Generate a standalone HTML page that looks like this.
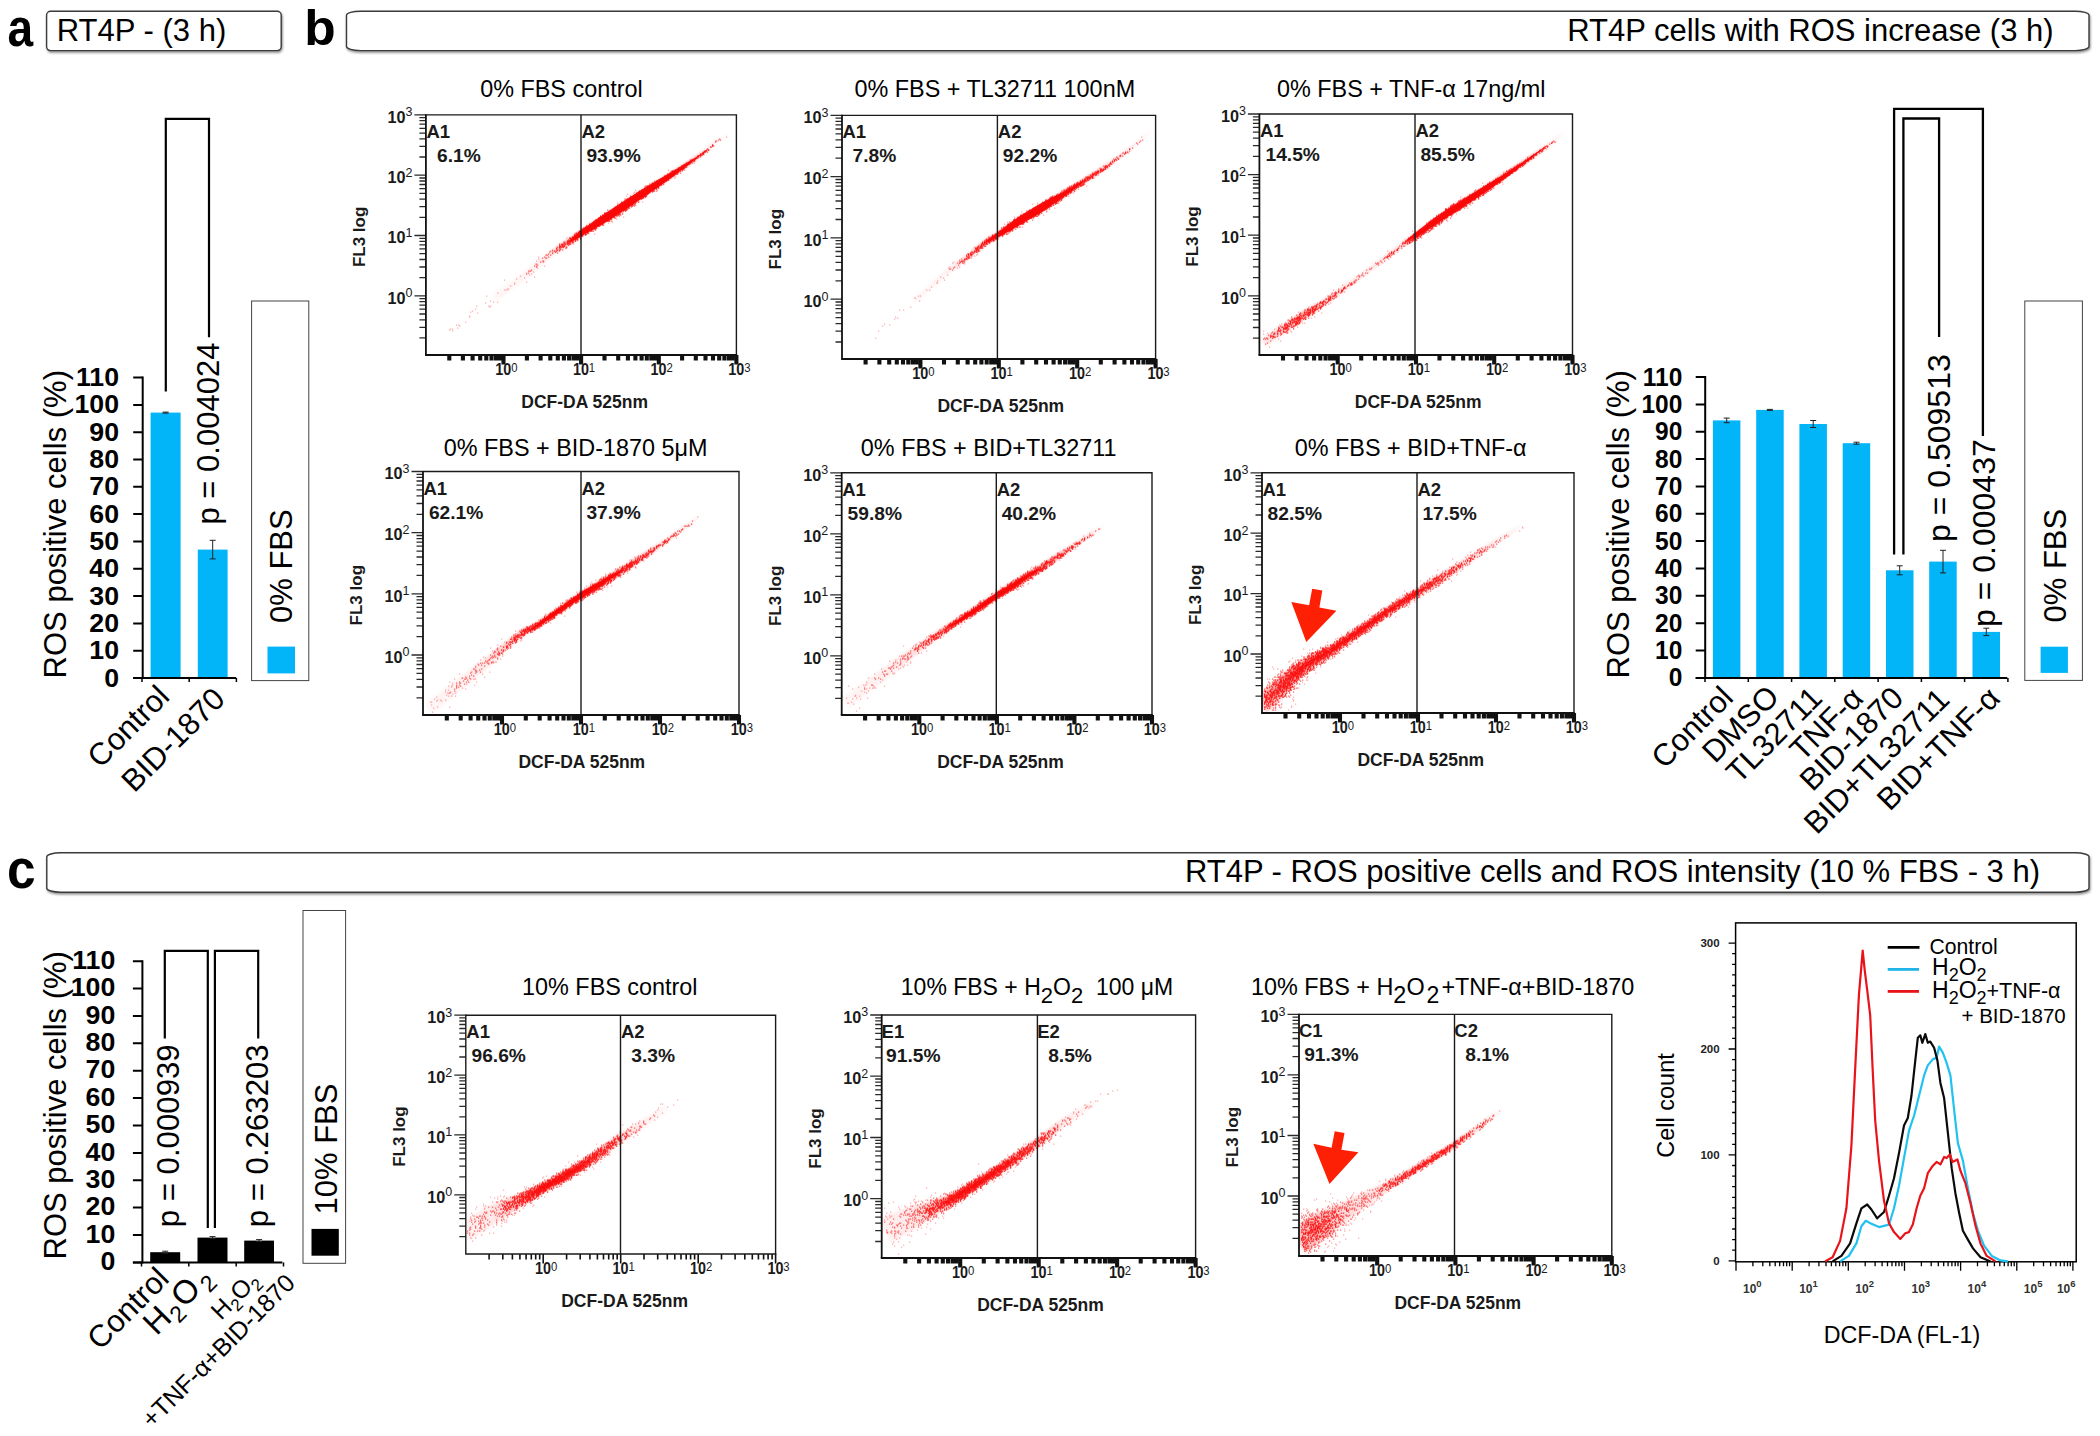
<!DOCTYPE html>
<html lang="en"><head><meta charset="utf-8"><title>RT4P ROS figure</title>
<style>html,body{margin:0;padding:0;background:#fff;overflow:hidden}svg{display:block}text{font-family:"Liberation Sans",sans-serif}</style>
</head><body>
<svg width="2100" height="1436" viewBox="0 0 2100 1436">
<defs><filter id="sh" x="-2%" y="-20%" width="104%" height="150%"><feDropShadow dx="0.8" dy="1.6" stdDeviation="0.9" flood-color="#000" flood-opacity=".45"/></filter><filter id="bl" x="-10%" y="-10%" width="120%" height="120%"><feGaussianBlur stdDeviation="1.5"/></filter></defs>
<rect width="2100" height="1436" fill="#fff"/>
<text transform="translate(7.6 45.7) scale(.94 1.11)" font-size="49" font-weight="bold">a</text>
<text transform="translate(304.3 45) scale(1.05 1.03)" font-size="49" font-weight="bold">b</text>
<text transform="translate(7 887.6) scale(1.05 1.115)" font-size="49" font-weight="bold">c</text>
<rect x="46.6" y="11.2" width="234.6" height="39.400000000000006" rx="4" ry="4" fill="#fff" stroke="#3a3a3a" stroke-width="1.4" filter="url(#sh)"/>
<text x="56.8" y="40.8" font-size="31">RT4P - (3 h)</text>
<rect x="346.5" y="11.2" width="1742.5" height="39.400000000000006" rx="14" ry="4" fill="#fff" stroke="#3a3a3a" stroke-width="1.4" filter="url(#sh)"/>
<text x="2053.6" y="40.6" font-size="31" text-anchor="end">RT4P cells with ROS increase (3 h)</text>
<rect x="46.8" y="852.8" width="2042.2" height="39.40000000000009" rx="14" ry="4" fill="#fff" stroke="#3a3a3a" stroke-width="1.4" filter="url(#sh)"/>
<text x="2040.0" y="882.3" font-size="31" text-anchor="end">RT4P - ROS positive cells and ROS intensity (10 % FBS - 3 h)</text>
<g id="panel-a">
<path d="M142.7 376.6V679.0" stroke="#000" stroke-width="2" fill="none"/>
<path d="M133.2 678.0H142.7M133.2 650.7H142.7M133.2 623.4H142.7M133.2 596.1H142.7M133.2 568.8H142.7M133.2 541.5H142.7M133.2 514.1H142.7M133.2 486.8H142.7M133.2 459.5H142.7M133.2 432.2H142.7M133.2 404.9H142.7M133.2 377.6H142.7" stroke="#000" stroke-width="2" fill="none"/>
<text transform="translate(119.0 686.5) scale(1.09 1.03)" font-size="24.5" font-weight="bold" text-anchor="end">0</text>
<text transform="translate(119.0 659.2) scale(1.09 1.03)" font-size="24.5" font-weight="bold" text-anchor="end">10</text>
<text transform="translate(119.0 631.9) scale(1.09 1.03)" font-size="24.5" font-weight="bold" text-anchor="end">20</text>
<text transform="translate(119.0 604.6) scale(1.09 1.03)" font-size="24.5" font-weight="bold" text-anchor="end">30</text>
<text transform="translate(119.0 577.3) scale(1.09 1.03)" font-size="24.5" font-weight="bold" text-anchor="end">40</text>
<text transform="translate(119.0 550.0) scale(1.09 1.03)" font-size="24.5" font-weight="bold" text-anchor="end">50</text>
<text transform="translate(119.0 522.6) scale(1.09 1.03)" font-size="24.5" font-weight="bold" text-anchor="end">60</text>
<text transform="translate(119.0 495.3) scale(1.09 1.03)" font-size="24.5" font-weight="bold" text-anchor="end">70</text>
<text transform="translate(119.0 468.0) scale(1.09 1.03)" font-size="24.5" font-weight="bold" text-anchor="end">80</text>
<text transform="translate(119.0 440.7) scale(1.09 1.03)" font-size="24.5" font-weight="bold" text-anchor="end">90</text>
<text transform="translate(119.0 413.4) scale(1.09 1.03)" font-size="24.5" font-weight="bold" text-anchor="end">100</text>
<text transform="translate(119.0 386.1) scale(1.09 1.03)" font-size="24.5" font-weight="bold" text-anchor="end">110</text>
<rect x="150.6" y="412.6" width="30.0" height="265.4" fill="#02b4f8"/>
<rect x="197.8" y="549.6" width="29.8" height="128.4" fill="#02b4f8"/>
<path d="M133.2 678.0H236.2" stroke="#000" stroke-width="2" fill="none"/>
<path d="M142.0 678.0v4M189.2 678.0v4M236.4 678.0v4" stroke="#000" stroke-width="1.5" fill="none"/>
<path d="M165.6 412.1V413.1M162.6 412.1h6M162.6 413.1h6M212.7 540.3V558.9M209.7 540.3h6M209.7 558.9h6" stroke="#222" stroke-width="1" fill="none"/>
<text transform="translate(66.0 678.4) rotate(-90)" font-size="31">ROS positive cells (%)</text>
<path d="M165.8 391.5V118.8H209V337.2" stroke="#000" stroke-width="2.2" fill="none"/>
<text transform="translate(219.0 524.5) rotate(-90)" font-size="31">p = 0.004024</text>
<rect x="251.6" y="301" width="57.2" height="379.6" fill="#fff" stroke="#444" stroke-width="1"/>
<rect x="267.5" y="646.6" width="27.5" height="26.8" fill="#02b4f8"/>
<text transform="translate(292.0 623.0) rotate(-90)" font-size="31">0% FBS</text>
<text transform="translate(171.0 698.5) rotate(-45)" font-size="31" text-anchor="end">Control</text>
<text transform="translate(226.8 700.8) rotate(-45)" font-size="31" text-anchor="end">BID-1870</text>
</g>
<g id="panel-b-bars">
<path d="M1705.2 376.0V678.9" stroke="#000" stroke-width="2" fill="none"/>
<path d="M1695.7 677.9H1705.2M1695.7 650.5H1705.2M1695.7 623.2H1705.2M1695.7 595.8H1705.2M1695.7 568.5H1705.2M1695.7 541.1H1705.2M1695.7 513.8H1705.2M1695.7 486.4H1705.2M1695.7 459.1H1705.2M1695.7 431.7H1705.2M1695.7 404.4H1705.2M1695.7 377.0H1705.2" stroke="#000" stroke-width="2" fill="none"/>
<text transform="translate(1682.3 686.4) scale(1.0 1.03)" font-size="24.5" font-weight="bold" text-anchor="end">0</text>
<text transform="translate(1682.3 659.0) scale(1.0 1.03)" font-size="24.5" font-weight="bold" text-anchor="end">10</text>
<text transform="translate(1682.3 631.7) scale(1.0 1.03)" font-size="24.5" font-weight="bold" text-anchor="end">20</text>
<text transform="translate(1682.3 604.3) scale(1.0 1.03)" font-size="24.5" font-weight="bold" text-anchor="end">30</text>
<text transform="translate(1682.3 577.0) scale(1.0 1.03)" font-size="24.5" font-weight="bold" text-anchor="end">40</text>
<text transform="translate(1682.3 549.6) scale(1.0 1.03)" font-size="24.5" font-weight="bold" text-anchor="end">50</text>
<text transform="translate(1682.3 522.3) scale(1.0 1.03)" font-size="24.5" font-weight="bold" text-anchor="end">60</text>
<text transform="translate(1682.3 494.9) scale(1.0 1.03)" font-size="24.5" font-weight="bold" text-anchor="end">70</text>
<text transform="translate(1682.3 467.6) scale(1.0 1.03)" font-size="24.5" font-weight="bold" text-anchor="end">80</text>
<text transform="translate(1682.3 440.2) scale(1.0 1.03)" font-size="24.5" font-weight="bold" text-anchor="end">90</text>
<text transform="translate(1682.3 412.9) scale(1.0 1.03)" font-size="24.5" font-weight="bold" text-anchor="end">100</text>
<text transform="translate(1682.3 385.5) scale(1.0 1.03)" font-size="24.5" font-weight="bold" text-anchor="end">110</text>
<rect x="1712.9" y="420.4" width="27.5" height="257.5" fill="#02b4f8"/>
<rect x="1756.2" y="409.9" width="27.5" height="268.0" fill="#02b4f8"/>
<rect x="1799.4" y="424.0" width="27.5" height="253.9" fill="#02b4f8"/>
<rect x="1842.7" y="443.2" width="27.5" height="234.7" fill="#02b4f8"/>
<rect x="1886.0" y="570.3" width="27.5" height="107.6" fill="#02b4f8"/>
<rect x="1929.2" y="561.6" width="27.5" height="116.3" fill="#02b4f8"/>
<rect x="1972.5" y="631.9" width="27.5" height="46.0" fill="#02b4f8"/>
<path d="M1695.7 677.9H2007.3" stroke="#000" stroke-width="2" fill="none"/>
<path d="M1705.0 677.9v4M1748.3 677.9v4M1791.6 677.9v4M1834.8 677.9v4M1878.1 677.9v4M1921.4 677.9v4M1964.6 677.9v4M2007.9 677.9v4" stroke="#000" stroke-width="1.5" fill="none"/>
<path d="M1726.7 418.1V422.7M1723.7 418.1h6M1723.7 422.7h6M1769.9 409.4V410.4M1766.9 409.4h6M1766.9 410.4h6M1813.2 420.5V427.5M1810.2 420.5h6M1810.2 427.5h6M1856.5 442.2V444.2M1853.5 442.2h6M1853.5 444.2h6M1899.7 565.8V574.8M1896.7 565.8h6M1896.7 574.8h6M1943.0 550.3V572.9M1940.0 550.3h6M1940.0 572.9h6M1986.3 628.2V635.6M1983.3 628.2h6M1983.3 635.6h6" stroke="#222" stroke-width="1" fill="none"/>
<text transform="translate(1629.3 678.5) rotate(-90)" font-size="31">ROS positive cells (%)</text>
<path d="M1894.1 554.5V108.9H1982.9V436" stroke="#000" stroke-width="2.3" fill="none"/>
<path d="M1903.4 554.5V118.5H1939.1V337" stroke="#000" stroke-width="2.3" fill="none"/>
<text transform="translate(1949.5 542.0) rotate(-90)" font-size="32">p = 0.509513</text>
<text transform="translate(1994.6 627.0) rotate(-90)" font-size="32">p = 0.000437</text>
<rect x="2024.8" y="301" width="57.6" height="379.4" fill="#fff" stroke="#444" stroke-width="1"/>
<rect x="2040.6" y="646.7" width="27.3" height="26.2" fill="#02b4f8"/>
<text transform="translate(2066.0 622.5) rotate(-90)" font-size="31">0% FBS</text>
<text transform="translate(1734.8 699.3) rotate(-45)" font-size="31" text-anchor="end">Control</text>
<text transform="translate(1780.7 698.5) rotate(-45)" font-size="31" text-anchor="end">DMSO</text>
<text transform="translate(1824.0 699.9) rotate(-45)" font-size="31" text-anchor="end">TL32711</text>
<text transform="translate(1865.0 700.0) rotate(-45)" font-size="31" text-anchor="end">TNF-α</text>
<text transform="translate(1905.2 699.9) rotate(-45)" font-size="31" text-anchor="end">BID-1870</text>
<text transform="translate(1951.1 701.2) rotate(-45)" font-size="31" text-anchor="end">BID+TL32711</text>
<text transform="translate(2001.8 700.0) rotate(-45)" font-size="31" text-anchor="end">BID+TNF-α</text>
</g>
<g id="panel-c-bars">
<path d="M142.4 960.2V1263.4" stroke="#000" stroke-width="2" fill="none"/>
<path d="M132.9 1262.4H142.4M132.9 1235.0H142.4M132.9 1207.6H142.4M132.9 1180.3H142.4M132.9 1152.9H142.4M132.9 1125.5H142.4M132.9 1098.1H142.4M132.9 1070.7H142.4M132.9 1043.3H142.4M132.9 1016.0H142.4M132.9 988.6H142.4M132.9 961.2H142.4" stroke="#000" stroke-width="2" fill="none"/>
<text transform="translate(115.3 1270.0) scale(1.09 1.03)" font-size="24.5" font-weight="bold" text-anchor="end">0</text>
<text transform="translate(115.3 1242.6) scale(1.09 1.03)" font-size="24.5" font-weight="bold" text-anchor="end">10</text>
<text transform="translate(115.3 1215.2) scale(1.09 1.03)" font-size="24.5" font-weight="bold" text-anchor="end">20</text>
<text transform="translate(115.3 1187.9) scale(1.09 1.03)" font-size="24.5" font-weight="bold" text-anchor="end">30</text>
<text transform="translate(115.3 1160.5) scale(1.09 1.03)" font-size="24.5" font-weight="bold" text-anchor="end">40</text>
<text transform="translate(115.3 1133.1) scale(1.09 1.03)" font-size="24.5" font-weight="bold" text-anchor="end">50</text>
<text transform="translate(115.3 1105.7) scale(1.09 1.03)" font-size="24.5" font-weight="bold" text-anchor="end">60</text>
<text transform="translate(115.3 1078.3) scale(1.09 1.03)" font-size="24.5" font-weight="bold" text-anchor="end">70</text>
<text transform="translate(115.3 1050.9) scale(1.09 1.03)" font-size="24.5" font-weight="bold" text-anchor="end">80</text>
<text transform="translate(115.3 1023.6) scale(1.09 1.03)" font-size="24.5" font-weight="bold" text-anchor="end">90</text>
<text transform="translate(115.3 996.2) scale(1.09 1.03)" font-size="24.5" font-weight="bold" text-anchor="end">100</text>
<text transform="translate(115.3 968.8) scale(1.09 1.03)" font-size="24.5" font-weight="bold" text-anchor="end">110</text>
<rect x="150.2" y="1252.2" width="30.0" height="10.2" fill="#000"/>
<rect x="197.5" y="1237.6" width="30.0" height="24.8" fill="#000"/>
<rect x="244.2" y="1240.6" width="29.8" height="21.8" fill="#000"/>
<path d="M132.9 1262.4H282.4" stroke="#000" stroke-width="2" fill="none"/>
<path d="M141.5 1262.4v4M188.8 1262.4v4M236.2 1262.4v4M283.5 1262.4v4" stroke="#000" stroke-width="1.5" fill="none"/>
<path d="M165.2 1251.2V1253.2M162.2 1251.2h6M162.2 1253.2h6M212.5 1236.6V1238.6M209.5 1236.6h6M209.5 1238.6h6M259.1 1239.6V1241.6M256.1 1239.6h6M256.1 1241.6h6" stroke="#222" stroke-width="1" fill="none"/>
<text transform="translate(66.0 1259.5) rotate(-90)" font-size="31">ROS positive cells (%)</text>
<path d="M164.8 1038.5V950.9H207.8V1228" stroke="#000" stroke-width="2.2" fill="none"/>
<path d="M214.9 1228V950.9H258.2V1038.5" stroke="#000" stroke-width="2.2" fill="none"/>
<text transform="translate(178.6 1227.3) rotate(-90)" font-size="31.2">p = 0.000939</text>
<text transform="translate(268.4 1227.3) rotate(-90)" font-size="31.2">p = 0.263203</text>
<rect x="303" y="910.5" width="42.6" height="352.8" fill="#fff" stroke="#444" stroke-width="1"/>
<rect x="311.5" y="1228.9" width="27.3" height="26.8" fill="#000"/>
<text transform="translate(337.2 1214.5) rotate(-90)" font-size="31">10% FBS</text>
<text transform="translate(170.7 1280.5) rotate(-45)" font-size="31" text-anchor="end">Control</text>
<text transform="translate(213.5 1279.5) rotate(-45)" font-size="33" text-anchor="end">H<tspan font-size="23" dy="7" dx="1">2</tspan><tspan dy="-7" dx="1.5">O</tspan><tspan font-size="23" dy="7" dx="3">2</tspan></text>
<text transform="translate(260.5 1281.6) rotate(-45)" font-size="24.5" text-anchor="end">H<tspan font-size="17" dy="5.5">2</tspan><tspan dy="-5.5">O</tspan><tspan font-size="17" dy="5.5">2</tspan></text>
<text transform="translate(296.6 1284.5) rotate(-45)" font-size="24.8" text-anchor="end">+TNF-α+BID-1870</text>
</g>
<g id="scatter">
<g id="plot1">
<g filter="url(#bl)" clip-path="url(#cp100)">
<clipPath id="cp100"><rect x="426.9" y="115.9" width="308.5" height="238.1"/></clipPath>
<polygon points="497.0,301.2 503.7,296.2 499.0,289.8 492.2,294.7" fill="#fa0808" opacity="0.03"/>
<polygon points="502.1,297.4 508.8,292.4 504.2,286.1 497.4,291.0" fill="#fa0808" opacity="0.03"/>
<polygon points="507.2,293.5 513.9,288.6 509.4,282.4 502.6,287.2" fill="#fa0808" opacity="0.03"/>
<polygon points="512.4,289.7 519.0,284.8 514.5,278.6 507.8,283.5" fill="#fa0808" opacity="0.03"/>
<polygon points="517.5,285.9 524.1,280.9 519.7,274.9 513.0,279.8" fill="#fa0808" opacity="0.03"/>
<polygon points="522.8,281.9 528.2,277.1 523.7,271.7 518.0,276.2" fill="#fa0808" opacity="0.04"/>
<polygon points="527.6,277.6 533.1,272.7 528.9,267.7 523.1,272.2" fill="#fa0808" opacity="0.05"/>
<polygon points="532.5,273.3 537.9,268.4 534.0,263.7 528.2,268.2" fill="#fa0808" opacity="0.06"/>
<polygon points="537.3,268.9 542.7,264.1 539.1,259.7 533.4,264.2" fill="#fa0808" opacity="0.07"/>
<polygon points="542.2,264.6 547.6,259.7 544.2,255.7 538.5,260.2" fill="#fa0808" opacity="0.08"/>
<polygon points="547.0,260.2 552.4,255.4 549.4,251.7 543.6,256.2" fill="#fa0808" opacity="0.10"/>
<polygon points="551.6,256.1 557.1,252.3 554.6,248.5 549.0,252.0" fill="#fa0808" opacity="0.15"/>
<polygon points="556.8,252.6 562.3,248.8 559.9,245.1 554.3,248.7" fill="#fa0808" opacity="0.25"/>
<polygon points="562.0,249.0 567.5,245.3 565.1,241.7 559.5,245.3" fill="#fa0808" opacity="0.36"/>
<polygon points="567.2,245.5 574.9,240.3 572.4,236.7 564.8,242.0" fill="#fa0808" opacity="0.61"/>
<polygon points="574.6,240.5 582.2,235.3 579.8,231.7 572.1,236.9" fill="#fa0808" opacity="0.75"/>
<polygon points="581.8,235.5 587.8,231.9 585.4,228.0 579.5,231.9" fill="#fa0808" opacity="0.75"/>
<polygon points="587.4,232.1 593.4,228.5 590.8,224.4 585.0,228.3" fill="#fa0808" opacity="0.75"/>
<polygon points="592.9,228.8 598.9,225.1 596.2,220.8 590.4,224.7" fill="#fa0808" opacity="0.75"/>
<polygon points="598.5,225.4 604.5,221.8 601.6,217.2 595.8,221.1" fill="#fa0808" opacity="0.75"/>
<polygon points="604.1,222.0 609.7,218.4 606.7,213.8 601.1,217.5" fill="#fa0808" opacity="0.75"/>
<polygon points="609.3,218.7 615.0,215.0 611.9,210.3 606.3,214.1" fill="#fa0808" opacity="0.75"/>
<polygon points="614.6,215.3 620.3,211.7 617.1,206.8 611.5,210.6" fill="#fa0808" opacity="0.75"/>
<polygon points="619.8,211.9 625.5,208.3 622.3,203.4 616.7,207.1" fill="#fa0808" opacity="0.75"/>
<polygon points="625.1,208.6 630.7,204.8 627.5,200.0 621.9,203.7" fill="#fa0808" opacity="0.75"/>
<polygon points="630.3,205.1 635.9,201.4 632.8,196.7 627.1,200.3" fill="#fa0808" opacity="0.75"/>
<polygon points="635.5,201.6 641.1,197.9 638.0,193.3 632.4,196.9" fill="#fa0808" opacity="0.75"/>
<polygon points="640.6,198.2 646.2,194.4 643.3,189.9 637.6,193.6" fill="#fa0808" opacity="0.75"/>
<polygon points="645.8,194.7 651.4,190.9 648.6,186.7 642.9,190.2" fill="#fa0808" opacity="0.75"/>
<polygon points="650.9,191.1 656.5,187.3 653.9,183.4 648.2,186.9" fill="#fa0808" opacity="0.75"/>
<polygon points="656.1,187.6 661.6,183.8 659.2,180.1 653.5,183.7" fill="#fa0808" opacity="0.75"/>
<polygon points="661.2,184.0 666.7,180.2 664.5,176.9 658.8,180.4" fill="#fa0808" opacity="0.75"/>
<polygon points="666.3,180.5 671.9,176.5 669.9,173.6 664.1,177.1" fill="#fa0808" opacity="0.75"/>
<polygon points="671.4,176.8 677.0,172.9 675.2,170.2 669.4,173.8" fill="#fa0808" opacity="0.75"/>
<polygon points="676.6,173.2 682.1,169.2 680.5,166.9 674.8,170.5" fill="#fa0808" opacity="0.75"/>
<polygon points="681.7,169.5 687.2,165.6 685.9,163.6 680.1,167.2" fill="#fa0808" opacity="0.75"/>
<polygon points="686.8,165.9 692.2,161.9 691.0,160.1 685.4,163.9" fill="#fa0808" opacity="0.75"/>
<polygon points="692.0,162.0 697.4,158.0 696.3,156.5 690.8,160.3" fill="#fa0808" opacity="0.66"/>
<polygon points="697.2,158.2 702.7,154.1 701.6,152.6 696.1,156.7" fill="#fa0808" opacity="0.48"/>
<polygon points="702.5,154.3 708.0,150.3 706.9,148.8 701.4,152.8" fill="#fa0808" opacity="0.31"/>
<polygon points="707.9,150.4 713.2,145.4 712.0,144.0 706.6,149.0" fill="#fa0808" opacity="0.19"/>
<polygon points="713.0,145.6 718.4,140.6 717.1,139.3 711.7,144.2" fill="#fa0808" opacity="0.13"/>
<polygon points="718.0,141.0 728.4,135.6 727.7,134.2 717.1,139.3" fill="#fa0808" opacity="0.06"/>
</g>
<path d="M489 307h1.25M634 192h1.25M700 157h1.25M458 325h1.25M726 137h1.25M612 222h1.25M642 202h1.25M674 178h1.25M594 234h1.25M469 316h1.25M668 170h1.25M450 329h1.25M514 283h1.25M526 282h1.25M472 311h1.25M544 266h1.25M608 223h1.25M538 259h1.25M524 278h1.25M545 255h1.25M580 239h1.25M534 277h1.25M657 190h1.25M504 290h1.25M675 177h1.25M459 326h1.25M526 273h1.25M626 196h1.25M490 306h1.25M488 306h1.25M497 293h1.25M486 296h1.25M490 301h1.25M504 280h1.25M559 244h1.25M538 257h1.25M452 331h1.25M485 303h1.25M508 289h1.25M536 261h1.25M633 193h1.25M684 170h1.25M616 219h1.25M529 275h1.25M457 328h1.25M475 309h1.25M520 276h1.25M514 284h1.25M456 325h1.25M531 274h1.25M623 217h1.25M635 190h1.25M452 329h1.25M682 171h1.25M627 194h1.25M465 322h1.25M694 163h1.25M510 286h1.25M506 290h1.25M617 203h1.25M476 306h1.25M493 302h1.25M535 264h1.25M533 272h1.25M516 279h1.25M470 312h1.25M624 199h1.25M469 317h1.25M477 313h1.25M497 293h1.25M573 244h1.25M449 330h1.25M612 222h1.25M507 289h1.25M497 302h1.25M537 268h1.25M566 238h1.25M586 225h1.25M675 177h1.25M575 233h1.25" stroke="#fa0808" stroke-width="1.25" fill="none" opacity="0.33"/>
<path d="M703 154h1.25M542 258h1.25M552 250h1.25M649 184h1.25M711 147h1.25M549 252h1.25M540 262h1.25M644 187h1.25M654 181h1.25M708 150h1.25M702 155h1.25M595 230h1.25M632 206h1.25M707 152h1.25M528 273h1.25M546 255h1.25M615 218h1.25M607 210h1.25M536 266h1.25M592 231h1.25M559 244h1.25M581 229h1.25M715 141h1.25M559 245h1.25M547 255h1.25M545 258h1.25M543 262h1.25M559 251h1.25M620 214h1.25M625 199h1.25M548 257h1.25M652 192h1.25M529 271h1.25M552 251h1.25M614 218h1.25M670 172h1.25M530 271h1.25M566 248h1.25M548 254h1.25M557 253h1.25M543 261h1.25M629 208h1.25M644 187h1.25M574 234h1.25M603 225h1.25M611 221h1.25M671 171h1.25M572 243h1.25M617 216h1.25M550 251h1.25M528 271h1.25M622 214h1.25M626 199h1.25M575 234h1.25M712 145h1.25M550 255h1.25M667 174h1.25M654 191h1.25M536 264h1.25M656 191h1.25M614 218h1.25M546 258h1.25M562 250h1.25M593 231h1.25M620 215h1.25M544 257h1.25M645 186h1.25M680 173h1.25M631 207h1.25M537 265h1.25M646 186h1.25M619 216h1.25M715 142h1.25M564 242h1.25M619 216h1.25M635 205h1.25M718 140h1.25M563 242h1.25M690 160h1.25M622 213h1.25M621 202h1.25M546 255h1.25M548 257h1.25M616 216h1.25M716 141h1.25M634 206h1.25M677 174h1.25M557 247h1.25M565 248h1.25M720 140h1.25M561 244h1.25M534 266h1.25M526 274h1.25M667 174h1.25M713 146h1.25M630 196h1.25M719 139h1.25M692 163h1.25M536 267h1.25M531 270h1.25M580 239h1.25M542 261h1.25" stroke="#fa0808" stroke-width="1.25" fill="none" opacity="0.58"/>
<path d="M590 227h1.25M654 183h1.25M565 244h1.25M585 232h1.25M645 195h1.25M647 190h1.25M614 208h1.25M643 192h1.25M592 223h1.25M652 188h1.25M627 199h1.25M659 180h1.25M642 194h1.25M625 203h1.25M637 197h1.25M603 220h1.25M591 230h1.25M633 199h1.25M666 177h1.25M569 244h1.25M609 214h1.25M629 203h1.25M645 194h1.25M631 201h1.25M578 235h1.25M601 218h1.25M619 209h1.25M634 199h1.25M608 218h1.25M635 196h1.25M627 206h1.25M611 212h1.25M567 244h1.25M575 238h1.25M647 191h1.25M663 179h1.25M653 190h1.25M575 238h1.25M609 220h1.25M624 207h1.25M600 221h1.25M583 233h1.25M645 189h1.25M595 224h1.25M597 223h1.25M643 191h1.25M585 231h1.25M600 221h1.25M648 190h1.25M605 215h1.25M604 222h1.25M621 204h1.25M638 202h1.25M609 215h1.25M628 201h1.25M581 231h1.25M600 218h1.25M635 202h1.25M659 181h1.25M605 221h1.25M625 204h1.25M691 161h1.25M636 196h1.25M612 217h1.25M641 195h1.25M685 164h1.25M649 186h1.25M675 173h1.25M604 221h1.25M665 181h1.25M650 190h1.25M612 216h1.25M573 242h1.25M628 205h1.25M594 228h1.25M653 189h1.25M632 201h1.25M641 195h1.25M657 186h1.25M671 175h1.25M613 213h1.25M589 230h1.25M629 202h1.25M632 204h1.25M632 197h1.25M615 213h1.25M582 233h1.25M615 210h1.25M615 213h1.25M646 191h1.25M662 181h1.25M582 233h1.25M635 199h1.25M704 151h1.25M585 229h1.25M590 229h1.25M600 221h1.25M564 246h1.25M641 199h1.25M632 204h1.25M658 180h1.25M656 185h1.25M638 196h1.25M661 181h1.25M644 190h1.25M620 206h1.25M618 210h1.25M580 234h1.25M611 213h1.25M626 207h1.25M608 219h1.25M670 174h1.25M574 237h1.25M598 220h1.25M660 184h1.25M681 166h1.25M578 234h1.25M581 232h1.25M592 225h1.25M700 156h1.25M617 212h1.25M582 233h1.25M680 169h1.25M628 204h1.25M589 230h1.25M672 174h1.25M612 216h1.25M648 193h1.25M617 209h1.25M620 211h1.25M615 208h1.25M642 194h1.25M636 200h1.25M624 201h1.25M599 223h1.25M678 168h1.25M594 227h1.25M628 207h1.25M647 187h1.25M597 222h1.25M589 226h1.25M682 166h1.25M695 159h1.25M629 205h1.25M679 169h1.25M586 226h1.25M603 223h1.25M685 167h1.25M595 224h1.25M615 209h1.25M583 231h1.25M586 228h1.25M602 219h1.25M589 229h1.25M575 239h1.25M618 209h1.25M593 222h1.25M586 229h1.25M697 158h1.25M600 222h1.25M626 208h1.25M597 223h1.25M655 186h1.25M660 181h1.25M672 176h1.25M664 180h1.25M679 169h1.25M610 215h1.25M660 184h1.25M650 190h1.25M623 209h1.25M560 247h1.25M682 168h1.25M609 215h1.25M682 168h1.25M562 245h1.25M615 215h1.25M627 204h1.25M642 194h1.25M608 220h1.25M606 218h1.25M562 244h1.25M647 194h1.25M661 183h1.25M571 241h1.25M592 225h1.25M636 200h1.25M648 188h1.25M643 191h1.25M607 220h1.25M653 186h1.25M613 209h1.25M588 231h1.25M698 156h1.25M638 194h1.25M624 201h1.25M624 210h1.25M574 235h1.25M577 239h1.25M657 186h1.25M682 169h1.25M589 229h1.25M615 213h1.25M618 209h1.25M585 231h1.25M573 237h1.25M605 218h1.25M639 196h1.25M609 214h1.25M658 182h1.25M603 219h1.25M622 208h1.25M656 188h1.25M700 155h1.25M618 207h1.25M675 174h1.25M607 218h1.25M632 201h1.25M590 228h1.25M652 187h1.25M606 220h1.25M591 229h1.25M581 234h1.25M671 174h1.25M706 151h1.25M621 207h1.25M656 187h1.25M608 219h1.25M619 210h1.25M650 187h1.25M579 236h1.25M621 209h1.25M646 193h1.25M615 213h1.25M556 251h1.25M635 198h1.25M685 167h1.25M638 197h1.25M624 205h1.25M642 191h1.25M668 179h1.25M596 226h1.25M649 190h1.25M615 213h1.25M671 175h1.25M642 190h1.25M674 174h1.25M650 188h1.25M620 206h1.25M632 198h1.25M635 198h1.25M591 231h1.25M636 193h1.25M639 192h1.25M576 238h1.25M602 218h1.25M655 187h1.25M631 201h1.25M606 216h1.25M641 196h1.25M641 197h1.25M615 209h1.25M710 147h1.25M670 176h1.25M673 174h1.25M605 214h1.25M661 180h1.25M576 237h1.25M626 209h1.25M688 163h1.25M659 183h1.25M625 205h1.25M677 171h1.25M620 206h1.25M567 241h1.25M662 181h1.25M655 187h1.25M636 196h1.25M621 210h1.25M601 220h1.25M635 198h1.25M641 195h1.25M623 205h1.25M636 201h1.25M638 195h1.25M656 185h1.25M586 232h1.25M658 186h1.25M611 213h1.25M658 185h1.25M679 170h1.25M580 234h1.25M673 175h1.25M629 203h1.25M615 212h1.25M669 176h1.25M555 252h1.25M625 204h1.25M559 246h1.25M685 167h1.25M643 193h1.25M634 202h1.25M610 219h1.25M598 219h1.25M583 233h1.25M595 226h1.25M598 218h1.25M583 230h1.25M642 193h1.25M670 175h1.25M653 191h1.25M626 201h1.25M661 185h1.25M584 229h1.25M643 193h1.25M623 210h1.25M664 182h1.25M630 203h1.25M584 233h1.25M629 200h1.25M712 146h1.25M604 219h1.25M635 201h1.25M639 198h1.25M664 179h1.25M632 203h1.25M642 194h1.25M653 186h1.25M630 199h1.25M608 216h1.25M632 205h1.25M605 219h1.25M604 214h1.25M638 194h1.25M638 198h1.25M671 175h1.25M665 181h1.25M629 205h1.25M598 221h1.25M620 207h1.25M592 229h1.25M631 201h1.25M644 190h1.25M595 226h1.25M672 173h1.25M624 210h1.25M638 192h1.25M682 168h1.25M680 169h1.25M657 185h1.25M683 165h1.25M624 203h1.25M617 212h1.25M605 217h1.25M629 200h1.25M681 168h1.25M588 228h1.25M625 207h1.25M583 232h1.25M591 227h1.25M668 177h1.25M622 209h1.25M582 232h1.25M641 193h1.25M611 215h1.25M645 196h1.25M693 161h1.25M637 197h1.25M631 200h1.25M625 203h1.25M585 234h1.25M584 230h1.25M605 221h1.25M603 221h1.25M629 202h1.25M618 211h1.25M590 225h1.25M581 232h1.25M639 197h1.25M618 211h1.25M606 213h1.25M685 166h1.25M599 220h1.25M603 219h1.25M697 156h1.25M578 237h1.25M620 208h1.25M600 216h1.25M671 174h1.25M614 215h1.25M637 200h1.25M680 169h1.25M598 224h1.25M605 217h1.25M645 193h1.25M652 190h1.25M638 197h1.25M593 226h1.25M597 220h1.25M590 228h1.25M655 188h1.25M585 232h1.25M619 212h1.25M644 194h1.25M630 203h1.25M653 186h1.25M564 243h1.25M671 177h1.25M657 185h1.25M608 215h1.25M604 220h1.25M632 201h1.25M587 230h1.25M632 202h1.25M671 175h1.25M620 212h1.25M634 199h1.25M658 187h1.25M651 190h1.25M658 186h1.25M636 197h1.25M633 201h1.25M621 211h1.25M634 201h1.25M638 195h1.25M615 213h1.25M646 191h1.25M604 220h1.25M612 215h1.25M586 229h1.25M635 199h1.25M642 192h1.25M579 234h1.25M685 166h1.25M650 188h1.25M641 193h1.25M600 222h1.25M561 247h1.25M601 219h1.25M649 190h1.25M637 197h1.25M703 153h1.25M595 227h1.25M644 192h1.25M650 190h1.25M604 216h1.25M658 184h1.25M595 224h1.25M624 204h1.25M688 164h1.25M673 176h1.25M661 184h1.25M656 182h1.25M664 178h1.25M599 223h1.25M630 197h1.25M644 193h1.25M672 175h1.25M582 230h1.25M622 208h1.25M582 231h1.25M644 190h1.25M634 204h1.25M642 194h1.25M641 196h1.25M573 237h1.25M587 227h1.25M576 233h1.25M588 231h1.25M645 192h1.25M674 175h1.25M651 190h1.25M639 195h1.25M602 215h1.25M662 179h1.25M638 198h1.25M689 164h1.25M639 194h1.25M689 163h1.25M648 190h1.25M614 216h1.25M611 216h1.25M600 217h1.25M627 209h1.25M601 222h1.25M617 212h1.25M586 232h1.25M636 195h1.25M579 235h1.25M601 219h1.25M577 234h1.25M629 203h1.25M688 163h1.25M614 212h1.25M666 177h1.25M583 233h1.25M642 194h1.25M630 200h1.25M616 211h1.25M614 216h1.25M612 212h1.25M623 208h1.25M572 241h1.25M594 221h1.25M601 223h1.25M593 224h1.25M571 241h1.25M621 207h1.25M634 200h1.25M600 222h1.25M674 174h1.25M618 215h1.25M604 213h1.25M625 211h1.25M599 222h1.25M646 189h1.25M643 191h1.25M649 189h1.25M577 235h1.25M620 207h1.25M570 241h1.25M575 240h1.25M634 200h1.25M672 172h1.25M641 191h1.25M622 206h1.25M584 230h1.25M620 207h1.25M621 208h1.25M669 175h1.25M665 180h1.25M627 203h1.25M582 231h1.25M610 218h1.25M608 216h1.25M626 201h1.25M608 212h1.25M629 203h1.25M610 212h1.25M607 218h1.25M643 193h1.25M560 249h1.25M604 217h1.25M653 184h1.25M623 205h1.25M623 207h1.25M611 218h1.25M621 203h1.25M588 228h1.25M630 203h1.25M679 168h1.25M618 211h1.25M615 213h1.25M701 155h1.25M669 176h1.25M604 217h1.25M657 183h1.25M560 246h1.25M621 204h1.25M606 218h1.25M641 197h1.25M620 204h1.25M594 229h1.25M667 177h1.25M673 175h1.25M646 193h1.25M607 217h1.25M672 171h1.25M601 219h1.25M574 238h1.25M660 183h1.25M657 187h1.25M585 230h1.25M653 188h1.25M645 194h1.25M650 189h1.25M603 216h1.25M598 221h1.25M609 217h1.25M643 192h1.25M656 189h1.25M576 236h1.25M601 223h1.25M621 210h1.25M646 189h1.25M568 240h1.25M618 210h1.25M573 238h1.25M606 214h1.25M640 196h1.25M655 184h1.25M583 232h1.25M636 198h1.25M637 197h1.25M635 198h1.25M683 168h1.25M626 208h1.25M646 196h1.25M667 177h1.25M607 219h1.25M570 239h1.25M674 173h1.25M613 209h1.25M614 216h1.25M656 185h1.25M631 204h1.25M625 203h1.25M584 232h1.25M575 236h1.25M563 244h1.25M573 240h1.25M619 206h1.25M592 225h1.25M587 232h1.25M639 191h1.25M669 174h1.25M628 199h1.25M675 173h1.25M579 237h1.25M629 202h1.25M603 222h1.25M582 235h1.25M600 221h1.25M619 208h1.25M628 208h1.25M574 239h1.25M592 225h1.25M573 239h1.25M649 188h1.25M582 235h1.25M683 166h1.25M615 209h1.25M603 219h1.25M611 217h1.25M619 209h1.25M582 233h1.25M683 165h1.25M600 222h1.25M654 188h1.25M656 188h1.25M581 231h1.25M643 198h1.25M616 212h1.25M607 213h1.25M673 171h1.25M599 226h1.25M603 222h1.25M580 235h1.25M583 232h1.25M606 218h1.25M582 234h1.25M655 183h1.25M626 207h1.25M637 194h1.25M645 192h1.25M627 199h1.25M592 224h1.25M674 173h1.25M585 228h1.25M656 186h1.25M621 211h1.25M593 227h1.25M592 229h1.25M627 203h1.25M610 217h1.25M612 213h1.25M602 215h1.25M579 232h1.25M665 176h1.25M668 175h1.25M645 194h1.25M625 209h1.25M570 238h1.25M606 218h1.25M678 170h1.25M670 175h1.25M631 203h1.25M590 231h1.25M600 223h1.25M655 186h1.25M616 210h1.25M660 180h1.25M643 194h1.25M609 217h1.25M594 225h1.25M661 181h1.25M682 168h1.25M634 200h1.25M661 182h1.25M655 184h1.25M656 185h1.25M617 213h1.25M634 196h1.25M660 180h1.25M683 168h1.25M621 207h1.25M640 193h1.25M630 197h1.25M625 209h1.25M570 240h1.25M583 231h1.25M649 187h1.25M581 233h1.25M618 211h1.25M581 231h1.25M597 222h1.25M652 187h1.25M581 231h1.25M671 174h1.25M645 194h1.25M667 175h1.25M653 186h1.25M590 225h1.25M619 205h1.25M602 219h1.25M631 199h1.25M646 194h1.25M626 206h1.25M600 223h1.25M603 223h1.25M647 189h1.25M666 180h1.25M615 214h1.25M677 173h1.25M601 223h1.25M644 194h1.25M585 231h1.25M606 217h1.25M629 203h1.25M610 216h1.25M639 193h1.25M628 202h1.25M613 212h1.25M691 160h1.25M627 201h1.25M582 231h1.25M633 196h1.25M639 195h1.25M670 176h1.25M705 152h1.25M637 196h1.25M643 193h1.25M608 217h1.25M600 217h1.25M635 200h1.25M624 205h1.25M571 239h1.25M604 219h1.25M596 220h1.25M631 204h1.25M654 189h1.25M644 195h1.25M606 215h1.25M617 209h1.25M616 209h1.25M652 183h1.25M621 207h1.25M648 189h1.25M617 207h1.25M577 237h1.25M617 213h1.25M619 213h1.25M645 192h1.25M598 223h1.25M617 211h1.25M636 200h1.25M678 172h1.25M648 186h1.25M556 248h1.25M576 237h1.25M619 207h1.25M594 226h1.25M654 185h1.25M632 200h1.25M651 187h1.25M649 187h1.25M587 228h1.25M633 201h1.25M625 205h1.25M666 177h1.25M617 212h1.25M648 189h1.25M622 206h1.25M621 209h1.25M638 199h1.25M659 185h1.25M580 234h1.25M648 188h1.25M661 180h1.25M572 238h1.25M641 192h1.25M651 184h1.25M650 189h1.25M611 212h1.25M607 217h1.25M676 174h1.25M633 198h1.25M629 203h1.25M654 184h1.25M572 238h1.25M665 179h1.25M618 211h1.25M605 219h1.25M594 225h1.25M630 200h1.25M580 233h1.25M627 206h1.25M625 206h1.25M587 230h1.25M573 238h1.25M593 222h1.25M621 208h1.25M576 237h1.25M604 221h1.25M706 150h1.25M649 189h1.25M575 238h1.25M620 209h1.25M654 186h1.25M677 170h1.25M611 219h1.25M559 248h1.25M627 206h1.25M609 215h1.25M564 245h1.25M633 199h1.25M694 161h1.25M581 232h1.25M679 170h1.25M672 174h1.25M602 222h1.25M635 198h1.25M648 190h1.25M689 162h1.25M686 163h1.25M568 240h1.25M664 180h1.25M588 230h1.25M660 179h1.25M637 199h1.25M662 181h1.25M635 202h1.25M677 172h1.25M651 188h1.25M636 195h1.25M629 198h1.25M602 219h1.25M662 182h1.25M663 181h1.25M580 236h1.25M615 210h1.25M575 239h1.25M612 215h1.25M584 230h1.25M625 203h1.25M627 203h1.25M641 190h1.25M667 175h1.25M569 243h1.25M627 204h1.25M629 206h1.25M648 188h1.25M644 193h1.25M586 229h1.25M593 225h1.25M641 191h1.25M582 229h1.25M628 202h1.25M661 179h1.25M614 210h1.25M583 232h1.25M635 201h1.25M645 194h1.25M567 242h1.25M598 224h1.25M625 208h1.25M658 184h1.25M673 171h1.25M577 237h1.25M582 233h1.25M580 233h1.25M599 222h1.25M618 207h1.25M617 215h1.25M689 162h1.25M608 218h1.25M598 220h1.25M606 215h1.25M679 168h1.25M681 169h1.25M594 228h1.25M632 200h1.25M594 228h1.25M584 231h1.25M640 198h1.25M610 213h1.25M626 206h1.25M663 178h1.25M668 177h1.25M625 204h1.25M652 185h1.25M650 189h1.25M660 185h1.25M633 200h1.25M601 223h1.25M666 178h1.25M618 214h1.25M607 218h1.25M576 239h1.25M617 207h1.25M639 194h1.25M602 225h1.25M650 186h1.25M616 211h1.25M702 153h1.25M645 191h1.25M654 186h1.25M700 155h1.25M614 216h1.25M592 224h1.25M582 236h1.25M580 236h1.25M613 217h1.25M591 227h1.25M658 184h1.25M672 174h1.25M604 220h1.25M581 233h1.25M595 223h1.25M619 213h1.25M663 179h1.25M596 228h1.25M627 207h1.25M668 177h1.25M643 193h1.25M589 229h1.25M593 224h1.25M580 238h1.25M570 241h1.25M603 217h1.25M634 195h1.25M583 234h1.25M592 229h1.25M597 221h1.25M652 189h1.25M577 238h1.25M600 220h1.25M626 202h1.25M641 196h1.25M637 198h1.25M645 190h1.25M592 224h1.25M621 204h1.25M673 172h1.25M586 229h1.25M652 187h1.25M573 237h1.25M627 203h1.25M675 174h1.25M651 185h1.25M626 202h1.25M582 233h1.25M566 247h1.25M634 199h1.25M614 213h1.25M615 210h1.25M603 218h1.25M657 184h1.25M681 169h1.25M601 219h1.25M593 227h1.25M647 190h1.25M648 193h1.25M622 207h1.25M625 210h1.25M610 213h1.25M641 194h1.25M642 195h1.25M649 191h1.25M658 186h1.25M605 221h1.25M562 246h1.25M632 201h1.25M673 176h1.25M674 172h1.25M587 228h1.25M655 184h1.25M638 193h1.25M592 229h1.25M686 167h1.25M669 176h1.25M559 247h1.25M595 224h1.25M608 216h1.25M595 226h1.25M583 233h1.25M622 207h1.25M691 162h1.25M676 172h1.25M588 230h1.25M627 207h1.25M601 218h1.25M624 205h1.25M646 190h1.25M692 160h1.25M559 248h1.25M573 237h1.25M634 201h1.25M575 237h1.25M607 218h1.25M589 229h1.25M556 249h1.25M643 198h1.25M679 170h1.25M684 165h1.25M652 187h1.25M634 202h1.25M624 204h1.25M601 222h1.25M635 200h1.25M636 197h1.25M633 200h1.25M673 173h1.25M612 214h1.25M634 199h1.25M662 182h1.25M630 203h1.25M627 206h1.25M642 191h1.25M618 208h1.25M582 236h1.25M593 224h1.25M606 216h1.25M703 154h1.25M580 236h1.25M661 182h1.25M667 180h1.25M628 200h1.25M647 191h1.25M601 218h1.25M621 206h1.25M612 215h1.25M673 173h1.25M580 231h1.25M661 183h1.25M597 220h1.25M621 209h1.25M624 202h1.25M643 194h1.25M609 215h1.25M633 196h1.25M629 199h1.25M662 178h1.25M608 218h1.25M604 219h1.25M589 228h1.25M619 207h1.25M619 206h1.25M693 161h1.25M585 230h1.25M575 240h1.25M623 211h1.25M587 233h1.25M581 235h1.25M586 232h1.25M576 236h1.25M683 166h1.25M698 157h1.25M651 188h1.25M686 163h1.25M666 177h1.25M576 233h1.25M653 187h1.25M601 220h1.25M609 221h1.25M667 179h1.25M568 243h1.25M641 196h1.25M601 219h1.25M669 174h1.25M570 242h1.25M627 202h1.25M627 207h1.25M640 192h1.25M577 236h1.25M603 218h1.25M584 232h1.25M619 212h1.25M610 217h1.25M598 225h1.25M591 225h1.25M655 187h1.25M613 209h1.25M590 229h1.25M606 221h1.25M604 222h1.25M615 211h1.25M670 176h1.25M636 196h1.25M615 210h1.25M611 216h1.25M597 226h1.25M632 205h1.25M685 165h1.25M626 206h1.25M689 162h1.25M648 189h1.25M599 221h1.25M683 169h1.25M650 188h1.25M639 196h1.25M625 205h1.25M643 194h1.25M672 172h1.25M613 210h1.25M629 203h1.25M626 203h1.25M677 172h1.25M647 192h1.25M643 194h1.25M657 184h1.25M696 158h1.25M632 199h1.25M684 165h1.25M668 180h1.25M672 175h1.25M625 203h1.25M626 202h1.25M604 220h1.25M629 204h1.25M579 237h1.25M587 233h1.25M577 240h1.25M624 203h1.25M653 187h1.25M594 226h1.25M650 191h1.25M609 216h1.25M588 230h1.25M614 215h1.25M655 187h1.25M668 175h1.25M660 180h1.25M586 230h1.25M643 197h1.25M577 237h1.25M552 253h1.25M590 227h1.25M598 224h1.25M644 190h1.25M595 223h1.25M638 197h1.25M635 195h1.25M588 230h1.25M605 221h1.25M634 199h1.25M687 165h1.25M664 180h1.25M581 236h1.25M677 170h1.25M647 188h1.25M619 210h1.25M641 196h1.25M593 222h1.25M596 221h1.25M625 204h1.25M606 216h1.25M674 173h1.25M583 233h1.25M577 236h1.25M587 227h1.25M630 197h1.25M630 204h1.25M594 227h1.25M644 193h1.25M670 175h1.25M623 205h1.25M653 189h1.25M587 232h1.25M611 216h1.25M639 194h1.25M604 217h1.25M646 193h1.25M643 195h1.25M607 218h1.25M570 242h1.25M666 177h1.25M667 177h1.25M622 208h1.25M627 206h1.25M597 225h1.25M668 180h1.25M568 245h1.25M582 236h1.25M624 204h1.25M698 156h1.25M638 195h1.25M672 174h1.25M648 193h1.25M676 171h1.25M666 181h1.25M665 180h1.25M669 178h1.25M582 234h1.25M659 184h1.25M605 220h1.25M622 207h1.25M572 237h1.25M576 238h1.25M636 196h1.25M599 225h1.25M657 181h1.25M631 202h1.25M591 225h1.25M631 206h1.25M603 223h1.25M657 187h1.25M624 210h1.25M613 214h1.25M667 180h1.25M642 195h1.25M630 202h1.25M634 195h1.25M630 205h1.25M638 199h1.25M583 232h1.25M631 202h1.25M562 245h1.25M604 216h1.25M627 207h1.25M647 190h1.25M688 164h1.25M654 186h1.25M583 230h1.25M572 237h1.25M600 225h1.25M612 215h1.25M628 202h1.25M609 211h1.25M618 211h1.25M612 216h1.25M651 188h1.25M573 237h1.25M620 209h1.25M603 223h1.25M616 213h1.25M629 198h1.25M640 193h1.25M615 211h1.25M626 205h1.25M619 206h1.25M600 221h1.25M641 192h1.25M661 179h1.25M572 239h1.25M570 240h1.25M702 154h1.25M643 193h1.25M628 203h1.25M573 242h1.25M703 152h1.25M685 165h1.25M683 165h1.25M680 170h1.25M616 208h1.25M624 203h1.25M617 212h1.25M650 190h1.25M616 211h1.25M628 201h1.25M668 175h1.25M595 223h1.25M655 188h1.25M582 233h1.25M590 228h1.25M683 168h1.25M577 237h1.25M625 208h1.25M633 200h1.25M645 190h1.25M642 196h1.25M645 189h1.25M632 201h1.25M605 217h1.25M642 195h1.25M570 244h1.25M623 209h1.25M562 247h1.25M601 219h1.25M635 202h1.25M620 207h1.25M588 233h1.25M627 206h1.25M584 231h1.25M572 242h1.25M592 226h1.25M694 160h1.25M671 175h1.25M573 238h1.25M595 224h1.25M603 221h1.25M630 202h1.25M613 215h1.25M617 209h1.25M574 236h1.25M574 236h1.25M616 212h1.25M617 210h1.25M613 214h1.25M581 232h1.25M701 155h1.25M653 190h1.25M659 183h1.25M596 224h1.25M686 167h1.25M643 191h1.25M600 220h1.25M563 246h1.25M605 216h1.25M624 206h1.25M602 221h1.25M578 232h1.25M659 184h1.25M627 206h1.25M633 205h1.25M607 216h1.25M670 178h1.25M633 201h1.25M629 203h1.25M652 191h1.25M626 210h1.25M606 218h1.25M639 195h1.25M577 236h1.25M560 247h1.25M669 177h1.25M623 206h1.25M660 182h1.25M614 212h1.25M656 182h1.25M648 190h1.25M576 238h1.25M628 201h1.25M650 190h1.25M635 198h1.25M608 214h1.25M638 197h1.25M657 183h1.25M627 206h1.25M647 188h1.25M675 173h1.25M685 166h1.25M686 165h1.25M665 180h1.25M665 180h1.25M662 178h1.25M578 232h1.25M634 201h1.25M655 186h1.25M672 175h1.25M663 179h1.25M627 204h1.25M620 208h1.25M608 215h1.25M642 192h1.25M636 200h1.25M645 193h1.25M575 239h1.25M595 224h1.25M572 240h1.25M665 178h1.25M593 225h1.25M569 238h1.25M669 178h1.25M660 182h1.25M614 214h1.25M690 163h1.25M677 172h1.25M612 215h1.25M676 174h1.25M593 225h1.25M644 196h1.25M579 236h1.25M661 181h1.25M606 219h1.25M591 227h1.25M599 218h1.25M672 176h1.25M596 223h1.25M677 170h1.25M606 220h1.25M627 204h1.25M655 185h1.25M635 198h1.25M617 208h1.25M588 229h1.25M693 161h1.25M646 189h1.25M662 183h1.25M702 154h1.25M610 217h1.25M712 145h1.25M589 225h1.25M629 201h1.25M678 170h1.25M646 187h1.25M618 208h1.25M671 175h1.25M656 184h1.25M621 206h1.25M656 187h1.25M628 203h1.25M615 212h1.25M622 203h1.25M683 167h1.25M706 151h1.25M585 227h1.25M594 228h1.25M607 214h1.25M643 190h1.25M601 218h1.25M656 188h1.25M610 214h1.25M631 199h1.25M638 196h1.25M559 250h1.25M635 202h1.25M618 207h1.25M614 210h1.25M702 153h1.25M665 178h1.25M657 185h1.25M607 221h1.25M625 204h1.25M676 174h1.25M577 238h1.25M667 178h1.25M639 192h1.25M652 189h1.25M621 206h1.25M653 187h1.25M665 179h1.25M656 188h1.25M614 211h1.25M624 202h1.25M607 215h1.25M612 216h1.25M601 220h1.25M646 189h1.25M589 224h1.25M692 160h1.25M575 238h1.25M637 195h1.25M669 175h1.25M570 242h1.25M638 197h1.25M629 202h1.25M611 211h1.25M678 171h1.25M626 202h1.25M608 221h1.25M664 179h1.25M630 202h1.25M587 230h1.25M625 207h1.25M570 242h1.25M604 217h1.25M672 174h1.25M652 189h1.25M586 231h1.25M656 182h1.25M577 234h1.25M646 193h1.25M648 188h1.25M671 174h1.25M618 209h1.25M645 195h1.25M587 229h1.25M625 203h1.25M635 199h1.25M642 191h1.25M614 214h1.25M604 218h1.25M618 210h1.25M626 206h1.25M622 204h1.25M634 200h1.25M665 177h1.25M625 205h1.25M643 193h1.25M599 222h1.25M644 195h1.25M600 217h1.25M648 191h1.25M610 215h1.25M627 203h1.25M639 197h1.25M634 198h1.25M623 208h1.25M647 186h1.25M632 201h1.25M649 190h1.25M680 169h1.25M624 208h1.25M594 223h1.25M698 157h1.25M661 180h1.25M606 217h1.25M644 192h1.25M579 236h1.25M663 184h1.25M682 168h1.25M656 186h1.25M654 187h1.25M690 161h1.25M606 221h1.25M584 231h1.25M640 194h1.25M668 178h1.25M625 203h1.25M600 219h1.25M635 200h1.25M617 210h1.25M672 174h1.25M563 247h1.25M598 219h1.25M612 210h1.25M660 183h1.25M661 182h1.25M600 220h1.25M645 191h1.25M595 228h1.25M579 237h1.25M662 181h1.25M556 251h1.25M676 171h1.25M608 215h1.25M640 194h1.25M627 199h1.25M672 173h1.25M620 204h1.25M641 193h1.25M639 195h1.25M632 205h1.25M670 177h1.25M608 215h1.25M575 241h1.25M704 152h1.25M587 233h1.25M629 204h1.25M590 226h1.25M623 208h1.25M626 207h1.25M595 226h1.25M595 222h1.25M680 170h1.25M584 231h1.25M595 227h1.25M674 174h1.25M635 195h1.25M597 225h1.25M656 181h1.25M628 200h1.25M673 176h1.25M682 168h1.25M617 210h1.25M610 219h1.25M580 236h1.25M592 229h1.25M581 235h1.25M554 251h1.25M670 175h1.25M594 227h1.25M614 210h1.25M639 194h1.25M637 200h1.25M648 192h1.25M626 205h1.25M637 199h1.25M666 181h1.25M632 199h1.25M595 225h1.25M591 224h1.25M637 194h1.25M665 180h1.25M576 235h1.25M670 177h1.25M605 217h1.25M629 206h1.25M600 220h1.25M606 218h1.25M680 171h1.25M581 231h1.25M603 217h1.25M638 199h1.25M705 151h1.25M645 194h1.25M638 195h1.25M624 204h1.25M576 239h1.25M588 231h1.25M675 170h1.25M606 215h1.25M593 229h1.25M652 188h1.25M584 233h1.25M623 208h1.25M685 165h1.25M667 179h1.25M650 191h1.25M600 225h1.25M606 219h1.25M600 224h1.25M595 223h1.25M643 192h1.25M576 238h1.25M660 182h1.25M624 207h1.25M695 159h1.25M628 201h1.25M638 198h1.25M643 195h1.25M612 213h1.25M626 208h1.25M678 171h1.25M621 207h1.25M635 203h1.25M666 180h1.25M621 209h1.25M663 182h1.25M601 218h1.25M624 202h1.25M625 207h1.25M589 226h1.25M641 194h1.25M595 220h1.25M586 229h1.25M645 196h1.25M656 186h1.25M673 175h1.25M616 210h1.25M624 207h1.25M585 234h1.25M622 205h1.25M596 223h1.25M678 170h1.25M619 208h1.25M643 196h1.25M627 200h1.25M606 220h1.25M609 217h1.25M633 196h1.25M606 220h1.25M602 222h1.25M665 181h1.25M589 226h1.25M581 235h1.25M682 168h1.25M576 235h1.25M629 198h1.25M606 216h1.25M584 231h1.25M664 179h1.25M610 215h1.25M607 215h1.25M673 175h1.25M575 236h1.25M671 173h1.25M617 211h1.25M619 211h1.25M635 199h1.25M664 182h1.25M563 246h1.25M652 185h1.25M588 227h1.25M642 198h1.25M602 219h1.25M595 226h1.25M575 239h1.25M707 149h1.25M618 210h1.25M591 228h1.25M663 180h1.25M633 199h1.25M670 176h1.25M587 230h1.25M664 180h1.25M612 210h1.25M607 217h1.25M666 179h1.25M708 150h1.25M661 181h1.25M656 181h1.25M682 170h1.25M581 232h1.25M568 240h1.25M606 218h1.25M626 200h1.25M646 191h1.25M645 193h1.25M619 211h1.25M599 220h1.25M674 174h1.25M582 231h1.25M663 181h1.25M584 233h1.25M620 204h1.25M567 243h1.25M596 224h1.25M642 196h1.25M593 223h1.25M681 169h1.25M635 201h1.25M629 201h1.25M606 219h1.25M601 224h1.25M617 205h1.25M603 221h1.25M667 178h1.25M611 215h1.25M619 211h1.25M560 249h1.25M634 198h1.25M578 236h1.25M697 156h1.25M589 228h1.25M590 225h1.25M653 188h1.25M561 245h1.25M642 190h1.25M591 226h1.25M625 206h1.25M679 169h1.25M573 238h1.25M624 206h1.25M617 210h1.25M618 208h1.25M579 235h1.25M583 228h1.25M583 232h1.25M693 161h1.25M607 216h1.25M599 218h1.25M620 208h1.25M682 168h1.25M579 234h1.25M631 198h1.25M651 186h1.25M658 188h1.25M621 208h1.25M663 182h1.25M601 219h1.25M614 217h1.25M602 224h1.25M586 231h1.25M613 217h1.25M691 161h1.25M677 172h1.25M640 196h1.25M635 198h1.25M651 188h1.25M590 229h1.25M577 237h1.25M575 241h1.25M640 193h1.25M655 188h1.25M653 188h1.25M586 234h1.25M596 220h1.25M578 232h1.25M598 226h1.25M579 231h1.25M635 197h1.25M664 176h1.25M585 234h1.25M608 217h1.25M557 250h1.25M602 220h1.25M664 180h1.25M619 214h1.25M650 190h1.25M590 229h1.25M616 210h1.25M637 200h1.25M605 216h1.25M641 195h1.25M573 237h1.25M599 225h1.25M613 213h1.25M583 232h1.25M607 217h1.25M671 176h1.25M639 198h1.25M650 186h1.25M595 229h1.25M616 215h1.25M664 179h1.25M666 178h1.25M594 225h1.25M604 214h1.25M644 192h1.25M633 202h1.25M613 216h1.25M614 214h1.25M598 220h1.25M572 238h1.25M583 233h1.25M655 185h1.25M645 197h1.25M673 173h1.25M597 226h1.25M602 221h1.25M595 223h1.25M629 206h1.25M574 237h1.25M618 207h1.25M595 224h1.25M662 181h1.25M632 200h1.25M593 224h1.25M630 202h1.25M581 232h1.25M612 212h1.25M669 177h1.25M644 194h1.25M611 211h1.25M628 201h1.25M646 191h1.25M616 214h1.25M571 240h1.25M607 218h1.25M684 168h1.25M700 154h1.25M630 202h1.25M605 220h1.25M617 207h1.25M597 226h1.25M609 217h1.25M564 245h1.25M670 176h1.25M625 203h1.25M608 216h1.25M615 207h1.25M575 238h1.25M678 170h1.25M644 189h1.25M605 213h1.25M598 224h1.25M644 189h1.25M624 205h1.25M609 218h1.25M612 215h1.25M598 225h1.25M667 177h1.25M571 241h1.25M613 213h1.25M585 235h1.25M671 175h1.25M578 235h1.25M610 214h1.25M627 201h1.25M614 210h1.25M593 223h1.25M595 225h1.25M567 242h1.25M670 178h1.25M669 178h1.25M668 179h1.25M591 231h1.25M640 197h1.25M650 187h1.25M670 175h1.25M661 183h1.25M592 224h1.25M689 162h1.25M610 215h1.25M614 212h1.25M635 203h1.25M661 180h1.25M618 213h1.25M616 210h1.25M629 200h1.25M657 183h1.25M584 228h1.25M624 209h1.25M601 218h1.25" stroke="#fa0808" stroke-width="1.25" fill="none" opacity="0.85"/>
<polygon points="568.3,242.8 582.1,235.8 604.6,222.9 625.7,209.6 646.4,195.6 666.7,181.1 686.9,166.1 697.0,157.9 706.1,150.9 705.8,150.5 696.3,156.9 685.3,163.7 663.7,176.5 642.3,189.3 621.2,202.7 600.6,216.6 579.3,231.5 567.8,242.1" fill="#fa0808" opacity="0.93"/>
<path d="M414.4 114.9H425.9M419.4 157.0H425.9M419.4 146.4H425.9M419.4 138.9H425.9M419.4 133.1H425.9M419.4 128.3H425.9M419.4 124.2H425.9M419.4 120.7H425.9M419.4 117.7H425.9M414.4 175.2H425.9M419.4 217.3H425.9M419.4 206.7H425.9M419.4 199.2H425.9M419.4 193.4H425.9M419.4 188.6H425.9M419.4 184.5H425.9M419.4 181.0H425.9M419.4 178.0H425.9M414.4 235.5H425.9M419.4 277.6H425.9M419.4 267.0H425.9M419.4 259.5H425.9M419.4 253.7H425.9M419.4 248.9H425.9M419.4 244.8H425.9M419.4 241.3H425.9M419.4 238.3H425.9M414.4 295.8H425.9M419.4 337.9H425.9M419.4 327.3H425.9M419.4 319.8H425.9M419.4 314.0H425.9M419.4 309.2H425.9M419.4 305.1H425.9M419.4 301.6H425.9M419.4 298.6H425.9" stroke="#2a2a2a" stroke-width="1.3" fill="none"/>
<path d="M449.3 355.0v5.5M462.9 355.0v5.5M472.6 355.0v5.5M480.2 355.0v5.5M486.3 355.0v5.5M491.5 355.0v5.5M496.0 355.0v5.5M500.0 355.0v5.5M526.9 355.0v5.5M540.6 355.0v5.5M550.3 355.0v5.5M557.8 355.0v5.5M563.9 355.0v5.5M569.1 355.0v5.5M573.6 355.0v5.5M577.6 355.0v5.5M604.5 355.0v5.5M618.2 355.0v5.5M627.9 355.0v5.5M635.4 355.0v5.5M641.6 355.0v5.5M646.8 355.0v5.5M651.3 355.0v5.5M655.2 355.0v5.5M682.1 355.0v5.5M695.8 355.0v5.5M705.5 355.0v5.5M713.0 355.0v5.5M719.2 355.0v5.5M724.4 355.0v5.5M728.9 355.0v5.5M732.8 355.0v5.5" stroke="#111" stroke-width="4.1" fill="none"/>
<path d="M503.5 355.0v9.5M581.1 355.0v9.5M658.8 355.0v9.5M736.4 355.0v9.5" stroke="#111" stroke-width="4.1" fill="none"/>
<path d="M425.9 114.9H736.4V355.0M581.0 114.9V355.0" stroke="#1a1a1a" stroke-width="1.4" fill="none"/>
<path d="M425.9 114.3V355.0" stroke="#111" stroke-width="1.8" fill="none"/>
<path d="M425.0 355.0H737.1" stroke="#111" stroke-width="2" fill="none"/>
<text x="412.4" y="303.5" font-size="16.2" font-weight="bold" text-anchor="end" fill="#1a1a1a">10<tspan font-size="12.5" font-weight="normal" dy="-6.3">0</tspan></text>
<text transform="translate(495.3 375.2) scale(.87 1)" font-size="16.5" font-weight="bold" fill="#1a1a1a">10<tspan font-size="13" font-weight="normal" dy="-3.6">0</tspan></text>
<text x="412.4" y="243.2" font-size="16.2" font-weight="bold" text-anchor="end" fill="#1a1a1a">10<tspan font-size="12.5" font-weight="normal" dy="-6.3">1</tspan></text>
<text transform="translate(572.9 375.2) scale(.87 1)" font-size="16.5" font-weight="bold" fill="#1a1a1a">10<tspan font-size="13" font-weight="normal" dy="-3.6">1</tspan></text>
<text x="412.4" y="182.9" font-size="16.2" font-weight="bold" text-anchor="end" fill="#1a1a1a">10<tspan font-size="12.5" font-weight="normal" dy="-6.3">2</tspan></text>
<text transform="translate(650.6 375.2) scale(.87 1)" font-size="16.5" font-weight="bold" fill="#1a1a1a">10<tspan font-size="13" font-weight="normal" dy="-3.6">2</tspan></text>
<text x="412.4" y="122.6" font-size="16.2" font-weight="bold" text-anchor="end" fill="#1a1a1a">10<tspan font-size="12.5" font-weight="normal" dy="-6.3">3</tspan></text>
<text transform="translate(728.2 375.2) scale(.87 1)" font-size="16.5" font-weight="bold" fill="#1a1a1a">10<tspan font-size="13" font-weight="normal" dy="-3.6">3</tspan></text>
<text x="584.7" y="408.0" font-size="17.5" font-weight="bold" text-anchor="middle" fill="#1a1a1a">DCF-DA 525nm</text>
<text transform="translate(364.9 236.9) rotate(-90)" font-size="17" font-weight="bold" text-anchor="middle" fill="#1a1a1a">FL3 log</text>
<text x="426.4" y="137.9" font-size="18.5" font-weight="bold" fill="#1a1a1a">A1</text>
<text x="437.1" y="161.9" font-size="19.2" font-weight="bold" fill="#1a1a1a" xml:space="preserve">6.1%</text>
<text x="581.4" y="137.9" font-size="18.5" font-weight="bold" fill="#1a1a1a">A2</text>
<text x="586.4" y="161.9" font-size="19.2" font-weight="bold" fill="#1a1a1a" xml:space="preserve">93.9%</text>
<text x="561.4" y="96.8" font-size="23.4" text-anchor="middle" xml:space="preserve">0% FBS control</text>
</g>
<g id="plot2">
<g filter="url(#bl)" clip-path="url(#cp101)">
<clipPath id="cp101"><rect x="843.0" y="116.4" width="311.6" height="241.6"/></clipPath>
<polygon points="915.8,303.7 921.7,298.3 918.1,294.3 912.1,299.6" fill="#fa0808" opacity="0.03"/>
<polygon points="920.3,299.6 926.2,294.2 922.7,290.2 916.7,295.6" fill="#fa0808" opacity="0.03"/>
<polygon points="924.8,295.5 930.7,290.0 927.2,286.2 921.2,291.5" fill="#fa0808" opacity="0.03"/>
<polygon points="929.3,291.4 935.2,285.9 931.8,282.2 925.8,287.5" fill="#fa0808" opacity="0.03"/>
<polygon points="933.7,287.2 939.6,281.8 936.3,278.1 930.3,283.4" fill="#fa0808" opacity="0.04"/>
<polygon points="938.2,283.1 944.1,277.7 940.8,274.1 934.8,279.4" fill="#fa0808" opacity="0.04"/>
<polygon points="942.7,279.0 948.6,273.6 945.4,270.0 939.4,275.4" fill="#fa0808" opacity="0.04"/>
<polygon points="947.0,275.1 953.2,270.3 950.4,266.6 944.1,271.2" fill="#fa0808" opacity="0.06"/>
<polygon points="952.7,270.7 959.0,266.0 956.3,262.3 949.9,266.9" fill="#fa0808" opacity="0.10"/>
<polygon points="958.5,266.3 964.7,261.6 962.1,258.1 955.8,262.7" fill="#fa0808" opacity="0.14"/>
<polygon points="964.3,261.9 970.5,257.2 967.9,253.8 961.6,258.4" fill="#fa0808" opacity="0.18"/>
<polygon points="970.1,257.5 976.1,252.5 973.6,249.3 967.4,254.2" fill="#fa0808" opacity="0.26"/>
<polygon points="975.8,252.8 981.8,247.8 979.4,244.8 973.2,249.6" fill="#fa0808" opacity="0.38"/>
<polygon points="981.5,248.1 987.5,243.1 985.2,240.2 979.0,245.0" fill="#fa0808" opacity="0.51"/>
<polygon points="987.0,243.6 992.9,240.1 990.9,236.8 985.1,240.3" fill="#fa0808" opacity="0.75"/>
<polygon points="992.6,240.2 998.5,236.7 996.6,233.5 990.7,237.0" fill="#fa0808" opacity="0.75"/>
<polygon points="998.4,236.8 1004.7,233.0 1002.4,229.5 996.3,233.7" fill="#fa0808" opacity="0.75"/>
<polygon points="1004.2,233.2 1010.5,229.4 1008.0,225.5 1001.9,229.8" fill="#fa0808" opacity="0.75"/>
<polygon points="1010.1,229.7 1016.4,225.8 1013.6,221.6 1007.6,225.9" fill="#fa0808" opacity="0.75"/>
<polygon points="1015.9,226.1 1022.2,222.3 1019.3,217.7 1013.2,222.0" fill="#fa0808" opacity="0.75"/>
<polygon points="1021.7,222.6 1027.9,218.9 1025.1,214.2 1018.9,218.0" fill="#fa0808" opacity="0.75"/>
<polygon points="1027.5,219.1 1033.8,215.4 1030.9,210.7 1024.7,214.5" fill="#fa0808" opacity="0.75"/>
<polygon points="1033.3,215.7 1039.6,212.0 1036.7,207.2 1030.5,211.0" fill="#fa0808" opacity="0.75"/>
<polygon points="1039.1,212.2 1045.4,208.5 1042.5,203.7 1036.2,207.5" fill="#fa0808" opacity="0.75"/>
<polygon points="1044.9,208.8 1050.8,204.9 1048.1,200.5 1042.0,204.0" fill="#fa0808" opacity="0.75"/>
<polygon points="1050.5,205.2 1056.4,201.3 1053.9,197.3 1047.8,200.7" fill="#fa0808" opacity="0.75"/>
<polygon points="1056.0,201.5 1061.9,197.7 1059.7,194.0 1053.6,197.5" fill="#fa0808" opacity="0.75"/>
<polygon points="1061.6,197.9 1067.8,193.7 1065.7,190.4 1059.3,194.3" fill="#fa0808" opacity="0.75"/>
<polygon points="1067.3,194.0 1073.5,189.7 1071.6,186.8 1065.2,190.7" fill="#fa0808" opacity="0.75"/>
<polygon points="1073.0,190.1 1079.2,185.8 1077.5,183.3 1071.1,187.1" fill="#fa0808" opacity="0.75"/>
<polygon points="1078.7,186.2 1084.9,181.9 1083.4,179.7 1077.0,183.6" fill="#fa0808" opacity="0.75"/>
<polygon points="1084.4,182.2 1090.6,178.1 1089.2,176.0 1082.9,180.0" fill="#fa0808" opacity="0.75"/>
<polygon points="1090.1,178.5 1096.3,174.4 1094.9,172.3 1088.7,176.3" fill="#fa0808" opacity="0.75"/>
<polygon points="1095.8,174.7 1102.0,170.6 1100.7,168.7 1094.5,172.6" fill="#fa0808" opacity="0.62"/>
<polygon points="1101.5,170.9 1107.7,166.8 1106.5,165.0 1100.3,169.0" fill="#fa0808" opacity="0.47"/>
<polygon points="1107.3,167.0 1113.4,162.4 1112.2,160.7 1106.0,165.3" fill="#fa0808" opacity="0.36"/>
<polygon points="1113.0,162.8 1119.2,158.2 1117.9,156.5 1111.7,161.1" fill="#fa0808" opacity="0.30"/>
<polygon points="1118.7,158.5 1124.9,153.9 1123.6,152.2 1117.4,156.8" fill="#fa0808" opacity="0.23"/>
<polygon points="1124.5,154.3 1130.6,149.7 1129.4,148.0 1123.2,152.6" fill="#fa0808" opacity="0.16"/>
<polygon points="1130.2,150.0 1135.3,145.7 1133.9,144.0 1128.9,148.4" fill="#fa0808" opacity="0.12"/>
<polygon points="1134.8,146.1 1139.9,141.8 1138.5,140.1 1133.4,144.4" fill="#fa0808" opacity="0.10"/>
<polygon points="1139.4,142.1 1144.5,137.8 1143.1,136.2 1138.0,140.5" fill="#fa0808" opacity="0.07"/>
<polygon points="1144.0,138.2 1149.1,133.9 1147.7,132.3 1142.6,136.6" fill="#fa0808" opacity="0.05"/>
<polygon points="1148.6,134.3 1153.6,130.0 1152.2,128.4 1147.2,132.7" fill="#fa0808" opacity="0.03"/>
</g>
<path d="M878 331h1.25M971 258h1.25M1037 203h1.25M897 318h1.25M1107 168h1.25M1043 215h1.25M895 317h1.25M1032 204h1.25M944 280h1.25M977 254h1.25M940 277h1.25M936 283h1.25M1068 196h1.25M920 296h1.25M1020 227h1.25M910 307h1.25M894 319h1.25M1098 175h1.25M1077 182h1.25M915 298h1.25M1128 153h1.25M964 264h1.25M974 256h1.25M1141 137h1.25M1004 224h1.25M1001 228h1.25M953 262h1.25M1078 189h1.25M937 283h1.25M957 268h1.25M937 281h1.25M1020 227h1.25M959 267h1.25M1046 212h1.25M974 247h1.25M919 301h1.25M943 278h1.25M882 326h1.25M1093 178h1.25M899 310h1.25M1099 168h1.25M1007 222h1.25M947 275h1.25M889 325h1.25M1086 186h1.25M903 310h1.25M1017 228h1.25M1113 163h1.25M929 290h1.25M931 287h1.25M918 296h1.25M1099 168h1.25M875 338h1.25M949 267h1.25M976 255h1.25M952 263h1.25M1014 217h1.25M959 260h1.25M1054 208h1.25M948 268h1.25M884 324h1.25M926 290h1.25M1069 186h1.25M1073 193h1.25M1126 153h1.25M1021 212h1.25M1022 227h1.25M914 298h1.25" stroke="#fa0808" stroke-width="1.25" fill="none" opacity="0.33"/>
<path d="M1139 142h1.25M958 265h1.25M1021 215h1.25M1086 177h1.25M1129 149h1.25M954 267h1.25M979 251h1.25M1050 197h1.25M1096 175h1.25M1045 200h1.25M1009 222h1.25M1057 194h1.25M1007 234h1.25M1083 185h1.25M1058 203h1.25M949 269h1.25M958 265h1.25M1103 166h1.25M962 262h1.25M1132 148h1.25M1092 178h1.25M1033 218h1.25M971 256h1.25M1001 228h1.25M1056 203h1.25M1026 222h1.25M988 237h1.25M1009 232h1.25M1060 201h1.25M961 259h1.25M977 252h1.25M1057 194h1.25M952 270h1.25M1037 205h1.25M1019 227h1.25M1122 153h1.25M963 263h1.25M1129 151h1.25M957 263h1.25M986 239h1.25M1057 203h1.25M1012 231h1.25M1119 156h1.25M1142 140h1.25M1062 191h1.25M1123 153h1.25M964 262h1.25M1015 229h1.25M1084 184h1.25M967 259h1.25M1092 173h1.25M953 268h1.25M1063 190h1.25M1081 186h1.25M1105 166h1.25M1076 183h1.25M967 254h1.25M1066 189h1.25M1026 211h1.25M1042 202h1.25M1123 153h1.25M1085 177h1.25M968 254h1.25M1007 224h1.25M1136 143h1.25M962 263h1.25M1110 162h1.25M1116 157h1.25M1122 156h1.25M1140 141h1.25M1057 194h1.25M985 240h1.25M1032 220h1.25M968 258h1.25M1049 209h1.25M1137 144h1.25M966 255h1.25M1026 211h1.25M1020 215h1.25M1103 170h1.25M1054 196h1.25M969 258h1.25M1113 159h1.25M1023 224h1.25M950 269h1.25M1027 222h1.25M1017 217h1.25M977 252h1.25M1052 196h1.25M1049 198h1.25M1061 191h1.25M1120 155h1.25M1046 211h1.25M1008 233h1.25M1007 234h1.25M1122 153h1.25M959 261h1.25" stroke="#fa0808" stroke-width="1.25" fill="none" opacity="0.58"/>
<path d="M1026 219h1.25M1002 231h1.25M1020 221h1.25M1032 214h1.25M1025 217h1.25M1051 203h1.25M1034 209h1.25M962 261h1.25M999 235h1.25M1050 203h1.25M1042 210h1.25M1087 180h1.25M995 234h1.25M1037 212h1.25M997 236h1.25M997 235h1.25M1061 196h1.25M1034 212h1.25M1034 214h1.25M1013 225h1.25M971 254h1.25M1030 213h1.25M1051 199h1.25M1013 225h1.25M999 236h1.25M1051 202h1.25M1061 199h1.25M1028 218h1.25M982 248h1.25M1050 205h1.25M1004 233h1.25M989 241h1.25M1060 199h1.25M1010 229h1.25M1041 206h1.25M1074 188h1.25M1037 211h1.25M1114 161h1.25M1035 215h1.25M1090 175h1.25M1072 189h1.25M1101 170h1.25M1010 228h1.25M1054 199h1.25M1063 197h1.25M1062 196h1.25M1013 225h1.25M1019 220h1.25M1052 200h1.25M1048 203h1.25M997 236h1.25M995 238h1.25M1081 185h1.25M1078 186h1.25M1044 206h1.25M1052 201h1.25M1039 205h1.25M987 240h1.25M999 231h1.25M1063 196h1.25M1061 200h1.25M1014 222h1.25M1012 229h1.25M995 235h1.25M1088 177h1.25M1061 197h1.25M1029 213h1.25M1017 220h1.25M1064 192h1.25M1073 190h1.25M1008 227h1.25M1006 228h1.25M980 247h1.25M1085 179h1.25M1004 232h1.25M1026 215h1.25M1064 195h1.25M1004 231h1.25M1033 215h1.25M1021 223h1.25M990 240h1.25M1006 228h1.25M1038 210h1.25M992 239h1.25M1016 226h1.25M1083 181h1.25M1054 199h1.25M1022 224h1.25M966 258h1.25M1030 216h1.25M1072 187h1.25M1076 186h1.25M985 244h1.25M1035 211h1.25M996 238h1.25M1016 220h1.25M1081 185h1.25M1055 201h1.25M999 234h1.25M1015 223h1.25M1003 227h1.25M1010 224h1.25M1053 202h1.25M1035 216h1.25M1026 215h1.25M1047 205h1.25M1066 193h1.25M1093 175h1.25M1000 233h1.25M997 234h1.25M1059 195h1.25M1019 221h1.25M1033 211h1.25M1019 220h1.25M1125 152h1.25M1045 209h1.25M1063 194h1.25M1080 183h1.25M1060 196h1.25M975 251h1.25M1060 197h1.25M1043 205h1.25M1034 213h1.25M1030 216h1.25M1052 197h1.25M1062 196h1.25M1061 195h1.25M1040 210h1.25M1074 186h1.25M1024 221h1.25M1079 184h1.25M972 252h1.25M1040 207h1.25M1059 197h1.25M1044 209h1.25M981 248h1.25M1060 196h1.25M1029 217h1.25M975 251h1.25M1066 193h1.25M1006 230h1.25M1029 211h1.25M1046 206h1.25M1049 202h1.25M1063 194h1.25M1108 165h1.25M1037 209h1.25M1056 199h1.25M1023 223h1.25M1060 197h1.25M1053 198h1.25M996 239h1.25M1035 209h1.25M1041 205h1.25M1036 208h1.25M1044 203h1.25M1004 230h1.25M1038 208h1.25M1027 214h1.25M1012 223h1.25M1100 170h1.25M1000 234h1.25M1076 185h1.25M1090 178h1.25M1012 222h1.25M1044 205h1.25M1023 218h1.25M1036 208h1.25M1074 187h1.25M1080 182h1.25M996 235h1.25M1057 199h1.25M1063 196h1.25M1054 201h1.25M977 247h1.25M1038 215h1.25M1066 195h1.25M1011 227h1.25M1127 152h1.25M1008 229h1.25M1006 228h1.25M1039 209h1.25M1010 230h1.25M1085 180h1.25M1064 194h1.25M984 241h1.25M1025 219h1.25M1069 190h1.25M1055 203h1.25M1026 215h1.25M1014 226h1.25M1044 206h1.25M1092 176h1.25M1070 191h1.25M1019 220h1.25M1082 182h1.25M1041 210h1.25M1080 181h1.25M1003 231h1.25M995 237h1.25M1000 231h1.25M1015 222h1.25M1006 230h1.25M1042 211h1.25M1089 178h1.25M1052 201h1.25M1014 226h1.25M1069 187h1.25M1031 212h1.25M1007 231h1.25M1012 226h1.25M1021 222h1.25M1048 205h1.25M1030 213h1.25M1074 187h1.25M1101 169h1.25M999 234h1.25M1048 202h1.25M1043 206h1.25M1029 214h1.25M1041 206h1.25M1012 226h1.25M1116 160h1.25M1047 202h1.25M968 258h1.25M1020 222h1.25M1025 216h1.25M1087 179h1.25M983 245h1.25M964 260h1.25M1028 214h1.25M1055 197h1.25M972 254h1.25M1052 203h1.25M1058 197h1.25M1013 226h1.25M1040 212h1.25M1055 200h1.25M1001 235h1.25M1042 206h1.25M1077 185h1.25M1071 189h1.25M1080 183h1.25M1014 221h1.25M1053 203h1.25M1032 213h1.25M1002 233h1.25M1040 209h1.25M1050 202h1.25M1070 193h1.25M993 239h1.25M994 238h1.25M1002 234h1.25M1031 214h1.25M1038 213h1.25M1006 232h1.25M1045 203h1.25M1016 221h1.25M1016 226h1.25M1060 194h1.25M1042 209h1.25M1012 226h1.25M996 238h1.25M1083 184h1.25M1022 223h1.25M1042 211h1.25M1039 210h1.25M1091 177h1.25M1016 224h1.25M1112 162h1.25M1041 207h1.25M1006 232h1.25M985 244h1.25M1039 206h1.25M1023 221h1.25M1051 201h1.25M973 253h1.25M1056 196h1.25M1005 230h1.25M1041 207h1.25M1043 209h1.25M1000 235h1.25M1117 158h1.25M1025 219h1.25M1050 202h1.25M974 252h1.25M1033 217h1.25M1049 199h1.25M1065 195h1.25M1017 223h1.25M1064 195h1.25M1085 180h1.25M1070 189h1.25M1021 217h1.25M1076 186h1.25M1090 177h1.25M992 237h1.25M1051 203h1.25M1047 207h1.25M999 234h1.25M1079 183h1.25M1019 223h1.25M1033 208h1.25M998 236h1.25M1034 214h1.25M1074 188h1.25M1003 232h1.25M1065 192h1.25M1007 231h1.25M981 246h1.25M1037 206h1.25M1058 196h1.25M1045 201h1.25M1114 160h1.25M1023 223h1.25M1048 207h1.25M1021 224h1.25M1008 225h1.25M1003 232h1.25M990 238h1.25M1021 221h1.25M1060 193h1.25M1066 192h1.25M1025 218h1.25M1020 219h1.25M1000 231h1.25M1085 180h1.25M1005 228h1.25M1084 182h1.25M1024 217h1.25M1063 193h1.25M1044 205h1.25M1062 196h1.25M1025 214h1.25M1048 201h1.25M1049 207h1.25M1050 203h1.25M1013 222h1.25M1026 220h1.25M999 233h1.25M977 247h1.25M1029 213h1.25M1041 208h1.25M1086 181h1.25M1002 232h1.25M1007 228h1.25M1026 220h1.25M989 238h1.25M1055 200h1.25M997 234h1.25M1089 177h1.25M1042 207h1.25M1035 211h1.25M1029 210h1.25M1101 171h1.25M1045 204h1.25M1041 207h1.25M1071 191h1.25M1020 220h1.25M1046 200h1.25M984 242h1.25M1002 233h1.25M1014 226h1.25M1087 180h1.25M1050 204h1.25M1025 216h1.25M1001 233h1.25M1004 229h1.25M1003 230h1.25M990 238h1.25M1115 159h1.25M1005 228h1.25M1062 194h1.25M1053 202h1.25M1003 229h1.25M977 249h1.25M1037 206h1.25M1041 211h1.25M1004 229h1.25M1042 208h1.25M1028 213h1.25M1035 209h1.25M1014 225h1.25M1005 229h1.25M995 238h1.25M986 241h1.25M1109 166h1.25M1024 217h1.25M1013 224h1.25M1008 230h1.25M1019 221h1.25M995 237h1.25M1022 220h1.25M1046 205h1.25M1011 224h1.25M1055 199h1.25M1071 186h1.25M993 240h1.25M1020 216h1.25M1017 222h1.25M1038 210h1.25M1039 211h1.25M991 239h1.25M989 239h1.25M1021 220h1.25M1037 209h1.25M1072 187h1.25M1034 211h1.25M994 237h1.25M1058 197h1.25M1090 178h1.25M1043 206h1.25M1080 183h1.25M1034 216h1.25M986 242h1.25M1065 193h1.25M1020 219h1.25M1082 184h1.25M1059 198h1.25M1050 206h1.25M966 259h1.25M1031 217h1.25M1063 197h1.25M1048 200h1.25M1013 225h1.25M1037 212h1.25M1028 217h1.25M1043 206h1.25M1000 235h1.25M1039 210h1.25M1042 203h1.25M1069 189h1.25M1030 213h1.25M1001 235h1.25M1077 187h1.25M1102 170h1.25M1014 220h1.25M1082 181h1.25M1062 197h1.25M1028 216h1.25M1009 230h1.25M1057 196h1.25M1068 191h1.25M1015 225h1.25M1056 200h1.25M1060 195h1.25M1027 217h1.25M1027 219h1.25M1039 210h1.25M994 235h1.25M1009 231h1.25M1001 234h1.25M1074 191h1.25M1014 224h1.25M1014 222h1.25M1030 218h1.25M1059 196h1.25M1105 167h1.25M1046 204h1.25M1002 236h1.25M1025 218h1.25M1040 210h1.25M1009 227h1.25M1013 226h1.25M1018 222h1.25M1082 180h1.25M1075 185h1.25M1009 225h1.25M1051 201h1.25M1013 224h1.25M1050 204h1.25M1045 204h1.25M1030 218h1.25M1001 232h1.25M1033 214h1.25M1049 206h1.25M1041 204h1.25M1076 187h1.25M1014 226h1.25M1009 228h1.25M1031 214h1.25M1017 220h1.25M1038 212h1.25M1020 216h1.25M994 240h1.25M1028 216h1.25M1045 207h1.25M1035 213h1.25M1008 228h1.25M1107 166h1.25M1022 219h1.25M974 251h1.25M1036 210h1.25M1083 184h1.25M1035 211h1.25M974 252h1.25M1066 193h1.25M1010 231h1.25M1052 199h1.25M1016 223h1.25M1006 229h1.25M998 232h1.25M1021 216h1.25M1003 233h1.25M1017 226h1.25M1100 172h1.25M1059 200h1.25M1033 209h1.25M1013 226h1.25M1043 207h1.25M1010 227h1.25M1041 210h1.25M1010 226h1.25M1058 198h1.25M982 244h1.25M1097 171h1.25M1054 201h1.25M1072 189h1.25M1014 223h1.25M1026 217h1.25M1023 222h1.25M997 234h1.25M1012 226h1.25M1021 223h1.25M1077 184h1.25M1052 201h1.25M1012 225h1.25M1035 207h1.25M1039 209h1.25M1017 222h1.25M1023 219h1.25M1055 199h1.25M964 259h1.25M995 237h1.25M1048 203h1.25M1053 201h1.25M1074 184h1.25M1069 191h1.25M1038 211h1.25M1048 202h1.25M1032 213h1.25M999 235h1.25M1011 229h1.25M1020 224h1.25M1022 219h1.25M1063 197h1.25M1064 195h1.25M1050 201h1.25M991 239h1.25M1010 225h1.25M1039 209h1.25M1080 183h1.25M1038 207h1.25M1016 225h1.25M1029 217h1.25M1050 203h1.25M1046 206h1.25M1037 209h1.25M1033 215h1.25M1010 228h1.25M1084 180h1.25M1037 210h1.25M1069 189h1.25M993 238h1.25M1011 225h1.25M1001 235h1.25M1043 208h1.25M1041 213h1.25M1005 231h1.25M1022 219h1.25M1007 230h1.25M1109 164h1.25M1064 192h1.25M988 241h1.25M1055 197h1.25M1060 193h1.25M1064 195h1.25M1062 197h1.25M1038 209h1.25M1003 231h1.25M1077 185h1.25M1014 227h1.25M1040 210h1.25M1007 228h1.25M999 235h1.25M1057 199h1.25M997 235h1.25M1036 208h1.25M1045 207h1.25M1075 187h1.25M1071 190h1.25M1078 186h1.25M1025 216h1.25M1001 233h1.25M1039 212h1.25M1014 225h1.25M1005 230h1.25M1062 195h1.25M1024 214h1.25M1062 195h1.25M1025 218h1.25M1027 219h1.25M1012 226h1.25M1092 177h1.25M1040 210h1.25M1044 205h1.25M1014 220h1.25M1012 224h1.25M1068 189h1.25M1076 184h1.25M1031 214h1.25M1059 196h1.25M1044 204h1.25M998 232h1.25M1084 179h1.25M963 261h1.25M1070 190h1.25M1047 204h1.25M1050 204h1.25M1056 201h1.25M1026 213h1.25M1041 204h1.25M1034 210h1.25M1054 198h1.25M984 242h1.25M1051 201h1.25M1068 189h1.25M1049 203h1.25M976 249h1.25M1075 189h1.25M1075 186h1.25M1073 188h1.25M1037 207h1.25M1049 206h1.25M1002 234h1.25M1024 220h1.25M1061 196h1.25M1037 214h1.25M1020 220h1.25M976 252h1.25M1036 208h1.25M1036 209h1.25M995 235h1.25M1057 199h1.25M1066 193h1.25M1066 191h1.25M1000 234h1.25M1072 190h1.25M1005 231h1.25M1011 228h1.25M1025 215h1.25M1019 222h1.25M989 241h1.25M1027 218h1.25M1058 198h1.25M1016 223h1.25M1048 205h1.25M1013 220h1.25M1026 219h1.25M1046 204h1.25M1013 221h1.25M1041 211h1.25M1105 166h1.25M1029 214h1.25M1006 230h1.25M1077 183h1.25M992 237h1.25M993 241h1.25M1066 192h1.25M1060 195h1.25M1002 233h1.25M1055 197h1.25M992 235h1.25M978 246h1.25M1060 194h1.25M993 238h1.25M1025 217h1.25M977 248h1.25M1023 218h1.25M1043 206h1.25M1031 214h1.25M1074 189h1.25M1036 210h1.25M995 239h1.25M1085 179h1.25M1048 203h1.25M1078 186h1.25M1028 216h1.25M1044 208h1.25M1005 230h1.25M1015 222h1.25M1068 188h1.25M978 247h1.25M1017 222h1.25M1056 196h1.25M1065 196h1.25M1023 218h1.25M1003 229h1.25M1042 206h1.25M984 243h1.25M1018 218h1.25M1026 221h1.25M1002 235h1.25M1050 204h1.25M1102 171h1.25M1046 203h1.25M1032 216h1.25M995 236h1.25M1033 212h1.25M992 235h1.25M1077 185h1.25M998 234h1.25M1070 191h1.25M1063 195h1.25M994 237h1.25M1021 219h1.25M1049 201h1.25M992 239h1.25M971 255h1.25M1058 196h1.25M1033 209h1.25M1061 193h1.25M1024 220h1.25M1016 223h1.25M1037 213h1.25M994 236h1.25M995 234h1.25M1003 230h1.25M1058 195h1.25M1013 226h1.25M1017 219h1.25M1029 216h1.25M1065 195h1.25M1032 215h1.25M1027 217h1.25M1021 217h1.25M1003 232h1.25M1033 212h1.25M1064 192h1.25M1058 195h1.25M1003 232h1.25M982 243h1.25M965 259h1.25M1084 181h1.25M975 251h1.25M1010 227h1.25M1041 211h1.25M1021 221h1.25M1059 197h1.25M1057 198h1.25M1010 229h1.25M1088 180h1.25M1022 222h1.25M982 248h1.25M1120 156h1.25M992 239h1.25M1011 230h1.25M1070 192h1.25M1006 232h1.25M1076 187h1.25M1051 198h1.25M1020 221h1.25M1028 214h1.25M981 245h1.25M1041 204h1.25M1027 217h1.25M1097 173h1.25M1049 203h1.25M1040 207h1.25M1037 216h1.25M1017 222h1.25M1026 216h1.25M1015 222h1.25M1019 218h1.25M983 244h1.25M1015 225h1.25M1024 221h1.25M1078 187h1.25M1025 218h1.25M992 239h1.25M1055 202h1.25M1035 216h1.25M1049 199h1.25M1058 196h1.25M1003 231h1.25M1098 172h1.25M1027 219h1.25M1014 225h1.25M1095 175h1.25M1003 233h1.25M1063 197h1.25M1042 211h1.25M992 236h1.25M1010 228h1.25M1045 205h1.25M1038 214h1.25M1050 198h1.25M1087 179h1.25M1032 209h1.25M1019 220h1.25M1003 229h1.25M1025 215h1.25M1076 184h1.25M959 263h1.25M1084 180h1.25M995 235h1.25M1034 213h1.25M1049 204h1.25M1085 179h1.25M1033 212h1.25M1057 199h1.25M991 237h1.25M1006 232h1.25M1051 204h1.25M1047 203h1.25M995 236h1.25M997 238h1.25M1073 186h1.25M1039 212h1.25M1082 185h1.25M1068 191h1.25M1017 223h1.25M1028 214h1.25M1089 177h1.25M1059 197h1.25M1040 209h1.25M1052 203h1.25M1062 196h1.25M1085 181h1.25M1012 224h1.25M1004 232h1.25M1044 205h1.25M1033 212h1.25M1067 191h1.25M1050 202h1.25M1010 231h1.25M1073 185h1.25M1016 225h1.25M1017 223h1.25M1021 224h1.25M1044 208h1.25M990 239h1.25M981 247h1.25M998 235h1.25M1018 225h1.25M1006 230h1.25M1029 215h1.25M1060 197h1.25M980 246h1.25M1068 194h1.25M1040 209h1.25M1004 233h1.25M1023 218h1.25M1003 233h1.25M1013 225h1.25M1020 221h1.25M1046 206h1.25M1022 219h1.25M1069 192h1.25M1036 214h1.25M1043 210h1.25M1069 190h1.25M1066 191h1.25M1096 173h1.25M1089 179h1.25M1106 166h1.25M1033 215h1.25M1048 204h1.25M982 242h1.25M1013 224h1.25M1095 174h1.25M1040 207h1.25M1067 191h1.25M1103 170h1.25M1016 223h1.25M1017 221h1.25M1063 195h1.25M1048 205h1.25M1035 214h1.25M1032 212h1.25M1074 188h1.25M1035 210h1.25M1024 215h1.25M1019 221h1.25M1027 214h1.25M1076 188h1.25M1067 194h1.25M1003 232h1.25M1012 223h1.25M1058 197h1.25M1059 196h1.25M1003 232h1.25M1086 178h1.25M1039 209h1.25M1021 221h1.25M1096 172h1.25M1087 177h1.25M994 237h1.25M1056 200h1.25M1051 204h1.25M1065 193h1.25M1087 178h1.25M1090 178h1.25M1056 203h1.25M998 235h1.25M1046 206h1.25M1052 199h1.25M1029 212h1.25M1026 221h1.25M988 241h1.25M1055 199h1.25M1080 181h1.25M988 239h1.25M1082 181h1.25M1054 200h1.25M1092 178h1.25M1054 199h1.25M1008 230h1.25M1034 212h1.25M1015 226h1.25M1000 235h1.25M995 237h1.25M1055 204h1.25M1024 218h1.25M1053 200h1.25M1032 213h1.25M1022 219h1.25M1070 187h1.25M1003 233h1.25M984 244h1.25M1031 213h1.25M1092 175h1.25M1078 183h1.25M995 236h1.25M1095 172h1.25M1028 213h1.25M1078 186h1.25M989 242h1.25M1067 188h1.25M1059 196h1.25M1000 233h1.25M981 248h1.25M1040 205h1.25M1010 226h1.25M1012 228h1.25M1043 208h1.25M1056 200h1.25M1048 204h1.25M1002 233h1.25M1100 171h1.25M1019 219h1.25M1033 213h1.25M1017 221h1.25M995 237h1.25M1042 207h1.25M1104 169h1.25M1037 209h1.25M1068 192h1.25M1007 231h1.25M1067 190h1.25M1043 208h1.25M1066 193h1.25M1023 222h1.25M1044 210h1.25M1020 221h1.25M1038 213h1.25M1028 211h1.25M1023 214h1.25M996 238h1.25M1053 202h1.25M1014 226h1.25M1031 211h1.25M1058 201h1.25M1035 209h1.25M1058 199h1.25M1000 235h1.25M1018 223h1.25M1045 205h1.25M1012 226h1.25M1025 216h1.25M1049 199h1.25M1040 209h1.25M999 231h1.25M1016 223h1.25M1039 210h1.25M980 247h1.25M1007 231h1.25M1034 212h1.25M1016 223h1.25M1057 197h1.25M968 256h1.25M1022 219h1.25M1035 211h1.25M975 248h1.25M1059 198h1.25M1067 190h1.25M1027 218h1.25M975 251h1.25M1050 200h1.25M1004 231h1.25M1071 190h1.25M1017 220h1.25M998 236h1.25M1052 200h1.25M1008 231h1.25M1041 210h1.25M1036 212h1.25M1056 196h1.25M1014 225h1.25M1091 176h1.25M1053 202h1.25M1036 211h1.25M993 236h1.25M1000 235h1.25M1021 221h1.25M1069 191h1.25M1014 224h1.25M1011 226h1.25M1012 224h1.25M1015 224h1.25M1071 188h1.25M1092 174h1.25M1068 193h1.25M1039 210h1.25M1043 207h1.25M1002 234h1.25M1066 195h1.25M1006 229h1.25M1026 217h1.25M1006 232h1.25M1050 203h1.25M1001 232h1.25M1040 208h1.25M990 241h1.25M1057 199h1.25M1013 224h1.25M1041 208h1.25M1020 224h1.25M1036 210h1.25M1040 209h1.25M1047 202h1.25M1017 221h1.25M1070 192h1.25M1110 164h1.25M1111 164h1.25M1004 231h1.25M1068 189h1.25M1061 199h1.25M1015 225h1.25M1063 196h1.25M1085 179h1.25M1034 208h1.25M1041 205h1.25M1073 190h1.25M1012 230h1.25M1011 227h1.25M1037 209h1.25M1016 224h1.25M1045 206h1.25M1040 206h1.25M1097 172h1.25M1066 193h1.25M1029 217h1.25M1045 205h1.25M1011 227h1.25M1034 213h1.25M1088 178h1.25M1039 209h1.25M1031 218h1.25M1080 186h1.25M1072 189h1.25M1063 192h1.25M992 236h1.25M975 249h1.25M1036 208h1.25M996 236h1.25M1061 196h1.25M1035 213h1.25M1015 223h1.25M1082 184h1.25M1016 227h1.25M986 243h1.25M1033 210h1.25M1043 208h1.25M1067 190h1.25M1004 234h1.25M1041 208h1.25M1063 194h1.25M1044 210h1.25M1033 214h1.25M1039 208h1.25M1046 209h1.25M1013 228h1.25M977 250h1.25M1040 205h1.25M1056 197h1.25M1030 217h1.25M1012 224h1.25M1031 216h1.25M1033 215h1.25M1018 223h1.25M1005 231h1.25M1039 214h1.25M1094 173h1.25M1019 219h1.25M1056 201h1.25M1093 174h1.25M1000 235h1.25M1009 228h1.25M1065 194h1.25M1041 211h1.25M1010 228h1.25M976 250h1.25M1034 214h1.25M1016 226h1.25M1012 225h1.25M1014 226h1.25M1036 209h1.25M1073 186h1.25M1098 172h1.25M1031 212h1.25M990 238h1.25M1101 170h1.25M1045 203h1.25M1090 177h1.25M1037 207h1.25M1015 225h1.25M1047 207h1.25M970 253h1.25M1101 169h1.25M1067 191h1.25M969 257h1.25M1082 182h1.25M1058 200h1.25M984 246h1.25M1016 224h1.25M1053 198h1.25M1000 232h1.25M989 243h1.25M1100 169h1.25M1045 208h1.25M1082 184h1.25M1000 233h1.25M1066 193h1.25M980 248h1.25M1056 198h1.25M1039 206h1.25M1062 195h1.25M1037 207h1.25M1075 186h1.25M1074 188h1.25M1066 196h1.25M1042 208h1.25M1037 212h1.25M1025 218h1.25M1071 192h1.25M1039 210h1.25M1030 214h1.25M992 239h1.25M977 249h1.25M991 239h1.25M1050 200h1.25M1024 215h1.25M1064 190h1.25M1016 225h1.25M1078 186h1.25M1052 201h1.25M1057 200h1.25M991 241h1.25M1014 225h1.25M1010 227h1.25M982 246h1.25M1039 208h1.25M1020 221h1.25M1022 217h1.25M1036 209h1.25M1118 159h1.25M1038 207h1.25M1011 225h1.25M981 244h1.25M1015 222h1.25M1025 216h1.25M985 244h1.25M1018 225h1.25M1070 189h1.25M1025 218h1.25M1074 185h1.25M1082 181h1.25M1051 204h1.25M1039 210h1.25M1044 210h1.25M1010 228h1.25M1035 212h1.25M967 257h1.25M1070 192h1.25M1048 207h1.25M1077 185h1.25M1067 192h1.25M1032 216h1.25M1071 192h1.25M1017 227h1.25M1044 202h1.25M1049 201h1.25M1090 175h1.25M1070 192h1.25M1070 191h1.25M997 235h1.25M1029 215h1.25M1107 167h1.25M1008 228h1.25M1082 182h1.25M981 244h1.25M970 255h1.25M1054 197h1.25M993 236h1.25M1110 164h1.25M1006 229h1.25M1047 205h1.25M1034 210h1.25M1068 192h1.25M1003 232h1.25M1008 224h1.25M1106 167h1.25M1027 216h1.25M1079 183h1.25M1035 216h1.25M1032 214h1.25M1031 215h1.25M1018 222h1.25M1075 187h1.25M968 254h1.25M1038 210h1.25M1010 225h1.25M1038 212h1.25M1077 187h1.25M1011 226h1.25M1026 215h1.25M1081 182h1.25M1051 202h1.25M1097 173h1.25M1049 204h1.25M986 240h1.25M986 241h1.25M1047 205h1.25M1063 194h1.25M1040 209h1.25M1011 229h1.25M1082 184h1.25M1028 214h1.25M992 240h1.25M1046 204h1.25M1032 213h1.25M1067 191h1.25M1029 216h1.25M1079 184h1.25M1010 227h1.25M1042 208h1.25M1015 224h1.25M1028 216h1.25M1038 211h1.25M1092 178h1.25M1009 228h1.25M1021 220h1.25M1031 211h1.25M975 249h1.25M976 251h1.25M1023 221h1.25M1063 196h1.25M1082 182h1.25M1075 187h1.25M1065 191h1.25M1063 193h1.25M1064 192h1.25M986 240h1.25M1047 205h1.25M1010 228h1.25M965 259h1.25M999 231h1.25M1028 216h1.25M1092 177h1.25M1043 206h1.25M1008 229h1.25M1058 198h1.25M1012 227h1.25M993 236h1.25M1103 169h1.25M1035 212h1.25M1021 221h1.25M1060 194h1.25M1003 229h1.25M1030 214h1.25M1034 211h1.25M1094 174h1.25M1016 223h1.25M1051 200h1.25M1022 219h1.25M1064 194h1.25M1010 225h1.25M988 241h1.25M1035 210h1.25M1023 219h1.25M1014 226h1.25M964 259h1.25M1062 195h1.25M981 247h1.25M1059 195h1.25M1079 185h1.25M1080 186h1.25M1025 216h1.25M1079 184h1.25M1034 215h1.25M1013 227h1.25M1002 233h1.25M1056 200h1.25M1010 226h1.25M1037 212h1.25M1097 171h1.25M1013 226h1.25M1008 229h1.25M1044 204h1.25M1046 206h1.25M1035 211h1.25M1033 213h1.25M1056 202h1.25M992 240h1.25M1025 218h1.25M1020 219h1.25M1011 227h1.25M1062 198h1.25M1040 210h1.25M1010 223h1.25M1057 198h1.25M1032 211h1.25M1026 218h1.25M1003 234h1.25M1084 181h1.25M994 236h1.25M1011 228h1.25M1051 206h1.25M1060 197h1.25M1047 207h1.25M1068 192h1.25M1055 198h1.25M1054 199h1.25M1057 201h1.25M1081 183h1.25M978 250h1.25M1056 197h1.25M1044 208h1.25M984 244h1.25M1084 180h1.25M1006 229h1.25M1084 182h1.25M1100 171h1.25M1043 203h1.25M1009 227h1.25M1081 183h1.25M1029 215h1.25M1016 223h1.25M984 241h1.25M1005 230h1.25M1023 217h1.25M1016 222h1.25M1037 209h1.25M1064 195h1.25M1053 205h1.25M1038 212h1.25M993 238h1.25M1032 213h1.25M989 239h1.25M1033 213h1.25M1027 217h1.25M1058 199h1.25M997 234h1.25M1011 226h1.25M1044 202h1.25M1047 204h1.25M1058 200h1.25M1027 212h1.25M1070 191h1.25M1080 184h1.25M1041 209h1.25M971 252h1.25M1019 221h1.25M1052 198h1.25M1050 206h1.25M1098 173h1.25M1007 230h1.25M1094 173h1.25M1039 207h1.25M1105 169h1.25M1124 154h1.25M988 242h1.25M1108 165h1.25M1053 201h1.25M1053 205h1.25M1058 198h1.25M1028 219h1.25M1034 208h1.25M1025 220h1.25M1026 216h1.25M1009 227h1.25M1082 182h1.25M1026 216h1.25M1023 221h1.25M1071 189h1.25M1042 209h1.25M978 251h1.25M1066 190h1.25M988 240h1.25M1031 216h1.25M1076 187h1.25M1097 171h1.25M1034 213h1.25M1068 190h1.25M1067 191h1.25M991 241h1.25M1069 192h1.25M1049 202h1.25M1076 185h1.25M998 233h1.25M1036 210h1.25M1046 203h1.25M1014 219h1.25M1053 202h1.25M1024 218h1.25M1075 186h1.25M998 234h1.25M1052 200h1.25M1033 217h1.25M1101 171h1.25M1040 210h1.25M1069 188h1.25M1020 217h1.25M1058 197h1.25M1011 230h1.25M1063 195h1.25M1048 201h1.25M1034 210h1.25M1030 214h1.25M1061 193h1.25M1007 226h1.25M1032 215h1.25M1065 192h1.25M1060 195h1.25M1050 202h1.25M1021 218h1.25M1026 217h1.25M1023 219h1.25M984 241h1.25M970 254h1.25M997 236h1.25M1019 223h1.25M1077 184h1.25M1065 196h1.25M1035 216h1.25M989 241h1.25M992 239h1.25M974 252h1.25M1041 206h1.25M1001 231h1.25M1040 209h1.25M1025 220h1.25M990 240h1.25M1085 181h1.25M1016 222h1.25M1085 181h1.25M976 248h1.25M1056 199h1.25M1025 218h1.25M1018 220h1.25M1034 211h1.25M1050 199h1.25M1067 190h1.25M1034 214h1.25M996 237h1.25M1066 195h1.25M1035 211h1.25M1070 191h1.25M966 256h1.25M995 236h1.25M1019 222h1.25M1112 161h1.25M1047 208h1.25M1055 199h1.25M1004 232h1.25M1056 195h1.25M1018 223h1.25M1008 227h1.25M1100 170h1.25M1036 216h1.25M1038 208h1.25M1045 203h1.25M985 246h1.25M1024 215h1.25M1070 189h1.25M1091 176h1.25M1091 177h1.25M1013 227h1.25M1020 220h1.25M1039 213h1.25M1044 209h1.25M1026 214h1.25M1074 188h1.25M1031 215h1.25M1081 183h1.25M1034 210h1.25M1048 203h1.25M1071 188h1.25M1063 195h1.25M995 237h1.25M1129 149h1.25M989 239h1.25M1040 207h1.25M1017 224h1.25M1098 171h1.25M1059 195h1.25M1048 203h1.25M1105 167h1.25M1061 194h1.25M1045 206h1.25M1007 225h1.25M1009 227h1.25M1013 226h1.25M995 237h1.25M968 255h1.25M1029 215h1.25M1031 211h1.25M1055 198h1.25M1082 181h1.25M1003 233h1.25M1041 206h1.25M990 239h1.25M1004 230h1.25M1012 227h1.25M1074 186h1.25M1076 184h1.25M1017 221h1.25M1066 193h1.25M1017 227h1.25M1021 221h1.25M1057 201h1.25M961 261h1.25M1023 219h1.25M1096 174h1.25M979 248h1.25M1045 204h1.25M1056 198h1.25M1049 204h1.25M1054 200h1.25M1081 183h1.25M1074 188h1.25M1064 195h1.25M960 262h1.25M1037 211h1.25M1027 216h1.25M1072 189h1.25M995 236h1.25M1006 232h1.25M980 246h1.25M1029 217h1.25M1020 222h1.25M1091 176h1.25M1047 205h1.25M976 249h1.25M1060 198h1.25M1063 197h1.25M1019 218h1.25M1125 153h1.25M1074 188h1.25M1037 207h1.25M1064 194h1.25M1048 207h1.25M1027 216h1.25M1062 194h1.25M1008 228h1.25M997 234h1.25M1041 207h1.25M1028 217h1.25M997 237h1.25M1008 229h1.25M1025 219h1.25M996 236h1.25M1003 232h1.25M1010 227h1.25M1066 191h1.25M1067 192h1.25M978 249h1.25M1052 202h1.25M995 237h1.25M1062 198h1.25M1030 213h1.25M1026 220h1.25M1021 219h1.25M997 237h1.25M1032 210h1.25M1011 225h1.25M1075 186h1.25M995 238h1.25M1105 168h1.25M996 236h1.25M1048 202h1.25M1101 170h1.25M1104 167h1.25M1046 201h1.25M986 244h1.25M998 236h1.25M993 236h1.25M986 242h1.25M1110 163h1.25M1083 183h1.25M1103 169h1.25M1024 215h1.25M997 239h1.25M1023 215h1.25M1006 234h1.25M1009 229h1.25M1021 223h1.25M995 237h1.25M1020 220h1.25M1107 167h1.25M1048 206h1.25M1046 209h1.25M1024 222h1.25M1080 185h1.25M1046 205h1.25M1050 200h1.25M1030 215h1.25M1007 229h1.25M1082 184h1.25M987 244h1.25M1064 195h1.25M1051 197h1.25M1004 230h1.25M1011 227h1.25M1012 229h1.25M1024 218h1.25M1061 199h1.25M1029 211h1.25" stroke="#fa0808" stroke-width="1.25" fill="none" opacity="0.85"/>
<polygon points="984.4,243.5 998.4,237.0 1010.4,230.4 1022.3,223.6 1033.9,216.8 1045.5,209.7 1061.8,198.3 1072.6,190.0 1084.0,181.6 1083.4,180.7 1071.1,187.7 1059.1,193.9 1041.5,203.1 1029.8,209.9 1018.2,217.0 1007.0,225.2 996.2,233.5 984.0,243.0" fill="#fa0808" opacity="0.93"/>
<path d="M830.5 115.4H842.0M835.5 158.2H842.0M835.5 147.4H842.0M835.5 139.8H842.0M835.5 133.8H842.0M835.5 129.0H842.0M835.5 124.9H842.0M835.5 121.3H842.0M835.5 118.2H842.0M830.5 176.7H842.0M835.5 219.5H842.0M835.5 208.7H842.0M835.5 201.0H842.0M835.5 195.1H842.0M835.5 190.3H842.0M835.5 186.2H842.0M835.5 182.6H842.0M835.5 179.5H842.0M830.5 237.9H842.0M835.5 280.8H842.0M835.5 270.0H842.0M835.5 262.3H842.0M835.5 256.4H842.0M835.5 251.5H842.0M835.5 247.4H842.0M835.5 243.9H842.0M835.5 240.7H842.0M830.5 299.2H842.0M835.5 342.0H842.0M835.5 331.2H842.0M835.5 323.6H842.0M835.5 317.6H842.0M835.5 312.8H842.0M835.5 308.7H842.0M835.5 305.1H842.0M835.5 302.0H842.0" stroke="#2a2a2a" stroke-width="1.3" fill="none"/>
<path d="M865.6 359.0v5.5M879.4 359.0v5.5M889.2 359.0v5.5M896.8 359.0v5.5M903.0 359.0v5.5M908.3 359.0v5.5M912.8 359.0v5.5M916.8 359.0v5.5M944.0 359.0v5.5M957.8 359.0v5.5M967.6 359.0v5.5M975.2 359.0v5.5M981.4 359.0v5.5M986.7 359.0v5.5M991.2 359.0v5.5M995.2 359.0v5.5M1022.4 359.0v5.5M1036.2 359.0v5.5M1046.0 359.0v5.5M1053.6 359.0v5.5M1059.8 359.0v5.5M1065.1 359.0v5.5M1069.6 359.0v5.5M1073.6 359.0v5.5M1100.8 359.0v5.5M1114.6 359.0v5.5M1124.4 359.0v5.5M1132.0 359.0v5.5M1138.2 359.0v5.5M1143.5 359.0v5.5M1148.0 359.0v5.5M1152.0 359.0v5.5" stroke="#111" stroke-width="4.1" fill="none"/>
<path d="M920.4 359.0v9.5M998.8 359.0v9.5M1077.2 359.0v9.5M1155.6 359.0v9.5" stroke="#111" stroke-width="4.1" fill="none"/>
<path d="M842.0 115.4H1155.6V359.0M997.4 115.4V359.0" stroke="#1a1a1a" stroke-width="1.4" fill="none"/>
<path d="M842.0 114.8V359.0" stroke="#111" stroke-width="1.8" fill="none"/>
<path d="M841.1 359.0H1156.3" stroke="#111" stroke-width="2" fill="none"/>
<text x="828.5" y="306.9" font-size="16.2" font-weight="bold" text-anchor="end" fill="#1a1a1a">10<tspan font-size="12.5" font-weight="normal" dy="-6.3">0</tspan></text>
<text transform="translate(912.2 379.2) scale(.87 1)" font-size="16.5" font-weight="bold" fill="#1a1a1a">10<tspan font-size="13" font-weight="normal" dy="-3.6">0</tspan></text>
<text x="828.5" y="245.6" font-size="16.2" font-weight="bold" text-anchor="end" fill="#1a1a1a">10<tspan font-size="12.5" font-weight="normal" dy="-6.3">1</tspan></text>
<text transform="translate(990.6 379.2) scale(.87 1)" font-size="16.5" font-weight="bold" fill="#1a1a1a">10<tspan font-size="13" font-weight="normal" dy="-3.6">1</tspan></text>
<text x="828.5" y="184.4" font-size="16.2" font-weight="bold" text-anchor="end" fill="#1a1a1a">10<tspan font-size="12.5" font-weight="normal" dy="-6.3">2</tspan></text>
<text transform="translate(1069.0 379.2) scale(.87 1)" font-size="16.5" font-weight="bold" fill="#1a1a1a">10<tspan font-size="13" font-weight="normal" dy="-3.6">2</tspan></text>
<text x="828.5" y="123.1" font-size="16.2" font-weight="bold" text-anchor="end" fill="#1a1a1a">10<tspan font-size="12.5" font-weight="normal" dy="-6.3">3</tspan></text>
<text transform="translate(1147.4 379.2) scale(.87 1)" font-size="16.5" font-weight="bold" fill="#1a1a1a">10<tspan font-size="13" font-weight="normal" dy="-3.6">3</tspan></text>
<text x="1000.8" y="412.0" font-size="17.5" font-weight="bold" text-anchor="middle" fill="#1a1a1a">DCF-DA 525nm</text>
<text transform="translate(781.0 239.2) rotate(-90)" font-size="17" font-weight="bold" text-anchor="middle" fill="#1a1a1a">FL3 log</text>
<text x="842.5" y="138.4" font-size="18.5" font-weight="bold" fill="#1a1a1a">A1</text>
<text x="852.5" y="162.4" font-size="19.2" font-weight="bold" fill="#1a1a1a" xml:space="preserve">7.8%</text>
<text x="997.8" y="138.4" font-size="18.5" font-weight="bold" fill="#1a1a1a">A2</text>
<text x="1002.8" y="162.4" font-size="19.2" font-weight="bold" fill="#1a1a1a" xml:space="preserve">92.2%</text>
<text x="994.8" y="96.8" font-size="23.4" text-anchor="middle" xml:space="preserve">0% FBS + TL32711 100nM</text>
</g>
<g id="plot3">
<g filter="url(#bl)" clip-path="url(#cp102)">
<clipPath id="cp102"><rect x="1260.4" y="115.0" width="311.1" height="239.0"/></clipPath>
<polygon points="1265.8,345.3 1272.6,340.7 1268.6,334.6 1261.7,339.1" fill="#fa0808" opacity="0.12"/>
<polygon points="1272.2,340.9 1279.0,336.3 1275.0,330.4 1268.2,334.8" fill="#fa0808" opacity="0.18"/>
<polygon points="1278.6,336.6 1285.4,331.9 1281.5,326.1 1274.7,330.6" fill="#fa0808" opacity="0.24"/>
<polygon points="1285.1,332.2 1290.6,328.3 1286.7,322.7 1281.1,326.4" fill="#fa0808" opacity="0.29"/>
<polygon points="1290.2,328.6 1295.7,324.7 1291.9,319.2 1286.3,322.9" fill="#fa0808" opacity="0.33"/>
<polygon points="1295.3,325.0 1300.8,321.1 1297.1,315.7 1291.5,319.5" fill="#fa0808" opacity="0.38"/>
<polygon points="1300.4,321.4 1305.9,317.5 1302.3,312.2 1296.7,316.0" fill="#fa0808" opacity="0.42"/>
<polygon points="1305.4,317.9 1310.9,314.2 1307.7,309.1 1302.0,312.4" fill="#fa0808" opacity="0.42"/>
<polygon points="1310.5,314.5 1315.9,310.8 1312.9,306.1 1307.3,309.4" fill="#fa0808" opacity="0.38"/>
<polygon points="1315.5,311.1 1320.9,307.4 1318.2,303.0 1312.5,306.3" fill="#fa0808" opacity="0.33"/>
<polygon points="1320.5,307.7 1326.0,304.0 1323.5,300.0 1317.8,303.2" fill="#fa0808" opacity="0.27"/>
<polygon points="1325.7,304.2 1331.5,299.9 1328.8,296.2 1322.9,300.3" fill="#fa0808" opacity="0.23"/>
<polygon points="1330.8,300.5 1336.7,296.2 1334.0,292.5 1328.1,296.7" fill="#fa0808" opacity="0.21"/>
<polygon points="1335.9,296.7 1341.8,292.5 1339.2,288.9 1333.3,293.0" fill="#fa0808" opacity="0.19"/>
<polygon points="1341.0,293.0 1346.9,288.7 1344.4,285.3 1338.5,289.4" fill="#fa0808" opacity="0.17"/>
<polygon points="1346.2,289.2 1352.0,285.0 1349.6,281.7 1343.7,285.8" fill="#fa0808" opacity="0.15"/>
<polygon points="1351.3,285.5 1357.1,281.2 1354.8,278.1 1348.9,282.2" fill="#fa0808" opacity="0.13"/>
<polygon points="1356.4,281.7 1362.2,277.5 1360.0,274.4 1354.1,278.6" fill="#fa0808" opacity="0.11"/>
<polygon points="1361.5,278.0 1367.2,273.6 1365.0,270.7 1359.3,275.0" fill="#fa0808" opacity="0.10"/>
<polygon points="1366.4,274.3 1372.1,269.9 1369.9,267.0 1364.2,271.3" fill="#fa0808" opacity="0.11"/>
<polygon points="1371.2,270.6 1376.9,266.2 1374.8,263.4 1369.0,267.7" fill="#fa0808" opacity="0.12"/>
<polygon points="1376.1,266.9 1381.8,262.6 1379.7,259.8 1373.9,264.0" fill="#fa0808" opacity="0.13"/>
<polygon points="1380.9,263.2 1386.6,258.9 1384.6,256.1 1378.8,260.4" fill="#fa0808" opacity="0.13"/>
<polygon points="1385.8,259.5 1391.5,255.2 1389.5,252.5 1383.7,256.8" fill="#fa0808" opacity="0.14"/>
<polygon points="1390.6,255.8 1396.3,251.5 1394.3,248.8 1388.6,253.1" fill="#fa0808" opacity="0.15"/>
<polygon points="1395.5,252.1 1401.2,247.8 1399.2,245.2 1393.5,249.5" fill="#fa0808" opacity="0.16"/>
<polygon points="1400.3,248.5 1406.0,244.1 1404.1,241.5 1398.4,245.8" fill="#fa0808" opacity="0.17"/>
<polygon points="1405.1,244.8 1414.4,239.3 1412.4,236.1 1403.3,242.1" fill="#fa0808" opacity="0.60"/>
<polygon points="1414.3,239.3 1420.5,235.0 1418.1,231.8 1412.1,236.3" fill="#fa0808" opacity="0.75"/>
<polygon points="1419.7,235.6 1425.9,231.3 1423.4,227.8 1417.4,232.3" fill="#fa0808" opacity="0.75"/>
<polygon points="1425.1,231.8 1431.3,227.5 1428.7,223.9 1422.7,228.4" fill="#fa0808" opacity="0.75"/>
<polygon points="1430.5,228.0 1436.7,223.7 1433.9,219.9 1427.9,224.4" fill="#fa0808" opacity="0.75"/>
<polygon points="1435.9,224.2 1442.1,219.9 1439.2,215.9 1433.2,220.5" fill="#fa0808" opacity="0.75"/>
<polygon points="1441.4,220.5 1447.5,216.2 1444.5,212.0 1438.5,216.5" fill="#fa0808" opacity="0.75"/>
<polygon points="1446.8,216.7 1452.9,212.4 1449.8,208.0 1443.7,212.5" fill="#fa0808" opacity="0.75"/>
<polygon points="1452.0,213.0 1458.3,209.0 1455.5,204.6 1449.2,208.5" fill="#fa0808" opacity="0.75"/>
<polygon points="1457.5,209.5 1463.8,205.4 1461.1,201.1 1454.7,205.1" fill="#fa0808" opacity="0.75"/>
<polygon points="1463.0,205.9 1469.2,201.8 1466.6,197.7 1460.3,201.6" fill="#fa0808" opacity="0.75"/>
<polygon points="1468.5,202.3 1474.7,198.3 1472.2,194.3 1465.8,198.2" fill="#fa0808" opacity="0.75"/>
<polygon points="1473.9,198.8 1480.2,194.7 1477.8,190.8 1471.4,194.8" fill="#fa0808" opacity="0.75"/>
<polygon points="1479.4,195.2 1485.7,191.2 1483.3,187.4 1477.0,191.3" fill="#fa0808" opacity="0.75"/>
<polygon points="1484.9,191.6 1491.2,187.6 1488.9,184.0 1482.5,187.9" fill="#fa0808" opacity="0.75"/>
<polygon points="1490.5,188.0 1495.8,184.1 1493.5,180.8 1488.0,184.5" fill="#fa0808" opacity="0.75"/>
<polygon points="1495.4,184.3 1500.7,180.4 1498.7,177.4 1493.1,181.1" fill="#fa0808" opacity="0.75"/>
<polygon points="1500.3,180.7 1505.7,176.7 1503.8,174.0 1498.3,177.7" fill="#fa0808" opacity="0.75"/>
<polygon points="1505.3,177.0 1510.6,173.0 1508.9,170.6 1503.4,174.3" fill="#fa0808" opacity="0.75"/>
<polygon points="1510.2,173.3 1516.2,169.1 1514.7,166.9 1508.5,170.9" fill="#fa0808" opacity="0.75"/>
<polygon points="1515.9,169.3 1521.9,165.1 1520.5,163.1 1514.4,167.1" fill="#fa0808" opacity="0.75"/>
<polygon points="1521.5,165.4 1527.6,161.2 1526.4,159.4 1520.2,163.4" fill="#fa0808" opacity="0.75"/>
<polygon points="1527.2,161.4 1533.1,157.2 1531.9,155.5 1526.0,159.6" fill="#fa0808" opacity="0.74"/>
<polygon points="1532.9,157.3 1538.7,153.1 1537.6,151.6 1531.7,155.7" fill="#fa0808" opacity="0.56"/>
<polygon points="1538.5,153.3 1544.5,149.1 1543.5,147.6 1537.4,151.7" fill="#fa0808" opacity="0.38"/>
<polygon points="1544.3,149.3 1550.3,145.1 1549.2,143.6 1543.2,147.7" fill="#fa0808" opacity="0.23"/>
<polygon points="1550.2,145.2 1555.4,140.7 1554.3,139.4 1548.9,143.8" fill="#fa0808" opacity="0.13"/>
<polygon points="1555.1,141.0 1560.4,136.5 1559.3,135.2 1554.0,139.6" fill="#fa0808" opacity="0.09"/>
<polygon points="1560.1,136.8 1565.3,132.3 1564.3,131.0 1559.0,135.5" fill="#fa0808" opacity="0.05"/>
</g>
<path d="M1382 263h1.25M1356 277h1.25M1327 296h1.25M1342 285h1.25M1527 157h1.25M1456 214h1.25M1302 323h1.25M1344 292h1.25M1308 307h1.25M1281 324h1.25M1333 290h1.25M1433 229h1.25M1394 254h1.25M1311 318h1.25M1291 332h1.25M1502 184h1.25M1278 339h1.25M1290 331h1.25M1358 275h1.25M1460 197h1.25M1274 329h1.25M1412 231h1.25M1269 347h1.25M1387 251h1.25M1304 323h1.25M1421 238h1.25M1298 312h1.25M1388 259h1.25M1467 208h1.25M1397 252h1.25M1263 334h1.25M1287 320h1.25M1502 182h1.25M1280 341h1.25M1279 325h1.25M1546 149h1.25M1297 327h1.25M1263 331h1.25M1503 172h1.25M1438 214h1.25M1544 146h1.25M1314 317h1.25M1555 142h1.25M1357 276h1.25M1432 229h1.25M1447 221h1.25M1470 205h1.25M1330 303h1.25M1328 304h1.25M1402 242h1.25M1321 313h1.25M1482 183h1.25M1267 333h1.25" stroke="#fa0808" stroke-width="1.25" fill="none" opacity="0.33"/>
<path d="M1387 258h1.25M1397 250h1.25M1390 257h1.25M1286 333h1.25M1275 337h1.25M1366 270h1.25M1549 144h1.25M1428 222h1.25M1338 289h1.25M1553 141h1.25M1325 305h1.25M1385 257h1.25M1280 335h1.25M1470 203h1.25M1464 208h1.25M1325 304h1.25M1369 269h1.25M1392 254h1.25M1336 296h1.25M1450 218h1.25M1446 220h1.25M1428 232h1.25M1267 343h1.25M1401 248h1.25M1280 326h1.25M1270 341h1.25M1407 244h1.25M1453 204h1.25M1469 195h1.25M1462 199h1.25M1439 225h1.25M1370 269h1.25M1415 232h1.25M1268 335h1.25M1325 299h1.25M1551 143h1.25M1436 216h1.25M1272 332h1.25M1410 242h1.25M1318 311h1.25M1376 264h1.25M1332 293h1.25M1271 333h1.25M1411 242h1.25M1527 158h1.25M1308 318h1.25M1440 214h1.25M1291 317h1.25M1426 223h1.25M1330 296h1.25M1263 339h1.25M1333 299h1.25M1403 246h1.25M1391 253h1.25M1469 204h1.25M1298 324h1.25M1390 254h1.25M1399 246h1.25M1267 339h1.25M1371 268h1.25M1281 327h1.25M1296 325h1.25M1378 263h1.25M1354 283h1.25M1312 315h1.25M1365 273h1.25M1321 307h1.25M1299 323h1.25M1351 285h1.25M1441 223h1.25M1554 142h1.25M1340 293h1.25M1359 277h1.25M1474 191h1.25M1293 328h1.25M1265 339h1.25M1384 261h1.25M1533 154h1.25M1391 252h1.25M1430 220h1.25M1361 275h1.25M1478 199h1.25M1541 152h1.25M1334 298h1.25M1287 332h1.25M1409 243h1.25M1418 238h1.25M1334 293h1.25M1362 275h1.25M1388 254h1.25M1380 261h1.25M1510 169h1.25M1335 292h1.25M1391 255h1.25M1445 209h1.25M1404 246h1.25M1377 264h1.25M1264 338h1.25M1328 296h1.25M1293 329h1.25M1375 263h1.25M1320 309h1.25M1291 319h1.25M1296 315h1.25M1362 273h1.25M1475 190h1.25M1355 280h1.25M1356 280h1.25M1355 282h1.25M1389 253h1.25M1331 294h1.25M1267 338h1.25M1459 210h1.25M1299 323h1.25M1367 273h1.25M1353 282h1.25M1320 302h1.25M1383 259h1.25M1335 297h1.25M1298 323h1.25M1325 305h1.25M1402 243h1.25M1349 283h1.25M1288 320h1.25M1377 263h1.25M1285 324h1.25M1314 313h1.25M1350 285h1.25M1305 319h1.25M1436 226h1.25M1278 328h1.25M1336 297h1.25M1358 279h1.25M1304 310h1.25M1335 297h1.25M1354 282h1.25M1393 254h1.25M1285 323h1.25M1539 150h1.25M1270 335h1.25M1266 338h1.25M1439 224h1.25M1381 262h1.25M1378 265h1.25M1489 182h1.25M1325 305h1.25M1304 310h1.25M1352 284h1.25M1278 327h1.25M1296 325h1.25M1407 244h1.25M1354 281h1.25M1451 205h1.25M1284 324h1.25M1370 269h1.25M1358 276h1.25M1287 333h1.25M1433 218h1.25M1451 216h1.25M1285 323h1.25M1305 310h1.25M1493 188h1.25M1359 276h1.25M1265 344h1.25M1320 308h1.25M1472 203h1.25M1377 263h1.25M1363 276h1.25M1375 263h1.25M1365 273h1.25M1334 298h1.25" stroke="#fa0808" stroke-width="1.25" fill="none" opacity="0.58"/>
<path d="M1316 307h1.25M1471 195h1.25M1471 198h1.25M1315 306h1.25M1408 239h1.25M1416 234h1.25M1478 190h1.25M1469 202h1.25M1447 210h1.25M1503 177h1.25M1470 196h1.25M1513 171h1.25M1420 230h1.25M1407 240h1.25M1419 234h1.25M1429 227h1.25M1460 207h1.25M1500 181h1.25M1468 198h1.25M1453 210h1.25M1469 199h1.25M1430 226h1.25M1414 237h1.25M1470 202h1.25M1518 165h1.25M1309 314h1.25M1412 239h1.25M1422 231h1.25M1432 225h1.25M1488 187h1.25M1496 180h1.25M1529 159h1.25M1484 193h1.25M1444 213h1.25M1487 189h1.25M1488 187h1.25M1461 206h1.25M1295 324h1.25M1300 319h1.25M1445 215h1.25M1499 178h1.25M1452 210h1.25M1503 175h1.25M1421 230h1.25M1427 227h1.25M1412 237h1.25M1322 306h1.25M1484 191h1.25M1482 193h1.25M1458 209h1.25M1420 237h1.25M1464 198h1.25M1457 205h1.25M1439 222h1.25M1496 179h1.25M1476 192h1.25M1322 302h1.25M1493 186h1.25M1531 158h1.25M1419 236h1.25M1292 322h1.25M1460 200h1.25M1501 179h1.25M1453 208h1.25M1277 331h1.25M1470 199h1.25M1280 330h1.25M1475 194h1.25M1476 195h1.25M1438 219h1.25M1449 214h1.25M1465 202h1.25M1467 203h1.25M1469 195h1.25M1412 241h1.25M1459 206h1.25M1471 198h1.25M1542 151h1.25M1530 158h1.25M1489 186h1.25M1466 198h1.25M1329 299h1.25M1470 199h1.25M1434 221h1.25M1516 170h1.25M1493 183h1.25M1445 209h1.25M1483 193h1.25M1476 196h1.25M1412 236h1.25M1273 337h1.25M1309 312h1.25M1437 221h1.25M1308 312h1.25M1445 215h1.25M1514 168h1.25M1475 194h1.25M1308 309h1.25M1445 213h1.25M1470 201h1.25M1283 328h1.25M1477 192h1.25M1484 191h1.25M1456 206h1.25M1504 176h1.25M1474 194h1.25M1528 160h1.25M1328 300h1.25M1414 237h1.25M1448 212h1.25M1453 206h1.25M1449 213h1.25M1484 192h1.25M1297 319h1.25M1497 183h1.25M1410 240h1.25M1298 320h1.25M1515 167h1.25M1511 170h1.25M1463 200h1.25M1479 191h1.25M1427 230h1.25M1291 327h1.25M1278 329h1.25M1512 173h1.25M1445 213h1.25M1397 249h1.25M1459 210h1.25M1465 200h1.25M1472 194h1.25M1413 234h1.25M1499 179h1.25M1447 210h1.25M1411 237h1.25M1453 204h1.25M1310 311h1.25M1463 204h1.25M1483 194h1.25M1415 240h1.25M1306 314h1.25M1384 258h1.25M1536 155h1.25M1497 181h1.25M1432 224h1.25M1467 200h1.25M1496 181h1.25M1307 310h1.25M1270 336h1.25M1539 151h1.25M1503 178h1.25M1326 303h1.25M1323 302h1.25M1308 314h1.25M1469 196h1.25M1460 203h1.25M1283 331h1.25M1410 239h1.25M1424 231h1.25M1469 201h1.25M1469 198h1.25M1438 215h1.25M1451 214h1.25M1483 191h1.25M1497 179h1.25M1444 219h1.25M1512 170h1.25M1470 198h1.25M1500 177h1.25M1330 300h1.25M1454 209h1.25M1316 306h1.25M1456 206h1.25M1448 212h1.25M1452 210h1.25M1480 189h1.25M1508 172h1.25M1459 204h1.25M1309 310h1.25M1511 170h1.25M1470 202h1.25M1427 230h1.25M1496 181h1.25M1454 208h1.25M1495 180h1.25M1343 289h1.25M1441 215h1.25M1312 309h1.25M1501 178h1.25M1509 175h1.25M1467 198h1.25M1531 158h1.25M1509 173h1.25M1295 319h1.25M1502 177h1.25M1479 193h1.25M1551 143h1.25M1475 195h1.25M1454 210h1.25M1403 243h1.25M1476 194h1.25M1435 221h1.25M1445 215h1.25M1418 233h1.25M1483 189h1.25M1438 221h1.25M1426 228h1.25M1474 196h1.25M1441 215h1.25M1514 169h1.25M1508 172h1.25M1292 327h1.25M1515 167h1.25M1412 237h1.25M1512 171h1.25M1461 204h1.25M1460 205h1.25M1472 196h1.25M1495 181h1.25M1489 187h1.25M1496 184h1.25M1471 196h1.25M1323 305h1.25M1436 220h1.25M1451 215h1.25M1453 213h1.25M1503 176h1.25M1277 334h1.25M1393 252h1.25M1533 158h1.25M1500 179h1.25M1507 173h1.25M1462 205h1.25M1478 198h1.25M1471 195h1.25M1507 174h1.25M1419 234h1.25M1458 209h1.25M1477 191h1.25M1436 224h1.25M1446 217h1.25M1435 224h1.25M1490 188h1.25M1480 193h1.25M1308 312h1.25M1433 221h1.25M1485 191h1.25M1341 291h1.25M1446 214h1.25M1491 185h1.25M1419 233h1.25M1463 199h1.25M1468 200h1.25M1473 196h1.25M1498 178h1.25M1436 222h1.25M1291 325h1.25M1520 164h1.25M1515 168h1.25M1485 186h1.25M1465 205h1.25M1423 232h1.25M1417 237h1.25M1497 178h1.25M1435 221h1.25M1471 198h1.25M1419 236h1.25M1470 197h1.25M1448 211h1.25M1451 212h1.25M1472 199h1.25M1440 220h1.25M1439 221h1.25M1435 226h1.25M1431 225h1.25M1325 302h1.25M1470 200h1.25M1445 218h1.25M1341 292h1.25M1393 253h1.25M1412 241h1.25M1287 326h1.25M1489 186h1.25M1448 215h1.25M1477 194h1.25M1411 240h1.25M1472 198h1.25M1290 321h1.25M1440 218h1.25M1421 231h1.25M1420 234h1.25M1429 222h1.25M1452 211h1.25M1450 213h1.25M1512 171h1.25M1505 174h1.25M1473 196h1.25M1451 208h1.25M1480 194h1.25M1440 219h1.25M1495 181h1.25M1312 312h1.25M1296 321h1.25M1495 179h1.25M1406 241h1.25M1452 211h1.25M1458 207h1.25M1442 214h1.25M1278 331h1.25M1480 193h1.25M1541 151h1.25M1443 214h1.25M1474 195h1.25M1415 239h1.25M1446 215h1.25M1466 202h1.25M1413 237h1.25M1308 315h1.25M1463 204h1.25M1441 221h1.25M1500 180h1.25M1463 203h1.25M1534 155h1.25M1436 216h1.25M1449 212h1.25M1506 176h1.25M1423 230h1.25M1479 193h1.25M1412 240h1.25M1484 191h1.25M1506 174h1.25M1473 199h1.25M1533 157h1.25M1457 211h1.25M1525 160h1.25M1516 167h1.25M1433 221h1.25M1494 183h1.25M1495 183h1.25M1512 169h1.25M1416 236h1.25M1434 222h1.25M1484 191h1.25M1475 194h1.25M1536 153h1.25M1446 215h1.25M1508 175h1.25M1453 207h1.25M1535 155h1.25M1473 196h1.25M1489 184h1.25M1428 226h1.25M1450 208h1.25M1491 186h1.25M1458 205h1.25M1485 187h1.25M1415 236h1.25M1299 318h1.25M1351 283h1.25M1477 193h1.25M1463 206h1.25M1415 236h1.25M1464 202h1.25M1309 312h1.25M1441 220h1.25M1422 233h1.25M1474 195h1.25M1505 177h1.25M1469 201h1.25M1458 204h1.25M1466 205h1.25M1515 168h1.25M1432 225h1.25M1407 243h1.25M1440 218h1.25M1533 156h1.25M1421 234h1.25M1476 195h1.25M1516 166h1.25M1446 215h1.25M1451 213h1.25M1431 226h1.25M1436 223h1.25M1473 197h1.25M1514 169h1.25M1463 204h1.25M1514 167h1.25M1494 182h1.25M1524 164h1.25M1493 183h1.25M1525 163h1.25M1387 257h1.25M1459 201h1.25M1440 218h1.25M1278 330h1.25M1457 208h1.25M1464 201h1.25M1451 209h1.25M1308 312h1.25M1491 187h1.25M1437 223h1.25M1332 296h1.25M1469 197h1.25M1310 312h1.25M1427 225h1.25M1497 181h1.25M1457 209h1.25M1296 324h1.25M1468 198h1.25M1294 319h1.25M1523 165h1.25M1500 177h1.25M1498 178h1.25M1440 217h1.25M1470 201h1.25M1535 154h1.25M1525 161h1.25M1419 234h1.25M1483 195h1.25M1486 190h1.25M1436 222h1.25M1443 218h1.25M1499 181h1.25M1503 176h1.25M1429 228h1.25M1296 323h1.25M1297 317h1.25M1304 312h1.25M1492 187h1.25M1489 185h1.25M1338 292h1.25M1430 226h1.25M1518 167h1.25M1480 191h1.25M1425 232h1.25M1467 199h1.25M1535 154h1.25M1492 184h1.25M1474 197h1.25M1294 322h1.25M1468 198h1.25M1453 210h1.25M1469 198h1.25M1488 187h1.25M1516 167h1.25M1464 204h1.25M1450 215h1.25M1502 176h1.25M1417 236h1.25M1488 185h1.25M1471 201h1.25M1472 198h1.25M1432 227h1.25M1414 238h1.25M1477 194h1.25M1444 216h1.25M1475 199h1.25M1451 206h1.25M1425 228h1.25M1417 236h1.25M1502 180h1.25M1426 225h1.25M1452 210h1.25M1488 188h1.25M1271 336h1.25M1424 228h1.25M1475 196h1.25M1312 308h1.25M1438 219h1.25M1500 182h1.25M1508 175h1.25M1440 218h1.25M1299 320h1.25M1464 202h1.25M1478 193h1.25M1439 219h1.25M1407 241h1.25M1482 188h1.25M1454 205h1.25M1456 211h1.25M1420 232h1.25M1435 223h1.25M1419 231h1.25M1304 315h1.25M1458 206h1.25M1444 212h1.25M1474 200h1.25M1284 328h1.25M1509 173h1.25M1426 230h1.25M1456 208h1.25M1458 206h1.25M1509 170h1.25M1492 184h1.25M1461 207h1.25M1469 199h1.25M1501 178h1.25M1491 186h1.25M1292 323h1.25M1478 190h1.25M1321 303h1.25M1491 186h1.25M1463 200h1.25M1310 313h1.25M1463 205h1.25M1445 213h1.25M1456 207h1.25M1451 209h1.25M1502 177h1.25M1430 227h1.25M1447 216h1.25M1473 199h1.25M1310 310h1.25M1293 320h1.25M1487 187h1.25M1428 227h1.25M1432 224h1.25M1459 209h1.25M1476 197h1.25M1342 291h1.25M1425 231h1.25M1489 184h1.25M1446 212h1.25M1466 205h1.25M1482 188h1.25M1440 217h1.25M1448 211h1.25M1302 318h1.25M1289 326h1.25M1453 211h1.25M1461 208h1.25M1450 211h1.25M1419 232h1.25M1480 193h1.25M1462 205h1.25M1466 200h1.25M1437 221h1.25M1461 206h1.25M1441 214h1.25M1407 243h1.25M1450 211h1.25M1456 209h1.25M1424 229h1.25M1485 190h1.25M1458 206h1.25M1427 229h1.25M1425 229h1.25M1492 183h1.25M1487 185h1.25M1279 331h1.25M1476 193h1.25M1442 220h1.25M1497 181h1.25M1425 231h1.25M1457 211h1.25M1494 184h1.25M1526 161h1.25M1413 239h1.25M1498 182h1.25M1418 234h1.25M1521 163h1.25M1445 210h1.25M1445 210h1.25M1300 319h1.25M1427 226h1.25M1293 320h1.25M1391 253h1.25M1511 172h1.25M1308 312h1.25M1509 173h1.25M1444 214h1.25M1324 301h1.25M1511 173h1.25M1308 316h1.25M1420 233h1.25M1470 198h1.25M1481 191h1.25M1515 169h1.25M1284 325h1.25M1418 235h1.25M1299 317h1.25M1308 310h1.25M1409 243h1.25M1495 183h1.25M1467 202h1.25M1467 199h1.25M1454 211h1.25M1460 206h1.25M1480 194h1.25M1285 327h1.25M1473 195h1.25M1471 198h1.25M1431 225h1.25M1477 194h1.25M1547 147h1.25M1415 235h1.25M1444 217h1.25M1450 206h1.25M1415 236h1.25M1528 161h1.25M1471 198h1.25M1479 193h1.25M1450 211h1.25M1502 176h1.25M1312 307h1.25M1416 233h1.25M1299 318h1.25M1473 198h1.25M1457 205h1.25M1415 239h1.25M1464 202h1.25M1462 201h1.25M1431 228h1.25M1427 226h1.25M1308 314h1.25M1305 319h1.25M1279 328h1.25M1442 221h1.25M1484 189h1.25M1299 322h1.25M1309 313h1.25M1522 165h1.25M1441 219h1.25M1425 230h1.25M1414 236h1.25M1476 193h1.25M1414 236h1.25M1299 314h1.25M1461 208h1.25M1307 315h1.25M1298 317h1.25M1329 300h1.25M1290 321h1.25M1461 205h1.25M1465 203h1.25M1499 179h1.25M1505 173h1.25M1288 323h1.25M1475 196h1.25M1465 200h1.25M1521 164h1.25M1416 237h1.25M1475 193h1.25M1453 208h1.25M1463 203h1.25M1300 321h1.25M1461 202h1.25M1467 200h1.25M1316 307h1.25M1299 319h1.25M1438 221h1.25M1492 184h1.25M1457 204h1.25M1415 236h1.25M1473 195h1.25M1292 322h1.25M1299 323h1.25M1521 165h1.25M1532 157h1.25M1517 167h1.25M1476 193h1.25M1277 333h1.25M1547 146h1.25M1422 231h1.25M1479 194h1.25M1295 319h1.25M1479 193h1.25M1448 208h1.25M1452 210h1.25M1462 205h1.25M1488 188h1.25M1478 191h1.25M1530 159h1.25M1509 173h1.25M1274 333h1.25M1442 219h1.25M1444 219h1.25M1508 172h1.25M1287 330h1.25M1492 185h1.25M1287 327h1.25M1442 216h1.25M1492 182h1.25M1435 225h1.25M1512 171h1.25M1297 319h1.25M1434 220h1.25M1277 333h1.25M1451 208h1.25M1496 180h1.25M1440 220h1.25M1478 195h1.25M1470 200h1.25M1526 160h1.25M1485 188h1.25M1462 206h1.25M1425 228h1.25M1488 189h1.25M1449 212h1.25M1459 205h1.25M1413 235h1.25M1463 204h1.25M1396 250h1.25M1482 188h1.25M1427 229h1.25M1464 203h1.25M1490 186h1.25M1480 196h1.25M1427 225h1.25M1498 180h1.25M1449 212h1.25M1460 204h1.25M1522 163h1.25M1504 175h1.25M1429 226h1.25M1517 169h1.25M1428 228h1.25M1468 203h1.25M1415 234h1.25M1487 188h1.25M1466 202h1.25M1462 203h1.25M1483 191h1.25M1458 204h1.25M1485 190h1.25M1433 226h1.25M1284 326h1.25M1281 334h1.25M1484 192h1.25M1494 185h1.25M1486 189h1.25M1453 207h1.25M1435 224h1.25M1493 184h1.25M1314 309h1.25M1525 161h1.25M1457 210h1.25M1472 198h1.25M1474 196h1.25M1536 154h1.25M1323 304h1.25M1470 199h1.25M1432 225h1.25M1472 197h1.25M1446 213h1.25M1453 208h1.25M1458 205h1.25M1417 234h1.25M1465 202h1.25M1478 191h1.25M1490 187h1.25M1496 181h1.25M1459 203h1.25M1413 238h1.25M1501 176h1.25M1425 228h1.25M1485 187h1.25M1312 314h1.25M1421 232h1.25M1286 328h1.25M1272 336h1.25M1460 204h1.25M1449 211h1.25M1286 325h1.25M1441 215h1.25M1451 211h1.25M1434 220h1.25M1484 189h1.25M1463 199h1.25M1492 184h1.25M1484 190h1.25M1527 160h1.25M1513 171h1.25M1423 233h1.25M1464 204h1.25M1412 237h1.25M1405 242h1.25M1422 232h1.25M1467 203h1.25M1425 228h1.25M1414 238h1.25M1442 216h1.25M1485 187h1.25M1508 173h1.25M1351 283h1.25M1409 241h1.25M1319 307h1.25M1312 310h1.25M1489 188h1.25M1453 208h1.25M1450 211h1.25M1278 329h1.25M1409 242h1.25M1485 193h1.25M1414 234h1.25M1466 200h1.25M1483 191h1.25M1415 236h1.25M1439 220h1.25M1435 224h1.25M1419 231h1.25M1526 161h1.25M1330 300h1.25M1494 181h1.25M1510 171h1.25M1308 314h1.25M1308 312h1.25M1424 230h1.25M1411 240h1.25M1388 256h1.25M1485 190h1.25M1295 323h1.25M1464 202h1.25M1317 304h1.25M1305 317h1.25M1456 208h1.25M1287 326h1.25M1514 168h1.25M1445 213h1.25M1451 212h1.25M1514 168h1.25M1297 320h1.25M1434 221h1.25M1461 203h1.25M1458 209h1.25M1506 174h1.25M1451 209h1.25M1473 196h1.25M1455 210h1.25M1472 197h1.25M1416 235h1.25M1419 232h1.25M1436 221h1.25M1471 197h1.25M1343 289h1.25M1426 229h1.25M1425 229h1.25M1416 235h1.25M1311 307h1.25M1456 207h1.25M1452 212h1.25M1494 185h1.25M1447 212h1.25M1430 224h1.25M1439 218h1.25M1509 171h1.25M1427 226h1.25M1508 174h1.25M1517 168h1.25M1438 220h1.25M1470 201h1.25M1329 297h1.25M1471 198h1.25M1515 168h1.25M1518 165h1.25M1405 241h1.25M1296 318h1.25M1487 191h1.25M1509 173h1.25M1424 232h1.25M1450 211h1.25M1280 331h1.25M1527 161h1.25M1494 185h1.25M1429 224h1.25M1441 217h1.25M1323 304h1.25M1469 201h1.25M1546 146h1.25M1475 197h1.25M1464 204h1.25M1272 338h1.25M1470 197h1.25M1504 174h1.25M1304 315h1.25M1463 201h1.25M1289 321h1.25M1432 226h1.25M1446 216h1.25M1530 158h1.25M1313 307h1.25M1466 201h1.25M1431 226h1.25M1288 323h1.25M1467 197h1.25M1330 297h1.25M1499 179h1.25M1469 200h1.25M1462 201h1.25M1501 179h1.25M1433 222h1.25M1437 222h1.25M1500 179h1.25M1430 228h1.25M1525 161h1.25M1516 168h1.25M1413 235h1.25M1504 176h1.25M1430 226h1.25M1477 193h1.25M1449 215h1.25M1465 203h1.25M1307 309h1.25M1426 226h1.25M1442 217h1.25M1438 223h1.25M1319 303h1.25M1410 238h1.25M1389 255h1.25M1499 178h1.25M1443 214h1.25M1446 212h1.25M1419 234h1.25M1462 206h1.25M1430 222h1.25M1309 314h1.25M1513 171h1.25M1315 308h1.25M1424 229h1.25M1459 204h1.25M1418 235h1.25M1471 197h1.25M1408 240h1.25M1442 218h1.25M1463 207h1.25M1464 201h1.25M1432 223h1.25M1443 212h1.25M1461 205h1.25M1447 210h1.25M1515 171h1.25M1438 224h1.25M1523 162h1.25M1278 329h1.25M1521 165h1.25M1461 203h1.25M1508 173h1.25M1344 287h1.25M1446 209h1.25M1434 223h1.25M1424 233h1.25M1272 336h1.25M1405 241h1.25M1441 222h1.25M1436 219h1.25M1286 328h1.25M1473 199h1.25M1497 182h1.25M1526 160h1.25M1436 219h1.25M1478 194h1.25M1467 201h1.25M1496 183h1.25M1308 316h1.25M1450 209h1.25M1469 199h1.25M1424 230h1.25M1493 185h1.25M1460 209h1.25M1277 331h1.25M1301 316h1.25M1351 283h1.25M1391 252h1.25M1347 286h1.25M1286 329h1.25M1430 227h1.25M1450 208h1.25M1510 173h1.25M1350 284h1.25M1483 189h1.25M1426 227h1.25M1414 239h1.25M1447 211h1.25M1461 202h1.25M1467 202h1.25M1305 314h1.25M1499 182h1.25M1484 191h1.25M1544 148h1.25M1469 198h1.25M1457 206h1.25M1450 211h1.25M1418 235h1.25M1519 164h1.25M1433 221h1.25M1533 157h1.25M1284 332h1.25M1496 182h1.25M1312 311h1.25M1491 185h1.25M1435 221h1.25M1500 181h1.25M1295 325h1.25M1452 214h1.25M1422 234h1.25M1313 309h1.25M1493 186h1.25M1507 175h1.25M1456 207h1.25M1440 218h1.25M1418 232h1.25M1460 205h1.25M1453 208h1.25M1413 236h1.25M1426 228h1.25M1419 234h1.25M1487 190h1.25M1508 171h1.25M1285 325h1.25M1334 295h1.25M1470 198h1.25M1444 215h1.25M1421 234h1.25M1290 324h1.25M1446 210h1.25M1471 197h1.25M1472 195h1.25M1505 176h1.25M1288 329h1.25M1498 179h1.25M1417 233h1.25M1489 186h1.25M1307 314h1.25M1436 222h1.25M1497 180h1.25M1472 196h1.25M1470 201h1.25M1418 234h1.25M1429 226h1.25M1514 170h1.25M1414 239h1.25M1456 208h1.25M1431 223h1.25M1314 309h1.25M1287 328h1.25M1435 223h1.25M1482 188h1.25M1468 203h1.25M1460 206h1.25M1526 160h1.25M1295 325h1.25M1498 181h1.25M1401 246h1.25M1532 156h1.25M1492 184h1.25M1453 210h1.25M1501 177h1.25M1472 197h1.25M1446 213h1.25M1517 165h1.25M1448 212h1.25M1418 236h1.25M1336 293h1.25M1531 159h1.25M1503 179h1.25M1443 215h1.25M1451 213h1.25M1428 227h1.25M1490 184h1.25M1476 194h1.25M1417 237h1.25M1458 204h1.25M1450 209h1.25M1425 226h1.25M1497 179h1.25M1468 200h1.25M1439 220h1.25M1441 218h1.25M1516 168h1.25M1489 186h1.25M1499 178h1.25M1477 196h1.25M1297 319h1.25M1483 189h1.25M1309 315h1.25M1423 230h1.25M1420 233h1.25M1320 302h1.25M1470 200h1.25M1453 207h1.25M1465 202h1.25M1329 299h1.25M1489 187h1.25M1439 220h1.25M1298 318h1.25M1532 157h1.25M1469 199h1.25M1505 176h1.25M1458 205h1.25M1494 183h1.25M1342 290h1.25M1436 219h1.25M1415 236h1.25M1490 186h1.25M1406 241h1.25M1474 198h1.25M1419 233h1.25M1446 216h1.25M1499 178h1.25M1454 212h1.25M1507 174h1.25M1409 243h1.25M1290 321h1.25M1469 198h1.25M1304 318h1.25M1297 320h1.25M1502 178h1.25M1489 189h1.25M1501 178h1.25M1445 213h1.25M1447 217h1.25M1468 202h1.25M1536 154h1.25M1469 199h1.25M1489 188h1.25M1481 190h1.25M1453 210h1.25M1291 320h1.25M1481 190h1.25M1478 197h1.25M1504 176h1.25M1314 311h1.25M1504 177h1.25M1449 211h1.25M1480 190h1.25M1421 232h1.25M1439 222h1.25M1315 310h1.25M1499 178h1.25M1442 215h1.25M1318 308h1.25M1484 189h1.25M1333 296h1.25M1446 213h1.25M1490 184h1.25M1456 206h1.25M1473 196h1.25M1306 312h1.25M1453 209h1.25M1460 206h1.25M1408 238h1.25M1489 187h1.25M1530 159h1.25M1526 160h1.25M1435 224h1.25M1431 229h1.25M1453 208h1.25M1451 214h1.25M1497 182h1.25M1476 193h1.25M1438 220h1.25M1463 203h1.25M1471 197h1.25M1463 203h1.25M1516 169h1.25M1490 190h1.25M1438 223h1.25M1270 337h1.25M1431 222h1.25M1520 167h1.25M1444 216h1.25M1441 217h1.25M1471 197h1.25M1461 205h1.25M1439 218h1.25M1296 324h1.25M1413 235h1.25M1478 192h1.25M1429 226h1.25M1496 182h1.25M1498 178h1.25M1458 206h1.25M1455 208h1.25M1470 200h1.25M1293 320h1.25M1436 224h1.25M1497 184h1.25M1298 321h1.25M1529 159h1.25M1446 216h1.25M1422 231h1.25M1474 197h1.25M1477 194h1.25M1510 171h1.25M1440 219h1.25M1274 334h1.25M1473 200h1.25M1313 313h1.25M1430 230h1.25M1434 225h1.25M1442 218h1.25M1292 320h1.25M1498 179h1.25M1438 222h1.25M1502 179h1.25M1407 240h1.25M1297 323h1.25M1478 196h1.25M1504 174h1.25M1388 256h1.25M1428 225h1.25M1398 248h1.25M1465 206h1.25M1432 221h1.25M1463 205h1.25M1480 191h1.25M1445 217h1.25M1480 192h1.25M1295 321h1.25M1424 231h1.25M1297 324h1.25M1496 183h1.25M1514 171h1.25M1486 192h1.25M1500 182h1.25M1287 325h1.25M1293 322h1.25M1462 204h1.25M1460 203h1.25M1320 308h1.25M1509 172h1.25M1499 181h1.25M1504 176h1.25M1493 181h1.25M1273 334h1.25M1294 318h1.25M1540 151h1.25M1285 329h1.25M1460 205h1.25M1431 226h1.25M1290 322h1.25M1483 193h1.25M1440 215h1.25M1474 196h1.25M1300 318h1.25M1480 190h1.25M1422 229h1.25M1304 318h1.25M1531 157h1.25M1446 215h1.25M1488 191h1.25M1429 224h1.25M1451 214h1.25M1429 223h1.25M1515 168h1.25M1423 228h1.25M1471 198h1.25M1521 163h1.25M1460 208h1.25M1521 165h1.25M1434 224h1.25M1405 243h1.25M1511 170h1.25M1408 241h1.25M1466 206h1.25M1433 221h1.25M1436 224h1.25M1508 174h1.25M1519 166h1.25M1457 204h1.25M1322 304h1.25M1522 165h1.25M1412 236h1.25M1312 309h1.25M1448 210h1.25M1441 219h1.25M1446 211h1.25M1437 221h1.25M1485 186h1.25M1517 166h1.25M1334 296h1.25M1481 192h1.25M1447 212h1.25M1459 204h1.25M1531 158h1.25M1299 320h1.25M1445 213h1.25M1492 187h1.25M1277 336h1.25M1431 222h1.25M1309 313h1.25M1476 197h1.25M1491 183h1.25M1452 212h1.25M1499 178h1.25M1478 192h1.25M1456 211h1.25M1413 237h1.25M1420 233h1.25M1286 331h1.25M1450 214h1.25M1335 294h1.25M1478 194h1.25M1415 237h1.25M1299 320h1.25M1521 164h1.25M1468 202h1.25M1484 188h1.25M1486 190h1.25M1304 315h1.25M1328 298h1.25M1307 310h1.25M1447 210h1.25M1428 230h1.25M1323 301h1.25M1348 285h1.25M1330 299h1.25M1432 228h1.25M1439 219h1.25M1415 235h1.25M1445 211h1.25M1478 190h1.25M1479 191h1.25M1444 219h1.25M1475 198h1.25M1473 200h1.25M1477 194h1.25M1427 229h1.25M1438 220h1.25M1514 170h1.25M1446 214h1.25M1310 309h1.25M1469 200h1.25M1444 216h1.25M1503 175h1.25M1486 189h1.25M1458 207h1.25M1435 220h1.25M1405 242h1.25M1413 240h1.25M1283 329h1.25M1487 187h1.25M1517 167h1.25M1453 208h1.25M1499 179h1.25M1479 190h1.25M1457 209h1.25M1407 241h1.25M1432 226h1.25M1428 227h1.25M1510 173h1.25M1409 239h1.25M1414 236h1.25M1316 305h1.25M1473 197h1.25M1481 193h1.25M1288 326h1.25M1478 198h1.25M1435 222h1.25M1471 200h1.25M1505 175h1.25M1460 207h1.25M1426 229h1.25M1419 234h1.25M1307 314h1.25M1315 309h1.25M1444 214h1.25M1462 207h1.25M1456 206h1.25M1419 230h1.25M1437 220h1.25M1449 213h1.25M1433 222h1.25M1516 167h1.25M1493 183h1.25M1317 304h1.25M1457 209h1.25M1486 187h1.25M1524 163h1.25M1487 190h1.25M1429 231h1.25M1484 190h1.25M1506 171h1.25M1454 211h1.25M1466 198h1.25M1286 327h1.25M1314 310h1.25M1448 211h1.25M1296 322h1.25M1304 313h1.25M1443 217h1.25M1436 219h1.25M1486 192h1.25M1489 183h1.25M1464 206h1.25M1448 211h1.25M1543 148h1.25M1488 187h1.25M1386 257h1.25M1479 192h1.25M1497 180h1.25M1455 208h1.25M1435 225h1.25M1540 150h1.25M1477 194h1.25M1402 244h1.25M1416 236h1.25M1418 235h1.25M1330 298h1.25M1444 218h1.25M1475 193h1.25M1414 238h1.25M1517 167h1.25M1472 198h1.25M1431 224h1.25M1449 211h1.25M1293 326h1.25M1439 221h1.25M1327 302h1.25M1335 295h1.25M1474 193h1.25M1543 149h1.25M1295 319h1.25M1462 205h1.25M1469 200h1.25M1462 204h1.25M1341 290h1.25M1459 203h1.25M1434 223h1.25M1429 227h1.25M1438 217h1.25M1321 306h1.25M1415 235h1.25M1438 222h1.25M1308 309h1.25M1431 224h1.25M1301 316h1.25M1424 229h1.25M1447 215h1.25M1427 229h1.25M1446 214h1.25M1445 215h1.25M1463 199h1.25M1475 194h1.25M1495 182h1.25M1417 238h1.25M1461 204h1.25M1448 211h1.25M1493 182h1.25M1470 197h1.25M1411 240h1.25M1424 231h1.25M1338 291h1.25M1397 249h1.25M1518 166h1.25M1488 187h1.25M1474 196h1.25M1510 172h1.25M1533 155h1.25M1474 199h1.25M1445 217h1.25M1410 240h1.25M1518 166h1.25M1497 180h1.25M1427 229h1.25M1297 322h1.25M1506 175h1.25M1273 336h1.25M1280 333h1.25M1481 193h1.25M1307 312h1.25M1274 337h1.25M1294 321h1.25M1451 209h1.25M1488 187h1.25M1457 205h1.25M1482 190h1.25M1503 179h1.25M1513 171h1.25M1492 187h1.25M1502 177h1.25M1513 169h1.25M1475 198h1.25M1464 204h1.25M1313 312h1.25M1476 193h1.25M1296 319h1.25M1471 196h1.25M1511 169h1.25M1420 234h1.25M1466 199h1.25M1282 327h1.25M1468 201h1.25M1300 315h1.25M1460 203h1.25M1473 195h1.25M1474 198h1.25M1475 197h1.25M1397 250h1.25M1510 173h1.25M1421 235h1.25M1495 183h1.25M1484 192h1.25M1428 224h1.25M1420 231h1.25M1422 233h1.25M1416 236h1.25M1479 196h1.25M1463 204h1.25M1328 301h1.25M1474 196h1.25M1483 189h1.25M1489 186h1.25M1470 201h1.25M1486 188h1.25M1453 206h1.25M1439 220h1.25M1417 236h1.25M1490 187h1.25M1531 156h1.25M1283 332h1.25M1427 227h1.25M1484 189h1.25M1439 221h1.25M1474 200h1.25M1459 205h1.25M1507 175h1.25M1458 204h1.25M1477 197h1.25M1469 200h1.25M1308 314h1.25M1409 243h1.25M1473 196h1.25M1473 196h1.25M1492 185h1.25M1523 163h1.25M1334 296h1.25M1299 319h1.25M1501 179h1.25M1490 186h1.25M1300 321h1.25M1443 212h1.25M1428 226h1.25M1469 199h1.25M1493 184h1.25M1470 196h1.25M1322 304h1.25M1467 201h1.25M1479 193h1.25M1458 201h1.25M1345 288h1.25M1412 239h1.25M1458 210h1.25M1447 213h1.25M1441 216h1.25M1426 227h1.25M1420 234h1.25M1434 223h1.25M1443 213h1.25M1427 226h1.25M1426 228h1.25M1469 200h1.25M1419 231h1.25M1430 225h1.25M1482 193h1.25M1438 218h1.25M1412 236h1.25M1437 220h1.25M1455 206h1.25M1344 288h1.25M1420 233h1.25M1511 171h1.25M1446 215h1.25M1478 193h1.25M1491 185h1.25M1465 201h1.25M1482 189h1.25M1514 168h1.25M1501 176h1.25M1296 322h1.25M1459 205h1.25M1432 228h1.25M1324 301h1.25M1464 200h1.25M1420 230h1.25M1484 191h1.25M1475 197h1.25M1486 192h1.25M1453 212h1.25M1458 207h1.25M1328 301h1.25M1486 186h1.25M1455 212h1.25M1489 189h1.25M1529 159h1.25M1401 246h1.25M1450 215h1.25M1471 195h1.25M1464 203h1.25M1487 186h1.25M1457 203h1.25M1460 202h1.25M1423 229h1.25M1477 197h1.25M1430 224h1.25M1449 215h1.25M1458 205h1.25M1453 209h1.25M1522 165h1.25M1285 332h1.25M1454 207h1.25M1320 307h1.25M1459 207h1.25M1295 324h1.25M1424 230h1.25M1420 230h1.25M1491 189h1.25M1500 178h1.25M1430 223h1.25M1308 313h1.25M1507 172h1.25M1510 171h1.25M1475 193h1.25M1470 199h1.25M1467 200h1.25M1447 214h1.25M1511 169h1.25M1447 214h1.25M1444 216h1.25M1410 240h1.25M1482 192h1.25M1328 300h1.25M1317 309h1.25M1442 218h1.25M1499 178h1.25M1297 318h1.25M1457 207h1.25M1315 309h1.25M1515 170h1.25M1475 193h1.25M1492 183h1.25M1509 174h1.25M1404 243h1.25M1495 182h1.25M1473 200h1.25M1488 185h1.25M1503 175h1.25M1442 220h1.25M1452 205h1.25M1507 175h1.25M1323 305h1.25M1479 192h1.25M1484 189h1.25M1475 195h1.25M1415 238h1.25M1313 311h1.25M1301 318h1.25M1455 208h1.25M1491 185h1.25M1450 208h1.25M1499 181h1.25M1458 204h1.25M1527 159h1.25M1480 191h1.25M1539 153h1.25M1495 182h1.25M1534 155h1.25M1520 164h1.25M1289 324h1.25M1316 309h1.25M1528 159h1.25M1456 208h1.25M1485 186h1.25M1433 224h1.25M1545 148h1.25M1461 203h1.25M1475 194h1.25M1451 210h1.25M1322 303h1.25M1428 230h1.25M1516 168h1.25M1469 201h1.25M1491 184h1.25M1439 217h1.25M1477 193h1.25M1476 194h1.25M1453 212h1.25M1410 239h1.25M1429 228h1.25M1452 206h1.25M1451 211h1.25M1468 199h1.25M1496 179h1.25M1508 171h1.25M1482 191h1.25M1519 165h1.25M1326 299h1.25M1435 223h1.25M1516 168h1.25M1482 191h1.25M1420 236h1.25M1484 188h1.25M1470 197h1.25M1486 187h1.25M1433 225h1.25M1490 188h1.25M1538 152h1.25M1454 208h1.25M1428 226h1.25M1412 239h1.25M1427 228h1.25M1482 190h1.25M1389 256h1.25M1290 323h1.25M1432 225h1.25M1394 251h1.25M1483 188h1.25M1335 293h1.25M1446 217h1.25M1292 319h1.25M1466 199h1.25M1303 316h1.25M1291 327h1.25M1300 313h1.25M1429 226h1.25M1497 179h1.25M1483 191h1.25M1461 202h1.25M1277 334h1.25M1489 184h1.25M1484 187h1.25M1487 184h1.25M1511 173h1.25M1458 205h1.25M1297 318h1.25M1419 236h1.25M1502 178h1.25M1511 169h1.25M1350 284h1.25M1439 223h1.25M1503 179h1.25M1497 182h1.25M1511 171h1.25M1343 288h1.25M1460 206h1.25M1387 256h1.25M1351 284h1.25M1481 191h1.25M1441 213h1.25M1480 190h1.25M1299 314h1.25M1411 240h1.25M1502 177h1.25M1507 175h1.25M1503 174h1.25M1487 186h1.25M1410 239h1.25M1484 189h1.25M1410 237h1.25M1409 242h1.25M1447 212h1.25M1492 186h1.25M1455 211h1.25M1296 319h1.25M1504 176h1.25M1415 236h1.25M1437 220h1.25M1542 150h1.25M1483 190h1.25M1507 176h1.25M1509 171h1.25M1455 206h1.25M1491 187h1.25M1423 234h1.25M1460 205h1.25M1527 159h1.25M1445 215h1.25M1458 204h1.25M1446 218h1.25M1460 204h1.25M1411 237h1.25M1494 183h1.25M1446 215h1.25M1491 184h1.25M1506 174h1.25M1501 178h1.25M1504 174h1.25M1471 197h1.25M1487 188h1.25M1507 175h1.25M1472 195h1.25M1513 168h1.25M1428 230h1.25M1469 196h1.25M1461 202h1.25M1305 317h1.25M1434 222h1.25M1294 319h1.25M1524 161h1.25M1450 207h1.25M1326 299h1.25M1458 206h1.25M1426 229h1.25M1499 183h1.25M1286 324h1.25M1518 166h1.25M1446 213h1.25M1424 233h1.25M1433 223h1.25M1519 166h1.25M1488 184h1.25M1451 211h1.25M1450 212h1.25M1455 208h1.25M1470 197h1.25M1469 198h1.25M1529 158h1.25M1448 211h1.25M1450 210h1.25M1452 211h1.25M1446 215h1.25M1522 166h1.25M1422 233h1.25M1315 308h1.25M1482 195h1.25M1437 219h1.25M1457 209h1.25M1328 299h1.25M1505 178h1.25M1485 188h1.25M1458 207h1.25M1430 226h1.25M1475 195h1.25M1284 329h1.25M1448 210h1.25M1332 298h1.25M1426 232h1.25M1303 319h1.25M1314 306h1.25M1503 176h1.25M1423 230h1.25M1319 305h1.25M1463 203h1.25M1434 226h1.25M1432 226h1.25M1413 238h1.25M1447 210h1.25M1455 210h1.25M1472 199h1.25M1480 192h1.25M1473 196h1.25M1285 328h1.25M1508 172h1.25M1453 213h1.25M1486 189h1.25M1468 198h1.25M1469 195h1.25M1412 240h1.25M1459 206h1.25M1435 218h1.25M1454 208h1.25M1446 215h1.25M1320 303h1.25M1552 142h1.25M1530 157h1.25M1516 168h1.25M1450 214h1.25M1492 183h1.25M1300 321h1.25M1493 183h1.25M1425 229h1.25M1523 162h1.25M1434 223h1.25M1423 229h1.25M1528 160h1.25M1431 222h1.25M1468 201h1.25M1454 210h1.25M1478 190h1.25M1333 296h1.25M1294 326h1.25M1422 229h1.25M1503 178h1.25M1483 191h1.25M1466 202h1.25M1432 222h1.25M1464 206h1.25M1300 321h1.25M1445 218h1.25M1448 212h1.25M1471 196h1.25M1416 240h1.25M1418 234h1.25M1299 316h1.25M1303 315h1.25M1441 219h1.25M1424 232h1.25M1461 205h1.25M1422 233h1.25M1342 291h1.25M1478 194h1.25M1442 217h1.25M1310 310h1.25M1483 186h1.25M1509 170h1.25M1422 231h1.25M1451 208h1.25M1493 184h1.25M1463 199h1.25M1435 220h1.25M1427 229h1.25M1509 172h1.25" stroke="#fa0808" stroke-width="1.25" fill="none" opacity="0.85"/>
<polygon points="1407.1,240.8 1418.3,235.7 1436.9,223.6 1455.0,212.3 1472.9,200.5 1490.6,188.4 1508.3,176.2 1525.9,162.6 1546.2,146.6 1545.7,146.0 1524.7,161.0 1506.3,173.2 1487.9,184.1 1469.5,195.3 1451.4,206.7 1433.4,218.5 1415.9,232.2 1406.5,240.0" fill="#fa0808" opacity="0.93"/>
<path d="M1247.9 114.0H1259.4M1252.9 156.4H1259.4M1252.9 145.7H1259.4M1252.9 138.1H1259.4M1252.9 132.2H1259.4M1252.9 127.4H1259.4M1252.9 123.4H1259.4M1252.9 119.9H1259.4M1252.9 116.8H1259.4M1247.9 174.6H1259.4M1252.9 217.0H1259.4M1252.9 206.3H1259.4M1252.9 198.7H1259.4M1252.9 192.8H1259.4M1252.9 188.0H1259.4M1252.9 184.0H1259.4M1252.9 180.5H1259.4M1252.9 177.4H1259.4M1247.9 235.2H1259.4M1252.9 277.6H1259.4M1252.9 266.9H1259.4M1252.9 259.3H1259.4M1252.9 253.4H1259.4M1252.9 248.6H1259.4M1252.9 244.6H1259.4M1252.9 241.1H1259.4M1252.9 238.0H1259.4M1247.9 295.8H1259.4M1252.9 338.2H1259.4M1252.9 327.5H1259.4M1252.9 319.9H1259.4M1252.9 314.0H1259.4M1252.9 309.2H1259.4M1252.9 305.2H1259.4M1252.9 301.7H1259.4M1252.9 298.6H1259.4" stroke="#2a2a2a" stroke-width="1.3" fill="none"/>
<path d="M1283.0 355.0v5.5M1296.7 355.0v5.5M1306.5 355.0v5.5M1314.1 355.0v5.5M1320.3 355.0v5.5M1325.6 355.0v5.5M1330.1 355.0v5.5M1334.1 355.0v5.5M1361.2 355.0v5.5M1375.0 355.0v5.5M1384.8 355.0v5.5M1392.4 355.0v5.5M1398.6 355.0v5.5M1403.8 355.0v5.5M1408.4 355.0v5.5M1412.4 355.0v5.5M1439.5 355.0v5.5M1453.3 355.0v5.5M1463.1 355.0v5.5M1470.7 355.0v5.5M1476.9 355.0v5.5M1482.1 355.0v5.5M1486.6 355.0v5.5M1490.6 355.0v5.5M1517.8 355.0v5.5M1531.6 355.0v5.5M1541.4 355.0v5.5M1548.9 355.0v5.5M1555.1 355.0v5.5M1560.4 355.0v5.5M1564.9 355.0v5.5M1568.9 355.0v5.5" stroke="#111" stroke-width="4.1" fill="none"/>
<path d="M1337.7 355.0v9.5M1416.0 355.0v9.5M1494.2 355.0v9.5M1572.5 355.0v9.5" stroke="#111" stroke-width="4.1" fill="none"/>
<path d="M1259.4 114.0H1572.5V355.0M1415.0 114.0V355.0" stroke="#1a1a1a" stroke-width="1.4" fill="none"/>
<path d="M1259.4 113.4V355.0" stroke="#111" stroke-width="1.8" fill="none"/>
<path d="M1258.5 355.0H1573.2" stroke="#111" stroke-width="2" fill="none"/>
<text x="1245.9" y="303.5" font-size="16.2" font-weight="bold" text-anchor="end" fill="#1a1a1a">10<tspan font-size="12.5" font-weight="normal" dy="-6.3">0</tspan></text>
<text transform="translate(1329.5 375.2) scale(.87 1)" font-size="16.5" font-weight="bold" fill="#1a1a1a">10<tspan font-size="13" font-weight="normal" dy="-3.6">0</tspan></text>
<text x="1245.9" y="242.9" font-size="16.2" font-weight="bold" text-anchor="end" fill="#1a1a1a">10<tspan font-size="12.5" font-weight="normal" dy="-6.3">1</tspan></text>
<text transform="translate(1407.8 375.2) scale(.87 1)" font-size="16.5" font-weight="bold" fill="#1a1a1a">10<tspan font-size="13" font-weight="normal" dy="-3.6">1</tspan></text>
<text x="1245.9" y="182.3" font-size="16.2" font-weight="bold" text-anchor="end" fill="#1a1a1a">10<tspan font-size="12.5" font-weight="normal" dy="-6.3">2</tspan></text>
<text transform="translate(1486.0 375.2) scale(.87 1)" font-size="16.5" font-weight="bold" fill="#1a1a1a">10<tspan font-size="13" font-weight="normal" dy="-3.6">2</tspan></text>
<text x="1245.9" y="121.7" font-size="16.2" font-weight="bold" text-anchor="end" fill="#1a1a1a">10<tspan font-size="12.5" font-weight="normal" dy="-6.3">3</tspan></text>
<text transform="translate(1564.3 375.2) scale(.87 1)" font-size="16.5" font-weight="bold" fill="#1a1a1a">10<tspan font-size="13" font-weight="normal" dy="-3.6">3</tspan></text>
<text x="1418.2" y="408.0" font-size="17.5" font-weight="bold" text-anchor="middle" fill="#1a1a1a">DCF-DA 525nm</text>
<text transform="translate(1198.4 236.5) rotate(-90)" font-size="17" font-weight="bold" text-anchor="middle" fill="#1a1a1a">FL3 log</text>
<text x="1259.9" y="137.0" font-size="18.5" font-weight="bold" fill="#1a1a1a">A1</text>
<text x="1265.5" y="161.0" font-size="19.2" font-weight="bold" fill="#1a1a1a" xml:space="preserve">14.5%</text>
<text x="1415.4" y="137.0" font-size="18.5" font-weight="bold" fill="#1a1a1a">A2</text>
<text x="1420.4" y="161.0" font-size="19.2" font-weight="bold" fill="#1a1a1a" xml:space="preserve">85.5%</text>
<text x="1411.3" y="96.8" font-size="23.4" text-anchor="middle" xml:space="preserve">0% FBS + TNF-α 17ng/ml</text>
</g>
<g id="plot4">
<g filter="url(#bl)" clip-path="url(#cp103)">
<clipPath id="cp103"><rect x="424.0" y="472.5" width="314.0" height="241.5"/></clipPath>
<polygon points="432.9,713.7 438.7,708.8 431.0,699.0 424.9,703.6" fill="#fa0808" opacity="0.03"/>
<polygon points="437.6,709.7 443.4,704.8 435.8,695.3 429.8,699.9" fill="#fa0808" opacity="0.03"/>
<polygon points="442.3,705.8 448.1,700.9 440.7,691.6 434.7,696.2" fill="#fa0808" opacity="0.04"/>
<polygon points="447.0,701.8 452.8,696.9 445.6,687.9 439.6,692.5" fill="#fa0808" opacity="0.04"/>
<polygon points="451.7,697.9 457.5,693.0 450.5,684.2 444.4,688.8" fill="#fa0808" opacity="0.04"/>
<polygon points="456.4,693.9 462.2,689.0 455.4,680.5 449.3,685.1" fill="#fa0808" opacity="0.05"/>
<polygon points="461.1,690.0 466.9,685.1 460.3,676.8 454.2,681.4" fill="#fa0808" opacity="0.05"/>
<polygon points="465.8,686.0 471.6,681.2 465.2,673.1 459.1,677.7" fill="#fa0808" opacity="0.06"/>
<polygon points="470.5,682.1 476.3,677.2 470.0,669.4 464.0,674.0" fill="#fa0808" opacity="0.06"/>
<polygon points="475.1,678.2 481.0,673.3 474.9,665.7 468.9,670.3" fill="#fa0808" opacity="0.07"/>
<polygon points="479.8,674.2 485.7,669.3 479.8,662.0 473.8,666.6" fill="#fa0808" opacity="0.08"/>
<polygon points="484.5,670.3 490.3,665.4 484.7,658.3 478.6,662.9" fill="#fa0808" opacity="0.08"/>
<polygon points="489.4,666.2 494.1,661.5 488.8,655.3 483.4,659.3" fill="#fa0808" opacity="0.10"/>
<polygon points="493.8,661.8 498.6,657.1 493.7,651.5 488.4,655.6" fill="#fa0808" opacity="0.12"/>
<polygon points="498.2,657.5 503.0,652.8 498.7,647.7 493.3,651.8" fill="#fa0808" opacity="0.16"/>
<polygon points="502.7,653.1 507.5,648.4 503.7,644.0 498.3,648.0" fill="#fa0808" opacity="0.20"/>
<polygon points="507.0,648.8 513.4,643.3 510.1,639.2 503.3,644.2" fill="#fa0808" opacity="0.26"/>
<polygon points="513.1,643.6 519.4,638.1 516.4,634.4 509.7,639.5" fill="#fa0808" opacity="0.34"/>
<polygon points="519.1,638.4 525.5,632.9 522.8,629.6 516.0,634.7" fill="#fa0808" opacity="0.44"/>
<polygon points="524.6,633.5 530.9,630.6 529.2,626.9 522.9,629.6" fill="#fa0808" opacity="0.61"/>
<polygon points="530.6,630.7 536.9,627.8 535.3,624.3 529.0,627.0" fill="#fa0808" opacity="0.75"/>
<polygon points="536.9,627.7 542.8,623.7 540.7,620.5 534.8,624.6" fill="#fa0808" opacity="0.75"/>
<polygon points="541.9,624.3 547.9,620.3 545.7,617.1 539.8,621.2" fill="#fa0808" opacity="0.75"/>
<polygon points="547.0,620.9 552.9,616.9 550.7,613.6 544.8,617.7" fill="#fa0808" opacity="0.75"/>
<polygon points="552.0,617.5 557.9,613.5 555.7,610.2 549.8,614.2" fill="#fa0808" opacity="0.75"/>
<polygon points="557.0,614.1 563.0,610.0 560.7,606.7 554.8,610.8" fill="#fa0808" opacity="0.75"/>
<polygon points="562.1,610.7 568.0,606.6 565.7,603.2 559.8,607.3" fill="#fa0808" opacity="0.75"/>
<polygon points="567.1,607.2 573.0,603.2 570.7,599.8 564.8,603.9" fill="#fa0808" opacity="0.75"/>
<polygon points="572.1,603.8 578.0,599.8 575.6,596.3 569.8,600.4" fill="#fa0808" opacity="0.75"/>
<polygon points="577.1,600.4 583.1,596.4 580.6,592.8 574.7,596.9" fill="#fa0808" opacity="0.75"/>
<polygon points="582.0,597.1 588.0,593.7 585.7,589.8 579.9,593.4" fill="#fa0808" opacity="0.75"/>
<polygon points="587.6,594.0 593.6,590.6 591.1,586.5 585.3,590.1" fill="#fa0808" opacity="0.75"/>
<polygon points="593.1,590.9 599.1,587.5 596.5,583.1 590.7,586.7" fill="#fa0808" opacity="0.75"/>
<polygon points="598.7,587.8 604.7,584.4 601.9,579.8 596.1,583.4" fill="#fa0808" opacity="0.75"/>
<polygon points="604.3,584.6 609.8,581.1 607.0,576.7 601.4,580.1" fill="#fa0808" opacity="0.75"/>
<polygon points="609.4,581.3 614.9,577.8 612.2,573.5 606.6,576.9" fill="#fa0808" opacity="0.75"/>
<polygon points="614.5,578.1 620.0,574.5 617.4,570.3 611.8,573.8" fill="#fa0808" opacity="0.72"/>
<polygon points="619.6,574.8 625.2,571.3 622.6,567.2 617.0,570.6" fill="#fa0808" opacity="0.63"/>
<polygon points="624.8,571.5 631.0,567.2 628.5,563.4 622.1,567.5" fill="#fa0808" opacity="0.57"/>
<polygon points="630.3,567.7 636.5,563.4 634.1,559.8 627.7,563.9" fill="#fa0808" opacity="0.53"/>
<polygon points="635.7,563.9 642.0,559.6 639.7,556.2 633.3,560.3" fill="#fa0808" opacity="0.49"/>
<polygon points="641.2,560.1 647.4,555.8 645.3,552.6 638.9,556.7" fill="#fa0808" opacity="0.44"/>
<polygon points="646.6,556.4 652.9,552.1 650.8,549.0 644.5,553.1" fill="#fa0808" opacity="0.39"/>
<polygon points="652.1,552.6 658.3,548.3 656.4,545.4 650.1,549.5" fill="#fa0808" opacity="0.32"/>
<polygon points="657.6,548.8 663.8,544.5 662.0,541.9 655.7,545.9" fill="#fa0808" opacity="0.26"/>
<polygon points="663.1,545.0 669.3,540.3 667.5,537.9 661.2,542.4" fill="#fa0808" opacity="0.21"/>
<polygon points="668.6,540.9 674.8,536.2 673.1,533.9 666.7,538.4" fill="#fa0808" opacity="0.19"/>
<polygon points="674.0,536.8 680.3,532.1 678.7,529.9 672.3,534.4" fill="#fa0808" opacity="0.16"/>
<polygon points="679.5,532.7 685.8,528.0 684.2,525.9 677.9,530.4" fill="#fa0808" opacity="0.14"/>
<polygon points="685.0,528.5 691.2,523.9 689.8,521.9 683.5,526.5" fill="#fa0808" opacity="0.11"/>
<polygon points="690.5,524.4 696.7,519.8 695.4,517.9 689.0,522.5" fill="#fa0808" opacity="0.07"/>
<polygon points="695.9,520.3 702.2,515.6 700.9,513.9 694.6,518.5" fill="#fa0808" opacity="0.04"/>
</g>
<path d="M584 588h1.25M611 586h1.25M581 601h1.25M454 679h1.25M434 699h1.25M437 700h1.25M555 608h1.25M461 678h1.25M643 561h1.25M445 700h1.25M586 586h1.25M492 651h1.25M451 686h1.25M455 696h1.25M564 616h1.25M595 580h1.25M504 642h1.25M480 660h1.25M496 662h1.25M605 575h1.25M451 696h1.25M593 594h1.25M500 659h1.25M565 600h1.25M689 526h1.25M448 696h1.25M607 587h1.25M635 568h1.25M521 640h1.25M432 712h1.25M459 674h1.25M591 582h1.25M475 666h1.25M545 615h1.25M449 682h1.25M449 707h1.25M629 560h1.25M452 683h1.25M515 631h1.25M451 687h1.25M562 603h1.25M462 688h1.25M485 658h1.25M452 685h1.25M436 701h1.25M465 689h1.25M448 690h1.25M601 577h1.25M473 679h1.25M466 684h1.25M502 656h1.25M483 657h1.25M550 623h1.25M455 693h1.25M431 705h1.25M497 645h1.25M562 603h1.25M538 620h1.25M484 677h1.25M674 533h1.25M433 708h1.25M676 538h1.25M495 662h1.25M489 672h1.25M677 535h1.25M447 693h1.25M560 603h1.25M576 592h1.25M697 517h1.25M478 664h1.25M482 674h1.25M691 524h1.25M448 686h1.25M490 648h1.25M431 702h1.25M627 573h1.25M634 557h1.25M436 697h1.25M430 702h1.25M565 611h1.25M561 614h1.25M496 649h1.25M520 641h1.25M452 694h1.25M501 639h1.25M579 591h1.25M474 679h1.25M609 573h1.25M445 692h1.25M477 664h1.25M521 639h1.25M446 695h1.25M441 701h1.25M605 574h1.25M437 707h1.25M476 682h1.25M448 693h1.25M545 614h1.25M440 700h1.25M493 663h1.25M475 679h1.25M474 685h1.25M445 690h1.25M602 590h1.25" stroke="#fa0808" stroke-width="1.25" fill="none" opacity="0.33"/>
<path d="M691 524h1.25M488 663h1.25M550 620h1.25M673 535h1.25M459 682h1.25M521 637h1.25M594 592h1.25M627 571h1.25M592 584h1.25M582 600h1.25M469 676h1.25M499 655h1.25M506 642h1.25M546 623h1.25M531 632h1.25M499 654h1.25M502 654h1.25M648 551h1.25M489 659h1.25M494 656h1.25M610 583h1.25M458 687h1.25M539 628h1.25M688 525h1.25M678 534h1.25M482 663h1.25M491 663h1.25M488 660h1.25M481 665h1.25M495 652h1.25M473 669h1.25M497 650h1.25M692 521h1.25M617 569h1.25M596 592h1.25M646 558h1.25M492 658h1.25M492 662h1.25M615 569h1.25M592 594h1.25M687 526h1.25M454 691h1.25M684 526h1.25M470 673h1.25M469 678h1.25M456 687h1.25M490 658h1.25M476 672h1.25M492 662h1.25M462 678h1.25M493 653h1.25M583 599h1.25M675 536h1.25M650 549h1.25M638 556h1.25M486 662h1.25M463 681h1.25M494 655h1.25M631 560h1.25M497 649h1.25M532 624h1.25M580 592h1.25M491 657h1.25M601 589h1.25M635 558h1.25M480 672h1.25M474 669h1.25M479 670h1.25M598 590h1.25M510 648h1.25M688 526h1.25M510 647h1.25M500 646h1.25M686 526h1.25M513 635h1.25M567 600h1.25M465 679h1.25M665 540h1.25M465 677h1.25M466 678h1.25M629 570h1.25M456 686h1.25M466 682h1.25M589 595h1.25M487 663h1.25M489 660h1.25M475 670h1.25M470 673h1.25M487 661h1.25M505 650h1.25M521 638h1.25M560 605h1.25M667 538h1.25M635 567h1.25M510 646h1.25M602 588h1.25M497 648h1.25M456 685h1.25M680 532h1.25M601 589h1.25M519 631h1.25M562 603h1.25M677 531h1.25M603 577h1.25M590 584h1.25M469 676h1.25M685 526h1.25M676 534h1.25M576 603h1.25M544 616h1.25M492 662h1.25M620 577h1.25M488 660h1.25M516 642h1.25M648 550h1.25M502 652h1.25M601 579h1.25M464 684h1.25M507 649h1.25M478 665h1.25M558 607h1.25M480 663h1.25M492 656h1.25M662 546h1.25M523 629h1.25M514 635h1.25M464 679h1.25M548 622h1.25M459 685h1.25M662 542h1.25M604 587h1.25M450 692h1.25M664 540h1.25M470 679h1.25M456 688h1.25M454 689h1.25M484 666h1.25M473 676h1.25M497 658h1.25M570 598h1.25M650 548h1.25M515 643h1.25M494 652h1.25M459 683h1.25M532 632h1.25M475 673h1.25M467 680h1.25M476 671h1.25M673 534h1.25M515 634h1.25M491 662h1.25M498 655h1.25M648 556h1.25M481 669h1.25M493 657h1.25M523 636h1.25M508 648h1.25M475 667h1.25M495 657h1.25M475 671h1.25M471 672h1.25M494 651h1.25M676 535h1.25M485 661h1.25M469 678h1.25M490 655h1.25M566 601h1.25M471 675h1.25M592 593h1.25M521 637h1.25M493 662h1.25M581 600h1.25M497 659h1.25M456 683h1.25M502 652h1.25M631 561h1.25M449 693h1.25M460 683h1.25M647 557h1.25M622 566h1.25M585 597h1.25M569 608h1.25M484 663h1.25M584 598h1.25M479 670h1.25M619 567h1.25M468 682h1.25M666 543h1.25M666 543h1.25M460 686h1.25M511 637h1.25M637 557h1.25M534 630h1.25M488 664h1.25" stroke="#fa0808" stroke-width="1.25" fill="none" opacity="0.58"/>
<path d="M577 600h1.25M529 630h1.25M572 602h1.25M601 582h1.25M568 604h1.25M530 632h1.25M619 575h1.25M569 602h1.25M595 586h1.25M560 608h1.25M581 598h1.25M534 626h1.25M582 593h1.25M584 592h1.25M599 589h1.25M553 613h1.25M577 602h1.25M547 619h1.25M610 582h1.25M520 635h1.25M547 619h1.25M590 586h1.25M563 607h1.25M647 554h1.25M544 619h1.25M586 591h1.25M566 605h1.25M580 597h1.25M573 601h1.25M611 577h1.25M576 599h1.25M552 615h1.25M634 563h1.25M550 618h1.25M547 619h1.25M615 574h1.25M596 585h1.25M511 642h1.25M569 604h1.25M552 615h1.25M626 568h1.25M589 589h1.25M534 629h1.25M560 613h1.25M569 605h1.25M580 594h1.25M624 566h1.25M598 582h1.25M567 602h1.25M532 630h1.25M564 605h1.25M629 563h1.25M580 596h1.25M521 630h1.25M582 595h1.25M619 573h1.25M628 566h1.25M588 591h1.25M593 587h1.25M568 604h1.25M640 556h1.25M616 575h1.25M534 626h1.25M515 638h1.25M549 614h1.25M596 585h1.25M609 575h1.25M518 637h1.25M580 593h1.25M557 612h1.25M521 634h1.25M608 583h1.25M596 587h1.25M517 635h1.25M582 596h1.25M595 589h1.25M576 600h1.25M543 621h1.25M641 560h1.25M549 616h1.25M578 599h1.25M593 588h1.25M620 571h1.25M562 609h1.25M597 585h1.25M571 605h1.25M613 577h1.25M609 580h1.25M602 581h1.25M542 622h1.25M582 595h1.25M544 622h1.25M508 644h1.25M530 626h1.25M553 614h1.25M599 583h1.25M588 590h1.25M656 548h1.25M613 573h1.25M592 590h1.25M572 601h1.25M590 593h1.25M599 588h1.25M668 540h1.25M605 580h1.25M597 586h1.25M551 618h1.25M517 639h1.25M581 594h1.25M658 545h1.25M523 630h1.25M602 581h1.25M616 573h1.25M588 591h1.25M514 638h1.25M585 595h1.25M583 592h1.25M610 580h1.25M564 604h1.25M532 628h1.25M578 599h1.25M549 620h1.25M609 576h1.25M596 589h1.25M564 604h1.25M547 620h1.25M664 542h1.25M654 550h1.25M645 554h1.25M543 621h1.25M570 603h1.25M601 584h1.25M498 654h1.25M514 638h1.25M542 622h1.25M586 595h1.25M587 592h1.25M561 611h1.25M537 625h1.25M603 584h1.25M569 602h1.25M538 627h1.25M565 608h1.25M564 610h1.25M576 598h1.25M583 595h1.25M574 599h1.25M636 564h1.25M537 625h1.25M626 570h1.25M592 592h1.25M561 610h1.25M607 584h1.25M609 577h1.25M575 600h1.25M561 607h1.25M568 601h1.25M563 606h1.25M588 589h1.25M600 583h1.25M602 584h1.25M551 616h1.25M571 599h1.25M603 581h1.25M586 591h1.25M563 610h1.25M597 588h1.25M520 635h1.25M569 607h1.25M568 602h1.25M576 597h1.25M622 569h1.25M620 571h1.25M553 613h1.25M614 574h1.25M629 563h1.25M531 628h1.25M627 566h1.25M534 628h1.25M568 602h1.25M600 584h1.25M594 588h1.25M622 572h1.25M552 615h1.25M510 642h1.25M527 630h1.25M560 612h1.25M560 606h1.25M625 571h1.25M561 607h1.25M572 601h1.25M556 610h1.25M518 635h1.25M568 606h1.25M594 587h1.25M607 580h1.25M593 588h1.25M629 567h1.25M507 646h1.25M612 575h1.25M581 595h1.25M624 571h1.25M576 598h1.25M547 617h1.25M586 590h1.25M620 570h1.25M572 600h1.25M671 536h1.25M563 607h1.25M580 599h1.25M636 562h1.25M642 558h1.25M635 562h1.25M626 566h1.25M577 599h1.25M614 575h1.25M525 631h1.25M541 625h1.25M552 614h1.25M657 546h1.25M615 575h1.25M551 617h1.25M589 589h1.25M589 593h1.25M535 629h1.25M653 548h1.25M578 596h1.25M579 596h1.25M584 596h1.25M576 598h1.25M589 588h1.25M604 584h1.25M579 598h1.25M540 624h1.25M574 597h1.25M543 623h1.25M525 633h1.25M581 594h1.25M645 557h1.25M519 637h1.25M556 615h1.25M593 591h1.25M608 575h1.25M543 622h1.25M602 585h1.25M512 643h1.25M573 599h1.25M516 637h1.25M562 607h1.25M675 533h1.25M588 592h1.25M591 592h1.25M640 556h1.25M606 585h1.25M586 589h1.25M606 578h1.25M562 610h1.25M668 539h1.25M561 610h1.25M574 598h1.25M626 564h1.25M587 593h1.25M585 593h1.25M553 618h1.25M664 541h1.25M527 627h1.25M599 585h1.25M582 597h1.25M555 612h1.25M621 569h1.25M577 599h1.25M627 567h1.25M548 618h1.25M565 606h1.25M598 583h1.25M577 602h1.25M559 613h1.25M548 618h1.25M571 601h1.25M524 633h1.25M557 612h1.25M542 623h1.25M574 599h1.25M597 584h1.25M593 591h1.25M579 598h1.25M600 584h1.25M578 598h1.25M603 582h1.25M573 602h1.25M567 604h1.25M599 588h1.25M621 569h1.25M605 581h1.25M532 630h1.25M552 617h1.25M525 629h1.25M503 651h1.25M559 612h1.25M563 607h1.25M554 610h1.25M575 598h1.25M554 613h1.25M518 635h1.25M540 623h1.25M611 577h1.25M568 601h1.25M533 629h1.25M612 577h1.25M577 599h1.25M531 629h1.25M622 572h1.25M658 546h1.25M573 601h1.25M581 596h1.25M592 588h1.25M552 614h1.25M571 602h1.25M617 573h1.25M540 624h1.25M614 578h1.25M602 581h1.25M561 609h1.25M615 575h1.25M566 604h1.25M643 555h1.25M509 642h1.25M606 579h1.25M564 610h1.25M682 529h1.25M631 565h1.25M636 563h1.25M609 576h1.25M672 536h1.25M654 549h1.25M524 632h1.25M663 544h1.25M594 589h1.25M595 590h1.25M559 611h1.25M575 599h1.25M574 600h1.25M551 613h1.25M513 639h1.25M530 631h1.25M608 582h1.25M518 637h1.25M575 599h1.25M611 581h1.25M603 580h1.25M628 567h1.25M550 619h1.25M537 628h1.25M600 582h1.25M561 613h1.25M621 572h1.25M608 578h1.25M569 602h1.25M588 593h1.25M523 635h1.25M549 620h1.25M613 578h1.25M585 593h1.25M629 568h1.25M584 590h1.25M585 597h1.25M569 600h1.25M642 559h1.25M520 638h1.25M546 619h1.25M625 570h1.25M643 557h1.25M580 596h1.25M648 551h1.25M604 581h1.25M618 574h1.25M591 590h1.25M565 603h1.25M538 623h1.25M626 570h1.25M626 567h1.25M516 636h1.25M580 600h1.25M535 625h1.25M546 619h1.25M566 608h1.25M572 601h1.25M570 606h1.25M545 619h1.25M579 595h1.25M636 561h1.25M569 606h1.25M560 611h1.25M665 542h1.25M607 584h1.25M600 584h1.25M595 589h1.25M646 555h1.25M579 595h1.25M546 620h1.25M548 618h1.25M652 552h1.25M630 563h1.25M573 601h1.25M615 575h1.25M595 589h1.25M628 565h1.25M498 652h1.25M539 626h1.25M648 553h1.25M552 616h1.25M598 587h1.25M569 606h1.25M596 587h1.25M570 605h1.25M550 615h1.25M595 584h1.25M611 575h1.25M582 597h1.25M561 612h1.25M551 615h1.25M549 615h1.25M608 581h1.25M542 622h1.25M630 566h1.25M578 596h1.25M611 576h1.25M570 602h1.25M625 570h1.25M566 604h1.25M619 576h1.25M597 588h1.25M520 632h1.25M548 617h1.25M553 614h1.25M534 628h1.25M535 628h1.25M577 595h1.25M603 583h1.25M590 586h1.25M548 620h1.25M596 586h1.25M603 581h1.25M593 592h1.25M585 592h1.25M611 580h1.25M622 567h1.25M593 591h1.25M588 595h1.25M559 610h1.25M545 620h1.25M535 629h1.25M602 582h1.25M542 622h1.25M521 632h1.25M591 590h1.25M569 602h1.25M530 631h1.25M593 589h1.25M586 592h1.25M553 614h1.25M538 624h1.25M582 596h1.25M601 585h1.25M570 602h1.25M562 608h1.25M546 622h1.25M551 617h1.25M593 588h1.25M608 581h1.25M594 589h1.25M558 611h1.25M597 587h1.25M573 599h1.25M521 634h1.25M553 618h1.25M625 571h1.25M569 605h1.25M577 594h1.25M542 622h1.25M522 635h1.25M651 554h1.25M565 608h1.25M558 612h1.25M618 576h1.25M563 608h1.25M599 586h1.25M588 595h1.25M566 604h1.25M591 588h1.25M563 607h1.25M556 609h1.25M656 547h1.25M581 599h1.25M580 597h1.25M533 629h1.25M546 617h1.25M624 571h1.25M618 575h1.25M651 552h1.25M644 557h1.25M624 571h1.25M593 591h1.25M656 546h1.25M557 613h1.25M573 601h1.25M564 606h1.25M578 596h1.25M554 615h1.25M533 627h1.25M573 598h1.25M637 563h1.25M585 590h1.25M591 588h1.25M581 595h1.25M575 602h1.25M534 628h1.25M596 584h1.25M528 629h1.25M602 582h1.25M653 550h1.25M517 636h1.25M501 650h1.25M516 641h1.25M575 600h1.25M542 622h1.25M572 599h1.25M556 612h1.25M559 608h1.25M581 595h1.25M583 597h1.25M639 559h1.25M588 593h1.25M520 635h1.25M637 562h1.25M555 615h1.25M606 585h1.25M556 612h1.25M597 585h1.25M649 552h1.25M527 632h1.25M581 596h1.25M540 623h1.25M587 594h1.25M576 601h1.25M604 583h1.25M590 588h1.25M647 555h1.25M590 589h1.25M625 566h1.25M550 617h1.25M556 611h1.25M568 603h1.25M556 615h1.25M617 573h1.25M590 589h1.25M532 629h1.25M511 639h1.25M548 620h1.25M528 630h1.25M607 579h1.25M583 596h1.25M630 562h1.25M582 596h1.25M583 592h1.25M555 612h1.25M609 577h1.25M642 560h1.25M581 597h1.25M563 606h1.25M574 600h1.25M516 637h1.25M599 585h1.25M539 623h1.25M549 617h1.25M563 610h1.25M526 629h1.25M510 639h1.25M578 599h1.25M624 568h1.25M556 610h1.25M583 597h1.25M538 626h1.25M596 586h1.25M521 635h1.25M569 604h1.25M611 580h1.25M604 582h1.25M544 620h1.25M553 613h1.25M547 620h1.25M595 588h1.25M567 604h1.25M544 621h1.25M565 608h1.25M607 583h1.25M573 599h1.25M541 625h1.25M627 565h1.25M533 627h1.25M580 596h1.25M581 597h1.25M604 583h1.25M580 595h1.25M536 623h1.25M611 580h1.25M635 561h1.25M571 604h1.25M535 628h1.25M577 602h1.25M575 598h1.25M555 612h1.25M618 570h1.25M548 618h1.25M597 583h1.25M543 621h1.25M582 598h1.25M550 614h1.25M551 618h1.25M601 580h1.25M584 593h1.25M645 556h1.25M579 597h1.25M653 551h1.25M596 584h1.25M595 588h1.25M581 593h1.25M608 579h1.25M550 614h1.25M570 605h1.25M554 616h1.25M553 613h1.25M569 602h1.25M575 601h1.25M649 552h1.25M577 595h1.25M585 591h1.25M596 584h1.25M652 551h1.25M578 596h1.25M506 648h1.25M556 612h1.25M603 584h1.25M527 628h1.25M631 563h1.25M539 625h1.25M585 591h1.25M539 624h1.25M603 583h1.25M659 545h1.25M552 612h1.25M598 585h1.25M584 595h1.25M537 623h1.25M565 608h1.25M543 621h1.25M606 581h1.25M599 585h1.25M577 600h1.25M631 562h1.25M600 589h1.25M558 612h1.25M507 647h1.25M565 607h1.25M527 633h1.25M546 620h1.25M573 598h1.25M580 595h1.25M600 583h1.25M535 628h1.25M588 590h1.25M599 587h1.25M662 545h1.25M554 618h1.25M537 626h1.25M646 553h1.25M593 587h1.25M588 589h1.25M536 626h1.25M635 560h1.25M569 607h1.25M626 570h1.25M587 590h1.25M618 575h1.25M569 604h1.25M648 551h1.25M518 635h1.25M546 620h1.25M643 556h1.25M602 580h1.25M627 567h1.25M598 582h1.25M622 568h1.25M548 618h1.25M553 612h1.25M631 564h1.25M544 620h1.25M594 591h1.25M584 591h1.25M535 625h1.25M607 578h1.25M515 636h1.25M562 610h1.25M619 575h1.25M559 612h1.25M531 629h1.25M533 627h1.25M640 556h1.25M580 595h1.25M580 599h1.25M529 628h1.25M592 587h1.25M551 615h1.25M548 618h1.25M545 623h1.25M576 597h1.25M536 623h1.25M540 620h1.25M507 647h1.25M537 626h1.25M519 635h1.25M578 596h1.25M549 617h1.25M596 585h1.25M644 556h1.25M613 575h1.25M592 585h1.25M571 601h1.25M617 575h1.25M550 616h1.25M514 641h1.25M615 573h1.25M576 598h1.25M530 630h1.25M554 615h1.25M549 615h1.25M565 607h1.25M582 595h1.25M614 575h1.25M638 561h1.25M674 535h1.25M558 610h1.25M569 603h1.25M594 586h1.25M602 582h1.25M634 564h1.25M666 541h1.25M593 587h1.25M549 617h1.25M578 599h1.25M576 600h1.25M590 587h1.25M532 627h1.25M611 578h1.25M558 613h1.25M667 542h1.25M520 632h1.25M577 600h1.25M564 610h1.25M565 609h1.25M577 602h1.25M583 595h1.25M636 563h1.25M589 588h1.25M569 601h1.25M627 569h1.25M630 563h1.25M579 596h1.25M583 593h1.25M598 585h1.25M665 542h1.25M646 553h1.25M585 592h1.25M627 566h1.25M566 607h1.25M621 568h1.25M599 582h1.25M543 619h1.25M614 579h1.25M569 603h1.25M608 579h1.25M563 610h1.25M628 565h1.25M612 577h1.25M617 575h1.25M583 591h1.25M614 578h1.25M605 577h1.25M577 601h1.25M632 564h1.25M652 552h1.25M552 613h1.25M594 590h1.25M584 592h1.25M524 634h1.25M626 567h1.25M554 617h1.25M569 605h1.25M618 575h1.25M623 568h1.25M567 604h1.25M506 647h1.25M542 619h1.25M585 595h1.25M546 620h1.25M591 587h1.25M636 561h1.25M588 593h1.25M607 579h1.25M583 592h1.25M558 610h1.25M605 579h1.25M517 639h1.25M615 576h1.25M515 639h1.25M630 565h1.25M627 565h1.25M617 571h1.25M561 606h1.25M597 585h1.25M582 597h1.25M538 625h1.25M647 554h1.25M610 574h1.25M517 637h1.25M618 575h1.25M629 564h1.25M614 574h1.25M642 557h1.25M497 654h1.25M629 564h1.25M586 593h1.25M633 562h1.25M649 552h1.25M584 590h1.25M653 548h1.25M514 637h1.25M555 613h1.25M559 609h1.25M571 601h1.25M531 628h1.25M632 565h1.25M582 591h1.25M512 641h1.25M606 581h1.25M516 641h1.25M548 621h1.25M574 597h1.25M618 572h1.25M603 585h1.25M592 587h1.25M527 632h1.25M499 653h1.25M637 559h1.25M553 616h1.25M583 594h1.25M542 623h1.25M590 592h1.25M598 587h1.25M551 619h1.25M599 586h1.25M597 586h1.25M568 602h1.25M607 579h1.25M617 571h1.25M638 562h1.25M550 613h1.25M522 634h1.25M544 618h1.25M625 569h1.25M642 555h1.25M595 586h1.25M580 598h1.25M557 613h1.25M501 653h1.25M568 602h1.25M534 628h1.25M595 585h1.25M593 585h1.25M519 635h1.25M600 586h1.25M529 627h1.25M590 588h1.25M597 589h1.25M542 619h1.25M576 598h1.25M584 597h1.25M528 628h1.25M652 552h1.25M541 624h1.25M626 569h1.25M617 575h1.25M588 590h1.25M506 648h1.25M634 562h1.25M541 622h1.25M613 578h1.25M590 588h1.25M579 593h1.25M567 604h1.25M632 562h1.25M543 620h1.25M579 599h1.25M561 611h1.25M562 609h1.25M613 575h1.25M560 611h1.25M594 586h1.25M533 626h1.25M626 569h1.25M566 603h1.25M515 639h1.25M557 611h1.25M603 581h1.25M564 609h1.25M573 599h1.25M571 598h1.25M569 602h1.25M581 593h1.25M556 612h1.25M525 633h1.25M594 586h1.25M523 631h1.25M540 624h1.25M593 588h1.25M623 574h1.25M644 557h1.25M627 565h1.25M513 637h1.25M572 601h1.25M584 594h1.25M553 615h1.25M608 576h1.25M648 554h1.25M577 594h1.25M599 582h1.25M567 605h1.25M590 591h1.25M600 584h1.25M575 597h1.25M609 580h1.25M527 629h1.25M608 580h1.25M510 644h1.25M599 580h1.25M544 619h1.25M594 584h1.25M563 608h1.25M561 608h1.25M573 602h1.25M679 531h1.25M563 608h1.25M593 589h1.25M582 596h1.25M539 624h1.25M526 629h1.25M580 595h1.25M534 630h1.25M598 589h1.25M596 590h1.25M624 571h1.25M562 611h1.25M574 600h1.25M575 598h1.25M554 615h1.25M526 632h1.25M616 574h1.25M640 557h1.25M613 580h1.25M581 593h1.25M575 600h1.25M539 623h1.25M608 580h1.25M563 607h1.25M506 646h1.25M592 588h1.25M576 602h1.25M597 588h1.25M607 578h1.25M524 635h1.25M574 599h1.25M590 591h1.25M573 599h1.25M550 618h1.25M649 552h1.25M529 628h1.25M600 584h1.25M599 586h1.25M575 597h1.25M604 579h1.25M511 639h1.25M578 601h1.25M524 631h1.25M528 628h1.25M503 651h1.25M558 608h1.25M590 590h1.25M606 581h1.25M575 600h1.25M602 584h1.25M585 594h1.25M554 617h1.25M663 542h1.25M632 562h1.25M582 595h1.25M636 564h1.25M626 565h1.25M614 577h1.25M584 592h1.25M572 603h1.25M526 631h1.25M593 586h1.25M551 616h1.25M564 604h1.25M567 605h1.25M549 618h1.25M551 618h1.25M602 581h1.25M597 585h1.25M572 604h1.25M541 621h1.25M599 587h1.25M631 567h1.25M580 594h1.25M582 594h1.25M639 560h1.25M590 588h1.25M576 597h1.25M540 626h1.25M566 607h1.25M548 619h1.25M673 536h1.25M593 588h1.25M589 593h1.25M650 552h1.25M556 612h1.25M591 589h1.25M603 583h1.25M641 560h1.25M630 565h1.25M603 579h1.25M527 629h1.25M619 572h1.25M537 627h1.25M570 600h1.25M550 616h1.25M509 645h1.25M588 592h1.25M576 601h1.25M564 609h1.25M567 602h1.25M538 623h1.25M616 573h1.25M652 551h1.25M552 615h1.25M574 597h1.25M564 606h1.25M603 583h1.25M514 638h1.25M575 602h1.25M555 615h1.25M594 586h1.25M607 578h1.25M555 612h1.25M585 593h1.25M610 575h1.25M551 615h1.25M605 582h1.25M623 570h1.25M579 597h1.25M543 621h1.25M563 608h1.25M613 576h1.25M609 577h1.25M608 579h1.25M544 620h1.25M564 607h1.25M582 596h1.25M547 617h1.25M553 615h1.25M612 577h1.25M609 580h1.25M521 633h1.25M577 597h1.25M588 589h1.25M630 567h1.25M636 564h1.25M585 590h1.25M569 604h1.25M581 595h1.25M577 596h1.25M581 593h1.25M591 591h1.25M556 612h1.25M574 600h1.25M628 565h1.25M564 607h1.25M604 580h1.25M576 597h1.25M646 556h1.25M582 592h1.25M563 607h1.25M541 626h1.25M578 597h1.25M554 613h1.25M506 643h1.25M576 598h1.25M533 626h1.25M566 604h1.25M549 620h1.25M603 581h1.25M605 583h1.25M598 585h1.25M540 624h1.25M583 592h1.25M556 613h1.25M617 574h1.25M573 599h1.25M568 605h1.25M587 596h1.25M624 572h1.25M599 584h1.25M668 540h1.25M580 596h1.25M567 604h1.25M584 594h1.25M563 606h1.25M611 578h1.25M555 611h1.25M556 613h1.25M629 565h1.25M594 588h1.25M584 591h1.25M586 593h1.25M587 596h1.25M605 581h1.25M538 626h1.25M566 604h1.25M610 581h1.25M596 585h1.25M535 623h1.25M558 611h1.25M581 596h1.25M566 603h1.25M595 585h1.25M559 611h1.25M597 585h1.25M554 615h1.25M594 588h1.25M591 588h1.25M607 577h1.25M516 640h1.25M560 606h1.25M665 541h1.25M615 577h1.25M582 596h1.25M541 621h1.25M557 610h1.25M552 615h1.25M553 616h1.25M576 598h1.25M598 586h1.25M580 598h1.25M514 639h1.25M584 593h1.25M582 597h1.25M584 594h1.25M553 613h1.25M621 571h1.25M519 635h1.25M581 594h1.25M552 617h1.25M524 635h1.25M569 602h1.25M521 633h1.25M583 592h1.25M557 612h1.25M581 592h1.25M544 620h1.25M596 588h1.25M552 619h1.25M595 585h1.25M626 568h1.25M612 575h1.25M585 594h1.25M562 610h1.25M667 541h1.25M634 562h1.25M613 575h1.25M522 631h1.25M647 554h1.25M577 596h1.25M562 606h1.25M558 609h1.25M620 571h1.25M670 537h1.25M515 642h1.25M580 598h1.25M583 592h1.25M594 588h1.25M538 626h1.25M579 599h1.25M539 623h1.25M560 608h1.25M559 612h1.25M542 619h1.25M573 602h1.25M584 591h1.25M638 561h1.25M578 598h1.25M629 566h1.25M561 607h1.25M551 616h1.25M592 586h1.25M621 569h1.25M577 597h1.25M586 589h1.25M571 602h1.25M566 608h1.25M602 583h1.25M593 591h1.25M588 591h1.25M581 597h1.25M536 628h1.25M559 611h1.25M576 598h1.25M553 616h1.25M607 578h1.25M598 586h1.25M643 557h1.25M575 603h1.25M577 597h1.25M586 592h1.25M622 567h1.25M550 616h1.25M626 569h1.25M557 609h1.25M593 586h1.25M555 614h1.25M580 595h1.25M644 556h1.25M543 622h1.25M679 531h1.25M520 635h1.25M648 553h1.25M631 565h1.25M552 614h1.25M562 606h1.25M606 581h1.25M624 568h1.25M612 574h1.25M595 590h1.25M535 624h1.25M581 593h1.25M608 576h1.25M574 599h1.25M584 596h1.25M535 626h1.25M560 610h1.25M583 593h1.25M542 622h1.25M610 578h1.25M626 568h1.25M565 605h1.25M665 542h1.25M600 586h1.25M514 640h1.25M553 613h1.25M631 566h1.25M560 609h1.25M635 560h1.25M544 622h1.25M556 614h1.25M546 618h1.25M638 558h1.25M570 603h1.25M589 590h1.25M519 635h1.25M570 605h1.25M598 584h1.25M620 571h1.25M565 606h1.25M613 577h1.25M588 591h1.25M572 600h1.25M589 590h1.25M546 619h1.25M523 631h1.25M549 615h1.25M562 611h1.25M626 565h1.25M584 592h1.25M572 600h1.25M637 560h1.25M616 571h1.25M599 585h1.25M589 594h1.25M521 633h1.25M554 612h1.25M546 619h1.25M591 590h1.25M542 621h1.25M578 597h1.25M527 630h1.25M529 630h1.25M588 594h1.25M564 605h1.25M544 617h1.25M522 631h1.25M588 588h1.25M539 622h1.25M550 616h1.25M606 579h1.25M625 569h1.25M531 626h1.25M535 625h1.25M574 600h1.25M528 630h1.25M543 622h1.25M541 621h1.25M625 570h1.25M527 629h1.25M580 598h1.25M544 622h1.25M681 530h1.25M549 618h1.25M550 616h1.25M627 566h1.25M603 583h1.25M568 602h1.25M573 597h1.25M572 601h1.25M557 612h1.25M584 597h1.25M584 590h1.25M581 595h1.25M598 585h1.25M559 609h1.25M524 632h1.25M524 632h1.25M503 647h1.25M610 582h1.25M549 615h1.25M568 602h1.25M588 593h1.25M617 575h1.25M539 624h1.25M589 592h1.25M601 582h1.25M585 595h1.25M547 617h1.25M534 626h1.25M562 607h1.25M560 609h1.25M540 621h1.25M654 548h1.25M629 564h1.25M574 600h1.25M542 621h1.25M566 605h1.25M585 591h1.25M522 635h1.25M609 577h1.25M574 600h1.25M624 571h1.25M534 626h1.25M560 613h1.25M550 615h1.25M525 629h1.25M556 613h1.25M595 590h1.25M587 589h1.25M618 575h1.25M629 569h1.25M600 583h1.25M529 628h1.25M605 581h1.25M609 575h1.25M580 597h1.25M570 603h1.25M503 650h1.25M548 617h1.25M633 563h1.25M548 615h1.25M650 551h1.25M597 583h1.25M622 570h1.25M569 606h1.25M587 592h1.25M539 623h1.25M577 598h1.25M529 629h1.25M634 563h1.25M525 630h1.25M559 613h1.25M601 586h1.25M537 627h1.25M537 624h1.25M554 613h1.25M533 627h1.25M557 613h1.25M660 545h1.25M576 599h1.25M620 575h1.25M556 611h1.25M582 593h1.25M561 610h1.25M524 633h1.25M569 602h1.25M543 624h1.25M599 585h1.25M573 599h1.25M613 575h1.25M599 589h1.25M546 622h1.25M561 608h1.25M543 619h1.25M590 591h1.25M572 601h1.25M515 640h1.25M518 637h1.25M599 585h1.25M514 640h1.25M523 634h1.25M681 530h1.25M651 551h1.25M611 581h1.25M600 579h1.25M617 575h1.25M630 564h1.25M544 621h1.25M641 559h1.25M609 579h1.25M583 595h1.25M587 595h1.25M614 575h1.25M581 597h1.25M664 543h1.25M573 602h1.25M562 611h1.25M628 567h1.25M562 611h1.25M579 599h1.25M632 564h1.25M596 586h1.25M592 591h1.25M547 618h1.25M609 578h1.25M549 618h1.25M634 562h1.25M610 580h1.25M669 539h1.25M593 586h1.25M577 599h1.25M536 628h1.25M547 620h1.25M528 628h1.25M558 610h1.25M579 595h1.25M526 627h1.25M533 626h1.25M620 572h1.25M577 597h1.25M533 628h1.25M592 590h1.25M534 628h1.25M613 577h1.25M617 575h1.25M537 628h1.25M580 596h1.25M562 610h1.25M547 618h1.25M553 617h1.25M596 587h1.25M539 624h1.25M554 616h1.25M632 566h1.25M526 631h1.25M647 554h1.25M607 579h1.25M546 617h1.25M579 599h1.25M632 565h1.25M586 589h1.25M577 595h1.25M569 602h1.25M569 600h1.25M533 628h1.25M609 577h1.25M581 595h1.25M599 588h1.25M575 602h1.25M532 625h1.25M540 625h1.25M602 586h1.25M534 624h1.25M569 605h1.25M562 609h1.25M578 597h1.25M603 578h1.25M595 584h1.25M561 610h1.25M578 597h1.25M563 608h1.25M625 569h1.25M524 630h1.25M570 602h1.25M613 575h1.25M602 583h1.25M548 616h1.25M592 591h1.25" stroke="#fa0808" stroke-width="1.25" fill="none" opacity="0.85"/>
<polygon points="528.3,632.2 544.5,622.3 562.8,610.3 582.2,597.2 596.3,589.0 611.4,578.5 623.7,569.9 623.2,569.0 609.8,575.9 593.9,585.0 579.7,593.3 560.5,606.9 542.7,619.7 527.9,631.5" fill="#fa0808" opacity="0.93"/>
<path d="M411.5 471.5H423.0M416.5 514.3H423.0M416.5 503.5H423.0M416.5 495.8H423.0M416.5 489.9H423.0M416.5 485.1H423.0M416.5 481.0H423.0M416.5 477.4H423.0M416.5 474.3H423.0M411.5 532.7H423.0M416.5 575.4H423.0M416.5 564.6H423.0M416.5 557.0H423.0M416.5 551.1H423.0M416.5 546.2H423.0M416.5 542.1H423.0M416.5 538.6H423.0M416.5 535.5H423.0M411.5 593.8H423.0M416.5 636.6H423.0M416.5 625.8H423.0M416.5 618.2H423.0M416.5 612.2H423.0M416.5 607.4H423.0M416.5 603.3H423.0M416.5 599.8H423.0M416.5 596.6H423.0M411.5 655.0H423.0M416.5 697.8H423.0M416.5 687.0H423.0M416.5 679.3H423.0M416.5 673.4H423.0M416.5 668.6H423.0M416.5 664.5H423.0M416.5 660.9H423.0M416.5 657.8H423.0" stroke="#2a2a2a" stroke-width="1.3" fill="none"/>
<path d="M446.8 715.0v5.5M460.7 715.0v5.5M470.6 715.0v5.5M478.2 715.0v5.5M484.5 715.0v5.5M489.8 715.0v5.5M494.3 715.0v5.5M498.4 715.0v5.5M525.8 715.0v5.5M539.7 715.0v5.5M549.6 715.0v5.5M557.2 715.0v5.5M563.5 715.0v5.5M568.8 715.0v5.5M573.3 715.0v5.5M577.4 715.0v5.5M604.8 715.0v5.5M618.7 715.0v5.5M628.6 715.0v5.5M636.2 715.0v5.5M642.5 715.0v5.5M647.8 715.0v5.5M652.3 715.0v5.5M656.4 715.0v5.5M683.8 715.0v5.5M697.7 715.0v5.5M707.6 715.0v5.5M715.2 715.0v5.5M721.5 715.0v5.5M726.8 715.0v5.5M731.3 715.0v5.5M735.4 715.0v5.5" stroke="#111" stroke-width="4.1" fill="none"/>
<path d="M502.0 715.0v9.5M581.0 715.0v9.5M660.0 715.0v9.5M739.0 715.0v9.5" stroke="#111" stroke-width="4.1" fill="none"/>
<path d="M423.0 471.5H739.0V715.0M581.0 471.5V715.0" stroke="#1a1a1a" stroke-width="1.4" fill="none"/>
<path d="M423.0 470.9V715.0" stroke="#111" stroke-width="1.8" fill="none"/>
<path d="M422.1 715.0H739.7" stroke="#111" stroke-width="2" fill="none"/>
<text x="409.5" y="662.7" font-size="16.2" font-weight="bold" text-anchor="end" fill="#1a1a1a">10<tspan font-size="12.5" font-weight="normal" dy="-6.3">0</tspan></text>
<text transform="translate(493.8 735.2) scale(.87 1)" font-size="16.5" font-weight="bold" fill="#1a1a1a">10<tspan font-size="13" font-weight="normal" dy="-3.6">0</tspan></text>
<text x="409.5" y="601.5" font-size="16.2" font-weight="bold" text-anchor="end" fill="#1a1a1a">10<tspan font-size="12.5" font-weight="normal" dy="-6.3">1</tspan></text>
<text transform="translate(572.8 735.2) scale(.87 1)" font-size="16.5" font-weight="bold" fill="#1a1a1a">10<tspan font-size="13" font-weight="normal" dy="-3.6">1</tspan></text>
<text x="409.5" y="540.4" font-size="16.2" font-weight="bold" text-anchor="end" fill="#1a1a1a">10<tspan font-size="12.5" font-weight="normal" dy="-6.3">2</tspan></text>
<text transform="translate(651.8 735.2) scale(.87 1)" font-size="16.5" font-weight="bold" fill="#1a1a1a">10<tspan font-size="13" font-weight="normal" dy="-3.6">2</tspan></text>
<text x="409.5" y="479.2" font-size="16.2" font-weight="bold" text-anchor="end" fill="#1a1a1a">10<tspan font-size="12.5" font-weight="normal" dy="-6.3">3</tspan></text>
<text transform="translate(730.8 735.2) scale(.87 1)" font-size="16.5" font-weight="bold" fill="#1a1a1a">10<tspan font-size="13" font-weight="normal" dy="-3.6">3</tspan></text>
<text x="581.8" y="768.0" font-size="17.5" font-weight="bold" text-anchor="middle" fill="#1a1a1a">DCF-DA 525nm</text>
<text transform="translate(362.0 595.2) rotate(-90)" font-size="17" font-weight="bold" text-anchor="middle" fill="#1a1a1a">FL3 log</text>
<text x="423.5" y="494.5" font-size="18.5" font-weight="bold" fill="#1a1a1a">A1</text>
<text x="428.9" y="518.5" font-size="19.2" font-weight="bold" fill="#1a1a1a" xml:space="preserve">62.1%</text>
<text x="581.4" y="494.5" font-size="18.5" font-weight="bold" fill="#1a1a1a">A2</text>
<text x="586.4" y="518.5" font-size="19.2" font-weight="bold" fill="#1a1a1a" xml:space="preserve">37.9%</text>
<text x="575.6" y="455.6" font-size="23.4" text-anchor="middle" xml:space="preserve">0% FBS + BID-1870 5μM</text>
</g>
<g id="plot5">
<g filter="url(#bl)" clip-path="url(#cp104)">
<clipPath id="cp104"><rect x="842.7" y="473.8" width="308.3" height="240.2"/></clipPath>
<polygon points="848.9,708.6 854.9,703.8 847.4,693.9 841.1,698.4" fill="#fa0808" opacity="0.03"/>
<polygon points="853.8,704.7 859.8,699.9 852.4,690.2 846.2,694.7" fill="#fa0808" opacity="0.03"/>
<polygon points="858.6,700.8 864.6,696.0 857.5,686.6 851.2,691.1" fill="#fa0808" opacity="0.04"/>
<polygon points="863.5,696.9 869.5,692.1 862.5,682.9 856.2,687.5" fill="#fa0808" opacity="0.04"/>
<polygon points="868.3,693.1 874.3,688.3 867.5,679.3 861.3,683.8" fill="#fa0808" opacity="0.04"/>
<polygon points="873.2,689.2 879.2,684.4 872.6,675.7 866.3,680.2" fill="#fa0808" opacity="0.05"/>
<polygon points="878.0,685.3 884.0,680.5 877.6,672.0 871.4,676.6" fill="#fa0808" opacity="0.05"/>
<polygon points="882.9,681.4 888.9,676.6 882.6,668.4 876.4,672.9" fill="#fa0808" opacity="0.06"/>
<polygon points="887.7,677.5 893.7,672.7 887.7,664.8 881.4,669.3" fill="#fa0808" opacity="0.06"/>
<polygon points="892.5,673.7 898.5,668.8 892.7,661.1 886.5,665.7" fill="#fa0808" opacity="0.07"/>
<polygon points="897.4,669.8 903.4,665.0 897.7,657.5 891.5,662.0" fill="#fa0808" opacity="0.08"/>
<polygon points="902.2,665.9 908.2,661.1 902.8,653.9 896.5,658.4" fill="#fa0808" opacity="0.08"/>
<polygon points="907.0,662.1 912.3,657.7 907.5,651.0 901.6,654.7" fill="#fa0808" opacity="0.10"/>
<polygon points="911.9,658.0 917.2,653.6 912.9,647.6 907.0,651.3" fill="#fa0808" opacity="0.12"/>
<polygon points="916.8,653.9 922.1,649.6 918.2,644.2 912.4,647.9" fill="#fa0808" opacity="0.16"/>
<polygon points="921.7,649.9 927.1,645.5 923.6,640.8 917.8,644.5" fill="#fa0808" opacity="0.20"/>
<polygon points="926.6,645.8 932.8,641.2 929.8,636.8 923.2,641.0" fill="#fa0808" opacity="0.26"/>
<polygon points="932.5,641.4 938.7,636.7 935.9,632.8 929.4,637.0" fill="#fa0808" opacity="0.34"/>
<polygon points="938.3,637.0 944.6,632.3 942.1,628.8 935.6,633.0" fill="#fa0808" opacity="0.44"/>
<polygon points="944.2,632.6 950.8,628.1 948.6,624.7 941.8,629.0" fill="#fa0808" opacity="0.61"/>
<polygon points="950.5,628.2 957.1,623.7 955.1,620.6 948.3,624.9" fill="#fa0808" opacity="0.75"/>
<polygon points="956.9,623.9 962.9,620.0 960.8,616.8 954.8,620.7" fill="#fa0808" opacity="0.75"/>
<polygon points="962.1,620.5 968.1,616.6 965.9,613.4 960.0,617.3" fill="#fa0808" opacity="0.75"/>
<polygon points="967.2,617.2 973.2,613.3 971.1,610.0 965.1,613.9" fill="#fa0808" opacity="0.75"/>
<polygon points="972.4,613.8 978.4,609.9 976.2,606.5 970.2,610.5" fill="#fa0808" opacity="0.75"/>
<polygon points="977.6,610.4 983.6,606.6 981.3,603.1 975.4,607.1" fill="#fa0808" opacity="0.75"/>
<polygon points="982.7,607.1 988.7,603.2 986.5,599.7 980.5,603.7" fill="#fa0808" opacity="0.75"/>
<polygon points="987.9,603.7 993.9,599.8 991.6,596.3 985.6,600.3" fill="#fa0808" opacity="0.75"/>
<polygon points="993.1,600.4 999.1,596.5 996.7,592.9 990.8,596.9" fill="#fa0808" opacity="0.75"/>
<polygon points="998.2,597.1 1003.9,593.7 1001.4,589.8 996.0,593.4" fill="#fa0808" opacity="0.75"/>
<polygon points="1003.5,594.0 1009.1,590.6 1006.5,586.5 1001.0,590.1" fill="#fa0808" opacity="0.75"/>
<polygon points="1008.7,590.8 1014.3,587.5 1011.6,583.1 1006.1,586.8" fill="#fa0808" opacity="0.75"/>
<polygon points="1013.9,587.7 1019.5,584.4 1016.7,579.8 1011.2,583.4" fill="#fa0808" opacity="0.75"/>
<polygon points="1019.1,584.6 1024.7,581.1 1021.9,576.7 1016.3,580.1" fill="#fa0808" opacity="0.75"/>
<polygon points="1024.2,581.3 1029.8,577.8 1027.1,573.5 1021.5,576.9" fill="#fa0808" opacity="0.75"/>
<polygon points="1029.4,578.1 1034.9,574.5 1032.3,570.3 1026.7,573.8" fill="#fa0808" opacity="0.72"/>
<polygon points="1034.5,574.8 1040.0,571.3 1037.5,567.2 1031.9,570.6" fill="#fa0808" opacity="0.63"/>
<polygon points="1039.7,571.5 1045.9,567.2 1043.4,563.4 1037.0,567.5" fill="#fa0808" opacity="0.57"/>
<polygon points="1045.1,567.7 1051.3,563.4 1048.9,559.8 1042.6,563.9" fill="#fa0808" opacity="0.53"/>
<polygon points="1050.6,563.9 1056.8,559.6 1054.5,556.2 1048.2,560.3" fill="#fa0808" opacity="0.49"/>
<polygon points="1056.0,560.1 1062.3,555.8 1060.1,552.6 1053.7,556.7" fill="#fa0808" opacity="0.44"/>
<polygon points="1061.5,556.4 1067.7,552.1 1065.7,549.0 1059.3,553.1" fill="#fa0808" opacity="0.39"/>
<polygon points="1067.0,552.6 1073.2,548.3 1071.3,545.4 1064.9,549.5" fill="#fa0808" opacity="0.32"/>
<polygon points="1072.4,548.8 1078.6,544.5 1076.9,541.9 1070.5,545.9" fill="#fa0808" opacity="0.26"/>
<polygon points="1077.9,545.0 1083.8,540.8 1082.1,538.4 1076.1,542.4" fill="#fa0808" opacity="0.21"/>
<polygon points="1083.2,541.2 1089.1,537.0 1087.6,534.8 1081.5,538.7" fill="#fa0808" opacity="0.17"/>
<polygon points="1088.6,537.4 1094.5,533.2 1093.0,531.1 1087.0,535.1" fill="#fa0808" opacity="0.14"/>
<polygon points="1093.9,533.6 1099.8,529.4 1098.5,527.5 1092.5,531.5" fill="#fa0808" opacity="0.09"/>
<polygon points="1099.3,529.8 1105.2,525.6 1104.0,523.9 1098.0,527.9" fill="#fa0808" opacity="0.04"/>
</g>
<path d="M880 682h1.25M889 661h1.25M853 704h1.25M902 666h1.25M907 665h1.25M943 636h1.25M856 698h1.25M852 699h1.25M866 689h1.25M867 698h1.25M1083 536h1.25M847 703h1.25M846 698h1.25M874 674h1.25M858 687h1.25M873 688h1.25M1093 535h1.25M971 617h1.25M910 662h1.25M1028 583h1.25M1021 587h1.25M864 688h1.25M873 686h1.25M1002 598h1.25M1059 560h1.25M898 669h1.25M861 691h1.25M875 688h1.25M868 678h1.25M992 593h1.25M904 665h1.25M881 669h1.25M894 673h1.25M859 708h1.25M961 624h1.25M893 674h1.25M864 692h1.25M866 682h1.25M855 695h1.25M913 646h1.25M856 711h1.25M991 594h1.25M1017 590h1.25M851 702h1.25M928 636h1.25M1035 566h1.25M863 685h1.25M860 699h1.25M1030 569h1.25M882 680h1.25M854 696h1.25M910 663h1.25M1031 567h1.25M926 651h1.25M1027 584h1.25M866 684h1.25M921 653h1.25M895 660h1.25M1089 533h1.25M868 691h1.25M1000 587h1.25M900 668h1.25M906 662h1.25M892 673h1.25M1023 586h1.25M1075 549h1.25M852 689h1.25M874 687h1.25M864 687h1.25M979 601h1.25M872 688h1.25M848 686h1.25M859 696h1.25M995 590h1.25M1075 542h1.25M855 696h1.25M919 642h1.25M926 637h1.25M1018 589h1.25M903 646h1.25M866 693h1.25M916 644h1.25M874 687h1.25M869 688h1.25M899 656h1.25M960 627h1.25M847 703h1.25M1073 543h1.25M903 667h1.25M865 685h1.25M848 703h1.25M884 686h1.25" stroke="#fa0808" stroke-width="1.25" fill="none" opacity="0.33"/>
<path d="M887 674h1.25M910 657h1.25M921 643h1.25M872 685h1.25M967 611h1.25M899 665h1.25M1027 571h1.25M928 645h1.25M907 660h1.25M1070 551h1.25M900 661h1.25M1032 578h1.25M981 610h1.25M878 678h1.25M892 666h1.25M1099 529h1.25M1089 535h1.25M903 656h1.25M938 638h1.25M960 615h1.25M1002 588h1.25M890 668h1.25M1058 553h1.25M1005 595h1.25M1033 568h1.25M914 649h1.25M1013 590h1.25M893 663h1.25M1046 568h1.25M891 667h1.25M1063 556h1.25M939 630h1.25M916 648h1.25M902 659h1.25M1033 568h1.25M940 638h1.25M904 659h1.25M895 662h1.25M996 601h1.25M908 653h1.25M907 657h1.25M936 639h1.25M1069 547h1.25M980 602h1.25M1057 553h1.25M1049 566h1.25M904 656h1.25M1064 550h1.25M1051 564h1.25M909 654h1.25M901 656h1.25M886 674h1.25M915 645h1.25M884 675h1.25M908 658h1.25M980 601h1.25M924 641h1.25M929 644h1.25M893 663h1.25M1038 574h1.25M891 671h1.25M925 640h1.25M1089 537h1.25M1098 529h1.25M910 651h1.25M914 650h1.25M967 611h1.25M972 616h1.25M970 618h1.25M888 668h1.25M915 647h1.25M1022 585h1.25M1095 531h1.25M983 600h1.25M925 648h1.25M885 671h1.25M999 598h1.25M1013 580h1.25M910 651h1.25M900 663h1.25M871 685h1.25M1035 567h1.25M882 672h1.25M1032 579h1.25M1025 573h1.25M883 674h1.25M1070 551h1.25M903 658h1.25M944 626h1.25M1042 563h1.25M893 668h1.25M1077 546h1.25M1033 568h1.25M1032 578h1.25M1016 589h1.25M1051 557h1.25M1034 568h1.25M864 689h1.25M907 656h1.25M978 603h1.25M900 659h1.25M929 636h1.25M976 613h1.25M946 633h1.25M1020 576h1.25M934 640h1.25M978 611h1.25M1067 548h1.25M1057 554h1.25M1012 581h1.25M974 615h1.25M1083 541h1.25M923 642h1.25M927 645h1.25M1022 585h1.25M1075 547h1.25M907 654h1.25M1092 535h1.25M1091 536h1.25M974 615h1.25M1051 565h1.25M1053 563h1.25M918 653h1.25M1063 550h1.25M1075 547h1.25M908 659h1.25M1087 538h1.25M1060 558h1.25M875 679h1.25M890 668h1.25M1007 584h1.25M1051 565h1.25M889 668h1.25M896 667h1.25M969 618h1.25M1052 557h1.25M992 603h1.25M978 603h1.25M967 611h1.25M900 664h1.25M890 669h1.25M931 643h1.25M1061 558h1.25M880 679h1.25M987 606h1.25M1074 544h1.25M948 631h1.25M983 610h1.25M1046 561h1.25M1044 561h1.25M884 671h1.25M893 665h1.25M915 649h1.25M930 635h1.25M1023 574h1.25M919 645h1.25M991 594h1.25M922 643h1.25M905 659h1.25M905 655h1.25M912 648h1.25M920 643h1.25M907 658h1.25M959 616h1.25M897 663h1.25M890 668h1.25M984 608h1.25M951 629h1.25M1080 543h1.25M956 618h1.25M884 676h1.25M911 656h1.25M910 653h1.25M902 658h1.25M940 630h1.25M1042 571h1.25M874 678h1.25M1063 550h1.25M912 648h1.25M902 658h1.25M964 622h1.25M940 637h1.25M915 649h1.25" stroke="#fa0808" stroke-width="1.25" fill="none" opacity="0.58"/>
<path d="M1046 563h1.25M953 621h1.25M979 606h1.25M976 611h1.25M949 624h1.25M988 599h1.25M1077 544h1.25M928 641h1.25M945 627h1.25M1007 587h1.25M1028 575h1.25M1045 562h1.25M936 637h1.25M1015 581h1.25M1021 583h1.25M966 616h1.25M973 613h1.25M1031 575h1.25M1036 570h1.25M1005 588h1.25M948 630h1.25M1034 570h1.25M1063 555h1.25M951 627h1.25M964 616h1.25M1034 573h1.25M1044 568h1.25M982 609h1.25M1002 592h1.25M1041 564h1.25M1057 558h1.25M966 614h1.25M1031 578h1.25M1023 579h1.25M985 604h1.25M1017 582h1.25M1078 543h1.25M1000 590h1.25M958 624h1.25M1009 588h1.25M967 618h1.25M1008 590h1.25M964 618h1.25M960 620h1.25M1006 589h1.25M1011 585h1.25M986 603h1.25M986 604h1.25M1018 585h1.25M1049 562h1.25M970 613h1.25M1002 592h1.25M1011 583h1.25M1017 582h1.25M1026 576h1.25M988 600h1.25M1036 569h1.25M1017 586h1.25M1011 584h1.25M967 617h1.25M959 619h1.25M1003 589h1.25M1016 585h1.25M1029 574h1.25M1011 590h1.25M1000 591h1.25M970 613h1.25M982 604h1.25M1058 555h1.25M1034 573h1.25M947 628h1.25M1009 584h1.25M1011 587h1.25M962 620h1.25M1001 592h1.25M967 613h1.25M1015 581h1.25M1069 550h1.25M981 606h1.25M1000 594h1.25M972 614h1.25M970 616h1.25M1069 550h1.25M950 628h1.25M986 600h1.25M971 614h1.25M946 628h1.25M992 596h1.25M969 615h1.25M1036 570h1.25M1028 573h1.25M1015 588h1.25M1037 569h1.25M955 625h1.25M1004 591h1.25M1017 585h1.25M991 597h1.25M996 594h1.25M1004 594h1.25M1030 572h1.25M1007 586h1.25M971 613h1.25M948 626h1.25M1013 588h1.25M977 606h1.25M1061 554h1.25M953 627h1.25M1032 572h1.25M946 630h1.25M1026 577h1.25M1042 569h1.25M977 609h1.25M980 609h1.25M988 601h1.25M965 617h1.25M931 641h1.25M981 606h1.25M1087 537h1.25M1026 578h1.25M959 619h1.25M977 609h1.25M989 599h1.25M1047 562h1.25M1007 588h1.25M974 612h1.25M1067 549h1.25M976 608h1.25M954 626h1.25M966 614h1.25M983 603h1.25M1016 584h1.25M1044 567h1.25M982 603h1.25M945 627h1.25M956 624h1.25M1029 572h1.25M1035 570h1.25M1030 572h1.25M961 620h1.25M980 605h1.25M1070 551h1.25M980 603h1.25M1036 572h1.25M980 607h1.25M923 648h1.25M1020 578h1.25M989 598h1.25M961 619h1.25M1001 593h1.25M987 601h1.25M988 603h1.25M1015 586h1.25M966 618h1.25M1028 578h1.25M1014 587h1.25M974 611h1.25M1072 547h1.25M970 612h1.25M978 607h1.25M1039 569h1.25M980 610h1.25M985 605h1.25M988 601h1.25M1057 556h1.25M945 627h1.25M981 605h1.25M1053 558h1.25M1014 584h1.25M936 635h1.25M981 605h1.25M964 618h1.25M980 607h1.25M998 595h1.25M922 647h1.25M987 600h1.25M1011 586h1.25M938 634h1.25M1030 578h1.25M1053 558h1.25M1050 559h1.25M1010 584h1.25M982 605h1.25M1049 562h1.25M982 608h1.25M946 632h1.25M1072 547h1.25M931 636h1.25M998 598h1.25M1005 592h1.25M1028 580h1.25M967 615h1.25M1011 584h1.25M1037 570h1.25M1059 554h1.25M1077 543h1.25M987 601h1.25M1019 583h1.25M998 598h1.25M997 596h1.25M1001 593h1.25M1006 589h1.25M1034 572h1.25M951 626h1.25M1047 562h1.25M959 618h1.25M1009 588h1.25M937 633h1.25M1029 575h1.25M961 617h1.25M995 593h1.25M1046 562h1.25M1003 591h1.25M1084 540h1.25M1005 589h1.25M1018 582h1.25M955 622h1.25M1043 566h1.25M988 601h1.25M917 651h1.25M917 648h1.25M1047 563h1.25M1015 581h1.25M1076 544h1.25M1024 576h1.25M1042 568h1.25M957 621h1.25M997 595h1.25M1054 561h1.25M980 605h1.25M918 649h1.25M1023 577h1.25M1000 595h1.25M1043 567h1.25M932 636h1.25M961 615h1.25M1063 555h1.25M1035 572h1.25M932 637h1.25M980 608h1.25M969 614h1.25M1016 582h1.25M1054 558h1.25M948 630h1.25M992 601h1.25M982 606h1.25M983 603h1.25M995 598h1.25M975 612h1.25M1046 566h1.25M993 596h1.25M979 607h1.25M1033 575h1.25M1033 573h1.25M985 606h1.25M952 626h1.25M1001 589h1.25M986 603h1.25M1005 592h1.25M967 612h1.25M947 627h1.25M1013 586h1.25M1031 573h1.25M1000 593h1.25M1022 581h1.25M989 598h1.25M1035 573h1.25M920 646h1.25M923 644h1.25M1072 548h1.25M1052 560h1.25M1012 587h1.25M1036 572h1.25M1064 553h1.25M952 626h1.25M1030 576h1.25M1059 555h1.25M1021 580h1.25M1027 580h1.25M951 625h1.25M1059 558h1.25M951 626h1.25M962 618h1.25M966 616h1.25M1016 583h1.25M955 623h1.25M1011 583h1.25M1023 578h1.25M969 616h1.25M1041 570h1.25M1023 580h1.25M1013 586h1.25M1019 581h1.25M917 648h1.25M1003 593h1.25M1030 575h1.25M1002 595h1.25M989 603h1.25M1033 572h1.25M986 605h1.25M940 632h1.25M978 605h1.25M1027 576h1.25M986 602h1.25M977 608h1.25M966 619h1.25M1002 593h1.25M949 629h1.25M1004 591h1.25M1015 580h1.25M1025 579h1.25M1090 535h1.25M969 614h1.25M1000 594h1.25M1038 570h1.25M969 616h1.25M1036 573h1.25M1031 573h1.25M942 633h1.25M982 605h1.25M1014 583h1.25M995 595h1.25M994 596h1.25M990 599h1.25M1031 575h1.25M1016 580h1.25M985 603h1.25M974 610h1.25M939 636h1.25M1017 581h1.25M1011 590h1.25M965 617h1.25M965 614h1.25M948 629h1.25M1029 575h1.25M1019 584h1.25M978 606h1.25M987 601h1.25M950 624h1.25M972 614h1.25M1026 575h1.25M1006 589h1.25M1050 561h1.25M985 604h1.25M960 619h1.25M1006 592h1.25M965 613h1.25M1000 594h1.25M1065 551h1.25M1016 586h1.25M956 622h1.25M991 600h1.25M1034 574h1.25M956 620h1.25M1006 589h1.25M1058 555h1.25M964 615h1.25M1013 585h1.25M1009 587h1.25M1051 561h1.25M990 600h1.25M978 611h1.25M959 620h1.25M1071 548h1.25M1022 582h1.25M1040 567h1.25M1046 561h1.25M1002 590h1.25M968 616h1.25M983 603h1.25M970 614h1.25M998 591h1.25M1050 564h1.25M974 611h1.25M980 607h1.25M988 601h1.25M973 613h1.25M1025 576h1.25M945 630h1.25M964 617h1.25M1004 593h1.25M1011 589h1.25M992 596h1.25M1006 588h1.25M1017 585h1.25M1013 588h1.25M960 621h1.25M1023 579h1.25M1019 583h1.25M1038 568h1.25M1022 578h1.25M1007 589h1.25M1045 568h1.25M1000 592h1.25M982 604h1.25M1025 579h1.25M986 600h1.25M952 626h1.25M995 595h1.25M974 610h1.25M997 596h1.25M983 605h1.25M941 632h1.25M965 613h1.25M1016 585h1.25M1030 573h1.25M984 602h1.25M970 612h1.25M982 606h1.25M986 602h1.25M981 607h1.25M1036 570h1.25M1008 590h1.25M1012 587h1.25M993 599h1.25M982 603h1.25M975 611h1.25M946 629h1.25M931 640h1.25M1025 576h1.25M1019 580h1.25M1002 593h1.25M998 594h1.25M1009 586h1.25M983 604h1.25M1014 584h1.25M1024 580h1.25M946 628h1.25M958 622h1.25M990 597h1.25M1017 585h1.25M936 638h1.25M952 627h1.25M1011 585h1.25M994 597h1.25M998 595h1.25M951 628h1.25M982 607h1.25M1016 581h1.25M951 625h1.25M1014 583h1.25M991 602h1.25M977 610h1.25M973 613h1.25M986 605h1.25M1008 589h1.25M1008 589h1.25M985 602h1.25M980 607h1.25M955 623h1.25M1054 561h1.25M1021 580h1.25M1008 589h1.25M927 641h1.25M1018 586h1.25M957 623h1.25M961 617h1.25M979 607h1.25M967 614h1.25M1061 555h1.25M1005 592h1.25M994 597h1.25M960 619h1.25M1046 564h1.25M1079 543h1.25M1027 574h1.25M1019 581h1.25M985 605h1.25M1011 583h1.25M1003 588h1.25M984 603h1.25M992 600h1.25M1003 594h1.25M1036 570h1.25M965 618h1.25M993 599h1.25M1010 589h1.25M952 623h1.25M918 649h1.25M1081 540h1.25M1014 584h1.25M986 600h1.25M965 615h1.25M988 598h1.25M955 625h1.25M1032 575h1.25M937 638h1.25M938 637h1.25M923 645h1.25M982 605h1.25M1000 591h1.25M1007 593h1.25M997 593h1.25M994 600h1.25M947 626h1.25M994 600h1.25M969 613h1.25M1051 562h1.25M994 597h1.25M1039 570h1.25M966 616h1.25M1019 583h1.25M1027 573h1.25M1036 570h1.25M971 610h1.25M1014 584h1.25M994 595h1.25M935 638h1.25M945 632h1.25M961 617h1.25M1006 593h1.25M997 596h1.25M950 626h1.25M1038 569h1.25M965 617h1.25M978 606h1.25M1011 587h1.25M1018 580h1.25M967 616h1.25M1001 591h1.25M1023 583h1.25M949 629h1.25M984 607h1.25M937 638h1.25M959 618h1.25M955 624h1.25M1042 571h1.25M966 615h1.25M986 606h1.25M990 603h1.25M1053 558h1.25M1000 594h1.25M1051 564h1.25M973 608h1.25M978 605h1.25M958 623h1.25M1051 559h1.25M989 601h1.25M1066 551h1.25M1000 594h1.25M990 598h1.25M978 609h1.25M973 610h1.25M984 604h1.25M1024 577h1.25M975 614h1.25M1024 580h1.25M986 603h1.25M1024 578h1.25M947 627h1.25M977 608h1.25M1005 593h1.25M994 598h1.25M1041 569h1.25M1023 575h1.25M946 628h1.25M989 602h1.25M976 608h1.25M1014 588h1.25M972 612h1.25M1079 542h1.25M1021 583h1.25M1071 548h1.25M984 605h1.25M1027 575h1.25M1019 579h1.25M962 620h1.25M1075 544h1.25M988 599h1.25M964 617h1.25M1061 556h1.25M981 603h1.25M1040 568h1.25M998 593h1.25M1021 579h1.25M1040 567h1.25M990 601h1.25M1032 574h1.25M1077 543h1.25M1040 568h1.25M951 627h1.25M1007 587h1.25M1069 548h1.25M1031 573h1.25M1013 586h1.25M958 623h1.25M1057 555h1.25M988 602h1.25M1016 582h1.25M1015 585h1.25M1010 590h1.25M983 604h1.25M1043 567h1.25M1003 592h1.25M997 598h1.25M960 619h1.25M1045 569h1.25M1009 590h1.25M985 607h1.25M934 636h1.25M1036 569h1.25M1082 539h1.25M1005 588h1.25M1007 590h1.25M995 599h1.25M970 615h1.25M978 608h1.25M1045 564h1.25M974 614h1.25M1057 558h1.25M1056 557h1.25M979 607h1.25M990 600h1.25M1011 589h1.25M1019 580h1.25M1004 594h1.25M973 611h1.25M997 597h1.25M973 610h1.25M997 597h1.25M981 606h1.25M978 607h1.25M1036 571h1.25M977 609h1.25M964 618h1.25M1046 568h1.25M926 643h1.25M949 624h1.25M995 596h1.25M962 615h1.25M998 594h1.25M1034 571h1.25M1071 547h1.25M970 614h1.25M999 596h1.25M1036 572h1.25M1032 574h1.25M1011 588h1.25M989 601h1.25M989 603h1.25M1032 572h1.25M954 624h1.25M976 610h1.25M1010 590h1.25M984 604h1.25M1029 578h1.25M987 600h1.25M1062 556h1.25M948 627h1.25M999 596h1.25M990 601h1.25M935 634h1.25M1061 554h1.25M975 607h1.25M1037 572h1.25M1002 595h1.25M985 603h1.25M1000 592h1.25M984 605h1.25M972 610h1.25M1032 574h1.25M955 621h1.25M989 600h1.25M1003 593h1.25M992 600h1.25M964 614h1.25M948 625h1.25M1018 580h1.25M999 595h1.25M982 605h1.25M952 625h1.25M1031 571h1.25M972 612h1.25M1036 572h1.25M1030 572h1.25M1046 564h1.25M1001 593h1.25M1008 585h1.25M980 609h1.25M948 630h1.25M918 649h1.25M997 595h1.25M951 626h1.25M1018 582h1.25M1014 586h1.25M949 626h1.25M1020 579h1.25M994 597h1.25M1033 575h1.25M1027 577h1.25M1024 576h1.25M1001 594h1.25M988 603h1.25M1019 579h1.25M1002 594h1.25M929 643h1.25M1005 588h1.25M931 637h1.25M1005 591h1.25M1030 574h1.25M965 616h1.25M950 626h1.25M1054 562h1.25M949 627h1.25M997 596h1.25M943 629h1.25M1025 579h1.25M992 601h1.25M987 599h1.25M999 596h1.25M968 614h1.25M1036 573h1.25M1005 590h1.25M988 599h1.25M1052 564h1.25M1011 584h1.25M1052 560h1.25M998 593h1.25M991 601h1.25M963 617h1.25M1000 592h1.25M1010 591h1.25M995 598h1.25M1003 590h1.25M993 600h1.25M991 601h1.25M945 631h1.25M999 592h1.25M988 603h1.25M1029 578h1.25M1002 594h1.25M963 619h1.25M1019 580h1.25M1016 586h1.25M985 602h1.25M985 605h1.25M1041 569h1.25M979 606h1.25M1013 587h1.25M1019 581h1.25M1013 583h1.25M972 613h1.25M1023 579h1.25M956 620h1.25M1004 588h1.25M1007 590h1.25M1010 586h1.25M944 632h1.25M928 641h1.25M1031 573h1.25M985 606h1.25M1015 585h1.25M996 594h1.25M999 597h1.25M1001 591h1.25M1072 546h1.25M1072 549h1.25M918 647h1.25M961 621h1.25M1038 573h1.25M1060 555h1.25M954 624h1.25M1012 584h1.25M986 601h1.25M1033 573h1.25M956 622h1.25M946 629h1.25M1033 574h1.25M997 593h1.25M1009 587h1.25M1007 587h1.25M956 620h1.25M1012 586h1.25M1062 554h1.25M996 592h1.25M988 603h1.25M997 594h1.25M1071 548h1.25M1018 585h1.25M1015 587h1.25M951 625h1.25M957 621h1.25M1005 592h1.25M993 600h1.25M1011 587h1.25M991 599h1.25M987 602h1.25M1062 555h1.25M978 605h1.25M1073 547h1.25M1043 567h1.25M1010 585h1.25M1002 594h1.25M1006 591h1.25M945 629h1.25M999 596h1.25M1024 580h1.25M1027 572h1.25M1011 582h1.25M1039 567h1.25M971 614h1.25M1031 575h1.25M1052 562h1.25M1000 593h1.25M997 595h1.25M976 609h1.25M960 618h1.25M973 609h1.25M964 617h1.25M1045 566h1.25M1051 562h1.25M1022 577h1.25M1071 546h1.25M988 601h1.25M1018 583h1.25M1048 562h1.25M1057 556h1.25M999 596h1.25M915 649h1.25M1000 592h1.25M991 602h1.25M967 613h1.25M1002 588h1.25M986 604h1.25M976 610h1.25M972 611h1.25M1016 581h1.25M961 621h1.25M1036 572h1.25M999 593h1.25M999 593h1.25M995 593h1.25M967 612h1.25M965 614h1.25M928 640h1.25M1023 579h1.25M986 602h1.25M955 620h1.25M935 635h1.25M1025 574h1.25M925 643h1.25M989 600h1.25M967 614h1.25M1005 589h1.25M990 602h1.25M998 594h1.25M1032 571h1.25M1026 578h1.25M963 619h1.25M1052 560h1.25M1023 579h1.25M1040 569h1.25M1006 591h1.25M974 614h1.25M952 623h1.25M985 603h1.25M979 607h1.25M1009 586h1.25M993 597h1.25M962 619h1.25M1020 579h1.25M959 619h1.25M1049 563h1.25M1036 573h1.25M1046 561h1.25M991 597h1.25M1042 570h1.25M976 611h1.25M1001 593h1.25M948 627h1.25M966 618h1.25M986 604h1.25M988 602h1.25M1044 567h1.25M935 635h1.25M1030 578h1.25M1008 587h1.25M948 626h1.25M969 612h1.25M1001 589h1.25M1057 557h1.25M1018 579h1.25M960 619h1.25M1011 584h1.25M1068 550h1.25M1014 582h1.25M993 599h1.25M972 612h1.25M996 594h1.25M996 595h1.25M1016 586h1.25M980 604h1.25M960 619h1.25M965 616h1.25M1051 562h1.25M1017 579h1.25M981 606h1.25M931 639h1.25M987 599h1.25M969 614h1.25M999 595h1.25M995 597h1.25M984 601h1.25M979 603h1.25M990 598h1.25M1009 590h1.25M1021 583h1.25M946 631h1.25M1017 579h1.25M984 604h1.25M1035 568h1.25M1028 576h1.25M993 599h1.25M1030 577h1.25M1004 592h1.25M958 620h1.25M973 611h1.25M963 617h1.25M1002 591h1.25M981 605h1.25M1011 589h1.25M940 633h1.25M1060 555h1.25M986 604h1.25M996 599h1.25M1036 573h1.25M1036 573h1.25M999 597h1.25M998 593h1.25M1000 593h1.25M1006 589h1.25M978 606h1.25M942 631h1.25M953 622h1.25M945 630h1.25M1037 567h1.25M958 620h1.25M950 623h1.25M1008 590h1.25M1029 574h1.25M939 634h1.25M956 622h1.25M971 610h1.25M961 622h1.25M995 593h1.25M1021 578h1.25M928 642h1.25M1008 591h1.25M1030 575h1.25M933 638h1.25M998 592h1.25M937 637h1.25M938 632h1.25M952 625h1.25M1005 592h1.25M1049 565h1.25M987 603h1.25M997 592h1.25M1008 590h1.25M1016 583h1.25M1065 554h1.25M950 628h1.25M1055 557h1.25M1008 591h1.25M1007 585h1.25M974 611h1.25M970 616h1.25M1019 584h1.25M968 616h1.25M947 631h1.25M981 607h1.25M980 603h1.25M968 613h1.25M1013 585h1.25M922 647h1.25M958 621h1.25M1002 593h1.25M1003 591h1.25M1040 570h1.25M995 596h1.25M1016 581h1.25M971 612h1.25M1017 587h1.25M949 624h1.25M1007 591h1.25M1058 558h1.25M960 622h1.25M979 607h1.25M983 603h1.25M998 598h1.25M977 611h1.25M992 600h1.25M1035 570h1.25M1063 554h1.25M1041 571h1.25M1029 573h1.25M1019 580h1.25M949 625h1.25M1004 593h1.25M970 616h1.25M998 598h1.25M958 620h1.25M941 635h1.25M967 615h1.25M971 615h1.25M1009 589h1.25M1000 594h1.25M978 610h1.25M957 623h1.25M988 601h1.25M949 627h1.25M1044 566h1.25M1025 574h1.25M1010 589h1.25M1059 554h1.25M975 607h1.25M1031 577h1.25M991 597h1.25M988 598h1.25M967 615h1.25M995 600h1.25M944 633h1.25M996 598h1.25M1025 578h1.25M1053 560h1.25M961 619h1.25M1015 587h1.25M1017 583h1.25M956 620h1.25M1044 568h1.25M1043 568h1.25M1010 589h1.25M1043 565h1.25M962 618h1.25M981 607h1.25M978 608h1.25M1020 584h1.25M987 600h1.25M1000 593h1.25M991 599h1.25M930 637h1.25M1004 588h1.25M971 611h1.25M936 637h1.25M984 605h1.25M1007 591h1.25M986 601h1.25M986 603h1.25M1024 575h1.25M1018 585h1.25M934 639h1.25M1018 582h1.25M998 592h1.25M980 608h1.25M1022 582h1.25M1050 561h1.25M1043 565h1.25M1035 575h1.25M974 609h1.25M949 626h1.25M926 644h1.25M1032 571h1.25M1027 575h1.25M1012 590h1.25M1013 583h1.25M1015 582h1.25M962 617h1.25M945 627h1.25M1024 575h1.25M954 621h1.25M923 644h1.25M1058 555h1.25M990 599h1.25M951 626h1.25M1002 591h1.25M1010 583h1.25M985 601h1.25M990 602h1.25M1052 560h1.25M1015 583h1.25M1017 581h1.25M994 597h1.25M1019 582h1.25M1050 559h1.25M960 618h1.25M935 639h1.25M964 617h1.25M982 606h1.25M997 598h1.25M980 603h1.25M973 611h1.25M1008 587h1.25M959 621h1.25M1021 581h1.25M1060 556h1.25M1044 564h1.25M948 626h1.25M1009 585h1.25M1043 569h1.25M1035 571h1.25M1010 589h1.25M973 608h1.25M953 623h1.25M1007 589h1.25M977 608h1.25M1011 588h1.25M955 626h1.25M988 600h1.25M928 639h1.25M980 608h1.25M996 595h1.25M1001 595h1.25M1060 557h1.25M937 637h1.25M1040 567h1.25M978 608h1.25M994 596h1.25M1006 589h1.25M964 617h1.25M1006 592h1.25M1035 570h1.25M1014 582h1.25M991 599h1.25M980 609h1.25M973 607h1.25M1008 588h1.25M941 634h1.25M982 606h1.25M962 619h1.25M994 599h1.25M1026 576h1.25M986 604h1.25M976 609h1.25M1020 581h1.25M1002 596h1.25M1062 556h1.25M984 604h1.25M949 627h1.25M977 605h1.25M999 595h1.25M985 606h1.25M1050 562h1.25M967 615h1.25M999 591h1.25M964 619h1.25M955 623h1.25M1015 583h1.25M1040 571h1.25M996 596h1.25M992 598h1.25M988 604h1.25M1009 589h1.25M1026 579h1.25M959 621h1.25M963 617h1.25M988 599h1.25M1084 538h1.25M959 618h1.25M963 620h1.25M925 645h1.25M994 597h1.25M983 606h1.25M1006 590h1.25M986 602h1.25M945 631h1.25M984 604h1.25M1029 578h1.25M1033 575h1.25M1003 594h1.25M973 614h1.25M959 621h1.25M1024 580h1.25M1041 570h1.25M1014 588h1.25M989 601h1.25M1017 583h1.25M934 639h1.25M951 628h1.25M951 626h1.25M997 598h1.25M984 604h1.25M972 612h1.25M1014 588h1.25M992 597h1.25M1009 588h1.25M948 627h1.25M1002 593h1.25M1046 567h1.25M989 603h1.25M1024 579h1.25M1013 588h1.25M1022 576h1.25M997 594h1.25M1019 584h1.25M957 623h1.25M993 599h1.25M998 594h1.25M1002 594h1.25M975 608h1.25M1025 581h1.25M972 614h1.25M1043 566h1.25M944 630h1.25M1002 595h1.25M979 608h1.25M1025 578h1.25M1046 563h1.25M969 614h1.25M972 611h1.25M1052 560h1.25M983 608h1.25M975 613h1.25M1072 549h1.25M1084 539h1.25M933 636h1.25M980 606h1.25M1004 592h1.25M942 631h1.25M980 605h1.25M1000 594h1.25M944 630h1.25M978 606h1.25M952 627h1.25M1021 577h1.25M1037 570h1.25M1007 592h1.25M960 620h1.25M982 604h1.25M1002 595h1.25M938 633h1.25M965 618h1.25M1039 571h1.25M966 613h1.25M1001 592h1.25M976 609h1.25M998 595h1.25M926 641h1.25M1040 568h1.25M1015 583h1.25M1041 570h1.25M984 605h1.25M1024 581h1.25M952 624h1.25M957 623h1.25M1008 588h1.25M988 603h1.25M1017 578h1.25M1011 583h1.25M992 599h1.25M977 608h1.25M955 622h1.25M966 615h1.25M982 604h1.25M969 613h1.25M1010 588h1.25M1009 588h1.25M990 600h1.25M917 650h1.25M950 625h1.25M993 600h1.25M1001 596h1.25M1027 577h1.25M1057 557h1.25M934 637h1.25M959 621h1.25M1013 589h1.25M965 614h1.25M1020 583h1.25M923 642h1.25M1016 586h1.25M1024 578h1.25M978 608h1.25M947 628h1.25M1014 587h1.25M960 620h1.25M977 609h1.25M984 604h1.25M1079 544h1.25M966 615h1.25M975 610h1.25M933 637h1.25M985 607h1.25M1029 575h1.25M1033 572h1.25M1029 574h1.25M1063 554h1.25M991 600h1.25M996 598h1.25M982 603h1.25M1044 566h1.25M990 599h1.25M982 605h1.25M975 607h1.25M983 606h1.25M985 606h1.25M1066 552h1.25M971 609h1.25M1003 593h1.25M955 624h1.25M1016 582h1.25M953 625h1.25M985 605h1.25M964 613h1.25M971 616h1.25M1069 550h1.25M966 618h1.25M968 613h1.25M1001 593h1.25M946 631h1.25M933 639h1.25M982 606h1.25M1040 567h1.25M921 645h1.25M976 608h1.25M956 623h1.25M1003 595h1.25M1018 584h1.25M936 634h1.25M985 604h1.25M1012 588h1.25M952 624h1.25M1008 592h1.25M1022 580h1.25M989 600h1.25M1038 569h1.25M1001 593h1.25M1004 588h1.25M1012 587h1.25M1003 589h1.25M977 609h1.25M1054 557h1.25M975 611h1.25M997 593h1.25M942 631h1.25M975 612h1.25M997 596h1.25M970 614h1.25M1025 579h1.25M985 605h1.25M947 627h1.25M961 617h1.25M982 603h1.25M1025 574h1.25M1032 572h1.25M1020 586h1.25M951 624h1.25M1038 570h1.25M992 596h1.25M965 617h1.25M987 600h1.25M989 601h1.25M1004 591h1.25M989 601h1.25M979 611h1.25M1076 543h1.25M998 596h1.25M951 627h1.25M958 623h1.25M958 620h1.25M929 639h1.25M971 613h1.25M994 596h1.25M1019 581h1.25M944 630h1.25M1001 593h1.25M985 604h1.25M996 599h1.25M963 616h1.25M1024 575h1.25M974 610h1.25M1007 591h1.25M1004 593h1.25M918 646h1.25M968 613h1.25M933 635h1.25M1008 588h1.25M1003 589h1.25M962 618h1.25M1017 581h1.25M983 602h1.25M1015 587h1.25M984 605h1.25M956 622h1.25M974 613h1.25M956 621h1.25M961 617h1.25M1023 580h1.25M1028 575h1.25M1053 558h1.25M984 603h1.25M1036 574h1.25M1036 571h1.25M1067 551h1.25M1026 576h1.25M1028 573h1.25M980 605h1.25M1016 585h1.25M982 604h1.25M1090 535h1.25M992 598h1.25M1051 559h1.25M1041 565h1.25M1002 593h1.25M1015 586h1.25M983 604h1.25M1035 571h1.25M994 599h1.25M993 596h1.25M982 603h1.25M950 628h1.25M963 619h1.25M1046 564h1.25M1045 563h1.25M991 597h1.25M988 601h1.25M995 601h1.25M983 602h1.25M982 608h1.25M974 612h1.25M998 595h1.25M1000 594h1.25M1008 585h1.25M987 601h1.25M955 624h1.25M1036 570h1.25M983 602h1.25M1040 571h1.25M1024 580h1.25M987 604h1.25M972 615h1.25M970 613h1.25M987 604h1.25M982 606h1.25M1008 590h1.25M1011 587h1.25M1001 594h1.25M991 599h1.25M1003 593h1.25M1024 575h1.25M1046 563h1.25M1021 583h1.25M946 629h1.25M1046 564h1.25M1011 587h1.25M971 613h1.25M1006 588h1.25M954 624h1.25M1012 588h1.25M1000 591h1.25M1003 588h1.25M1000 596h1.25" stroke="#fa0808" stroke-width="1.25" fill="none" opacity="0.85"/>
<polygon points="950.9,626.5 964.4,619.2 982.8,607.8 998.3,597.2 1012.3,588.7 1026.1,578.8 1038.6,569.9 1038.0,569.0 1024.7,576.6 1010.2,585.2 995.8,593.3 980.5,604.4 962.7,616.6 950.5,625.8" fill="#fa0808" opacity="0.93"/>
<path d="M830.2 472.8H841.7M835.2 515.4H841.7M835.2 504.7H841.7M835.2 497.1H841.7M835.2 491.2H841.7M835.2 486.3H841.7M835.2 482.2H841.7M835.2 478.7H841.7M835.2 475.6H841.7M830.2 533.8H841.7M835.2 576.4H841.7M835.2 565.7H841.7M835.2 558.1H841.7M835.2 552.2H841.7M835.2 547.3H841.7M835.2 543.2H841.7M835.2 539.7H841.7M835.2 536.6H841.7M830.2 594.8H841.7M835.2 637.4H841.7M835.2 626.7H841.7M835.2 619.1H841.7M835.2 613.2H841.7M835.2 608.3H841.7M835.2 604.2H841.7M835.2 600.7H841.7M835.2 597.6H841.7M830.2 655.8H841.7M835.2 698.4H841.7M835.2 687.7H841.7M835.2 680.1H841.7M835.2 674.2H841.7M835.2 669.3H841.7M835.2 665.2H841.7M835.2 661.7H841.7M835.2 658.6H841.7" stroke="#2a2a2a" stroke-width="1.3" fill="none"/>
<path d="M865.1 715.0v5.5M878.7 715.0v5.5M888.4 715.0v5.5M895.9 715.0v5.5M902.1 715.0v5.5M907.3 715.0v5.5M911.8 715.0v5.5M915.7 715.0v5.5M942.6 715.0v5.5M956.3 715.0v5.5M966.0 715.0v5.5M973.5 715.0v5.5M979.6 715.0v5.5M984.8 715.0v5.5M989.3 715.0v5.5M993.3 715.0v5.5M1020.2 715.0v5.5M1033.9 715.0v5.5M1043.6 715.0v5.5M1051.1 715.0v5.5M1057.2 715.0v5.5M1062.4 715.0v5.5M1066.9 715.0v5.5M1070.9 715.0v5.5M1097.8 715.0v5.5M1111.4 715.0v5.5M1121.1 715.0v5.5M1128.6 715.0v5.5M1134.8 715.0v5.5M1140.0 715.0v5.5M1144.5 715.0v5.5M1148.5 715.0v5.5" stroke="#111" stroke-width="4.1" fill="none"/>
<path d="M919.3 715.0v9.5M996.9 715.0v9.5M1074.4 715.0v9.5M1152.0 715.0v9.5" stroke="#111" stroke-width="4.1" fill="none"/>
<path d="M841.7 472.8H1152.0V715.0M996.3 472.8V715.0" stroke="#1a1a1a" stroke-width="1.4" fill="none"/>
<path d="M841.7 472.2V715.0" stroke="#111" stroke-width="1.8" fill="none"/>
<path d="M840.8 715.0H1152.7" stroke="#111" stroke-width="2" fill="none"/>
<text x="828.2" y="663.5" font-size="16.2" font-weight="bold" text-anchor="end" fill="#1a1a1a">10<tspan font-size="12.5" font-weight="normal" dy="-6.3">0</tspan></text>
<text transform="translate(911.1 735.2) scale(.87 1)" font-size="16.5" font-weight="bold" fill="#1a1a1a">10<tspan font-size="13" font-weight="normal" dy="-3.6">0</tspan></text>
<text x="828.2" y="602.5" font-size="16.2" font-weight="bold" text-anchor="end" fill="#1a1a1a">10<tspan font-size="12.5" font-weight="normal" dy="-6.3">1</tspan></text>
<text transform="translate(988.6 735.2) scale(.87 1)" font-size="16.5" font-weight="bold" fill="#1a1a1a">10<tspan font-size="13" font-weight="normal" dy="-3.6">1</tspan></text>
<text x="828.2" y="541.5" font-size="16.2" font-weight="bold" text-anchor="end" fill="#1a1a1a">10<tspan font-size="12.5" font-weight="normal" dy="-6.3">2</tspan></text>
<text transform="translate(1066.2 735.2) scale(.87 1)" font-size="16.5" font-weight="bold" fill="#1a1a1a">10<tspan font-size="13" font-weight="normal" dy="-3.6">2</tspan></text>
<text x="828.2" y="480.5" font-size="16.2" font-weight="bold" text-anchor="end" fill="#1a1a1a">10<tspan font-size="12.5" font-weight="normal" dy="-6.3">3</tspan></text>
<text transform="translate(1143.8 735.2) scale(.87 1)" font-size="16.5" font-weight="bold" fill="#1a1a1a">10<tspan font-size="13" font-weight="normal" dy="-3.6">3</tspan></text>
<text x="1000.5" y="768.0" font-size="17.5" font-weight="bold" text-anchor="middle" fill="#1a1a1a">DCF-DA 525nm</text>
<text transform="translate(780.7 595.9) rotate(-90)" font-size="17" font-weight="bold" text-anchor="middle" fill="#1a1a1a">FL3 log</text>
<text x="842.2" y="495.8" font-size="18.5" font-weight="bold" fill="#1a1a1a">A1</text>
<text x="847.6" y="519.8" font-size="19.2" font-weight="bold" fill="#1a1a1a" xml:space="preserve">59.8%</text>
<text x="996.7" y="495.8" font-size="18.5" font-weight="bold" fill="#1a1a1a">A2</text>
<text x="1001.7" y="519.8" font-size="19.2" font-weight="bold" fill="#1a1a1a" xml:space="preserve">40.2%</text>
<text x="988.7" y="455.6" font-size="23.4" text-anchor="middle" xml:space="preserve">0% FBS + BID+TL32711</text>
</g>
<g id="plot6">
<g filter="url(#bl)" clip-path="url(#cp105)">
<clipPath id="cp105"><rect x="1263.0" y="473.8" width="310.0" height="238.2"/></clipPath>
<polygon points="1266.5,712.5 1271.4,708.0 1259.5,694.3 1254.3,698.6" fill="#fa0808" opacity="0.23"/>
<polygon points="1271.1,708.3 1276.0,703.8 1264.3,690.3 1259.2,694.6" fill="#fa0808" opacity="0.27"/>
<polygon points="1275.7,704.0 1280.6,699.5 1269.1,686.3 1264.0,690.6" fill="#fa0808" opacity="0.31"/>
<polygon points="1280.8,699.3 1285.6,693.6 1274.0,682.2 1268.3,687.0" fill="#fa0808" opacity="0.34"/>
<polygon points="1285.2,694.0 1290.0,688.2 1279.3,677.7 1273.6,682.5" fill="#fa0808" opacity="0.38"/>
<polygon points="1289.6,688.7 1294.3,682.9 1284.6,673.3 1278.9,678.1" fill="#fa0808" opacity="0.43"/>
<polygon points="1294.0,683.3 1298.7,677.6 1289.9,668.8 1284.2,673.6" fill="#fa0808" opacity="0.48"/>
<polygon points="1297.5,678.7 1304.2,673.5 1297.5,664.0 1290.3,668.4" fill="#fa0808" opacity="0.52"/>
<polygon points="1303.8,673.8 1310.5,668.6 1304.3,659.8 1297.1,664.2" fill="#fa0808" opacity="0.54"/>
<polygon points="1310.1,668.9 1316.7,663.8 1311.0,655.5 1303.8,660.0" fill="#fa0808" opacity="0.56"/>
<polygon points="1316.0,664.3 1322.7,660.0 1318.2,652.0 1311.0,655.5" fill="#fa0808" opacity="0.58"/>
<polygon points="1322.3,660.2 1329.0,655.9 1324.9,648.7 1317.8,652.2" fill="#fa0808" opacity="0.61"/>
<polygon points="1328.6,656.2 1335.3,651.9 1331.6,645.4 1324.5,648.9" fill="#fa0808" opacity="0.64"/>
<polygon points="1335.2,652.0 1341.9,647.2 1337.9,641.2 1331.0,645.7" fill="#fa0808" opacity="0.67"/>
<polygon points="1341.6,647.5 1348.3,642.7 1344.4,636.9 1337.5,641.5" fill="#fa0808" opacity="0.68"/>
<polygon points="1347.9,643.0 1354.7,638.2 1350.9,632.7 1344.0,637.2" fill="#fa0808" opacity="0.69"/>
<polygon points="1354.3,638.4 1361.2,633.6 1357.5,628.2 1350.5,633.0" fill="#fa0808" opacity="0.69"/>
<polygon points="1360.8,633.8 1367.7,629.0 1364.0,623.7 1357.1,628.5" fill="#fa0808" opacity="0.69"/>
<polygon points="1367.3,629.2 1374.2,624.3 1370.6,619.2 1363.6,624.0" fill="#fa0808" opacity="0.68"/>
<polygon points="1373.8,624.6 1380.7,619.9 1377.1,614.7 1370.2,619.4" fill="#fa0808" opacity="0.67"/>
<polygon points="1380.3,620.2 1387.2,615.4 1383.7,610.2 1376.7,615.0" fill="#fa0808" opacity="0.65"/>
<polygon points="1386.8,615.7 1393.7,611.0 1390.2,605.8 1383.3,610.5" fill="#fa0808" opacity="0.63"/>
<polygon points="1393.2,611.3 1400.1,607.0 1396.7,601.7 1389.9,606.0" fill="#fa0808" opacity="0.62"/>
<polygon points="1399.7,607.3 1406.5,603.0 1403.2,597.7 1396.4,601.9" fill="#fa0808" opacity="0.60"/>
<polygon points="1406.1,603.2 1413.0,598.9 1409.6,593.6 1402.8,597.9" fill="#fa0808" opacity="0.58"/>
<polygon points="1412.5,599.2 1420.7,594.2 1417.4,588.9 1409.3,593.9" fill="#fa0808" opacity="0.54"/>
<polygon points="1420.6,594.3 1427.1,590.3 1423.7,584.9 1417.2,589.0" fill="#fa0808" opacity="0.48"/>
<polygon points="1426.6,590.6 1433.1,586.6 1429.6,581.1 1423.2,585.2" fill="#fa0808" opacity="0.43"/>
<polygon points="1432.6,586.9 1439.1,582.9 1435.6,577.3 1429.2,581.4" fill="#fa0808" opacity="0.39"/>
<polygon points="1438.6,583.2 1445.1,579.2 1441.6,573.5 1435.1,577.6" fill="#fa0808" opacity="0.34"/>
<polygon points="1444.7,579.5 1450.2,575.8 1446.7,570.4 1441.0,573.9" fill="#fa0808" opacity="0.30"/>
<polygon points="1449.8,576.1 1455.3,572.3 1451.9,567.1 1446.2,570.6" fill="#fa0808" opacity="0.27"/>
<polygon points="1454.9,572.6 1460.4,568.9 1457.1,563.8 1451.5,567.4" fill="#fa0808" opacity="0.24"/>
<polygon points="1460.0,569.2 1465.5,565.5 1462.3,560.6 1456.7,564.1" fill="#fa0808" opacity="0.20"/>
<polygon points="1465.1,565.7 1471.3,561.4 1468.2,556.8 1461.8,560.8" fill="#fa0808" opacity="0.18"/>
<polygon points="1470.6,561.9 1476.8,557.6 1473.8,553.2 1467.4,557.3" fill="#fa0808" opacity="0.16"/>
<polygon points="1476.0,558.2 1482.2,553.9 1479.4,549.6 1473.0,553.7" fill="#fa0808" opacity="0.15"/>
<polygon points="1481.5,554.4 1487.7,550.1 1485.0,546.0 1478.6,550.1" fill="#fa0808" opacity="0.13"/>
<polygon points="1486.9,550.6 1493.1,546.3 1490.6,542.4 1484.2,546.5" fill="#fa0808" opacity="0.12"/>
<polygon points="1492.4,546.8 1498.6,542.5 1496.2,538.9 1489.8,542.9" fill="#fa0808" opacity="0.10"/>
<polygon points="1497.8,543.0 1504.1,538.7 1501.8,535.3 1495.4,539.4" fill="#fa0808" opacity="0.08"/>
<polygon points="1503.2,539.3 1510.1,535.2 1508.1,531.8 1501.1,535.7" fill="#fa0808" opacity="0.06"/>
<polygon points="1509.6,535.5 1516.5,531.4 1514.6,528.1 1507.6,532.1" fill="#fa0808" opacity="0.05"/>
<polygon points="1516.0,531.7 1522.9,527.5 1521.1,524.5 1514.1,528.4" fill="#fa0808" opacity="0.03"/>
</g>
<path d="M1303 649h1.25M1522 527h1.25M1327 642h1.25M1289 661h1.25M1368 632h1.25M1325 645h1.25M1306 680h1.25M1272 667h1.25M1267 679h1.25M1449 567h1.25M1368 615h1.25M1298 688h1.25M1406 593h1.25M1341 635h1.25M1297 688h1.25M1293 700h1.25M1293 701h1.25M1334 657h1.25M1320 667h1.25M1315 673h1.25M1391 602h1.25M1288 710h1.25M1402 595h1.25M1277 669h1.25M1307 653h1.25M1301 656h1.25M1460 571h1.25M1357 642h1.25M1414 602h1.25M1281 707h1.25M1312 649h1.25M1470 552h1.25M1428 592h1.25M1395 617h1.25M1306 678h1.25M1269 679h1.25M1307 680h1.25M1477 550h1.25M1288 662h1.25M1293 697h1.25M1304 684h1.25M1292 699h1.25M1280 708h1.25M1376 626h1.25M1452 559h1.25M1508 536h1.25M1420 581h1.25M1519 531h1.25M1457 574h1.25M1456 562h1.25M1273 669h1.25M1429 578h1.25M1330 659h1.25M1495 547h1.25M1432 576h1.25M1465 557h1.25M1269 679h1.25M1507 537h1.25M1451 581h1.25M1358 625h1.25M1291 707h1.25M1337 638h1.25M1522 528h1.25M1335 639h1.25M1427 580h1.25M1292 658h1.25M1442 571h1.25M1449 579h1.25M1404 591h1.25M1456 575h1.25M1320 647h1.25M1291 706h1.25M1399 597h1.25M1500 541h1.25M1295 704h1.25M1437 570h1.25M1349 630h1.25M1408 607h1.25M1309 650h1.25M1295 660h1.25M1302 682h1.25M1467 555h1.25" stroke="#fa0808" stroke-width="1.25" fill="none" opacity="0.33"/>
<path d="M1445 580h1.25M1456 565h1.25M1430 591h1.25M1398 599h1.25M1377 625h1.25M1438 585h1.25M1273 680h1.25M1371 616h1.25M1266 687h1.25M1477 550h1.25M1279 705h1.25M1277 675h1.25M1392 603h1.25M1427 581h1.25M1489 547h1.25M1275 708h1.25M1289 697h1.25M1336 654h1.25M1499 540h1.25M1375 614h1.25M1347 647h1.25M1419 597h1.25M1300 681h1.25M1291 690h1.25M1272 682h1.25M1289 692h1.25M1273 710h1.25M1467 565h1.25M1275 707h1.25M1328 659h1.25M1381 621h1.25M1481 555h1.25M1381 621h1.25M1456 572h1.25M1398 599h1.25M1267 685h1.25M1429 579h1.25M1277 677h1.25M1338 652h1.25M1314 670h1.25M1465 565h1.25M1293 689h1.25M1417 588h1.25M1426 592h1.25M1491 545h1.25M1406 593h1.25M1320 665h1.25M1486 551h1.25M1343 650h1.25M1420 586h1.25M1317 650h1.25M1335 654h1.25M1506 535h1.25M1406 594h1.25M1474 553h1.25M1470 555h1.25M1313 670h1.25M1275 705h1.25M1505 536h1.25M1484 551h1.25M1354 628h1.25M1298 660h1.25M1293 663h1.25M1469 564h1.25M1365 634h1.25M1374 615h1.25M1306 674h1.25M1275 710h1.25M1302 677h1.25M1302 677h1.25M1372 616h1.25M1404 595h1.25M1347 632h1.25M1294 688h1.25M1350 644h1.25M1311 653h1.25M1479 549h1.25M1295 662h1.25M1477 552h1.25M1493 545h1.25M1436 575h1.25M1473 559h1.25M1487 549h1.25M1375 615h1.25M1326 660h1.25M1294 689h1.25M1481 555h1.25M1282 672h1.25M1304 676h1.25M1389 617h1.25M1315 652h1.25M1293 692h1.25M1452 567h1.25M1485 547h1.25M1266 688h1.25M1272 710h1.25M1495 542h1.25M1288 696h1.25M1300 660h1.25M1504 538h1.25M1317 651h1.25M1397 600h1.25M1435 587h1.25M1381 609h1.25M1296 684h1.25M1383 608h1.25M1274 677h1.25M1279 707h1.25M1423 595h1.25M1289 692h1.25M1297 683h1.25M1369 631h1.25M1269 685h1.25M1455 564h1.25M1485 549h1.25M1481 554h1.25M1304 657h1.25M1362 623h1.25M1498 542h1.25M1406 594h1.25M1269 685h1.25M1286 697h1.25M1370 630h1.25M1376 625h1.25M1448 579h1.25M1330 645h1.25M1312 653h1.25M1496 544h1.25M1456 572h1.25M1334 656h1.25M1451 575h1.25M1489 547h1.25M1348 632h1.25M1442 583h1.25M1438 586h1.25M1358 637h1.25M1316 667h1.25M1406 605h1.25M1304 657h1.25M1479 552h1.25M1433 588h1.25M1307 656h1.25M1280 673h1.25M1275 677h1.25M1479 556h1.25M1327 645h1.25M1349 644h1.25M1314 668h1.25M1462 567h1.25M1292 664h1.25M1306 674h1.25M1308 655h1.25M1364 621h1.25M1459 563h1.25M1480 551h1.25M1264 689h1.25M1352 629h1.25M1324 663h1.25M1410 592h1.25M1439 585h1.25M1374 626h1.25M1442 573h1.25M1278 674h1.25M1423 583h1.25M1404 595h1.25M1396 599h1.25M1432 589h1.25M1482 552h1.25M1390 616h1.25M1339 653h1.25M1293 687h1.25M1278 705h1.25M1477 557h1.25M1274 680h1.25M1463 561h1.25M1281 704h1.25M1405 606h1.25M1482 549h1.25M1432 579h1.25M1307 677h1.25M1421 585h1.25M1290 695h1.25M1380 610h1.25M1294 686h1.25M1396 611h1.25M1492 547h1.25M1478 550h1.25M1297 660h1.25M1299 680h1.25M1337 653h1.25M1481 548h1.25M1293 689h1.25M1417 598h1.25M1307 674h1.25M1269 683h1.25M1404 607h1.25M1282 670h1.25M1299 684h1.25M1384 608h1.25M1471 556h1.25M1278 705h1.25M1325 662h1.25M1268 682h1.25M1466 559h1.25M1462 569h1.25M1357 626h1.25M1469 562h1.25M1468 558h1.25M1309 653h1.25M1280 671h1.25M1424 583h1.25M1302 680h1.25M1285 696h1.25M1296 688h1.25M1474 553h1.25M1267 685h1.25M1500 538h1.25M1276 704h1.25M1436 587h1.25M1472 556h1.25M1281 672h1.25M1272 679h1.25M1487 547h1.25M1414 600h1.25M1476 553h1.25M1320 648h1.25M1320 664h1.25M1291 665h1.25M1273 708h1.25M1504 536h1.25M1496 541h1.25M1367 632h1.25M1346 634h1.25M1332 658h1.25M1472 555h1.25M1303 659h1.25M1303 657h1.25M1505 536h1.25M1451 568h1.25M1483 551h1.25M1390 605h1.25M1409 604h1.25M1352 642h1.25M1395 601h1.25M1289 693h1.25M1493 547h1.25" stroke="#fa0808" stroke-width="1.25" fill="none" opacity="0.58"/>
<path d="M1428 588h1.25M1296 670h1.25M1289 682h1.25M1331 653h1.25M1438 583h1.25M1349 640h1.25M1301 673h1.25M1444 580h1.25M1272 689h1.25M1371 627h1.25M1359 634h1.25M1409 597h1.25M1284 688h1.25M1289 684h1.25M1413 591h1.25M1287 679h1.25M1418 592h1.25M1300 667h1.25M1276 685h1.25M1409 602h1.25M1313 662h1.25M1398 605h1.25M1335 649h1.25M1378 612h1.25M1362 634h1.25M1332 654h1.25M1291 684h1.25M1332 648h1.25M1358 632h1.25M1323 657h1.25M1412 598h1.25M1340 639h1.25M1305 665h1.25M1266 699h1.25M1480 551h1.25M1296 679h1.25M1294 675h1.25M1415 595h1.25M1345 644h1.25M1322 658h1.25M1397 602h1.25M1343 645h1.25M1319 664h1.25M1285 689h1.25M1289 685h1.25M1278 693h1.25M1373 623h1.25M1434 584h1.25M1288 685h1.25M1462 565h1.25M1344 639h1.25M1346 642h1.25M1348 638h1.25M1357 630h1.25M1309 662h1.25M1324 655h1.25M1284 687h1.25M1409 599h1.25M1381 612h1.25M1416 592h1.25M1361 630h1.25M1371 628h1.25M1290 679h1.25M1361 629h1.25M1399 606h1.25M1293 666h1.25M1287 686h1.25M1417 590h1.25M1298 678h1.25M1285 687h1.25M1294 668h1.25M1357 630h1.25M1414 598h1.25M1327 653h1.25M1349 636h1.25M1340 643h1.25M1394 608h1.25M1278 685h1.25M1325 651h1.25M1290 670h1.25M1449 573h1.25M1305 669h1.25M1347 641h1.25M1413 593h1.25M1392 607h1.25M1451 572h1.25M1307 670h1.25M1304 668h1.25M1404 600h1.25M1431 584h1.25M1336 649h1.25M1331 651h1.25M1382 613h1.25M1385 613h1.25M1404 601h1.25M1318 653h1.25M1313 660h1.25M1319 658h1.25M1324 658h1.25M1318 659h1.25M1363 624h1.25M1318 654h1.25M1313 664h1.25M1264 703h1.25M1360 633h1.25M1399 603h1.25M1325 653h1.25M1352 640h1.25M1280 683h1.25M1399 607h1.25M1290 673h1.25M1311 659h1.25M1291 687h1.25M1397 605h1.25M1302 675h1.25M1376 622h1.25M1393 605h1.25M1392 610h1.25M1344 643h1.25M1299 670h1.25M1316 660h1.25M1354 637h1.25M1321 655h1.25M1295 673h1.25M1421 593h1.25M1272 695h1.25M1298 676h1.25M1301 666h1.25M1458 565h1.25M1324 656h1.25M1311 658h1.25M1391 609h1.25M1399 601h1.25M1286 673h1.25M1281 686h1.25M1427 583h1.25M1422 590h1.25M1442 578h1.25M1424 590h1.25M1396 603h1.25M1361 627h1.25M1312 665h1.25M1445 571h1.25M1368 628h1.25M1305 667h1.25M1390 611h1.25M1273 693h1.25M1331 651h1.25M1285 674h1.25M1357 631h1.25M1384 615h1.25M1265 700h1.25M1474 557h1.25M1392 610h1.25M1333 647h1.25M1332 649h1.25M1317 664h1.25M1332 648h1.25M1308 658h1.25M1334 646h1.25M1328 648h1.25M1394 607h1.25M1406 597h1.25M1271 693h1.25M1303 664h1.25M1359 628h1.25M1353 634h1.25M1273 693h1.25M1292 679h1.25M1339 642h1.25M1408 600h1.25M1327 656h1.25M1264 709h1.25M1280 685h1.25M1323 655h1.25M1448 574h1.25M1307 673h1.25M1299 668h1.25M1346 644h1.25M1400 605h1.25M1283 677h1.25M1307 664h1.25M1338 646h1.25M1330 647h1.25M1311 670h1.25M1402 602h1.25M1271 689h1.25M1346 643h1.25M1310 664h1.25M1307 669h1.25M1271 701h1.25M1357 629h1.25M1310 670h1.25M1295 680h1.25M1302 664h1.25M1352 635h1.25M1433 581h1.25M1287 681h1.25M1410 598h1.25M1348 640h1.25M1403 598h1.25M1321 651h1.25M1287 685h1.25M1419 590h1.25M1356 633h1.25M1355 629h1.25M1438 578h1.25M1326 654h1.25M1340 641h1.25M1287 688h1.25M1303 664h1.25M1430 587h1.25M1331 652h1.25M1341 642h1.25M1402 607h1.25M1277 693h1.25M1311 663h1.25M1413 596h1.25M1270 692h1.25M1384 614h1.25M1414 597h1.25M1296 673h1.25M1449 573h1.25M1375 619h1.25M1370 626h1.25M1280 679h1.25M1376 620h1.25M1417 591h1.25M1377 622h1.25M1288 682h1.25M1304 663h1.25M1294 683h1.25M1295 675h1.25M1351 638h1.25M1264 707h1.25M1292 680h1.25M1297 677h1.25M1270 690h1.25M1372 618h1.25M1307 662h1.25M1281 695h1.25M1342 637h1.25M1390 608h1.25M1347 641h1.25M1317 659h1.25M1276 696h1.25M1317 658h1.25M1361 630h1.25M1317 655h1.25M1415 596h1.25M1331 650h1.25M1339 647h1.25M1425 591h1.25M1344 641h1.25M1337 641h1.25M1333 648h1.25M1334 652h1.25M1417 591h1.25M1321 659h1.25M1410 596h1.25M1309 662h1.25M1306 666h1.25M1390 614h1.25M1289 671h1.25M1272 701h1.25M1374 617h1.25M1280 680h1.25M1339 645h1.25M1325 647h1.25M1456 569h1.25M1324 655h1.25M1415 596h1.25M1472 559h1.25M1317 654h1.25M1417 592h1.25M1293 678h1.25M1311 659h1.25M1322 663h1.25M1283 687h1.25M1301 670h1.25M1313 659h1.25M1445 579h1.25M1286 673h1.25M1366 627h1.25M1348 640h1.25M1368 626h1.25M1301 674h1.25M1412 595h1.25M1316 654h1.25M1337 648h1.25M1330 653h1.25M1465 561h1.25M1310 660h1.25M1367 623h1.25M1310 670h1.25M1438 581h1.25M1442 578h1.25M1412 595h1.25M1412 593h1.25M1302 665h1.25M1342 643h1.25M1453 570h1.25M1419 591h1.25M1312 659h1.25M1364 628h1.25M1283 683h1.25M1402 604h1.25M1270 690h1.25M1406 598h1.25M1393 610h1.25M1365 628h1.25M1371 621h1.25M1429 582h1.25M1341 644h1.25M1307 662h1.25M1293 669h1.25M1347 641h1.25M1361 632h1.25M1323 648h1.25M1264 704h1.25M1278 692h1.25M1301 672h1.25M1442 578h1.25M1320 657h1.25M1342 643h1.25M1356 638h1.25M1281 680h1.25M1313 668h1.25M1299 662h1.25M1292 667h1.25M1322 656h1.25M1356 632h1.25M1328 652h1.25M1405 603h1.25M1279 683h1.25M1306 662h1.25M1302 665h1.25M1292 674h1.25M1288 684h1.25M1428 588h1.25M1311 670h1.25M1338 646h1.25M1377 619h1.25M1273 684h1.25M1306 659h1.25M1301 669h1.25M1392 610h1.25M1412 597h1.25M1374 619h1.25M1280 681h1.25M1414 593h1.25M1391 610h1.25M1276 697h1.25M1285 695h1.25M1312 656h1.25M1310 661h1.25M1280 696h1.25M1276 684h1.25M1334 646h1.25M1336 646h1.25M1314 661h1.25M1295 672h1.25M1366 627h1.25M1369 624h1.25M1329 649h1.25M1286 688h1.25M1359 630h1.25M1297 678h1.25M1385 615h1.25M1387 611h1.25M1291 667h1.25M1365 631h1.25M1286 680h1.25M1351 636h1.25M1323 659h1.25M1309 666h1.25M1292 678h1.25M1330 645h1.25M1344 644h1.25M1381 618h1.25M1422 585h1.25M1354 637h1.25M1374 622h1.25M1415 592h1.25M1329 655h1.25M1333 651h1.25M1295 681h1.25M1384 612h1.25M1405 599h1.25M1347 642h1.25M1291 681h1.25M1271 689h1.25M1367 627h1.25M1298 677h1.25M1334 650h1.25M1353 635h1.25M1428 589h1.25M1281 680h1.25M1365 625h1.25M1411 595h1.25M1338 643h1.25M1417 589h1.25M1362 632h1.25M1379 616h1.25M1321 655h1.25M1359 631h1.25M1359 627h1.25M1297 666h1.25M1282 691h1.25M1411 595h1.25M1325 651h1.25M1264 702h1.25M1314 661h1.25M1347 641h1.25M1359 631h1.25M1264 697h1.25M1351 636h1.25M1362 628h1.25M1324 655h1.25M1384 613h1.25M1442 576h1.25M1405 599h1.25M1343 638h1.25M1350 635h1.25M1272 684h1.25M1345 639h1.25M1310 661h1.25M1314 659h1.25M1361 630h1.25M1419 595h1.25M1269 699h1.25M1332 647h1.25M1293 674h1.25M1279 688h1.25M1449 573h1.25M1406 601h1.25M1279 687h1.25M1368 624h1.25M1413 595h1.25M1336 646h1.25M1274 697h1.25M1308 669h1.25M1360 629h1.25M1332 645h1.25M1316 660h1.25M1347 640h1.25M1322 649h1.25M1266 702h1.25M1287 684h1.25M1370 619h1.25M1371 622h1.25M1336 647h1.25M1345 641h1.25M1280 690h1.25M1363 628h1.25M1374 617h1.25M1379 621h1.25M1421 587h1.25M1354 638h1.25M1287 687h1.25M1297 678h1.25M1275 698h1.25M1355 633h1.25M1334 650h1.25M1311 663h1.25M1285 694h1.25M1409 595h1.25M1347 641h1.25M1340 646h1.25M1387 611h1.25M1402 602h1.25M1420 593h1.25M1441 581h1.25M1329 652h1.25M1361 627h1.25M1291 677h1.25M1315 657h1.25M1380 617h1.25M1436 580h1.25M1336 643h1.25M1442 579h1.25M1443 577h1.25M1371 622h1.25M1376 620h1.25M1431 582h1.25M1347 639h1.25M1300 671h1.25M1346 635h1.25M1296 665h1.25M1277 692h1.25M1447 574h1.25M1367 624h1.25M1398 602h1.25M1347 642h1.25M1320 657h1.25M1355 634h1.25M1382 612h1.25M1270 700h1.25M1398 606h1.25M1336 644h1.25M1369 621h1.25M1337 649h1.25M1328 652h1.25M1372 620h1.25M1367 630h1.25M1344 639h1.25M1364 627h1.25M1305 667h1.25M1312 660h1.25M1302 672h1.25M1321 657h1.25M1342 642h1.25M1470 558h1.25M1308 659h1.25M1331 648h1.25M1296 682h1.25M1394 604h1.25M1297 665h1.25M1299 668h1.25M1323 653h1.25M1364 631h1.25M1442 578h1.25M1354 631h1.25M1417 594h1.25M1277 692h1.25M1362 627h1.25M1319 652h1.25M1427 586h1.25M1324 660h1.25M1331 648h1.25M1266 696h1.25M1354 632h1.25M1429 583h1.25M1349 635h1.25M1303 670h1.25M1392 610h1.25M1337 646h1.25M1353 633h1.25M1401 603h1.25M1311 654h1.25M1273 683h1.25M1365 629h1.25M1365 628h1.25M1341 643h1.25M1271 692h1.25M1408 598h1.25M1320 658h1.25M1390 610h1.25M1454 567h1.25M1323 649h1.25M1282 690h1.25M1288 685h1.25M1374 621h1.25M1331 655h1.25M1272 697h1.25M1431 582h1.25M1377 619h1.25M1334 645h1.25M1364 623h1.25M1297 669h1.25M1295 680h1.25M1313 662h1.25M1290 689h1.25M1382 617h1.25M1372 622h1.25M1438 577h1.25M1297 673h1.25M1285 676h1.25M1295 668h1.25M1377 618h1.25M1287 688h1.25M1406 600h1.25M1305 667h1.25M1361 628h1.25M1375 619h1.25M1274 695h1.25M1305 662h1.25M1297 676h1.25M1343 637h1.25M1372 620h1.25M1293 682h1.25M1390 612h1.25M1474 556h1.25M1352 637h1.25M1415 595h1.25M1290 672h1.25M1399 608h1.25M1386 615h1.25M1383 614h1.25M1429 587h1.25M1348 639h1.25M1427 584h1.25M1333 647h1.25M1287 676h1.25M1385 611h1.25M1290 680h1.25M1273 692h1.25M1284 673h1.25M1311 658h1.25M1280 687h1.25M1296 667h1.25M1439 583h1.25M1298 678h1.25M1395 608h1.25M1361 634h1.25M1268 704h1.25M1387 616h1.25M1270 694h1.25M1441 580h1.25M1363 632h1.25M1372 625h1.25M1386 617h1.25M1418 592h1.25M1297 669h1.25M1394 612h1.25M1361 633h1.25M1350 638h1.25M1322 651h1.25M1344 639h1.25M1296 677h1.25M1336 644h1.25M1333 646h1.25M1307 660h1.25M1323 651h1.25M1267 695h1.25M1368 626h1.25M1399 600h1.25M1292 666h1.25M1270 696h1.25M1343 645h1.25M1298 667h1.25M1358 630h1.25M1354 634h1.25M1301 660h1.25M1332 647h1.25M1272 694h1.25M1436 585h1.25M1317 661h1.25M1322 648h1.25M1365 623h1.25M1323 661h1.25M1339 640h1.25M1267 708h1.25M1399 608h1.25M1401 600h1.25M1379 620h1.25M1367 626h1.25M1452 570h1.25M1347 641h1.25M1358 634h1.25M1401 602h1.25M1334 649h1.25M1337 648h1.25M1341 642h1.25M1398 605h1.25M1319 657h1.25M1265 698h1.25M1313 660h1.25M1278 688h1.25M1279 679h1.25M1276 692h1.25M1377 617h1.25M1346 638h1.25M1388 607h1.25M1354 631h1.25M1313 658h1.25M1405 599h1.25M1284 686h1.25M1273 692h1.25M1319 660h1.25M1312 662h1.25M1359 636h1.25M1295 674h1.25M1323 657h1.25M1434 584h1.25M1380 621h1.25M1406 602h1.25M1297 668h1.25M1381 620h1.25M1385 614h1.25M1301 668h1.25M1408 601h1.25M1321 652h1.25M1338 644h1.25M1323 650h1.25M1409 594h1.25M1416 594h1.25M1276 699h1.25M1386 614h1.25M1402 599h1.25M1345 637h1.25M1332 656h1.25M1333 647h1.25M1320 652h1.25M1298 674h1.25M1379 618h1.25M1269 695h1.25M1328 658h1.25M1396 609h1.25M1322 658h1.25M1266 696h1.25M1334 648h1.25M1461 563h1.25M1358 630h1.25M1325 655h1.25M1393 609h1.25M1355 633h1.25M1281 682h1.25M1302 670h1.25M1333 649h1.25M1291 684h1.25M1273 691h1.25M1451 573h1.25M1329 649h1.25M1359 629h1.25M1323 662h1.25M1272 705h1.25M1302 669h1.25M1353 635h1.25M1289 675h1.25M1286 678h1.25M1391 610h1.25M1332 649h1.25M1344 638h1.25M1329 653h1.25M1357 635h1.25M1373 622h1.25M1318 657h1.25M1369 622h1.25M1316 659h1.25M1279 696h1.25M1287 683h1.25M1267 702h1.25M1356 629h1.25M1385 616h1.25M1297 665h1.25M1290 687h1.25M1326 652h1.25M1279 693h1.25M1406 596h1.25M1270 704h1.25M1412 594h1.25M1361 634h1.25M1295 672h1.25M1330 653h1.25M1285 683h1.25M1404 602h1.25M1300 663h1.25M1344 640h1.25M1298 664h1.25M1316 664h1.25M1413 596h1.25M1424 588h1.25M1295 672h1.25M1276 682h1.25M1283 691h1.25M1369 624h1.25M1274 690h1.25M1322 655h1.25M1304 673h1.25M1275 701h1.25M1320 660h1.25M1410 594h1.25M1306 666h1.25M1279 696h1.25M1394 609h1.25M1403 605h1.25M1354 629h1.25M1285 678h1.25M1394 605h1.25M1319 652h1.25M1319 658h1.25M1329 649h1.25M1275 690h1.25M1324 656h1.25M1281 692h1.25M1378 618h1.25M1346 638h1.25M1337 648h1.25M1339 639h1.25M1315 664h1.25M1311 670h1.25M1434 579h1.25M1346 642h1.25M1287 673h1.25M1377 613h1.25M1293 677h1.25M1435 579h1.25M1408 599h1.25M1336 641h1.25M1373 623h1.25M1435 585h1.25M1407 598h1.25M1265 707h1.25M1433 583h1.25M1431 585h1.25M1361 631h1.25M1292 687h1.25M1405 597h1.25M1283 681h1.25M1334 652h1.25M1303 674h1.25M1300 674h1.25M1336 644h1.25M1366 623h1.25M1326 655h1.25M1388 612h1.25M1277 685h1.25M1301 672h1.25M1270 691h1.25M1316 657h1.25M1309 664h1.25M1399 608h1.25M1281 683h1.25M1385 609h1.25M1402 602h1.25M1291 676h1.25M1369 622h1.25M1353 636h1.25M1357 631h1.25M1404 603h1.25M1303 675h1.25M1317 656h1.25M1372 626h1.25M1278 691h1.25M1324 655h1.25M1351 635h1.25M1431 586h1.25M1333 649h1.25M1305 674h1.25M1293 665h1.25M1265 691h1.25M1329 649h1.25M1337 649h1.25M1309 658h1.25M1360 633h1.25M1411 595h1.25M1361 628h1.25M1309 661h1.25M1439 579h1.25M1336 651h1.25M1343 639h1.25M1267 693h1.25M1362 632h1.25M1419 591h1.25M1367 626h1.25M1293 680h1.25M1349 639h1.25M1340 643h1.25M1268 703h1.25M1294 673h1.25M1298 673h1.25M1338 647h1.25M1321 662h1.25M1415 594h1.25M1291 674h1.25M1382 615h1.25M1339 648h1.25M1305 663h1.25M1286 673h1.25M1308 663h1.25M1408 602h1.25M1441 577h1.25M1309 670h1.25M1295 674h1.25M1428 585h1.25M1416 594h1.25M1281 696h1.25M1430 582h1.25M1277 685h1.25M1347 639h1.25M1433 580h1.25M1276 699h1.25M1348 634h1.25M1374 617h1.25M1339 643h1.25M1428 588h1.25M1316 662h1.25M1376 617h1.25M1279 693h1.25M1306 666h1.25M1293 678h1.25M1390 615h1.25M1267 697h1.25M1352 637h1.25M1471 558h1.25M1278 688h1.25M1366 630h1.25M1345 642h1.25M1361 630h1.25M1345 645h1.25M1313 663h1.25M1272 703h1.25M1363 631h1.25M1384 610h1.25M1290 684h1.25M1363 627h1.25M1305 667h1.25M1295 668h1.25M1308 667h1.25M1277 680h1.25M1373 625h1.25M1315 655h1.25M1311 662h1.25M1271 696h1.25M1289 669h1.25M1267 692h1.25M1403 601h1.25M1342 641h1.25M1289 681h1.25M1389 610h1.25M1292 674h1.25M1427 587h1.25M1265 697h1.25M1279 677h1.25M1288 678h1.25M1398 608h1.25M1273 685h1.25M1285 679h1.25M1373 624h1.25M1337 647h1.25M1270 702h1.25M1449 572h1.25M1297 680h1.25M1412 591h1.25M1293 675h1.25M1288 688h1.25M1277 693h1.25M1360 633h1.25M1373 616h1.25M1372 626h1.25M1340 641h1.25M1393 609h1.25M1414 594h1.25M1447 577h1.25M1346 640h1.25M1316 658h1.25M1320 657h1.25M1273 692h1.25M1316 653h1.25M1332 649h1.25M1432 584h1.25M1383 614h1.25M1302 667h1.25M1369 625h1.25M1393 607h1.25M1346 635h1.25M1376 621h1.25M1426 583h1.25M1357 631h1.25M1321 659h1.25M1423 589h1.25M1312 659h1.25M1337 644h1.25M1339 644h1.25M1344 645h1.25M1281 695h1.25M1289 678h1.25M1311 657h1.25M1375 618h1.25M1303 668h1.25M1287 686h1.25M1270 691h1.25M1306 662h1.25M1449 572h1.25M1365 631h1.25M1318 656h1.25M1389 608h1.25M1364 626h1.25M1297 676h1.25M1398 604h1.25M1344 640h1.25M1335 647h1.25M1377 615h1.25M1326 652h1.25M1360 626h1.25M1308 656h1.25M1307 671h1.25M1300 670h1.25M1437 577h1.25M1351 636h1.25M1293 665h1.25M1307 657h1.25M1265 696h1.25M1370 622h1.25M1418 592h1.25M1315 663h1.25M1308 664h1.25M1321 656h1.25M1426 584h1.25M1279 689h1.25M1290 690h1.25M1355 633h1.25M1317 662h1.25M1415 596h1.25M1266 697h1.25M1372 620h1.25M1393 608h1.25M1316 657h1.25M1315 663h1.25M1335 653h1.25M1456 568h1.25M1346 639h1.25M1323 654h1.25M1305 660h1.25M1278 702h1.25M1345 640h1.25M1420 589h1.25M1374 619h1.25M1297 675h1.25M1360 627h1.25M1359 630h1.25M1460 567h1.25M1300 673h1.25M1413 592h1.25M1274 693h1.25M1415 593h1.25M1341 645h1.25M1306 664h1.25M1341 643h1.25M1383 612h1.25M1430 584h1.25M1268 699h1.25M1282 677h1.25M1272 695h1.25M1289 671h1.25M1283 691h1.25M1389 611h1.25M1298 673h1.25M1270 694h1.25M1331 655h1.25M1337 642h1.25M1459 566h1.25M1402 600h1.25M1322 650h1.25M1289 675h1.25M1363 626h1.25M1390 608h1.25M1374 616h1.25M1386 613h1.25M1375 617h1.25M1406 601h1.25M1411 594h1.25M1401 603h1.25M1406 605h1.25M1319 657h1.25M1319 662h1.25M1408 595h1.25M1291 677h1.25M1370 627h1.25M1303 664h1.25M1389 608h1.25M1264 695h1.25M1332 648h1.25M1291 676h1.25M1408 601h1.25M1396 608h1.25M1313 653h1.25M1412 597h1.25M1387 615h1.25M1359 631h1.25M1265 701h1.25M1348 639h1.25M1439 576h1.25M1453 567h1.25M1392 610h1.25M1440 583h1.25M1404 600h1.25M1380 615h1.25M1402 602h1.25M1428 587h1.25M1401 605h1.25M1321 655h1.25M1386 610h1.25M1449 574h1.25M1346 641h1.25M1435 578h1.25M1307 664h1.25M1268 694h1.25M1370 627h1.25M1409 599h1.25M1411 596h1.25M1286 678h1.25M1460 565h1.25M1348 638h1.25M1267 697h1.25M1427 588h1.25M1316 663h1.25M1278 686h1.25M1275 696h1.25M1335 647h1.25M1410 599h1.25M1384 613h1.25M1270 695h1.25M1442 579h1.25M1389 606h1.25M1272 692h1.25M1344 642h1.25M1364 633h1.25M1420 590h1.25M1377 619h1.25M1373 618h1.25M1440 575h1.25M1381 620h1.25M1288 691h1.25M1332 647h1.25M1343 639h1.25M1436 580h1.25M1300 677h1.25M1327 657h1.25M1317 662h1.25M1328 657h1.25M1350 634h1.25M1309 661h1.25M1345 639h1.25M1444 576h1.25M1332 651h1.25M1413 597h1.25M1267 705h1.25M1355 634h1.25M1278 696h1.25M1409 598h1.25M1344 638h1.25M1351 638h1.25M1363 629h1.25M1434 578h1.25M1356 633h1.25M1371 627h1.25M1301 668h1.25M1370 623h1.25M1459 568h1.25M1344 641h1.25M1340 642h1.25M1361 631h1.25M1308 659h1.25M1290 673h1.25M1418 593h1.25M1366 632h1.25M1364 628h1.25M1374 618h1.25M1298 666h1.25M1352 638h1.25M1265 697h1.25M1391 608h1.25M1434 578h1.25M1282 697h1.25M1280 682h1.25M1324 651h1.25M1269 691h1.25M1354 636h1.25M1408 596h1.25M1320 653h1.25M1281 681h1.25M1350 636h1.25M1278 685h1.25M1332 649h1.25M1346 638h1.25M1352 637h1.25M1264 691h1.25M1363 632h1.25M1299 664h1.25M1311 659h1.25M1374 616h1.25M1309 661h1.25M1352 634h1.25M1406 596h1.25M1351 641h1.25M1366 625h1.25M1319 656h1.25M1291 672h1.25M1404 598h1.25M1417 593h1.25M1314 660h1.25M1467 561h1.25M1331 648h1.25M1349 634h1.25M1336 651h1.25M1309 670h1.25M1324 654h1.25M1266 698h1.25M1407 599h1.25M1302 671h1.25M1289 676h1.25M1378 620h1.25M1296 681h1.25M1315 659h1.25M1335 650h1.25M1396 606h1.25M1274 690h1.25M1352 631h1.25M1348 641h1.25M1427 584h1.25M1384 612h1.25M1299 675h1.25M1287 670h1.25M1418 595h1.25M1378 614h1.25M1294 681h1.25M1354 632h1.25M1402 599h1.25M1271 693h1.25M1390 610h1.25M1357 627h1.25M1464 564h1.25M1290 684h1.25M1323 658h1.25M1450 572h1.25M1380 617h1.25M1410 596h1.25M1339 650h1.25M1309 667h1.25M1383 613h1.25M1447 576h1.25M1367 627h1.25M1386 609h1.25M1313 663h1.25M1305 666h1.25M1326 656h1.25M1318 655h1.25M1286 686h1.25M1426 588h1.25M1283 697h1.25M1334 642h1.25M1306 662h1.25M1317 654h1.25M1331 655h1.25M1331 649h1.25M1429 586h1.25M1287 683h1.25M1317 661h1.25M1307 665h1.25M1445 575h1.25M1358 636h1.25M1293 677h1.25M1384 609h1.25M1346 642h1.25M1350 639h1.25M1308 665h1.25M1347 645h1.25M1368 622h1.25M1273 699h1.25M1391 608h1.25M1283 686h1.25M1329 655h1.25M1292 675h1.25M1484 550h1.25M1404 600h1.25M1398 604h1.25M1386 616h1.25M1399 608h1.25M1292 686h1.25M1304 659h1.25M1392 609h1.25M1300 668h1.25M1372 622h1.25M1327 655h1.25M1457 566h1.25M1427 588h1.25M1399 600h1.25M1290 677h1.25M1311 660h1.25M1320 654h1.25M1396 608h1.25M1424 584h1.25M1441 576h1.25M1325 649h1.25M1347 639h1.25M1275 682h1.25M1395 606h1.25M1393 610h1.25M1364 628h1.25M1430 585h1.25M1425 587h1.25M1349 636h1.25M1313 660h1.25M1358 631h1.25M1319 651h1.25M1341 643h1.25M1359 632h1.25M1375 617h1.25M1346 640h1.25M1454 571h1.25M1454 571h1.25M1326 651h1.25M1389 608h1.25M1372 618h1.25M1322 648h1.25M1375 618h1.25M1275 688h1.25M1280 687h1.25M1272 689h1.25M1264 696h1.25M1352 633h1.25M1283 692h1.25M1393 603h1.25M1313 657h1.25M1355 635h1.25M1287 685h1.25M1324 653h1.25M1350 636h1.25M1309 667h1.25M1385 612h1.25M1421 591h1.25M1375 619h1.25M1306 666h1.25M1305 668h1.25M1336 648h1.25M1421 593h1.25M1283 680h1.25M1297 678h1.25M1321 657h1.25M1296 674h1.25M1265 701h1.25M1360 631h1.25M1281 682h1.25M1286 676h1.25M1430 585h1.25M1323 658h1.25M1413 597h1.25M1456 570h1.25M1331 649h1.25M1445 579h1.25M1403 604h1.25M1354 639h1.25M1294 680h1.25M1344 642h1.25M1438 578h1.25M1432 582h1.25M1436 577h1.25M1332 650h1.25M1325 655h1.25M1288 672h1.25M1421 589h1.25M1297 672h1.25M1290 688h1.25M1320 660h1.25M1390 607h1.25M1328 651h1.25M1355 635h1.25M1282 687h1.25M1385 614h1.25M1421 592h1.25M1325 659h1.25M1346 644h1.25M1448 571h1.25M1312 665h1.25M1305 663h1.25M1409 602h1.25M1303 665h1.25M1355 636h1.25M1338 643h1.25M1339 644h1.25M1273 699h1.25M1292 684h1.25M1305 661h1.25M1279 698h1.25M1287 685h1.25M1325 655h1.25M1342 637h1.25M1320 657h1.25M1287 673h1.25M1373 620h1.25M1310 663h1.25M1417 594h1.25M1353 632h1.25M1413 593h1.25M1364 628h1.25M1360 629h1.25M1279 682h1.25M1295 673h1.25M1289 688h1.25M1425 588h1.25M1405 596h1.25M1320 656h1.25M1449 573h1.25M1294 675h1.25M1296 670h1.25M1382 616h1.25M1378 619h1.25M1380 614h1.25M1407 595h1.25M1330 649h1.25M1418 594h1.25M1292 673h1.25M1357 628h1.25M1428 584h1.25M1407 601h1.25M1289 667h1.25M1264 704h1.25M1385 612h1.25M1310 661h1.25M1378 616h1.25M1399 602h1.25M1290 680h1.25M1271 686h1.25M1442 579h1.25M1420 587h1.25M1441 576h1.25M1345 645h1.25M1374 617h1.25M1290 678h1.25M1296 676h1.25M1427 586h1.25M1283 688h1.25M1341 645h1.25M1435 581h1.25M1358 633h1.25M1366 626h1.25M1317 656h1.25M1383 617h1.25M1296 664h1.25M1357 629h1.25M1393 610h1.25M1296 676h1.25M1372 623h1.25M1332 651h1.25M1342 640h1.25M1437 583h1.25M1307 657h1.25M1355 634h1.25M1360 627h1.25M1346 638h1.25M1295 669h1.25M1281 691h1.25M1356 637h1.25M1274 682h1.25M1301 666h1.25M1427 586h1.25M1286 675h1.25M1364 627h1.25M1301 667h1.25M1389 606h1.25M1408 595h1.25M1287 675h1.25M1408 597h1.25M1479 553h1.25M1321 658h1.25M1359 634h1.25M1377 618h1.25M1379 615h1.25M1298 663h1.25M1417 594h1.25M1395 609h1.25M1422 587h1.25M1305 661h1.25M1315 656h1.25M1333 650h1.25M1435 582h1.25M1271 692h1.25M1404 599h1.25M1369 623h1.25M1295 676h1.25M1397 606h1.25M1294 673h1.25M1470 560h1.25M1306 666h1.25M1388 610h1.25M1451 569h1.25M1437 579h1.25M1402 599h1.25M1363 630h1.25M1277 700h1.25M1367 621h1.25M1301 672h1.25M1278 686h1.25M1386 609h1.25M1367 624h1.25M1312 663h1.25M1377 619h1.25M1423 588h1.25M1392 612h1.25M1344 638h1.25M1411 595h1.25M1294 676h1.25M1312 662h1.25M1302 666h1.25M1356 639h1.25M1325 656h1.25M1338 646h1.25M1319 653h1.25M1315 652h1.25M1382 614h1.25M1318 653h1.25M1366 626h1.25M1296 678h1.25M1289 679h1.25M1378 615h1.25M1306 672h1.25M1271 697h1.25M1269 708h1.25M1451 572h1.25M1282 695h1.25M1351 638h1.25M1280 690h1.25M1371 624h1.25M1398 601h1.25M1269 702h1.25M1331 648h1.25M1424 588h1.25M1284 681h1.25M1423 587h1.25M1430 583h1.25M1264 695h1.25M1388 612h1.25M1283 687h1.25M1451 568h1.25M1421 590h1.25M1359 628h1.25M1415 596h1.25M1313 662h1.25M1436 581h1.25M1267 701h1.25M1290 672h1.25M1308 664h1.25M1325 652h1.25M1281 681h1.25M1343 640h1.25M1449 576h1.25M1333 645h1.25M1400 600h1.25M1332 654h1.25M1392 612h1.25M1377 617h1.25M1312 653h1.25M1365 632h1.25M1346 640h1.25M1283 685h1.25M1386 611h1.25M1303 674h1.25M1392 608h1.25M1396 602h1.25M1269 701h1.25M1389 608h1.25M1266 704h1.25M1275 688h1.25M1302 668h1.25M1317 652h1.25M1318 660h1.25M1393 609h1.25M1281 682h1.25M1461 564h1.25M1295 675h1.25M1288 676h1.25M1423 590h1.25M1375 621h1.25M1292 674h1.25M1391 610h1.25M1297 672h1.25M1360 628h1.25M1290 685h1.25M1294 669h1.25M1296 664h1.25M1444 576h1.25M1288 678h1.25M1327 653h1.25M1306 665h1.25M1363 631h1.25M1291 683h1.25M1398 601h1.25M1345 639h1.25M1353 633h1.25M1279 685h1.25M1271 696h1.25M1275 684h1.25M1334 648h1.25M1265 691h1.25M1447 576h1.25M1395 603h1.25M1285 685h1.25M1342 639h1.25M1269 687h1.25M1278 684h1.25M1466 563h1.25M1348 639h1.25M1391 614h1.25M1271 699h1.25M1310 658h1.25M1286 690h1.25M1367 625h1.25M1458 566h1.25M1422 594h1.25M1282 689h1.25M1276 692h1.25M1322 656h1.25M1301 671h1.25M1265 701h1.25M1365 630h1.25M1318 658h1.25M1284 682h1.25M1275 686h1.25M1329 656h1.25M1271 698h1.25M1413 595h1.25M1317 653h1.25M1288 670h1.25M1343 645h1.25M1297 671h1.25M1394 607h1.25M1455 569h1.25M1358 634h1.25M1265 692h1.25M1273 702h1.25M1310 666h1.25M1422 589h1.25M1290 680h1.25M1434 578h1.25M1364 627h1.25M1283 688h1.25M1265 701h1.25M1277 694h1.25M1380 616h1.25M1457 566h1.25M1297 670h1.25M1314 659h1.25M1341 638h1.25M1334 646h1.25M1390 608h1.25M1285 686h1.25M1433 579h1.25M1375 622h1.25M1291 676h1.25M1299 672h1.25M1277 691h1.25M1288 672h1.25M1422 590h1.25M1416 591h1.25M1370 627h1.25M1268 693h1.25M1286 687h1.25M1403 601h1.25M1308 668h1.25M1296 667h1.25M1301 677h1.25M1341 643h1.25M1367 626h1.25M1367 626h1.25M1310 665h1.25M1321 657h1.25M1296 678h1.25M1373 619h1.25M1418 590h1.25M1367 630h1.25M1408 596h1.25M1383 617h1.25M1284 691h1.25M1327 655h1.25M1426 585h1.25M1335 649h1.25M1399 606h1.25M1385 610h1.25M1281 678h1.25M1408 599h1.25M1300 671h1.25M1280 685h1.25M1364 629h1.25M1337 648h1.25M1368 628h1.25M1401 601h1.25M1422 594h1.25M1277 694h1.25M1339 643h1.25M1318 655h1.25M1326 653h1.25M1288 683h1.25M1297 668h1.25M1358 634h1.25M1281 695h1.25M1276 690h1.25M1307 662h1.25M1281 695h1.25M1392 612h1.25M1294 672h1.25M1444 573h1.25M1398 609h1.25M1331 646h1.25M1284 691h1.25M1326 648h1.25M1414 596h1.25M1368 627h1.25M1426 584h1.25M1387 609h1.25M1406 598h1.25M1380 614h1.25M1278 677h1.25M1454 572h1.25M1404 599h1.25M1442 576h1.25M1277 687h1.25M1373 620h1.25M1371 625h1.25M1399 604h1.25M1302 664h1.25M1327 652h1.25M1306 664h1.25M1351 636h1.25M1348 638h1.25M1338 646h1.25M1286 693h1.25M1286 691h1.25M1362 632h1.25M1385 613h1.25M1311 663h1.25M1355 638h1.25M1355 634h1.25M1282 693h1.25M1458 567h1.25M1356 627h1.25M1418 597h1.25M1277 691h1.25M1434 578h1.25M1301 675h1.25M1460 566h1.25M1340 642h1.25M1392 611h1.25M1281 682h1.25M1279 696h1.25M1337 648h1.25M1293 678h1.25M1299 669h1.25M1275 686h1.25M1274 698h1.25M1269 706h1.25M1389 611h1.25M1305 659h1.25M1333 650h1.25M1283 681h1.25M1347 633h1.25M1343 647h1.25M1358 635h1.25M1341 648h1.25M1295 673h1.25M1327 651h1.25M1322 649h1.25M1277 687h1.25M1392 611h1.25M1343 644h1.25M1450 574h1.25M1379 616h1.25M1426 590h1.25M1367 623h1.25M1361 624h1.25M1271 696h1.25M1415 591h1.25M1297 671h1.25M1313 658h1.25M1294 666h1.25M1467 560h1.25M1407 594h1.25M1397 605h1.25M1449 570h1.25M1269 698h1.25M1302 665h1.25M1311 655h1.25M1360 632h1.25M1381 619h1.25M1386 609h1.25M1444 574h1.25M1267 701h1.25M1382 616h1.25M1322 658h1.25M1432 585h1.25M1335 650h1.25M1362 631h1.25M1318 655h1.25M1287 688h1.25M1422 591h1.25M1267 701h1.25M1337 645h1.25M1438 580h1.25M1407 603h1.25M1382 620h1.25M1298 673h1.25M1412 592h1.25M1345 639h1.25M1365 630h1.25M1345 644h1.25M1309 656h1.25M1405 603h1.25M1276 694h1.25M1382 614h1.25M1384 611h1.25M1355 634h1.25M1294 676h1.25M1325 652h1.25M1398 604h1.25M1313 660h1.25M1349 637h1.25M1359 629h1.25M1359 632h1.25M1456 568h1.25M1416 592h1.25M1318 657h1.25M1290 670h1.25M1271 696h1.25M1409 597h1.25M1326 653h1.25M1395 608h1.25M1278 695h1.25M1316 660h1.25M1416 592h1.25M1325 651h1.25M1336 647h1.25M1365 628h1.25M1372 626h1.25M1380 616h1.25M1379 617h1.25M1338 644h1.25M1318 661h1.25M1340 641h1.25M1268 694h1.25M1289 681h1.25M1302 664h1.25M1275 704h1.25M1292 674h1.25M1410 598h1.25M1291 673h1.25M1368 626h1.25M1287 685h1.25M1315 663h1.25M1434 583h1.25M1296 677h1.25M1344 643h1.25M1313 656h1.25M1427 587h1.25M1395 611h1.25M1280 675h1.25M1397 606h1.25M1332 645h1.25M1294 675h1.25M1430 589h1.25M1408 599h1.25M1372 625h1.25M1392 605h1.25M1430 585h1.25M1333 646h1.25M1315 657h1.25M1448 573h1.25M1359 628h1.25M1339 642h1.25M1332 646h1.25M1436 580h1.25M1305 667h1.25M1266 700h1.25M1360 629h1.25M1384 615h1.25M1337 649h1.25M1325 653h1.25M1334 649h1.25M1411 599h1.25M1264 695h1.25M1324 649h1.25M1303 665h1.25M1349 638h1.25M1285 689h1.25M1336 650h1.25M1340 647h1.25M1329 654h1.25M1293 668h1.25M1266 695h1.25M1355 633h1.25M1383 619h1.25M1298 673h1.25M1377 619h1.25M1377 616h1.25M1442 578h1.25M1298 669h1.25M1409 595h1.25M1411 596h1.25M1389 611h1.25M1368 626h1.25M1390 609h1.25M1274 684h1.25M1347 636h1.25M1438 583h1.25M1328 653h1.25M1323 657h1.25M1317 657h1.25M1284 684h1.25M1444 573h1.25M1289 678h1.25M1440 579h1.25M1293 675h1.25M1305 665h1.25M1399 604h1.25M1319 657h1.25M1302 669h1.25M1377 615h1.25M1481 552h1.25M1402 606h1.25M1429 588h1.25M1285 680h1.25M1426 588h1.25M1306 665h1.25M1373 623h1.25M1293 671h1.25M1383 613h1.25M1413 596h1.25M1351 634h1.25M1272 704h1.25M1392 605h1.25M1319 651h1.25M1334 654h1.25M1280 686h1.25M1469 558h1.25M1289 681h1.25M1453 573h1.25M1325 650h1.25M1377 616h1.25M1298 678h1.25M1361 626h1.25M1386 613h1.25M1293 671h1.25M1439 580h1.25M1409 600h1.25M1385 614h1.25M1416 592h1.25M1333 644h1.25M1314 659h1.25M1270 701h1.25M1460 565h1.25M1406 597h1.25M1370 623h1.25M1325 649h1.25M1289 683h1.25M1327 658h1.25M1298 669h1.25M1385 613h1.25M1310 658h1.25M1329 654h1.25M1323 658h1.25M1393 609h1.25M1432 586h1.25M1331 651h1.25M1286 683h1.25M1301 670h1.25M1391 609h1.25M1292 674h1.25M1283 684h1.25M1267 688h1.25M1365 627h1.25M1317 655h1.25M1265 702h1.25M1375 620h1.25M1299 672h1.25M1371 619h1.25M1337 647h1.25M1302 663h1.25M1320 654h1.25M1412 595h1.25M1304 671h1.25M1342 642h1.25M1389 610h1.25M1311 660h1.25M1434 583h1.25M1327 653h1.25M1273 693h1.25M1409 594h1.25M1351 638h1.25M1313 659h1.25M1441 574h1.25M1284 689h1.25M1304 663h1.25M1311 664h1.25M1309 671h1.25M1358 629h1.25M1376 617h1.25M1339 645h1.25M1279 690h1.25M1289 690h1.25M1320 659h1.25M1304 666h1.25M1323 651h1.25M1376 617h1.25M1268 706h1.25M1298 662h1.25M1399 603h1.25M1359 631h1.25M1374 623h1.25M1293 671h1.25M1470 561h1.25M1357 632h1.25M1322 658h1.25M1300 667h1.25M1352 640h1.25M1418 595h1.25M1376 619h1.25M1367 626h1.25M1424 585h1.25M1312 661h1.25M1433 583h1.25M1413 591h1.25M1289 676h1.25M1366 627h1.25M1429 584h1.25M1291 668h1.25M1288 679h1.25M1266 706h1.25M1314 661h1.25M1380 613h1.25M1313 666h1.25M1317 659h1.25M1276 692h1.25M1469 561h1.25M1335 648h1.25M1289 686h1.25M1377 620h1.25M1327 658h1.25M1275 696h1.25M1272 692h1.25M1357 633h1.25M1346 639h1.25M1348 636h1.25M1386 614h1.25M1407 599h1.25M1315 655h1.25M1271 689h1.25M1285 680h1.25M1326 654h1.25M1331 646h1.25M1432 584h1.25M1398 601h1.25M1453 568h1.25M1453 568h1.25M1279 690h1.25M1406 598h1.25M1369 626h1.25M1366 623h1.25M1454 572h1.25M1327 652h1.25M1340 638h1.25M1399 605h1.25M1283 691h1.25M1275 680h1.25M1326 650h1.25M1340 641h1.25M1392 603h1.25M1293 682h1.25M1392 611h1.25M1368 626h1.25M1380 616h1.25M1333 654h1.25M1346 646h1.25M1412 598h1.25M1377 619h1.25M1437 581h1.25M1456 568h1.25M1369 629h1.25M1310 669h1.25M1288 678h1.25M1414 595h1.25M1324 652h1.25M1400 605h1.25M1308 668h1.25M1413 595h1.25M1291 674h1.25M1299 667h1.25M1360 635h1.25M1329 653h1.25M1299 669h1.25M1313 667h1.25M1356 635h1.25M1299 673h1.25M1280 677h1.25M1303 671h1.25M1286 678h1.25M1394 610h1.25M1274 682h1.25M1391 606h1.25M1410 598h1.25M1339 649h1.25M1402 606h1.25M1332 649h1.25M1298 665h1.25M1363 625h1.25M1394 606h1.25M1374 617h1.25M1403 604h1.25M1316 665h1.25M1451 571h1.25M1297 674h1.25M1428 584h1.25M1383 612h1.25M1318 659h1.25M1373 623h1.25M1356 634h1.25M1392 610h1.25M1387 614h1.25M1319 660h1.25M1333 650h1.25M1427 583h1.25M1400 600h1.25M1365 626h1.25M1370 626h1.25M1365 626h1.25M1352 639h1.25M1361 627h1.25M1355 633h1.25M1351 633h1.25M1391 610h1.25M1286 689h1.25M1439 579h1.25M1369 619h1.25M1299 671h1.25M1414 592h1.25M1406 596h1.25M1279 688h1.25M1379 617h1.25M1336 645h1.25M1293 677h1.25M1295 667h1.25M1364 629h1.25M1387 614h1.25M1418 591h1.25M1299 674h1.25M1414 594h1.25M1363 624h1.25M1337 643h1.25M1264 694h1.25M1412 598h1.25M1310 668h1.25M1290 674h1.25M1431 584h1.25M1400 603h1.25M1422 589h1.25M1287 686h1.25M1436 578h1.25M1324 654h1.25M1379 618h1.25M1325 653h1.25M1326 655h1.25M1288 675h1.25M1318 659h1.25M1325 657h1.25M1327 648h1.25M1282 694h1.25M1327 651h1.25M1322 650h1.25M1393 607h1.25M1336 651h1.25M1322 658h1.25M1273 705h1.25M1286 686h1.25M1330 653h1.25M1359 632h1.25M1285 673h1.25M1445 574h1.25M1321 655h1.25M1382 613h1.25M1384 614h1.25M1340 648h1.25M1367 626h1.25M1368 623h1.25M1373 622h1.25M1374 620h1.25M1390 610h1.25M1323 652h1.25M1377 623h1.25M1285 695h1.25M1403 602h1.25M1314 661h1.25M1323 655h1.25M1379 619h1.25M1308 669h1.25M1369 621h1.25M1361 628h1.25M1293 668h1.25M1308 662h1.25M1265 692h1.25M1415 595h1.25M1328 651h1.25M1399 601h1.25M1305 666h1.25M1332 647h1.25M1442 581h1.25M1286 675h1.25M1320 658h1.25M1349 635h1.25M1353 633h1.25M1381 617h1.25M1283 685h1.25M1299 673h1.25M1368 625h1.25M1374 617h1.25M1298 679h1.25M1290 677h1.25M1314 661h1.25M1359 631h1.25M1396 602h1.25M1280 687h1.25M1327 651h1.25M1400 601h1.25M1330 652h1.25M1318 657h1.25M1450 570h1.25M1284 696h1.25M1339 641h1.25M1300 676h1.25M1321 663h1.25M1440 581h1.25M1424 584h1.25M1311 662h1.25M1376 623h1.25M1292 684h1.25M1350 638h1.25M1283 679h1.25M1352 637h1.25M1293 675h1.25M1280 689h1.25M1386 611h1.25M1300 676h1.25M1317 653h1.25M1390 609h1.25M1413 590h1.25M1343 643h1.25M1336 648h1.25M1368 628h1.25M1298 676h1.25M1286 673h1.25M1437 581h1.25M1270 695h1.25M1293 676h1.25M1330 647h1.25M1470 559h1.25M1453 571h1.25M1310 660h1.25M1317 660h1.25M1373 618h1.25M1380 614h1.25M1301 667h1.25M1280 691h1.25M1353 639h1.25M1411 596h1.25M1330 654h1.25M1272 687h1.25M1349 635h1.25M1311 663h1.25M1301 673h1.25M1307 664h1.25M1366 628h1.25M1347 641h1.25M1356 631h1.25M1324 650h1.25M1363 625h1.25M1352 633h1.25M1416 592h1.25M1336 650h1.25M1312 669h1.25M1337 651h1.25M1448 573h1.25M1380 617h1.25" stroke="#fa0808" stroke-width="1.25" fill="none" opacity="0.85"/>
<polygon points="1265.4,701.8 1275.8,694.5 1295.2,675.1 1314.3,661.2 1333.6,649.7 1352.9,636.4 1372.6,622.9 1392.1,609.5 1411.4,597.3 1419.3,592.3 1437.8,580.0 1437.6,579.6 1418.5,591.0 1410.4,595.8 1391.0,607.8 1371.4,621.2 1351.9,635.0 1332.5,648.0 1312.7,658.6 1292.6,672.0 1273.3,691.9 1264.7,701.0" fill="#fa0808" opacity="0.5"/>
<polygon points="1312.2,588.8 1322.3,590.6 1319.4,607.4 1336.4,610.7 1306.3,642.1 1291.3,601.9 1309.1,605.3" fill="#fd2005"/>
<path d="M1250.5 472.8H1262.0M1255.5 515.0H1262.0M1255.5 504.4H1262.0M1255.5 496.8H1262.0M1255.5 491.0H1262.0M1255.5 486.2H1262.0M1255.5 482.2H1262.0M1255.5 478.7H1262.0M1255.5 475.6H1262.0M1250.5 533.2H1262.0M1255.5 575.4H1262.0M1255.5 564.8H1262.0M1255.5 557.2H1262.0M1255.5 551.4H1262.0M1255.5 546.6H1262.0M1255.5 542.6H1262.0M1255.5 539.1H1262.0M1255.5 536.0H1262.0M1250.5 593.6H1262.0M1255.5 635.8H1262.0M1255.5 625.2H1262.0M1255.5 617.6H1262.0M1255.5 611.8H1262.0M1255.5 607.0H1262.0M1255.5 603.0H1262.0M1255.5 599.5H1262.0M1255.5 596.4H1262.0M1250.5 654.0H1262.0M1255.5 696.2H1262.0M1255.5 685.6H1262.0M1255.5 678.0H1262.0M1255.5 672.2H1262.0M1255.5 667.4H1262.0M1255.5 663.4H1262.0M1255.5 659.9H1262.0M1255.5 656.8H1262.0" stroke="#2a2a2a" stroke-width="1.3" fill="none"/>
<path d="M1285.5 713.0v5.5M1299.2 713.0v5.5M1309.0 713.0v5.5M1316.5 713.0v5.5M1322.7 713.0v5.5M1327.9 713.0v5.5M1332.4 713.0v5.5M1336.4 713.0v5.5M1363.5 713.0v5.5M1377.2 713.0v5.5M1387.0 713.0v5.5M1394.5 713.0v5.5M1400.7 713.0v5.5M1405.9 713.0v5.5M1410.4 713.0v5.5M1414.4 713.0v5.5M1441.5 713.0v5.5M1455.2 713.0v5.5M1465.0 713.0v5.5M1472.5 713.0v5.5M1478.7 713.0v5.5M1483.9 713.0v5.5M1488.4 713.0v5.5M1492.4 713.0v5.5M1519.5 713.0v5.5M1533.2 713.0v5.5M1543.0 713.0v5.5M1550.5 713.0v5.5M1556.7 713.0v5.5M1561.9 713.0v5.5M1566.4 713.0v5.5M1570.4 713.0v5.5" stroke="#111" stroke-width="4.1" fill="none"/>
<path d="M1340.0 713.0v9.5M1418.0 713.0v9.5M1496.0 713.0v9.5M1574.0 713.0v9.5" stroke="#111" stroke-width="4.1" fill="none"/>
<path d="M1262.0 472.8H1574.0V713.0M1417.0 472.8V713.0" stroke="#1a1a1a" stroke-width="1.4" fill="none"/>
<path d="M1262.0 472.2V713.0" stroke="#111" stroke-width="1.8" fill="none"/>
<path d="M1261.1 713.0H1574.7" stroke="#111" stroke-width="2" fill="none"/>
<text x="1248.5" y="661.7" font-size="16.2" font-weight="bold" text-anchor="end" fill="#1a1a1a">10<tspan font-size="12.5" font-weight="normal" dy="-6.3">0</tspan></text>
<text transform="translate(1331.8 733.2) scale(.87 1)" font-size="16.5" font-weight="bold" fill="#1a1a1a">10<tspan font-size="13" font-weight="normal" dy="-3.6">0</tspan></text>
<text x="1248.5" y="601.3" font-size="16.2" font-weight="bold" text-anchor="end" fill="#1a1a1a">10<tspan font-size="12.5" font-weight="normal" dy="-6.3">1</tspan></text>
<text transform="translate(1409.8 733.2) scale(.87 1)" font-size="16.5" font-weight="bold" fill="#1a1a1a">10<tspan font-size="13" font-weight="normal" dy="-3.6">1</tspan></text>
<text x="1248.5" y="540.9" font-size="16.2" font-weight="bold" text-anchor="end" fill="#1a1a1a">10<tspan font-size="12.5" font-weight="normal" dy="-6.3">2</tspan></text>
<text transform="translate(1487.8 733.2) scale(.87 1)" font-size="16.5" font-weight="bold" fill="#1a1a1a">10<tspan font-size="13" font-weight="normal" dy="-3.6">2</tspan></text>
<text x="1248.5" y="480.5" font-size="16.2" font-weight="bold" text-anchor="end" fill="#1a1a1a">10<tspan font-size="12.5" font-weight="normal" dy="-6.3">3</tspan></text>
<text transform="translate(1565.8 733.2) scale(.87 1)" font-size="16.5" font-weight="bold" fill="#1a1a1a">10<tspan font-size="13" font-weight="normal" dy="-3.6">3</tspan></text>
<text x="1420.8" y="766.0" font-size="17.5" font-weight="bold" text-anchor="middle" fill="#1a1a1a">DCF-DA 525nm</text>
<text transform="translate(1201.0 594.9) rotate(-90)" font-size="17" font-weight="bold" text-anchor="middle" fill="#1a1a1a">FL3 log</text>
<text x="1262.5" y="495.8" font-size="18.5" font-weight="bold" fill="#1a1a1a">A1</text>
<text x="1267.6" y="519.8" font-size="19.2" font-weight="bold" fill="#1a1a1a" xml:space="preserve">82.5%</text>
<text x="1417.4" y="495.8" font-size="18.5" font-weight="bold" fill="#1a1a1a">A2</text>
<text x="1422.4" y="519.8" font-size="19.2" font-weight="bold" fill="#1a1a1a" xml:space="preserve">17.5%</text>
<text x="1410.7" y="455.6" font-size="23.4" text-anchor="middle" xml:space="preserve">0% FBS + BID+TNF-α</text>
</g>
<g id="plot7">
<g filter="url(#bl)" clip-path="url(#cp106)">
<clipPath id="cp106"><rect x="466.8" y="1016.2" width="307.8" height="236.8"/></clipPath>
<polygon points="470.5,1240.6 476.7,1236.4 465.9,1219.9 459.5,1223.8" fill="#fa0808" opacity="0.06"/>
<polygon points="476.1,1236.7 482.3,1232.5 471.6,1216.3 465.3,1220.2" fill="#fa0808" opacity="0.06"/>
<polygon points="481.7,1232.9 487.8,1228.7 477.4,1212.7 471.1,1216.6" fill="#fa0808" opacity="0.07"/>
<polygon points="487.3,1229.0 493.4,1224.8 483.2,1209.1 476.8,1213.1" fill="#fa0808" opacity="0.08"/>
<polygon points="492.9,1225.2 499.0,1221.0 488.9,1205.6 482.6,1209.5" fill="#fa0808" opacity="0.08"/>
<polygon points="497.5,1221.9 503.2,1218.0 495.7,1203.2 489.2,1205.4" fill="#fa0808" opacity="0.11"/>
<polygon points="502.8,1218.3 508.4,1214.4 501.7,1201.1 495.2,1203.3" fill="#fa0808" opacity="0.15"/>
<polygon points="508.0,1214.7 513.6,1210.8 507.7,1199.0 501.2,1201.2" fill="#fa0808" opacity="0.20"/>
<polygon points="513.2,1211.1 518.9,1207.2 513.6,1196.9 507.2,1199.1" fill="#fa0808" opacity="0.27"/>
<polygon points="518.6,1207.5 524.3,1203.8 519.3,1194.4 513.0,1197.1" fill="#fa0808" opacity="0.34"/>
<polygon points="523.9,1204.1 529.6,1200.4 525.0,1191.8 518.8,1194.6" fill="#fa0808" opacity="0.43"/>
<polygon points="529.2,1200.7 535.0,1197.1 530.8,1189.3 524.6,1192.0" fill="#fa0808" opacity="0.53"/>
<polygon points="534.5,1197.3 540.3,1193.7 536.6,1186.7 530.3,1189.5" fill="#fa0808" opacity="0.65"/>
<polygon points="539.9,1193.9 545.9,1190.6 542.2,1183.8 536.1,1186.9" fill="#fa0808" opacity="0.73"/>
<polygon points="545.4,1190.8 551.4,1187.4 547.8,1180.8 541.7,1184.0" fill="#fa0808" opacity="0.75"/>
<polygon points="551.0,1187.7 557.0,1184.3 553.5,1177.9 547.4,1181.1" fill="#fa0808" opacity="0.75"/>
<polygon points="556.5,1184.6 562.5,1181.2 559.2,1175.0 553.0,1178.1" fill="#fa0808" opacity="0.75"/>
<polygon points="562.2,1181.4 568.2,1177.8 564.5,1171.7 558.6,1175.3" fill="#fa0808" opacity="0.75"/>
<polygon points="567.8,1178.0 573.8,1174.4 570.1,1168.3 564.1,1171.9" fill="#fa0808" opacity="0.74"/>
<polygon points="573.3,1174.7 579.3,1171.1 575.6,1165.0 569.6,1168.6" fill="#fa0808" opacity="0.71"/>
<polygon points="578.9,1171.3 584.8,1167.7 581.2,1161.6 575.2,1165.2" fill="#fa0808" opacity="0.67"/>
<polygon points="584.6,1167.8 590.7,1163.6 586.5,1157.7 580.5,1162.0" fill="#fa0808" opacity="0.61"/>
<polygon points="590.2,1164.0 596.3,1159.8 592.1,1153.7 586.1,1158.0" fill="#fa0808" opacity="0.54"/>
<polygon points="595.9,1160.1 602.0,1155.9 597.7,1149.8 591.7,1154.1" fill="#fa0808" opacity="0.47"/>
<polygon points="601.5,1156.2 607.6,1152.0 603.3,1145.8 597.2,1150.1" fill="#fa0808" opacity="0.41"/>
<polygon points="607.2,1152.2 612.7,1148.2 608.2,1142.2 602.7,1146.2" fill="#fa0808" opacity="0.35"/>
<polygon points="612.4,1148.5 617.8,1144.5 613.4,1138.4 607.9,1142.4" fill="#fa0808" opacity="0.28"/>
<polygon points="617.5,1144.7 623.0,1140.7 618.5,1134.6 613.1,1138.6" fill="#fa0808" opacity="0.22"/>
<polygon points="622.4,1141.1 628.8,1137.2 624.8,1130.7 618.5,1134.7" fill="#fa0808" opacity="0.17"/>
<polygon points="628.4,1137.4 634.8,1133.5 630.9,1127.0 624.5,1131.0" fill="#fa0808" opacity="0.13"/>
<polygon points="634.4,1133.7 640.8,1129.8 636.9,1123.4 630.5,1127.3" fill="#fa0808" opacity="0.09"/>
<polygon points="640.6,1129.9 646.6,1125.6 642.5,1119.6 636.3,1123.7" fill="#fa0808" opacity="0.07"/>
<polygon points="646.1,1126.0 652.1,1121.7 648.0,1115.8 641.9,1119.9" fill="#fa0808" opacity="0.06"/>
<polygon points="651.6,1122.1 657.6,1117.8 653.6,1112.1 647.5,1116.2" fill="#fa0808" opacity="0.05"/>
<polygon points="657.0,1118.2 663.0,1114.0 659.1,1108.3 653.0,1112.5" fill="#fa0808" opacity="0.04"/>
<polygon points="662.5,1114.4 668.5,1110.1 664.7,1104.6 658.6,1108.7" fill="#fa0808" opacity="0.03"/>
</g>
<path d="M502 1221h1.25M504 1222h1.25M506 1220h1.25M544 1197h1.25M484 1208h1.25M503 1197h1.25M662 1104h1.25M504 1196h1.25M472 1241h1.25M493 1233h1.25M593 1169h1.25M524 1187h1.25M501 1223h1.25M490 1197h1.25M501 1226h1.25M474 1216h1.25M532 1206h1.25M483 1231h1.25M484 1230h1.25M632 1124h1.25M492 1202h1.25M577 1156h1.25M677 1100h1.25M483 1206h1.25M496 1224h1.25M546 1176h1.25M533 1185h1.25M489 1233h1.25M533 1184h1.25M523 1208h1.25M471 1238h1.25M472 1215h1.25M503 1197h1.25M596 1144h1.25M662 1113h1.25M497 1199h1.25M543 1177h1.25M657 1117h1.25M500 1196h1.25M657 1110h1.25M485 1206h1.25M619 1132h1.25M526 1187h1.25M667 1107h1.25M654 1120h1.25M563 1169h1.25M568 1162h1.25M471 1213h1.25M483 1204h1.25M512 1215h1.25M630 1127h1.25M494 1198h1.25M506 1222h1.25M580 1175h1.25M503 1190h1.25M660 1104h1.25M622 1125h1.25M504 1220h1.25M637 1135h1.25M673 1105h1.25M497 1197h1.25M493 1227h1.25M476 1207h1.25M565 1166h1.25M484 1209h1.25M633 1137h1.25M470 1219h1.25M496 1225h1.25M609 1155h1.25M655 1112h1.25M595 1164h1.25M600 1162h1.25M584 1172h1.25M639 1121h1.25M561 1186h1.25M574 1162h1.25M533 1205h1.25M501 1220h1.25M481 1235h1.25M470 1218h1.25M470 1217h1.25M475 1209h1.25M542 1178h1.25M658 1108h1.25M470 1238h1.25M473 1216h1.25M496 1223h1.25M592 1167h1.25M635 1124h1.25M475 1238h1.25M469 1221h1.25M592 1167h1.25M514 1215h1.25" stroke="#fa0808" stroke-width="1.25" fill="none" opacity="0.33"/>
<path d="M503 1202h1.25M502 1201h1.25M592 1152h1.25M479 1216h1.25M600 1159h1.25M601 1145h1.25M643 1121h1.25M479 1223h1.25M653 1115h1.25M559 1186h1.25M631 1127h1.25M636 1130h1.25M467 1231h1.25M469 1230h1.25M627 1129h1.25M541 1196h1.25M501 1204h1.25M490 1215h1.25M640 1127h1.25M480 1216h1.25M590 1154h1.25M499 1213h1.25M557 1187h1.25M484 1225h1.25M538 1198h1.25M498 1207h1.25M560 1172h1.25M623 1134h1.25M491 1212h1.25M474 1231h1.25M635 1133h1.25M620 1135h1.25M471 1222h1.25M492 1211h1.25M512 1197h1.25M471 1220h1.25M595 1163h1.25M484 1212h1.25M617 1136h1.25M480 1226h1.25M619 1144h1.25M515 1213h1.25M485 1218h1.25M502 1212h1.25M482 1218h1.25M488 1207h1.25M552 1176h1.25M654 1116h1.25M481 1218h1.25M589 1167h1.25M502 1217h1.25M577 1161h1.25M489 1222h1.25M552 1190h1.25M496 1220h1.25M585 1157h1.25M589 1167h1.25M514 1196h1.25M485 1219h1.25M500 1214h1.25M629 1136h1.25M486 1212h1.25M625 1139h1.25M480 1223h1.25M530 1203h1.25M469 1235h1.25M504 1201h1.25M621 1143h1.25M616 1136h1.25M609 1152h1.25M496 1210h1.25M544 1180h1.25M596 1161h1.25M480 1220h1.25M483 1214h1.25M478 1221h1.25M579 1161h1.25M578 1174h1.25M481 1229h1.25M596 1162h1.25M551 1177h1.25M596 1162h1.25M553 1176h1.25M489 1222h1.25M650 1118h1.25M604 1157h1.25M510 1197h1.25M556 1187h1.25M469 1228h1.25M603 1145h1.25M484 1216h1.25M622 1143h1.25M633 1132h1.25M517 1193h1.25M539 1183h1.25M488 1225h1.25M485 1213h1.25M476 1217h1.25M503 1202h1.25M613 1137h1.25M497 1202h1.25M520 1193h1.25M606 1143h1.25M628 1136h1.25M492 1207h1.25M516 1209h1.25M514 1210h1.25M584 1170h1.25M480 1222h1.25M557 1187h1.25M635 1132h1.25M482 1220h1.25M556 1173h1.25M601 1159h1.25M497 1216h1.25M577 1175h1.25M621 1142h1.25M478 1224h1.25M486 1213h1.25M481 1229h1.25M517 1193h1.25M645 1124h1.25M566 1169h1.25M587 1155h1.25M470 1227h1.25M509 1212h1.25M505 1201h1.25M641 1127h1.25M487 1220h1.25M480 1221h1.25M474 1219h1.25M481 1223h1.25M639 1130h1.25M631 1134h1.25M529 1202h1.25M630 1130h1.25M501 1200h1.25M565 1169h1.25M537 1199h1.25M474 1222h1.25M519 1211h1.25M475 1227h1.25M639 1128h1.25M570 1180h1.25M530 1203h1.25M624 1139h1.25M531 1203h1.25M583 1158h1.25M566 1181h1.25M571 1164h1.25M472 1235h1.25M613 1138h1.25M480 1227h1.25M472 1224h1.25M605 1155h1.25M626 1131h1.25M496 1202h1.25M495 1215h1.25M615 1138h1.25M636 1132h1.25M630 1131h1.25M597 1149h1.25M579 1161h1.25M496 1222h1.25M509 1214h1.25M502 1216h1.25M506 1198h1.25M605 1144h1.25M505 1213h1.25M484 1217h1.25M622 1134h1.25M469 1233h1.25M562 1170h1.25M480 1228h1.25M495 1208h1.25M478 1218h1.25M484 1227h1.25M493 1211h1.25M644 1124h1.25M606 1154h1.25M558 1173h1.25M503 1202h1.25M473 1234h1.25M477 1231h1.25M638 1130h1.25M506 1215h1.25M606 1154h1.25M608 1154h1.25M586 1170h1.25M502 1213h1.25M501 1220h1.25M469 1233h1.25M470 1229h1.25M521 1193h1.25M487 1224h1.25M503 1219h1.25M639 1126h1.25M556 1174h1.25M480 1225h1.25M597 1161h1.25M643 1122h1.25M516 1210h1.25M597 1148h1.25M508 1214h1.25M564 1182h1.25M571 1166h1.25M629 1131h1.25M578 1162h1.25M500 1201h1.25M477 1217h1.25M483 1223h1.25M528 1188h1.25M634 1128h1.25M638 1123h1.25M479 1228h1.25M593 1164h1.25M482 1216h1.25M524 1206h1.25M570 1179h1.25M568 1180h1.25M626 1137h1.25M509 1212h1.25M479 1231h1.25M649 1119h1.25M485 1213h1.25M501 1217h1.25M643 1123h1.25M621 1141h1.25M475 1221h1.25M507 1217h1.25M640 1126h1.25M607 1155h1.25M467 1233h1.25M563 1171h1.25M607 1154h1.25M475 1228h1.25M475 1226h1.25M525 1189h1.25M498 1214h1.25M628 1130h1.25M490 1211h1.25M499 1216h1.25M584 1170h1.25M494 1212h1.25M496 1213h1.25M501 1214h1.25M507 1215h1.25M494 1213h1.25M514 1213h1.25M516 1210h1.25M617 1135h1.25M525 1205h1.25M499 1205h1.25M595 1162h1.25M511 1214h1.25M594 1150h1.25" stroke="#fa0808" stroke-width="1.25" fill="none" opacity="0.58"/>
<path d="M583 1170h1.25M600 1151h1.25M547 1183h1.25M539 1185h1.25M533 1195h1.25M572 1172h1.25M521 1201h1.25M548 1188h1.25M563 1176h1.25M573 1172h1.25M561 1176h1.25M522 1205h1.25M507 1204h1.25M527 1193h1.25M519 1197h1.25M592 1153h1.25M549 1189h1.25M597 1160h1.25M549 1187h1.25M519 1203h1.25M620 1137h1.25M608 1142h1.25M526 1194h1.25M621 1140h1.25M566 1174h1.25M538 1190h1.25M528 1198h1.25M548 1182h1.25M587 1161h1.25M613 1143h1.25M541 1190h1.25M586 1166h1.25M615 1145h1.25M550 1182h1.25M580 1169h1.25M531 1196h1.25M536 1194h1.25M531 1193h1.25M543 1190h1.25M506 1202h1.25M547 1192h1.25M559 1177h1.25M596 1151h1.25M544 1190h1.25M508 1203h1.25M575 1166h1.25M589 1161h1.25M528 1195h1.25M581 1168h1.25M548 1180h1.25M524 1197h1.25M617 1138h1.25M533 1195h1.25M522 1203h1.25M550 1184h1.25M590 1164h1.25M592 1157h1.25M612 1143h1.25M515 1203h1.25M542 1187h1.25M578 1171h1.25M542 1187h1.25M505 1207h1.25M540 1191h1.25M563 1173h1.25M567 1177h1.25M537 1186h1.25M545 1182h1.25M575 1170h1.25M506 1203h1.25M572 1175h1.25M568 1169h1.25M538 1189h1.25M589 1166h1.25M532 1195h1.25M539 1194h1.25M600 1150h1.25M534 1190h1.25M547 1184h1.25M558 1180h1.25M615 1139h1.25M572 1174h1.25M522 1201h1.25M561 1179h1.25M574 1175h1.25M529 1190h1.25M555 1182h1.25M511 1207h1.25M557 1182h1.25M578 1171h1.25M559 1183h1.25M538 1195h1.25M559 1178h1.25M566 1176h1.25M587 1166h1.25M549 1182h1.25M555 1179h1.25M541 1187h1.25M527 1193h1.25M591 1159h1.25M619 1140h1.25M542 1186h1.25M588 1159h1.25M592 1161h1.25M598 1150h1.25M561 1182h1.25M563 1179h1.25M567 1173h1.25M559 1181h1.25M583 1167h1.25M531 1192h1.25M519 1194h1.25M601 1157h1.25M567 1173h1.25M552 1185h1.25M567 1178h1.25M505 1206h1.25M502 1206h1.25M574 1169h1.25M604 1150h1.25M545 1182h1.25M576 1169h1.25M543 1191h1.25M608 1146h1.25M559 1175h1.25M540 1192h1.25M585 1161h1.25M551 1188h1.25M562 1178h1.25M551 1182h1.25M569 1173h1.25M508 1203h1.25M625 1137h1.25M559 1178h1.25M578 1169h1.25M555 1180h1.25M529 1199h1.25M534 1195h1.25M564 1178h1.25M581 1162h1.25M595 1159h1.25M567 1174h1.25M560 1178h1.25M625 1133h1.25M519 1200h1.25M609 1147h1.25M585 1167h1.25M566 1172h1.25M531 1193h1.25M508 1202h1.25M554 1182h1.25M592 1158h1.25M544 1188h1.25M536 1196h1.25M564 1173h1.25M584 1166h1.25M548 1181h1.25M549 1181h1.25M530 1197h1.25M543 1186h1.25M575 1170h1.25M545 1186h1.25M543 1185h1.25M521 1199h1.25M542 1184h1.25M512 1201h1.25M600 1154h1.25M516 1207h1.25M593 1159h1.25M571 1176h1.25M563 1182h1.25M547 1180h1.25M606 1146h1.25M517 1201h1.25M568 1176h1.25M601 1151h1.25M529 1199h1.25M533 1194h1.25M572 1171h1.25M521 1202h1.25M575 1167h1.25M601 1151h1.25M538 1191h1.25M517 1205h1.25M530 1191h1.25M558 1177h1.25M583 1168h1.25M556 1178h1.25M549 1183h1.25M587 1158h1.25M509 1202h1.25M514 1203h1.25M572 1173h1.25M563 1180h1.25M531 1195h1.25M503 1212h1.25M564 1180h1.25M615 1144h1.25M577 1170h1.25M531 1188h1.25M515 1206h1.25M620 1138h1.25M527 1202h1.25M581 1161h1.25M538 1194h1.25M561 1178h1.25M527 1197h1.25M553 1186h1.25M564 1179h1.25M523 1194h1.25M530 1200h1.25M511 1205h1.25M560 1177h1.25M604 1147h1.25M587 1163h1.25M526 1200h1.25M567 1176h1.25M504 1206h1.25M582 1162h1.25M534 1190h1.25M548 1183h1.25M547 1183h1.25M527 1199h1.25M514 1204h1.25M579 1164h1.25M562 1181h1.25M551 1183h1.25M539 1193h1.25M536 1191h1.25M607 1147h1.25M565 1179h1.25M572 1173h1.25M537 1189h1.25M585 1158h1.25M504 1210h1.25M554 1180h1.25M570 1173h1.25M602 1153h1.25M508 1208h1.25M613 1144h1.25M547 1185h1.25M522 1198h1.25M521 1197h1.25M544 1189h1.25M528 1197h1.25M574 1168h1.25M546 1187h1.25M552 1180h1.25M525 1194h1.25M503 1208h1.25M549 1186h1.25M597 1154h1.25M588 1157h1.25M514 1199h1.25M582 1168h1.25M595 1157h1.25M533 1198h1.25M569 1175h1.25M529 1193h1.25M536 1196h1.25M584 1168h1.25M552 1179h1.25M521 1199h1.25M559 1175h1.25M562 1178h1.25M568 1170h1.25M543 1187h1.25M597 1152h1.25M551 1182h1.25M589 1163h1.25M576 1170h1.25M533 1189h1.25M561 1180h1.25M559 1175h1.25M596 1155h1.25M542 1186h1.25M567 1174h1.25M570 1173h1.25M538 1191h1.25M588 1160h1.25M599 1154h1.25M582 1164h1.25M562 1173h1.25M541 1188h1.25M567 1175h1.25M593 1155h1.25M553 1185h1.25M534 1191h1.25M577 1171h1.25M609 1144h1.25M619 1138h1.25M548 1182h1.25M578 1170h1.25M583 1162h1.25M590 1162h1.25M551 1185h1.25M556 1176h1.25M508 1202h1.25M537 1185h1.25M558 1179h1.25M539 1193h1.25M589 1157h1.25M598 1156h1.25M592 1161h1.25M573 1172h1.25M540 1191h1.25M568 1173h1.25M566 1170h1.25M567 1176h1.25M525 1202h1.25M573 1168h1.25M556 1182h1.25M526 1195h1.25M525 1198h1.25M564 1180h1.25M577 1172h1.25M551 1189h1.25M558 1177h1.25M537 1189h1.25M547 1185h1.25M565 1178h1.25M606 1147h1.25M532 1196h1.25M611 1146h1.25M570 1172h1.25M557 1176h1.25M610 1149h1.25M539 1191h1.25M538 1193h1.25M574 1173h1.25M568 1173h1.25M580 1165h1.25M619 1137h1.25M572 1171h1.25M574 1168h1.25M542 1191h1.25M603 1152h1.25M546 1187h1.25M553 1182h1.25M557 1178h1.25M545 1185h1.25M523 1197h1.25M558 1178h1.25M571 1170h1.25M540 1188h1.25M534 1193h1.25M551 1184h1.25M530 1197h1.25M561 1179h1.25M531 1193h1.25M569 1174h1.25M519 1197h1.25M555 1178h1.25M558 1183h1.25M553 1180h1.25M533 1196h1.25M607 1152h1.25M604 1153h1.25M569 1174h1.25M513 1197h1.25M576 1167h1.25M543 1189h1.25M552 1185h1.25M593 1155h1.25M553 1176h1.25M569 1171h1.25M586 1164h1.25M538 1196h1.25M619 1139h1.25M542 1186h1.25M539 1192h1.25M619 1141h1.25M576 1168h1.25M534 1195h1.25M610 1145h1.25M565 1174h1.25M557 1181h1.25M532 1191h1.25M538 1187h1.25M538 1195h1.25M562 1174h1.25M573 1172h1.25M562 1178h1.25M559 1178h1.25M570 1170h1.25M548 1187h1.25M541 1184h1.25M566 1173h1.25M565 1171h1.25M595 1157h1.25M548 1181h1.25M517 1200h1.25M567 1173h1.25M606 1151h1.25M556 1181h1.25M603 1153h1.25M571 1172h1.25M626 1134h1.25M540 1191h1.25M554 1181h1.25M561 1184h1.25M531 1195h1.25M544 1189h1.25M596 1155h1.25M538 1193h1.25M569 1175h1.25M596 1159h1.25M540 1189h1.25M579 1170h1.25M516 1205h1.25M556 1178h1.25M594 1159h1.25M596 1157h1.25M584 1161h1.25M513 1201h1.25M546 1186h1.25M557 1180h1.25M607 1150h1.25M530 1191h1.25M537 1194h1.25M594 1156h1.25M608 1145h1.25M591 1161h1.25M506 1205h1.25M570 1168h1.25M544 1190h1.25M532 1191h1.25M588 1161h1.25M587 1158h1.25M527 1196h1.25M596 1156h1.25M554 1181h1.25M589 1159h1.25M561 1178h1.25M517 1206h1.25M563 1177h1.25M569 1170h1.25M573 1166h1.25M533 1197h1.25M529 1194h1.25M598 1151h1.25M572 1169h1.25M545 1184h1.25M516 1203h1.25M565 1180h1.25M510 1207h1.25M562 1177h1.25M577 1164h1.25M574 1170h1.25M580 1170h1.25M506 1210h1.25M594 1158h1.25M512 1205h1.25M589 1163h1.25M517 1202h1.25M563 1180h1.25M560 1175h1.25M605 1150h1.25M574 1166h1.25M555 1181h1.25M566 1171h1.25M540 1189h1.25M565 1179h1.25M578 1167h1.25M562 1172h1.25M589 1165h1.25M531 1195h1.25M550 1184h1.25M548 1184h1.25M586 1166h1.25M507 1203h1.25M546 1190h1.25M592 1155h1.25M507 1209h1.25M566 1171h1.25M571 1173h1.25M536 1193h1.25M588 1159h1.25M580 1166h1.25M589 1161h1.25M588 1162h1.25M566 1178h1.25M523 1192h1.25M525 1194h1.25M564 1174h1.25M537 1194h1.25M545 1183h1.25M525 1197h1.25M552 1184h1.25M527 1196h1.25M593 1161h1.25M536 1189h1.25M548 1183h1.25M595 1159h1.25M516 1208h1.25M544 1185h1.25M584 1162h1.25M563 1181h1.25M535 1191h1.25M581 1166h1.25M601 1151h1.25M530 1191h1.25M509 1203h1.25M538 1188h1.25M509 1209h1.25M527 1200h1.25M580 1166h1.25M608 1147h1.25M573 1175h1.25M550 1184h1.25M528 1200h1.25M538 1188h1.25M614 1139h1.25M560 1181h1.25M561 1178h1.25M588 1160h1.25M570 1176h1.25M549 1185h1.25M593 1154h1.25M517 1197h1.25M544 1186h1.25M541 1190h1.25M543 1183h1.25M598 1156h1.25M600 1155h1.25M582 1166h1.25M560 1175h1.25M523 1198h1.25M600 1150h1.25M530 1192h1.25M560 1177h1.25M522 1201h1.25M570 1171h1.25M518 1203h1.25M541 1190h1.25M537 1187h1.25M602 1153h1.25M618 1138h1.25M526 1192h1.25M619 1139h1.25M535 1198h1.25M573 1172h1.25M548 1184h1.25M613 1145h1.25M599 1157h1.25M542 1183h1.25M547 1181h1.25M551 1178h1.25M563 1180h1.25M618 1139h1.25M541 1190h1.25M583 1165h1.25M555 1181h1.25M530 1189h1.25M598 1149h1.25M611 1142h1.25M583 1160h1.25M584 1168h1.25M549 1180h1.25M538 1192h1.25M516 1203h1.25M565 1175h1.25M564 1180h1.25M549 1183h1.25M596 1151h1.25M504 1203h1.25M528 1199h1.25M597 1154h1.25M539 1189h1.25M555 1177h1.25M534 1192h1.25M523 1200h1.25M589 1156h1.25M527 1196h1.25M614 1141h1.25M567 1177h1.25M544 1186h1.25M567 1171h1.25M531 1191h1.25M579 1169h1.25M518 1196h1.25M607 1148h1.25M538 1192h1.25M580 1170h1.25M512 1203h1.25M551 1185h1.25M592 1156h1.25M589 1155h1.25M510 1209h1.25M523 1196h1.25M526 1197h1.25M548 1184h1.25M548 1182h1.25M577 1169h1.25M577 1169h1.25M517 1208h1.25M562 1180h1.25M532 1199h1.25M566 1177h1.25M566 1177h1.25M596 1158h1.25M502 1205h1.25M560 1175h1.25M542 1183h1.25M539 1186h1.25M526 1200h1.25M578 1166h1.25M557 1180h1.25M526 1198h1.25M596 1157h1.25M564 1177h1.25M500 1209h1.25M595 1160h1.25M543 1188h1.25M600 1149h1.25M530 1201h1.25M521 1206h1.25M571 1174h1.25M541 1190h1.25M572 1175h1.25M598 1156h1.25M601 1149h1.25M568 1175h1.25M617 1137h1.25M534 1198h1.25M563 1177h1.25M515 1208h1.25M516 1198h1.25M529 1192h1.25M612 1145h1.25M577 1170h1.25M526 1192h1.25M585 1163h1.25M612 1148h1.25M593 1155h1.25M546 1187h1.25M568 1173h1.25M513 1206h1.25M559 1178h1.25M576 1167h1.25M585 1165h1.25M514 1198h1.25M551 1184h1.25M577 1164h1.25M589 1157h1.25M597 1155h1.25M575 1167h1.25M573 1171h1.25M558 1183h1.25M527 1193h1.25M573 1167h1.25M532 1197h1.25M539 1189h1.25M528 1198h1.25M577 1169h1.25M608 1145h1.25M539 1189h1.25M590 1158h1.25M585 1163h1.25M556 1184h1.25M592 1154h1.25M519 1200h1.25M546 1188h1.25M525 1198h1.25M575 1166h1.25M515 1202h1.25M525 1203h1.25M576 1175h1.25M512 1203h1.25M591 1162h1.25M594 1155h1.25M531 1200h1.25M564 1172h1.25M566 1178h1.25M536 1193h1.25M550 1183h1.25M610 1143h1.25M568 1172h1.25M550 1186h1.25M525 1199h1.25M586 1157h1.25M584 1166h1.25M585 1163h1.25M528 1193h1.25M584 1163h1.25M594 1157h1.25M575 1166h1.25M570 1174h1.25M526 1192h1.25M584 1168h1.25M568 1179h1.25M550 1182h1.25M546 1184h1.25M548 1184h1.25M572 1170h1.25M581 1163h1.25M569 1176h1.25M603 1155h1.25M545 1184h1.25M545 1186h1.25M585 1159h1.25M540 1189h1.25M541 1186h1.25M556 1176h1.25M530 1190h1.25M604 1149h1.25M525 1196h1.25M552 1182h1.25M565 1170h1.25M561 1180h1.25M600 1152h1.25M507 1206h1.25M540 1186h1.25M607 1143h1.25M530 1189h1.25M580 1168h1.25M554 1179h1.25M548 1185h1.25M563 1176h1.25M595 1154h1.25M506 1208h1.25M541 1184h1.25M582 1162h1.25M539 1193h1.25M601 1152h1.25M555 1182h1.25M609 1143h1.25M552 1181h1.25M602 1154h1.25M539 1185h1.25M607 1145h1.25M598 1159h1.25M579 1167h1.25M550 1184h1.25M541 1188h1.25M512 1198h1.25M576 1175h1.25M589 1164h1.25M546 1188h1.25M612 1142h1.25M604 1154h1.25M508 1208h1.25M604 1151h1.25M540 1189h1.25M544 1189h1.25M594 1153h1.25M549 1183h1.25M564 1178h1.25M572 1173h1.25M520 1197h1.25M589 1163h1.25M541 1191h1.25M555 1184h1.25M584 1162h1.25M518 1203h1.25M573 1172h1.25M564 1172h1.25M522 1196h1.25M538 1188h1.25M566 1174h1.25M567 1170h1.25M580 1171h1.25M512 1205h1.25M596 1154h1.25M560 1175h1.25M596 1158h1.25M586 1162h1.25M523 1200h1.25M505 1209h1.25M569 1178h1.25M520 1201h1.25M553 1188h1.25M579 1164h1.25M602 1155h1.25M542 1188h1.25M626 1136h1.25M562 1179h1.25M523 1200h1.25M610 1148h1.25M530 1198h1.25M538 1189h1.25M577 1168h1.25M538 1194h1.25M532 1193h1.25M571 1177h1.25M560 1179h1.25M535 1192h1.25M578 1165h1.25M520 1200h1.25M577 1172h1.25M568 1172h1.25M525 1199h1.25M578 1171h1.25M586 1166h1.25M625 1138h1.25M605 1153h1.25M522 1204h1.25M563 1178h1.25M566 1179h1.25M509 1205h1.25M578 1171h1.25M519 1202h1.25M533 1189h1.25M557 1180h1.25M580 1165h1.25M573 1172h1.25M525 1192h1.25M506 1211h1.25M555 1185h1.25M613 1140h1.25M543 1186h1.25M514 1199h1.25M525 1198h1.25M534 1193h1.25M545 1183h1.25M547 1187h1.25M578 1171h1.25M556 1181h1.25M549 1185h1.25M559 1177h1.25M505 1209h1.25M544 1187h1.25M579 1163h1.25M526 1191h1.25M577 1169h1.25M535 1186h1.25M558 1184h1.25M517 1202h1.25M616 1142h1.25M521 1199h1.25M614 1140h1.25M540 1190h1.25M576 1166h1.25M575 1169h1.25M564 1177h1.25M533 1194h1.25M578 1167h1.25M544 1186h1.25M588 1157h1.25M547 1183h1.25M545 1190h1.25M586 1167h1.25M566 1176h1.25M581 1167h1.25M550 1180h1.25M589 1162h1.25M528 1198h1.25M548 1184h1.25M522 1200h1.25M592 1160h1.25M521 1194h1.25M568 1177h1.25M523 1199h1.25M556 1182h1.25M530 1199h1.25M570 1176h1.25M532 1188h1.25M561 1181h1.25M532 1196h1.25M567 1176h1.25M536 1195h1.25M563 1180h1.25M517 1198h1.25M542 1187h1.25M607 1150h1.25M505 1208h1.25M534 1188h1.25M580 1167h1.25M563 1173h1.25M573 1172h1.25M551 1185h1.25M607 1147h1.25M587 1160h1.25M593 1159h1.25M556 1183h1.25M566 1173h1.25M590 1157h1.25M560 1184h1.25M533 1193h1.25M552 1184h1.25M570 1175h1.25M522 1193h1.25M581 1162h1.25M540 1186h1.25M560 1180h1.25M581 1163h1.25M587 1164h1.25M554 1180h1.25M528 1193h1.25M567 1171h1.25M554 1183h1.25M571 1168h1.25M584 1170h1.25M596 1153h1.25M547 1186h1.25M560 1179h1.25M589 1164h1.25M528 1196h1.25M620 1136h1.25M574 1171h1.25M550 1185h1.25M548 1180h1.25M511 1202h1.25M610 1149h1.25M603 1151h1.25M603 1152h1.25M519 1205h1.25M601 1151h1.25M519 1196h1.25M596 1155h1.25M523 1201h1.25M580 1164h1.25M592 1161h1.25M579 1169h1.25M527 1197h1.25M575 1167h1.25M544 1188h1.25M561 1177h1.25M596 1156h1.25M527 1191h1.25M556 1181h1.25M583 1166h1.25M555 1184h1.25M544 1191h1.25M589 1166h1.25M547 1185h1.25M580 1169h1.25M529 1200h1.25M573 1174h1.25M603 1150h1.25M575 1171h1.25M618 1140h1.25M555 1185h1.25M608 1143h1.25M550 1180h1.25M560 1181h1.25M545 1191h1.25M568 1173h1.25M574 1172h1.25M523 1198h1.25M549 1187h1.25M523 1200h1.25M537 1187h1.25M525 1202h1.25M568 1174h1.25M556 1177h1.25M567 1173h1.25M558 1174h1.25M545 1188h1.25M550 1182h1.25M604 1153h1.25M509 1204h1.25M595 1159h1.25M508 1207h1.25M515 1199h1.25M577 1169h1.25M558 1181h1.25M585 1166h1.25M601 1150h1.25M519 1199h1.25M601 1157h1.25M540 1194h1.25M529 1196h1.25M596 1157h1.25M566 1173h1.25M506 1202h1.25M542 1190h1.25M592 1158h1.25M547 1188h1.25M529 1200h1.25M579 1168h1.25M613 1145h1.25M595 1152h1.25M517 1206h1.25M598 1150h1.25M539 1192h1.25M558 1180h1.25M569 1172h1.25M558 1176h1.25M554 1182h1.25M537 1193h1.25M608 1147h1.25M566 1175h1.25M545 1184h1.25M541 1188h1.25M548 1182h1.25M587 1166h1.25M550 1182h1.25M552 1183h1.25M519 1202h1.25M554 1184h1.25M575 1169h1.25M613 1148h1.25M565 1171h1.25M581 1170h1.25M575 1169h1.25M540 1189h1.25M521 1195h1.25M583 1163h1.25M579 1171h1.25M610 1146h1.25M578 1170h1.25M560 1180h1.25M532 1196h1.25M599 1151h1.25M533 1196h1.25M563 1172h1.25M616 1146h1.25M571 1173h1.25M578 1167h1.25M559 1176h1.25M516 1205h1.25M503 1209h1.25M522 1205h1.25M544 1184h1.25M589 1157h1.25M611 1147h1.25M549 1185h1.25M522 1200h1.25M614 1143h1.25M608 1148h1.25M567 1174h1.25M522 1193h1.25M565 1173h1.25M517 1197h1.25M626 1133h1.25M548 1185h1.25M578 1166h1.25M558 1179h1.25M594 1154h1.25M523 1200h1.25M607 1145h1.25M519 1201h1.25M543 1189h1.25M588 1164h1.25M582 1169h1.25M583 1168h1.25M542 1184h1.25M539 1192h1.25M526 1201h1.25M541 1187h1.25M550 1183h1.25M593 1157h1.25M543 1193h1.25M612 1144h1.25M575 1164h1.25M534 1190h1.25M621 1140h1.25M541 1188h1.25M553 1181h1.25M509 1207h1.25M558 1182h1.25M568 1171h1.25M540 1188h1.25M555 1183h1.25M510 1206h1.25M581 1167h1.25M569 1171h1.25M535 1191h1.25M507 1210h1.25M503 1205h1.25M591 1162h1.25M588 1160h1.25M536 1197h1.25M580 1165h1.25M576 1172h1.25M550 1184h1.25M579 1164h1.25M513 1207h1.25M567 1174h1.25M528 1191h1.25M550 1181h1.25M521 1202h1.25M597 1154h1.25M589 1158h1.25M548 1187h1.25M561 1179h1.25M504 1207h1.25M548 1186h1.25M576 1165h1.25M605 1151h1.25M579 1167h1.25M598 1156h1.25M537 1192h1.25M538 1194h1.25M594 1158h1.25M542 1182h1.25M567 1179h1.25M595 1154h1.25M582 1161h1.25M587 1163h1.25M574 1171h1.25M538 1196h1.25M518 1202h1.25M537 1196h1.25M536 1191h1.25M528 1193h1.25M562 1178h1.25M560 1176h1.25M590 1165h1.25M572 1170h1.25M585 1157h1.25M614 1142h1.25M597 1153h1.25M543 1192h1.25M618 1138h1.25M560 1181h1.25M624 1136h1.25M582 1169h1.25M542 1193h1.25M556 1180h1.25M514 1201h1.25M575 1172h1.25M580 1165h1.25M553 1185h1.25M570 1171h1.25M563 1172h1.25M524 1202h1.25M609 1148h1.25M532 1195h1.25M563 1179h1.25M569 1169h1.25M532 1200h1.25M529 1192h1.25M524 1197h1.25M603 1155h1.25M559 1182h1.25M589 1159h1.25M563 1176h1.25M513 1202h1.25M615 1144h1.25M532 1194h1.25M514 1197h1.25M539 1192h1.25M559 1180h1.25M604 1151h1.25M553 1182h1.25M552 1181h1.25M556 1183h1.25M580 1162h1.25M522 1197h1.25M578 1168h1.25M616 1144h1.25M526 1201h1.25M561 1174h1.25M569 1174h1.25M557 1183h1.25M521 1196h1.25M578 1169h1.25M596 1151h1.25M541 1190h1.25M613 1140h1.25M594 1156h1.25M606 1148h1.25M516 1206h1.25M555 1176h1.25M562 1180h1.25M550 1180h1.25M548 1188h1.25M545 1184h1.25M546 1186h1.25M600 1148h1.25M501 1209h1.25M514 1200h1.25M552 1182h1.25M531 1194h1.25M563 1174h1.25M527 1196h1.25M540 1187h1.25M616 1144h1.25M532 1195h1.25M594 1162h1.25M582 1162h1.25M561 1182h1.25M563 1176h1.25M582 1166h1.25M573 1165h1.25M572 1173h1.25M534 1187h1.25M564 1176h1.25M603 1150h1.25M536 1190h1.25M510 1202h1.25M574 1169h1.25M594 1158h1.25M582 1169h1.25M536 1192h1.25M577 1167h1.25M577 1171h1.25M609 1143h1.25M556 1180h1.25M540 1190h1.25M569 1172h1.25M588 1164h1.25M617 1139h1.25M553 1179h1.25M538 1188h1.25M548 1185h1.25M554 1181h1.25M517 1198h1.25M615 1142h1.25M532 1191h1.25M558 1176h1.25M582 1169h1.25M559 1174h1.25M561 1177h1.25M523 1202h1.25M513 1197h1.25M593 1159h1.25M622 1135h1.25M584 1165h1.25M567 1173h1.25M571 1178h1.25M585 1167h1.25M530 1191h1.25M534 1199h1.25M627 1135h1.25M537 1189h1.25M539 1187h1.25M593 1154h1.25M516 1196h1.25M522 1195h1.25M543 1186h1.25M512 1204h1.25M559 1178h1.25M514 1201h1.25M526 1195h1.25M561 1174h1.25M550 1183h1.25M601 1147h1.25M572 1166h1.25M536 1191h1.25M614 1139h1.25M556 1180h1.25M611 1141h1.25M530 1191h1.25M521 1204h1.25M537 1187h1.25M544 1188h1.25M528 1192h1.25M532 1195h1.25M559 1180h1.25M601 1154h1.25M532 1188h1.25M589 1156h1.25M521 1199h1.25M605 1152h1.25M567 1172h1.25M564 1179h1.25M594 1156h1.25M528 1194h1.25M561 1174h1.25M600 1152h1.25M611 1143h1.25M531 1196h1.25M529 1198h1.25M586 1164h1.25M556 1180h1.25M541 1185h1.25M574 1171h1.25M543 1184h1.25M537 1195h1.25M586 1167h1.25M545 1189h1.25M557 1180h1.25M533 1196h1.25M566 1174h1.25M529 1197h1.25M610 1143h1.25M527 1201h1.25" stroke="#fa0808" stroke-width="1.25" fill="none" opacity="0.85"/>
<polygon points="519.3,1201.0 538.6,1191.6 561.2,1179.7 583.3,1166.0 599.3,1154.0 598.8,1153.2 581.9,1163.8 559.6,1177.0 537.4,1189.3 519.0,1200.5" fill="#fa0808" opacity="0.4"/>
<path d="M454.3 1015.2H465.8M459.3 1057.0H465.8M459.3 1046.5H465.8M459.3 1039.0H465.8M459.3 1033.2H465.8M459.3 1028.5H465.8M459.3 1024.5H465.8M459.3 1021.0H465.8M459.3 1017.9H465.8M454.3 1075.1H465.8M459.3 1116.9H465.8M459.3 1106.4H465.8M459.3 1098.9H465.8M459.3 1093.1H465.8M459.3 1088.3H465.8M459.3 1084.3H465.8M459.3 1080.9H465.8M459.3 1077.8H465.8M454.3 1134.9H465.8M459.3 1176.8H465.8M459.3 1166.2H465.8M459.3 1158.8H465.8M459.3 1153.0H465.8M459.3 1148.2H465.8M459.3 1144.2H465.8M459.3 1140.7H465.8M459.3 1137.7H465.8M454.3 1194.8H465.8M459.3 1236.6H465.8M459.3 1226.1H465.8M459.3 1218.6H465.8M459.3 1212.8H465.8M459.3 1208.1H465.8M459.3 1204.1H465.8M459.3 1200.6H465.8M459.3 1197.5H465.8" stroke="#2a2a2a" stroke-width="1.3" fill="none"/>
<path d="M489.1 1254.0v5.5M502.8 1254.0v5.5M512.4 1254.0v5.5M519.9 1254.0v5.5M526.1 1254.0v5.5M531.3 1254.0v5.5M535.7 1254.0v5.5M539.7 1254.0v5.5M566.6 1254.0v5.5M580.2 1254.0v5.5M589.9 1254.0v5.5M597.4 1254.0v5.5M603.5 1254.0v5.5M608.7 1254.0v5.5M613.2 1254.0v5.5M617.2 1254.0v5.5M644.0 1254.0v5.5M657.7 1254.0v5.5M667.3 1254.0v5.5M674.8 1254.0v5.5M681.0 1254.0v5.5M686.2 1254.0v5.5M690.6 1254.0v5.5M694.6 1254.0v5.5M721.5 1254.0v5.5M735.1 1254.0v5.5M744.8 1254.0v5.5M752.3 1254.0v5.5M758.4 1254.0v5.5M763.6 1254.0v5.5M768.1 1254.0v5.5M772.1 1254.0v5.5" stroke="#111" stroke-width="1.6" fill="none"/>
<path d="M543.2 1254.0v9.5M620.7 1254.0v9.5M698.2 1254.0v9.5M775.6 1254.0v9.5" stroke="#111" stroke-width="1.6" fill="none"/>
<path d="M465.8 1015.2H775.6V1254.0M620.5 1015.2V1254.0" stroke="#1a1a1a" stroke-width="1.4" fill="none"/>
<path d="M465.8 1014.6V1254.0H776.3" stroke="#1a1a1a" stroke-width="1.4" fill="none"/>
<text x="452.3" y="1202.5" font-size="16.2" font-weight="bold" text-anchor="end" fill="#1a1a1a">10<tspan font-size="12.5" font-weight="normal" dy="-6.3">0</tspan></text>
<text transform="translate(535.0 1274.2) scale(.87 1)" font-size="16.5" font-weight="bold" fill="#1a1a1a">10<tspan font-size="13" font-weight="normal" dy="-3.6">0</tspan></text>
<text x="452.3" y="1142.6" font-size="16.2" font-weight="bold" text-anchor="end" fill="#1a1a1a">10<tspan font-size="12.5" font-weight="normal" dy="-6.3">1</tspan></text>
<text transform="translate(612.5 1274.2) scale(.87 1)" font-size="16.5" font-weight="bold" fill="#1a1a1a">10<tspan font-size="13" font-weight="normal" dy="-3.6">1</tspan></text>
<text x="452.3" y="1082.8" font-size="16.2" font-weight="bold" text-anchor="end" fill="#1a1a1a">10<tspan font-size="12.5" font-weight="normal" dy="-6.3">2</tspan></text>
<text transform="translate(690.0 1274.2) scale(.87 1)" font-size="16.5" font-weight="bold" fill="#1a1a1a">10<tspan font-size="13" font-weight="normal" dy="-3.6">2</tspan></text>
<text x="452.3" y="1022.9" font-size="16.2" font-weight="bold" text-anchor="end" fill="#1a1a1a">10<tspan font-size="12.5" font-weight="normal" dy="-6.3">3</tspan></text>
<text transform="translate(767.4 1274.2) scale(.87 1)" font-size="16.5" font-weight="bold" fill="#1a1a1a">10<tspan font-size="13" font-weight="normal" dy="-3.6">3</tspan></text>
<text x="624.6" y="1307.0" font-size="17.5" font-weight="bold" text-anchor="middle" fill="#1a1a1a">DCF-DA 525nm</text>
<text transform="translate(404.8 1136.6) rotate(-90)" font-size="17" font-weight="bold" text-anchor="middle" fill="#1a1a1a">FL3 log</text>
<text x="466.3" y="1038.2" font-size="18.5" font-weight="bold" fill="#1a1a1a">A1</text>
<text x="471.5" y="1062.2" font-size="19.2" font-weight="bold" fill="#1a1a1a" xml:space="preserve">96.6%</text>
<text x="620.9" y="1038.2" font-size="18.5" font-weight="bold" fill="#1a1a1a">A2</text>
<text x="625.9" y="1062.2" font-size="19.2" font-weight="bold" fill="#1a1a1a" xml:space="preserve"> 3.3%</text>
<text x="609.8" y="995.0" font-size="23.4" text-anchor="middle" xml:space="preserve">10% FBS control</text>
</g>
<g id="plot8">
<g filter="url(#bl)" clip-path="url(#cp107)">
<clipPath id="cp107"><rect x="882.7" y="1016.0" width="311.9" height="241.0"/></clipPath>
<polygon points="890.9,1242.9 897.0,1239.5 885.6,1216.2 879.2,1218.9" fill="#fa0808" opacity="0.06"/>
<polygon points="896.5,1239.7 902.6,1236.3 891.6,1213.7 885.1,1216.4" fill="#fa0808" opacity="0.07"/>
<polygon points="902.2,1236.5 908.2,1233.0 897.6,1211.3 891.1,1213.9" fill="#fa0808" opacity="0.07"/>
<polygon points="907.8,1233.3 913.8,1229.8 903.6,1208.8 897.1,1211.5" fill="#fa0808" opacity="0.08"/>
<polygon points="913.2,1230.2 918.6,1226.3 909.7,1207.3 903.2,1209.0" fill="#fa0808" opacity="0.09"/>
<polygon points="918.2,1226.6 923.6,1222.6 915.7,1205.8 909.2,1207.4" fill="#fa0808" opacity="0.12"/>
<polygon points="923.2,1222.9 928.6,1219.0 921.6,1204.2 915.2,1205.9" fill="#fa0808" opacity="0.15"/>
<polygon points="928.2,1219.3 933.6,1215.4 927.6,1202.7 921.1,1204.3" fill="#fa0808" opacity="0.20"/>
<polygon points="933.1,1215.7 938.8,1212.2 933.6,1200.7 927.2,1202.8" fill="#fa0808" opacity="0.26"/>
<polygon points="938.4,1212.5 944.1,1209.0 939.5,1198.8 933.1,1200.9" fill="#fa0808" opacity="0.35"/>
<polygon points="943.7,1209.2 949.4,1205.7 945.4,1196.9 939.0,1199.0" fill="#fa0808" opacity="0.46"/>
<polygon points="949.0,1206.0 954.7,1202.5 951.3,1195.0 944.9,1197.0" fill="#fa0808" opacity="0.60"/>
<polygon points="954.8,1202.5 960.8,1198.5 956.6,1191.7 950.3,1195.4" fill="#fa0808" opacity="0.70"/>
<polygon points="960.4,1198.8 966.4,1194.8 962.3,1188.3 956.1,1192.0" fill="#fa0808" opacity="0.72"/>
<polygon points="966.0,1195.1 972.0,1191.2 968.1,1184.9 961.8,1188.6" fill="#fa0808" opacity="0.75"/>
<polygon points="971.5,1191.5 977.6,1187.5 973.8,1181.5 967.6,1185.2" fill="#fa0808" opacity="0.75"/>
<polygon points="977.2,1187.7 983.1,1183.8 979.2,1177.9 973.3,1181.8" fill="#fa0808" opacity="0.75"/>
<polygon points="982.7,1184.1 988.6,1180.2 984.7,1174.3 978.8,1178.2" fill="#fa0808" opacity="0.75"/>
<polygon points="988.2,1180.5 994.1,1176.6 990.1,1170.7 984.2,1174.6" fill="#fa0808" opacity="0.74"/>
<polygon points="993.6,1176.9 999.5,1173.0 995.6,1167.1 989.7,1171.0" fill="#fa0808" opacity="0.71"/>
<polygon points="999.1,1173.3 1005.1,1169.4 1001.1,1163.4 995.2,1167.4" fill="#fa0808" opacity="0.67"/>
<polygon points="1004.7,1169.7 1010.7,1165.8 1006.6,1159.6 1000.7,1163.7" fill="#fa0808" opacity="0.61"/>
<polygon points="1010.3,1166.0 1016.3,1162.1 1012.2,1155.9 1006.2,1159.9" fill="#fa0808" opacity="0.55"/>
<polygon points="1015.8,1162.4 1021.8,1158.5 1017.7,1152.2 1011.7,1156.2" fill="#fa0808" opacity="0.50"/>
<polygon points="1021.5,1158.7 1028.3,1153.8 1023.8,1147.7 1017.1,1152.6" fill="#fa0808" opacity="0.44"/>
<polygon points="1027.9,1154.1 1034.6,1149.1 1030.2,1143.0 1023.4,1148.0" fill="#fa0808" opacity="0.38"/>
<polygon points="1034.2,1149.4 1041.0,1144.5 1036.5,1138.4 1029.8,1143.3" fill="#fa0808" opacity="0.31"/>
<polygon points="1040.7,1144.7 1046.1,1140.5 1041.4,1134.6 1036.1,1138.8" fill="#fa0808" opacity="0.26"/>
<polygon points="1045.6,1140.9 1051.0,1136.7 1046.3,1130.7 1041.0,1134.9" fill="#fa0808" opacity="0.22"/>
<polygon points="1050.5,1137.1 1055.9,1132.9 1051.2,1126.9 1045.9,1131.1" fill="#fa0808" opacity="0.18"/>
<polygon points="1055.4,1133.3 1060.8,1129.1 1056.1,1123.1 1050.8,1127.3" fill="#fa0808" opacity="0.14"/>
<polygon points="1060.3,1129.4 1065.7,1125.3 1061.0,1119.3 1055.6,1123.5" fill="#fa0808" opacity="0.10"/>
<polygon points="1064.9,1125.8 1070.7,1122.0 1066.7,1115.8 1060.8,1119.5" fill="#fa0808" opacity="0.08"/>
<polygon points="1070.0,1122.5 1075.9,1118.6 1071.9,1112.5 1066.0,1116.2" fill="#fa0808" opacity="0.07"/>
<polygon points="1075.1,1119.1 1081.0,1115.3 1077.1,1109.2 1071.2,1113.0" fill="#fa0808" opacity="0.06"/>
<polygon points="1080.3,1115.7 1086.1,1111.9 1082.3,1106.0 1076.4,1109.7" fill="#fa0808" opacity="0.05"/>
<polygon points="1085.4,1112.4 1091.2,1108.5 1087.5,1102.7 1081.6,1106.4" fill="#fa0808" opacity="0.04"/>
<polygon points="1090.5,1109.0 1096.3,1105.2 1092.7,1099.5 1086.8,1103.2" fill="#fa0808" opacity="0.03"/>
</g>
<path d="M1088 1108h1.25M970 1197h1.25M921 1228h1.25M954 1209h1.25M957 1187h1.25M1013 1171h1.25M904 1206h1.25M1090 1107h1.25M915 1196h1.25M1084 1105h1.25M1067 1125h1.25M914 1202h1.25M938 1218h1.25M1076 1119h1.25M1065 1117h1.25M910 1206h1.25M915 1203h1.25M1091 1106h1.25M901 1247h1.25M943 1214h1.25M893 1242h1.25M1017 1149h1.25M926 1188h1.25M1107 1094h1.25M890 1217h1.25M917 1230h1.25M926 1227h1.25M1085 1105h1.25M993 1182h1.25M911 1236h1.25M886 1217h1.25M884 1208h1.25M1008 1172h1.25M935 1193h1.25M916 1202h1.25M1025 1144h1.25M961 1203h1.25M910 1203h1.25M898 1207h1.25M896 1239h1.25M981 1172h1.25M930 1229h1.25M1082 1114h1.25M905 1207h1.25M892 1244h1.25M1089 1106h1.25M885 1216h1.25M898 1242h1.25M1031 1154h1.25M925 1234h1.25M944 1193h1.25M1069 1124h1.25M1023 1144h1.25M1037 1136h1.25M914 1199h1.25M1097 1101h1.25M909 1235h1.25M931 1195h1.25M891 1216h1.25M1055 1135h1.25M930 1197h1.25M890 1212h1.25M925 1200h1.25M913 1200h1.25M886 1213h1.25M1015 1167h1.25M943 1218h1.25M915 1204h1.25M888 1203h1.25M889 1217h1.25M1006 1174h1.25M1060 1136h1.25M1090 1102h1.25M1100 1094h1.25M982 1190h1.25M921 1201h1.25M884 1220h1.25M911 1206h1.25M893 1202h1.25M918 1201h1.25M909 1242h1.25M1042 1149h1.25M1070 1123h1.25M962 1184h1.25M907 1235h1.25M999 1178h1.25M899 1209h1.25M894 1246h1.25M1007 1172h1.25M1053 1144h1.25M961 1185h1.25M907 1208h1.25M942 1216h1.25M935 1223h1.25M927 1224h1.25M1007 1155h1.25M921 1201h1.25M894 1238h1.25M978 1164h1.25M1049 1142h1.25M899 1238h1.25M898 1254h1.25M994 1181h1.25M1108 1094h1.25M1117 1090h1.25M911 1231h1.25M1075 1109h1.25M1095 1101h1.25M993 1182h1.25M1112 1091h1.25M974 1194h1.25M1087 1106h1.25M1073 1112h1.25M1002 1177h1.25M889 1215h1.25M1070 1125h1.25M1040 1133h1.25M977 1175h1.25M887 1219h1.25M903 1245h1.25M894 1238h1.25M915 1202h1.25M1073 1113h1.25" stroke="#fa0808" stroke-width="1.25" fill="none" opacity="0.33"/>
<path d="M1064 1126h1.25M913 1227h1.25M1060 1130h1.25M918 1227h1.25M911 1223h1.25M963 1186h1.25M907 1222h1.25M898 1224h1.25M917 1209h1.25M936 1217h1.25M1037 1137h1.25M1076 1114h1.25M1067 1118h1.25M1057 1129h1.25M913 1227h1.25M907 1228h1.25M1057 1126h1.25M1044 1143h1.25M917 1215h1.25M891 1231h1.25M889 1224h1.25M976 1192h1.25M914 1221h1.25M905 1220h1.25M906 1210h1.25M1013 1153h1.25M907 1214h1.25M915 1218h1.25M897 1225h1.25M921 1220h1.25M941 1213h1.25M916 1222h1.25M903 1225h1.25M908 1221h1.25M918 1220h1.25M915 1215h1.25M909 1216h1.25M914 1214h1.25M898 1233h1.25M886 1230h1.25M1070 1122h1.25M907 1224h1.25M894 1236h1.25M935 1216h1.25M928 1220h1.25M909 1209h1.25M925 1218h1.25M1043 1133h1.25M913 1213h1.25M911 1227h1.25M978 1177h1.25M966 1183h1.25M1001 1161h1.25M927 1219h1.25M914 1212h1.25M884 1222h1.25M976 1191h1.25M968 1182h1.25M936 1216h1.25M1055 1135h1.25M999 1163h1.25M930 1221h1.25M1016 1165h1.25M928 1217h1.25M934 1217h1.25M1042 1145h1.25M906 1228h1.25M912 1220h1.25M927 1218h1.25M1026 1158h1.25M922 1219h1.25M894 1236h1.25M1018 1164h1.25M894 1231h1.25M905 1215h1.25M1013 1154h1.25M892 1227h1.25M917 1212h1.25M903 1215h1.25M990 1168h1.25M895 1233h1.25M1017 1164h1.25M979 1175h1.25M1001 1175h1.25M963 1200h1.25M891 1224h1.25M1065 1121h1.25M899 1223h1.25M972 1194h1.25M919 1220h1.25M919 1207h1.25M917 1211h1.25M945 1194h1.25M1066 1123h1.25M1067 1118h1.25M915 1210h1.25M1065 1121h1.25M1041 1134h1.25M1069 1120h1.25M927 1200h1.25M925 1204h1.25M1018 1163h1.25M943 1194h1.25M965 1198h1.25M1043 1133h1.25M1041 1133h1.25M941 1212h1.25M913 1224h1.25M910 1219h1.25M912 1214h1.25M946 1194h1.25M900 1214h1.25M890 1232h1.25M931 1200h1.25M1070 1119h1.25M905 1211h1.25M913 1226h1.25M971 1181h1.25M987 1183h1.25M936 1215h1.25M911 1216h1.25M1085 1108h1.25M919 1223h1.25M906 1226h1.25M886 1232h1.25M1051 1136h1.25M952 1206h1.25M928 1219h1.25M900 1217h1.25M968 1182h1.25M949 1193h1.25M1035 1139h1.25M936 1199h1.25M920 1225h1.25M909 1216h1.25M908 1214h1.25M1022 1147h1.25M897 1232h1.25M936 1198h1.25M951 1192h1.25M1002 1161h1.25M1042 1146h1.25M919 1215h1.25M1008 1157h1.25M896 1225h1.25M948 1209h1.25M969 1182h1.25M933 1216h1.25M891 1224h1.25M989 1169h1.25M890 1222h1.25M908 1223h1.25M1062 1120h1.25M1057 1125h1.25M914 1211h1.25M893 1219h1.25M987 1183h1.25M1030 1156h1.25M946 1210h1.25M951 1207h1.25M1004 1159h1.25M909 1219h1.25M920 1209h1.25M1061 1124h1.25M973 1179h1.25M933 1217h1.25M960 1188h1.25M908 1219h1.25M901 1228h1.25M940 1196h1.25M1042 1133h1.25M894 1228h1.25M898 1231h1.25M1086 1107h1.25M910 1209h1.25M922 1202h1.25M892 1223h1.25M1067 1124h1.25M998 1176h1.25M1042 1144h1.25M993 1167h1.25M999 1175h1.25M1069 1119h1.25M949 1208h1.25M986 1184h1.25M926 1217h1.25M932 1219h1.25M900 1226h1.25M900 1223h1.25M927 1218h1.25M901 1214h1.25M929 1216h1.25M923 1206h1.25M928 1219h1.25M1062 1121h1.25M925 1219h1.25M988 1170h1.25M916 1220h1.25M904 1213h1.25M943 1213h1.25M920 1204h1.25M924 1206h1.25M912 1218h1.25M918 1212h1.25M922 1223h1.25M966 1184h1.25M1001 1161h1.25M917 1205h1.25M907 1215h1.25M887 1233h1.25M1049 1140h1.25M1064 1120h1.25M955 1206h1.25M897 1226h1.25M922 1219h1.25M926 1217h1.25M1068 1118h1.25M953 1191h1.25M919 1221h1.25M1050 1139h1.25M919 1223h1.25M920 1208h1.25M1051 1138h1.25M977 1176h1.25M912 1206h1.25M913 1215h1.25M950 1208h1.25M894 1227h1.25M900 1234h1.25M922 1207h1.25M1018 1149h1.25M1078 1112h1.25M933 1198h1.25M927 1220h1.25M1055 1124h1.25M992 1180h1.25M1021 1148h1.25M1017 1165h1.25M904 1212h1.25M889 1224h1.25M895 1231h1.25M930 1200h1.25M1012 1155h1.25M909 1214h1.25M1032 1152h1.25M1048 1141h1.25M1057 1130h1.25M922 1208h1.25M906 1221h1.25M914 1217h1.25M891 1233h1.25M1077 1116h1.25M1039 1146h1.25M930 1217h1.25M916 1222h1.25M1055 1131h1.25M930 1201h1.25M914 1214h1.25M905 1231h1.25M887 1232h1.25M921 1222h1.25M917 1214h1.25M914 1219h1.25M966 1183h1.25M915 1210h1.25M899 1216h1.25M908 1223h1.25M918 1225h1.25M894 1234h1.25M930 1201h1.25M923 1221h1.25M912 1215h1.25M981 1188h1.25M910 1216h1.25M1032 1151h1.25M906 1225h1.25M918 1211h1.25M917 1210h1.25M941 1213h1.25M1044 1133h1.25M911 1211h1.25" stroke="#fa0808" stroke-width="1.25" fill="none" opacity="0.58"/>
<path d="M945 1202h1.25M1003 1168h1.25M1026 1153h1.25M1002 1171h1.25M941 1204h1.25M1025 1154h1.25M961 1197h1.25M1002 1163h1.25M991 1176h1.25M1027 1146h1.25M986 1174h1.25M1009 1162h1.25M997 1174h1.25M1035 1141h1.25M1042 1139h1.25M1050 1131h1.25M932 1214h1.25M944 1202h1.25M952 1198h1.25M980 1177h1.25M926 1211h1.25M968 1193h1.25M983 1175h1.25M1021 1151h1.25M969 1193h1.25M1019 1157h1.25M1010 1168h1.25M1007 1163h1.25M978 1185h1.25M1008 1162h1.25M1041 1142h1.25M941 1207h1.25M937 1205h1.25M974 1190h1.25M1017 1155h1.25M951 1200h1.25M967 1196h1.25M1038 1145h1.25M949 1204h1.25M1001 1168h1.25M966 1190h1.25M943 1203h1.25M949 1201h1.25M955 1196h1.25M1002 1167h1.25M956 1197h1.25M1005 1166h1.25M1002 1167h1.25M967 1193h1.25M1041 1138h1.25M997 1170h1.25M1020 1151h1.25M957 1196h1.25M988 1178h1.25M955 1199h1.25M1032 1146h1.25M960 1199h1.25M947 1201h1.25M1029 1153h1.25M1007 1165h1.25M1004 1167h1.25M964 1190h1.25M936 1209h1.25M1003 1167h1.25M982 1183h1.25M1001 1165h1.25M983 1184h1.25M1035 1142h1.25M953 1204h1.25M985 1177h1.25M967 1191h1.25M1001 1171h1.25M973 1186h1.25M1047 1139h1.25M994 1174h1.25M996 1172h1.25M1026 1149h1.25M954 1198h1.25M1038 1141h1.25M1000 1170h1.25M956 1202h1.25M958 1193h1.25M990 1173h1.25M951 1199h1.25M1014 1162h1.25M1051 1134h1.25M979 1184h1.25M1003 1162h1.25M1019 1154h1.25M946 1204h1.25M965 1190h1.25M960 1194h1.25M970 1187h1.25M962 1193h1.25M1014 1158h1.25M954 1196h1.25M1023 1149h1.25M968 1191h1.25M968 1188h1.25M993 1172h1.25M1004 1169h1.25M1048 1132h1.25M1024 1153h1.25M1023 1153h1.25M963 1188h1.25M964 1189h1.25M998 1174h1.25M1047 1138h1.25M975 1187h1.25M933 1204h1.25M926 1210h1.25M975 1182h1.25M1042 1137h1.25M1024 1154h1.25M988 1179h1.25M1020 1153h1.25M957 1196h1.25M948 1202h1.25M1012 1162h1.25M966 1186h1.25M926 1209h1.25M973 1184h1.25M947 1198h1.25M1054 1129h1.25M969 1191h1.25M950 1196h1.25M968 1189h1.25M1011 1163h1.25M967 1189h1.25M1020 1161h1.25M1001 1169h1.25M1023 1155h1.25M971 1188h1.25M929 1215h1.25M1006 1161h1.25M955 1192h1.25M928 1206h1.25M1018 1153h1.25M971 1190h1.25M998 1171h1.25M986 1180h1.25M993 1175h1.25M948 1203h1.25M933 1207h1.25M1022 1154h1.25M961 1192h1.25M951 1202h1.25M1029 1153h1.25M975 1184h1.25M926 1210h1.25M986 1179h1.25M974 1187h1.25M989 1178h1.25M999 1169h1.25M947 1203h1.25M1010 1166h1.25M985 1177h1.25M974 1188h1.25M974 1186h1.25M1002 1171h1.25M959 1193h1.25M931 1212h1.25M993 1174h1.25M969 1188h1.25M1007 1162h1.25M933 1210h1.25M962 1192h1.25M984 1182h1.25M1029 1151h1.25M988 1174h1.25M953 1201h1.25M1034 1141h1.25M971 1184h1.25M935 1200h1.25M1008 1161h1.25M973 1186h1.25M1028 1150h1.25M1003 1163h1.25M982 1180h1.25M1049 1131h1.25M943 1199h1.25M946 1208h1.25M1034 1144h1.25M963 1196h1.25M993 1171h1.25M972 1191h1.25M1017 1152h1.25M962 1195h1.25M964 1199h1.25M977 1182h1.25M989 1178h1.25M927 1205h1.25M962 1187h1.25M968 1186h1.25M949 1202h1.25M953 1200h1.25M992 1173h1.25M959 1194h1.25M1006 1163h1.25M1007 1164h1.25M957 1197h1.25M966 1196h1.25M948 1204h1.25M930 1212h1.25M1006 1163h1.25M942 1202h1.25M1000 1166h1.25M982 1185h1.25M949 1198h1.25M1035 1146h1.25M983 1181h1.25M950 1196h1.25M1005 1169h1.25M1033 1144h1.25M1029 1150h1.25M934 1202h1.25M973 1184h1.25M975 1180h1.25M943 1204h1.25M1035 1145h1.25M989 1176h1.25M1011 1160h1.25M1021 1154h1.25M1010 1165h1.25M1048 1131h1.25M963 1190h1.25M941 1203h1.25M940 1209h1.25M1024 1156h1.25M974 1187h1.25M1019 1158h1.25M929 1211h1.25M966 1190h1.25M989 1172h1.25M1005 1164h1.25M978 1184h1.25M951 1205h1.25M963 1190h1.25M1005 1169h1.25M1027 1153h1.25M973 1184h1.25M984 1177h1.25M999 1172h1.25M956 1198h1.25M1007 1166h1.25M996 1167h1.25M959 1191h1.25M944 1210h1.25M962 1190h1.25M946 1201h1.25M979 1179h1.25M994 1173h1.25M982 1182h1.25M967 1188h1.25M1052 1134h1.25M955 1194h1.25M1009 1161h1.25M1037 1142h1.25M930 1209h1.25M1044 1140h1.25M923 1216h1.25M1030 1150h1.25M930 1214h1.25M1015 1162h1.25M974 1189h1.25M1008 1166h1.25M962 1197h1.25M1000 1171h1.25M958 1199h1.25M946 1204h1.25M967 1189h1.25M1041 1140h1.25M973 1182h1.25M986 1178h1.25M991 1173h1.25M988 1179h1.25M1037 1142h1.25M933 1201h1.25M962 1194h1.25M1038 1146h1.25M959 1196h1.25M952 1200h1.25M931 1215h1.25M958 1198h1.25M956 1194h1.25M930 1212h1.25M965 1196h1.25M961 1192h1.25M976 1179h1.25M919 1211h1.25M931 1208h1.25M955 1199h1.25M1023 1152h1.25M1007 1166h1.25M1008 1162h1.25M1000 1165h1.25M941 1200h1.25M1027 1155h1.25M1010 1159h1.25M1054 1130h1.25M985 1175h1.25M994 1171h1.25M993 1172h1.25M938 1206h1.25M994 1177h1.25M992 1173h1.25M1031 1147h1.25M962 1196h1.25M1038 1140h1.25M990 1176h1.25M933 1208h1.25M975 1181h1.25M975 1187h1.25M950 1202h1.25M960 1200h1.25M979 1178h1.25M944 1206h1.25M1011 1162h1.25M998 1167h1.25M951 1196h1.25M988 1175h1.25M993 1167h1.25M969 1192h1.25M933 1208h1.25M990 1175h1.25M960 1196h1.25M960 1193h1.25M1011 1161h1.25M942 1202h1.25M1028 1151h1.25M943 1201h1.25M975 1190h1.25M956 1193h1.25M930 1211h1.25M963 1188h1.25M1005 1168h1.25M944 1201h1.25M1044 1136h1.25M1046 1138h1.25M987 1174h1.25M972 1190h1.25M984 1184h1.25M939 1201h1.25M964 1187h1.25M994 1172h1.25M935 1210h1.25M954 1198h1.25M1014 1161h1.25M975 1184h1.25M1006 1167h1.25M968 1192h1.25M949 1196h1.25M1019 1159h1.25M1012 1159h1.25M948 1201h1.25M954 1196h1.25M976 1189h1.25M1022 1159h1.25M1053 1128h1.25M964 1192h1.25M974 1183h1.25M986 1177h1.25M960 1192h1.25M925 1212h1.25M986 1176h1.25M974 1188h1.25M975 1182h1.25M987 1175h1.25M991 1175h1.25M1023 1148h1.25M985 1182h1.25M951 1198h1.25M988 1178h1.25M1014 1162h1.25M969 1192h1.25M968 1191h1.25M1021 1154h1.25M1011 1157h1.25M1027 1147h1.25M1034 1145h1.25M929 1212h1.25M960 1192h1.25M1033 1143h1.25M961 1189h1.25M1004 1162h1.25M1008 1160h1.25M986 1182h1.25M937 1203h1.25M969 1192h1.25M1002 1168h1.25M986 1178h1.25M987 1174h1.25M1010 1165h1.25M995 1169h1.25M974 1181h1.25M953 1197h1.25M1021 1152h1.25M937 1200h1.25M974 1181h1.25M962 1188h1.25M981 1181h1.25M935 1207h1.25M1001 1169h1.25M1037 1140h1.25M987 1174h1.25M947 1202h1.25M929 1209h1.25M1010 1167h1.25M1026 1148h1.25M968 1187h1.25M1034 1141h1.25M955 1191h1.25M961 1191h1.25M1048 1131h1.25M1024 1151h1.25M944 1202h1.25M979 1179h1.25M945 1201h1.25M946 1205h1.25M994 1173h1.25M1013 1159h1.25M950 1202h1.25M970 1190h1.25M979 1181h1.25M958 1195h1.25M928 1211h1.25M980 1186h1.25M1009 1165h1.25M958 1200h1.25M978 1183h1.25M950 1200h1.25M949 1199h1.25M1033 1142h1.25M987 1176h1.25M1055 1129h1.25M1047 1134h1.25M1044 1137h1.25M1008 1165h1.25M1019 1155h1.25M987 1178h1.25M997 1170h1.25M940 1209h1.25M960 1192h1.25M986 1184h1.25M1041 1142h1.25M1022 1153h1.25M957 1198h1.25M950 1195h1.25M1029 1148h1.25M1022 1155h1.25M1002 1164h1.25M1022 1156h1.25M955 1199h1.25M987 1179h1.25M1027 1151h1.25M948 1201h1.25M1044 1138h1.25M971 1184h1.25M1000 1165h1.25M955 1197h1.25M1019 1154h1.25M1000 1167h1.25M947 1205h1.25M987 1176h1.25M986 1182h1.25M977 1181h1.25M976 1183h1.25M989 1177h1.25M950 1195h1.25M965 1192h1.25M1008 1164h1.25M938 1207h1.25M966 1187h1.25M942 1207h1.25M978 1183h1.25M939 1207h1.25M960 1194h1.25M956 1197h1.25M1018 1158h1.25M967 1188h1.25M970 1186h1.25M1013 1159h1.25M955 1202h1.25M1000 1172h1.25M948 1198h1.25M959 1194h1.25M943 1207h1.25M1000 1166h1.25M976 1184h1.25M1006 1166h1.25M997 1171h1.25M947 1195h1.25M986 1174h1.25M1021 1156h1.25M995 1175h1.25M1040 1139h1.25M969 1189h1.25M959 1194h1.25M1020 1152h1.25M990 1174h1.25M929 1206h1.25M986 1178h1.25M1010 1165h1.25M938 1204h1.25M930 1208h1.25M1021 1149h1.25M974 1187h1.25M931 1208h1.25M978 1180h1.25M963 1188h1.25M986 1181h1.25M958 1191h1.25M1000 1167h1.25M981 1181h1.25M940 1200h1.25M1011 1163h1.25M1005 1164h1.25M1024 1150h1.25M970 1191h1.25M967 1191h1.25M964 1189h1.25M1037 1145h1.25M953 1195h1.25M940 1206h1.25M985 1180h1.25M1017 1156h1.25M992 1177h1.25M946 1208h1.25M997 1166h1.25M1010 1163h1.25M960 1191h1.25M959 1197h1.25M958 1193h1.25M990 1177h1.25M962 1192h1.25M960 1191h1.25M944 1206h1.25M971 1183h1.25M964 1191h1.25M1036 1142h1.25M953 1196h1.25M1022 1151h1.25M949 1197h1.25M1043 1134h1.25M1013 1164h1.25M949 1203h1.25M1027 1148h1.25M953 1193h1.25M995 1169h1.25M1015 1159h1.25M994 1168h1.25M954 1198h1.25M1015 1161h1.25M992 1172h1.25M960 1189h1.25M949 1201h1.25M946 1202h1.25M1020 1158h1.25M947 1200h1.25M996 1176h1.25M1043 1142h1.25M973 1191h1.25M969 1189h1.25M931 1208h1.25M1024 1153h1.25M991 1172h1.25M957 1193h1.25M1047 1138h1.25M1010 1162h1.25M971 1190h1.25M975 1190h1.25M1017 1159h1.25M1008 1165h1.25M967 1187h1.25M990 1174h1.25M927 1210h1.25M954 1202h1.25M1028 1151h1.25M929 1208h1.25M1032 1148h1.25M946 1209h1.25M983 1179h1.25M1000 1171h1.25M999 1170h1.25M970 1192h1.25M1036 1143h1.25M991 1170h1.25M1009 1157h1.25M1000 1173h1.25M998 1170h1.25M1007 1164h1.25M976 1186h1.25M968 1184h1.25M948 1196h1.25M962 1196h1.25M933 1205h1.25M938 1208h1.25M990 1173h1.25M985 1176h1.25M986 1172h1.25M974 1182h1.25M1006 1161h1.25M995 1175h1.25M979 1177h1.25M982 1179h1.25M1043 1140h1.25M958 1194h1.25M1000 1174h1.25M981 1181h1.25M977 1182h1.25M1024 1150h1.25M1030 1151h1.25M936 1203h1.25M965 1190h1.25M946 1209h1.25M954 1200h1.25M969 1184h1.25M1031 1147h1.25M1007 1160h1.25M930 1209h1.25M978 1184h1.25M956 1195h1.25M1024 1151h1.25M998 1165h1.25M998 1172h1.25M1025 1150h1.25M960 1192h1.25M1005 1164h1.25M1035 1142h1.25M946 1201h1.25M957 1192h1.25M1021 1156h1.25M987 1175h1.25M962 1188h1.25M996 1175h1.25M959 1192h1.25M957 1196h1.25M958 1196h1.25M950 1199h1.25M935 1203h1.25M926 1212h1.25M1012 1164h1.25M1036 1148h1.25M1030 1148h1.25M980 1182h1.25M962 1198h1.25M997 1169h1.25M980 1183h1.25M1043 1138h1.25M937 1210h1.25M987 1176h1.25M1049 1137h1.25M1003 1161h1.25M972 1188h1.25M993 1173h1.25M923 1211h1.25M954 1198h1.25M1030 1150h1.25M1011 1162h1.25M995 1168h1.25M942 1211h1.25M984 1183h1.25M965 1195h1.25M962 1192h1.25M999 1173h1.25M961 1194h1.25M1007 1169h1.25M995 1178h1.25M931 1205h1.25M962 1195h1.25M965 1193h1.25M1017 1153h1.25M990 1178h1.25M988 1174h1.25M979 1183h1.25M1005 1170h1.25M955 1201h1.25M1019 1153h1.25M1048 1136h1.25M934 1209h1.25M958 1196h1.25M949 1201h1.25M1012 1158h1.25M932 1210h1.25M960 1194h1.25M937 1208h1.25M955 1196h1.25M961 1193h1.25M979 1185h1.25M950 1196h1.25M997 1171h1.25M963 1198h1.25M1020 1154h1.25M1027 1151h1.25M1047 1138h1.25M948 1204h1.25M987 1179h1.25M932 1204h1.25M1045 1136h1.25M1029 1147h1.25M970 1187h1.25M976 1184h1.25M999 1167h1.25M930 1209h1.25M944 1205h1.25M965 1194h1.25M957 1197h1.25M1048 1135h1.25M1005 1170h1.25M972 1185h1.25M973 1187h1.25M968 1188h1.25M934 1212h1.25M1035 1145h1.25M941 1206h1.25M976 1187h1.25M1034 1141h1.25M1012 1162h1.25M929 1215h1.25M986 1179h1.25M981 1183h1.25M1045 1138h1.25M1017 1156h1.25M924 1208h1.25M943 1202h1.25M992 1175h1.25M974 1185h1.25M964 1194h1.25M980 1181h1.25M1019 1157h1.25M994 1175h1.25M930 1203h1.25M927 1209h1.25M985 1178h1.25M961 1199h1.25M1040 1143h1.25M1004 1168h1.25M979 1184h1.25M967 1189h1.25M962 1190h1.25M990 1174h1.25M998 1165h1.25M1029 1148h1.25M970 1184h1.25M1025 1148h1.25M990 1174h1.25M936 1201h1.25M950 1204h1.25M1007 1165h1.25M982 1180h1.25M961 1191h1.25M932 1209h1.25M945 1203h1.25M955 1196h1.25M950 1199h1.25M1028 1149h1.25M966 1186h1.25M959 1194h1.25M962 1195h1.25M974 1185h1.25M973 1191h1.25M983 1179h1.25M940 1211h1.25M1021 1155h1.25M944 1204h1.25M957 1196h1.25M1025 1150h1.25M991 1174h1.25M967 1184h1.25M1001 1168h1.25M950 1205h1.25M993 1172h1.25M959 1193h1.25M977 1179h1.25M964 1191h1.25M967 1189h1.25M998 1174h1.25M966 1193h1.25M1004 1167h1.25M1033 1149h1.25M973 1188h1.25M932 1209h1.25M940 1203h1.25M1022 1156h1.25M998 1175h1.25M936 1205h1.25M993 1177h1.25M960 1199h1.25M946 1202h1.25M964 1196h1.25M1016 1160h1.25M1005 1162h1.25M1033 1150h1.25M1019 1152h1.25M941 1203h1.25M921 1213h1.25M990 1174h1.25M975 1186h1.25M952 1199h1.25M962 1195h1.25M945 1199h1.25M959 1196h1.25M991 1173h1.25M922 1213h1.25M950 1206h1.25M976 1186h1.25M953 1199h1.25M954 1200h1.25M984 1181h1.25M959 1197h1.25M986 1176h1.25M1020 1151h1.25M1009 1161h1.25M971 1185h1.25M972 1187h1.25M980 1181h1.25M983 1179h1.25M981 1181h1.25M1022 1151h1.25M1004 1171h1.25M1038 1141h1.25M944 1204h1.25M998 1165h1.25M1000 1166h1.25M952 1202h1.25M943 1203h1.25M1003 1163h1.25M961 1198h1.25M1012 1160h1.25M982 1178h1.25M931 1213h1.25M963 1191h1.25M993 1170h1.25M965 1197h1.25M937 1211h1.25M982 1183h1.25M992 1176h1.25M973 1185h1.25M1030 1150h1.25M1003 1166h1.25M963 1195h1.25M974 1186h1.25M928 1210h1.25M951 1197h1.25M993 1176h1.25M944 1209h1.25M996 1169h1.25M929 1210h1.25M994 1173h1.25M931 1209h1.25M1027 1153h1.25M974 1180h1.25M959 1195h1.25M985 1179h1.25M982 1176h1.25M974 1182h1.25M987 1177h1.25M994 1175h1.25M1003 1169h1.25M1000 1166h1.25M924 1217h1.25M967 1192h1.25M930 1209h1.25M969 1183h1.25M1020 1159h1.25M981 1182h1.25M979 1181h1.25M975 1179h1.25M974 1183h1.25M999 1172h1.25M925 1210h1.25M948 1199h1.25M950 1198h1.25M967 1193h1.25M967 1193h1.25M934 1209h1.25M1030 1148h1.25M964 1192h1.25M1017 1152h1.25M970 1190h1.25M959 1194h1.25M978 1178h1.25M970 1187h1.25M993 1167h1.25M1005 1165h1.25M1009 1164h1.25M1006 1162h1.25M990 1172h1.25M960 1197h1.25M1019 1151h1.25M964 1190h1.25M989 1173h1.25M994 1173h1.25M958 1202h1.25M925 1213h1.25M960 1191h1.25M976 1182h1.25M984 1182h1.25M1014 1154h1.25M1054 1128h1.25M1004 1163h1.25M1017 1153h1.25M990 1177h1.25M973 1189h1.25M1030 1144h1.25M973 1184h1.25M1014 1158h1.25M925 1208h1.25M999 1166h1.25M962 1191h1.25M960 1197h1.25M954 1195h1.25M1015 1159h1.25M998 1169h1.25M966 1190h1.25M968 1185h1.25M961 1194h1.25M930 1211h1.25M1003 1167h1.25M940 1204h1.25M939 1201h1.25M995 1173h1.25M991 1172h1.25M980 1187h1.25M947 1198h1.25M999 1171h1.25M955 1201h1.25M961 1193h1.25M990 1172h1.25M1020 1152h1.25M1035 1143h1.25M1002 1169h1.25M1032 1144h1.25M1000 1169h1.25M978 1179h1.25M969 1191h1.25M1027 1154h1.25M996 1172h1.25M975 1188h1.25M1005 1164h1.25M1041 1137h1.25M1035 1141h1.25M944 1209h1.25M1005 1165h1.25M995 1174h1.25M960 1197h1.25M995 1170h1.25M980 1186h1.25M964 1192h1.25M975 1189h1.25M933 1209h1.25M969 1192h1.25M1006 1165h1.25M974 1184h1.25M1012 1160h1.25M966 1192h1.25M977 1185h1.25M930 1211h1.25M978 1180h1.25M938 1206h1.25M977 1181h1.25M945 1202h1.25M964 1190h1.25M978 1181h1.25M989 1179h1.25M988 1172h1.25M1016 1163h1.25M946 1202h1.25M938 1203h1.25M984 1183h1.25M971 1187h1.25M988 1178h1.25M981 1180h1.25M1011 1158h1.25M1018 1159h1.25M995 1175h1.25M1009 1161h1.25M969 1191h1.25M935 1200h1.25M965 1194h1.25M956 1195h1.25M1004 1162h1.25M999 1175h1.25M966 1187h1.25M949 1202h1.25M953 1193h1.25M949 1199h1.25M1028 1145h1.25M1012 1165h1.25M968 1189h1.25M971 1181h1.25M980 1188h1.25M952 1195h1.25M984 1183h1.25M1027 1149h1.25M975 1185h1.25M977 1187h1.25M966 1194h1.25M996 1168h1.25M996 1173h1.25M999 1172h1.25M1047 1133h1.25M1000 1168h1.25M1022 1156h1.25M991 1179h1.25M1015 1160h1.25M1021 1159h1.25M963 1198h1.25M960 1201h1.25M1013 1162h1.25M991 1175h1.25M959 1196h1.25M1049 1133h1.25M987 1177h1.25M966 1196h1.25M939 1208h1.25M956 1201h1.25M1027 1152h1.25M997 1175h1.25M965 1194h1.25M968 1188h1.25M934 1214h1.25M952 1201h1.25M987 1174h1.25M988 1181h1.25M981 1184h1.25M1031 1149h1.25M940 1207h1.25M988 1176h1.25M1053 1133h1.25M920 1212h1.25M1034 1144h1.25M960 1191h1.25M935 1212h1.25M1007 1169h1.25M965 1188h1.25M952 1195h1.25M966 1194h1.25M953 1204h1.25M979 1182h1.25M998 1167h1.25M988 1177h1.25M972 1187h1.25M929 1210h1.25M982 1174h1.25M961 1193h1.25M1038 1138h1.25M996 1172h1.25M979 1182h1.25M1021 1154h1.25M959 1195h1.25M993 1170h1.25M976 1185h1.25M942 1202h1.25M951 1202h1.25M940 1208h1.25M976 1179h1.25M961 1196h1.25M992 1169h1.25M1007 1162h1.25M1010 1165h1.25M980 1179h1.25M940 1206h1.25M924 1213h1.25M1000 1167h1.25M1038 1145h1.25M998 1170h1.25M932 1208h1.25M1017 1155h1.25M938 1206h1.25M975 1182h1.25M1030 1148h1.25M978 1181h1.25M965 1194h1.25M1001 1165h1.25M1001 1165h1.25M928 1216h1.25M983 1175h1.25M997 1176h1.25M941 1200h1.25M992 1175h1.25M1014 1157h1.25M926 1212h1.25M1015 1158h1.25M939 1208h1.25M997 1170h1.25M967 1188h1.25M971 1182h1.25M927 1208h1.25M1013 1156h1.25M974 1184h1.25M975 1186h1.25M1023 1154h1.25M952 1206h1.25M1030 1149h1.25M935 1212h1.25M1041 1139h1.25M979 1179h1.25M1025 1152h1.25M1043 1141h1.25M959 1198h1.25M978 1185h1.25M1053 1132h1.25M1031 1149h1.25M944 1206h1.25M960 1199h1.25M929 1213h1.25M1014 1159h1.25M972 1187h1.25M1004 1169h1.25M966 1196h1.25M971 1187h1.25M968 1192h1.25M958 1197h1.25M1021 1157h1.25M958 1196h1.25M1026 1147h1.25M961 1193h1.25M1044 1139h1.25M972 1186h1.25M934 1208h1.25M951 1196h1.25M984 1177h1.25M1008 1162h1.25M969 1185h1.25M975 1180h1.25M965 1189h1.25M1005 1167h1.25M975 1184h1.25M937 1206h1.25M1002 1164h1.25M933 1210h1.25M1007 1167h1.25M949 1195h1.25M976 1184h1.25M983 1182h1.25M1007 1167h1.25M975 1183h1.25M977 1182h1.25M997 1168h1.25M955 1196h1.25M954 1198h1.25M950 1195h1.25M953 1200h1.25M1037 1144h1.25M951 1199h1.25M985 1176h1.25M992 1174h1.25M1024 1149h1.25M1001 1169h1.25M956 1200h1.25M1016 1155h1.25M941 1207h1.25M998 1166h1.25M1001 1168h1.25M965 1189h1.25M970 1187h1.25M1040 1138h1.25M966 1194h1.25M976 1181h1.25M944 1201h1.25M955 1202h1.25M1007 1161h1.25M925 1210h1.25M1015 1158h1.25M996 1166h1.25M961 1196h1.25M970 1192h1.25M924 1213h1.25M958 1196h1.25M986 1176h1.25M1002 1164h1.25M951 1195h1.25M957 1190h1.25M986 1177h1.25M962 1195h1.25M1015 1163h1.25M964 1192h1.25M942 1211h1.25M1001 1168h1.25M989 1176h1.25M1023 1153h1.25M988 1178h1.25M961 1192h1.25M934 1208h1.25M957 1201h1.25M977 1186h1.25M968 1190h1.25M950 1198h1.25M1042 1143h1.25M984 1179h1.25M962 1191h1.25M967 1195h1.25M1025 1151h1.25M981 1178h1.25M942 1205h1.25M970 1192h1.25M994 1177h1.25M969 1188h1.25M941 1202h1.25M1005 1163h1.25M1003 1166h1.25M931 1208h1.25M995 1168h1.25M989 1172h1.25M1016 1158h1.25M930 1214h1.25M990 1173h1.25M959 1198h1.25M972 1186h1.25M955 1194h1.25M1027 1146h1.25M1011 1156h1.25M941 1205h1.25M955 1197h1.25M1014 1162h1.25M981 1186h1.25M965 1190h1.25M966 1192h1.25M1031 1144h1.25M980 1179h1.25M975 1188h1.25M1010 1167h1.25M991 1178h1.25M946 1203h1.25M978 1187h1.25M992 1179h1.25M922 1216h1.25M948 1207h1.25M1007 1164h1.25M1008 1163h1.25M962 1190h1.25M1042 1140h1.25M1015 1160h1.25M1005 1160h1.25M981 1186h1.25M1044 1138h1.25M960 1189h1.25M1030 1150h1.25M971 1188h1.25M983 1181h1.25M979 1182h1.25M1012 1162h1.25M967 1185h1.25M953 1203h1.25M1001 1166h1.25M935 1206h1.25M952 1197h1.25M937 1206h1.25M1030 1146h1.25M973 1188h1.25M943 1198h1.25M952 1195h1.25M1004 1166h1.25M994 1167h1.25M991 1179h1.25M1019 1159h1.25M932 1207h1.25M967 1190h1.25M962 1192h1.25M991 1171h1.25M973 1187h1.25M929 1206h1.25M988 1172h1.25M1007 1164h1.25M941 1201h1.25M964 1197h1.25M1037 1147h1.25M1016 1158h1.25M956 1194h1.25M958 1197h1.25M977 1181h1.25M979 1181h1.25M991 1174h1.25M969 1190h1.25M991 1169h1.25M1015 1163h1.25M993 1177h1.25M969 1189h1.25M994 1170h1.25M939 1206h1.25M1008 1163h1.25M928 1210h1.25M952 1199h1.25M1001 1172h1.25M986 1178h1.25M1027 1154h1.25M1007 1167h1.25M994 1168h1.25M1052 1132h1.25M982 1176h1.25M959 1194h1.25M1021 1151h1.25M963 1195h1.25M963 1192h1.25M936 1211h1.25M942 1208h1.25M1053 1132h1.25M994 1169h1.25M933 1211h1.25M970 1191h1.25M1009 1163h1.25M959 1190h1.25M1007 1166h1.25M962 1197h1.25M1013 1157h1.25M1039 1140h1.25M955 1204h1.25M961 1195h1.25M983 1177h1.25M1039 1142h1.25M958 1199h1.25M936 1204h1.25M928 1213h1.25M999 1166h1.25M933 1205h1.25M941 1203h1.25M980 1184h1.25M990 1176h1.25M972 1191h1.25M1045 1135h1.25M944 1206h1.25M968 1188h1.25M957 1194h1.25M963 1191h1.25M991 1178h1.25M1016 1159h1.25M1016 1162h1.25M982 1179h1.25M1041 1139h1.25M1008 1164h1.25M1019 1150h1.25M937 1202h1.25M964 1188h1.25M993 1178h1.25M1023 1150h1.25M964 1198h1.25M959 1196h1.25M929 1214h1.25M966 1193h1.25M951 1195h1.25M931 1214h1.25M1012 1159h1.25M980 1183h1.25M961 1193h1.25M991 1174h1.25M997 1170h1.25M1014 1162h1.25M973 1191h1.25M976 1185h1.25M962 1191h1.25M1031 1148h1.25M925 1213h1.25M986 1178h1.25M949 1202h1.25M986 1180h1.25M957 1194h1.25M951 1197h1.25M919 1213h1.25M944 1201h1.25M1047 1133h1.25M1057 1127h1.25M992 1175h1.25M988 1179h1.25M975 1189h1.25M940 1200h1.25M1004 1169h1.25M1001 1167h1.25M953 1199h1.25M991 1176h1.25M968 1190h1.25M995 1174h1.25M1028 1144h1.25M1028 1152h1.25M972 1192h1.25M1038 1141h1.25M972 1190h1.25M996 1168h1.25M984 1181h1.25" stroke="#fa0808" stroke-width="1.25" fill="none" opacity="0.85"/>
<polygon points="939.3,1205.9 953.2,1200.1 976.1,1186.1 997.9,1171.4 1019.6,1156.1 1019.0,1155.2 996.4,1169.3 974.4,1183.5 951.9,1197.8 939.0,1205.4" fill="#fa0808" opacity="0.4"/>
<path d="M870.2 1015.0H881.7M875.2 1057.8H881.7M875.2 1047.0H881.7M875.2 1039.4H881.7M875.2 1033.4H881.7M875.2 1028.6H881.7M875.2 1024.5H881.7M875.2 1020.9H881.7M875.2 1017.8H881.7M870.2 1076.2H881.7M875.2 1119.0H881.7M875.2 1108.3H881.7M875.2 1100.6H881.7M875.2 1094.7H881.7M875.2 1089.8H881.7M875.2 1085.7H881.7M875.2 1082.2H881.7M875.2 1079.0H881.7M870.2 1137.5H881.7M875.2 1180.3H881.7M875.2 1169.5H881.7M875.2 1161.8H881.7M875.2 1155.9H881.7M875.2 1151.1H881.7M875.2 1147.0H881.7M875.2 1143.4H881.7M875.2 1140.3H881.7M870.2 1198.7H881.7M875.2 1241.5H881.7M875.2 1230.7H881.7M875.2 1223.1H881.7M875.2 1217.1H881.7M875.2 1212.3H881.7M875.2 1208.2H881.7M875.2 1204.6H881.7M875.2 1201.5H881.7" stroke="#2a2a2a" stroke-width="1.3" fill="none"/>
<path d="M905.3 1258.0v5.5M919.1 1258.0v5.5M928.9 1258.0v5.5M936.6 1258.0v5.5M942.8 1258.0v5.5M948.0 1258.0v5.5M952.6 1258.0v5.5M956.6 1258.0v5.5M983.8 1258.0v5.5M997.6 1258.0v5.5M1007.4 1258.0v5.5M1015.0 1258.0v5.5M1021.2 1258.0v5.5M1026.5 1258.0v5.5M1031.0 1258.0v5.5M1035.1 1258.0v5.5M1062.3 1258.0v5.5M1076.1 1258.0v5.5M1085.9 1258.0v5.5M1093.5 1258.0v5.5M1099.7 1258.0v5.5M1105.0 1258.0v5.5M1109.5 1258.0v5.5M1113.5 1258.0v5.5M1140.7 1258.0v5.5M1154.6 1258.0v5.5M1164.4 1258.0v5.5M1172.0 1258.0v5.5M1178.2 1258.0v5.5M1183.4 1258.0v5.5M1188.0 1258.0v5.5M1192.0 1258.0v5.5" stroke="#111" stroke-width="4.1" fill="none"/>
<path d="M960.2 1258.0v9.5M1038.7 1258.0v9.5M1117.1 1258.0v9.5M1195.6 1258.0v9.5" stroke="#111" stroke-width="4.1" fill="none"/>
<path d="M881.7 1015.0H1195.6V1258.0M1037.4 1015.0V1258.0" stroke="#1a1a1a" stroke-width="1.4" fill="none"/>
<path d="M881.7 1014.4V1258.0" stroke="#111" stroke-width="1.8" fill="none"/>
<path d="M880.8 1258.0H1196.3" stroke="#111" stroke-width="2" fill="none"/>
<text x="868.2" y="1206.4" font-size="16.2" font-weight="bold" text-anchor="end" fill="#1a1a1a">10<tspan font-size="12.5" font-weight="normal" dy="-6.3">0</tspan></text>
<text transform="translate(952.0 1278.2) scale(.87 1)" font-size="16.5" font-weight="bold" fill="#1a1a1a">10<tspan font-size="13" font-weight="normal" dy="-3.6">0</tspan></text>
<text x="868.2" y="1145.2" font-size="16.2" font-weight="bold" text-anchor="end" fill="#1a1a1a">10<tspan font-size="12.5" font-weight="normal" dy="-6.3">1</tspan></text>
<text transform="translate(1030.5 1278.2) scale(.87 1)" font-size="16.5" font-weight="bold" fill="#1a1a1a">10<tspan font-size="13" font-weight="normal" dy="-3.6">1</tspan></text>
<text x="868.2" y="1083.9" font-size="16.2" font-weight="bold" text-anchor="end" fill="#1a1a1a">10<tspan font-size="12.5" font-weight="normal" dy="-6.3">2</tspan></text>
<text transform="translate(1108.9 1278.2) scale(.87 1)" font-size="16.5" font-weight="bold" fill="#1a1a1a">10<tspan font-size="13" font-weight="normal" dy="-3.6">2</tspan></text>
<text x="868.2" y="1022.7" font-size="16.2" font-weight="bold" text-anchor="end" fill="#1a1a1a">10<tspan font-size="12.5" font-weight="normal" dy="-6.3">3</tspan></text>
<text transform="translate(1187.4 1278.2) scale(.87 1)" font-size="16.5" font-weight="bold" fill="#1a1a1a">10<tspan font-size="13" font-weight="normal" dy="-3.6">3</tspan></text>
<text x="1040.5" y="1311.0" font-size="17.5" font-weight="bold" text-anchor="middle" fill="#1a1a1a">DCF-DA 525nm</text>
<text transform="translate(820.7 1138.5) rotate(-90)" font-size="17" font-weight="bold" text-anchor="middle" fill="#1a1a1a">FL3 log</text>
<text x="881.6" y="1038.0" font-size="18.5" font-weight="bold" fill="#1a1a1a">E1</text>
<text x="886.1" y="1062.0" font-size="19.2" font-weight="bold" fill="#1a1a1a" xml:space="preserve">91.5%</text>
<text x="1037.2" y="1038.0" font-size="18.5" font-weight="bold" fill="#1a1a1a">E2</text>
<text x="1042.8" y="1062.0" font-size="19.2" font-weight="bold" fill="#1a1a1a" xml:space="preserve"> 8.5%</text>
<text x="1037.8" y="995.0" font-size="23.4" text-anchor="middle" xml:space="preserve"></text>
</g>
<g id="plot9">
<g filter="url(#bl)" clip-path="url(#cp108)">
<clipPath id="cp108"><rect x="1300.0" y="1015.4" width="310.8" height="239.6"/></clipPath>
<polygon points="1305.1,1252.6 1310.6,1248.6 1295.4,1226.2 1289.5,1229.8" fill="#fa0808" opacity="0.23"/>
<polygon points="1310.1,1248.9 1315.6,1244.8 1300.7,1222.9 1294.8,1226.5" fill="#fa0808" opacity="0.24"/>
<polygon points="1315.1,1245.2 1320.6,1241.1 1306.0,1219.6 1300.1,1223.2" fill="#fa0808" opacity="0.24"/>
<polygon points="1320.1,1241.5 1325.6,1237.4 1311.3,1216.3 1305.4,1219.9" fill="#fa0808" opacity="0.25"/>
<polygon points="1325.1,1237.8 1330.6,1233.7 1316.5,1213.0 1310.7,1216.6" fill="#fa0808" opacity="0.25"/>
<polygon points="1329.3,1234.6 1335.1,1229.9 1323.8,1210.2 1316.8,1212.8" fill="#fa0808" opacity="0.24"/>
<polygon points="1334.8,1230.2 1340.6,1225.5 1330.4,1207.7 1323.4,1210.3" fill="#fa0808" opacity="0.20"/>
<polygon points="1340.2,1225.8 1346.0,1221.1 1336.9,1205.2 1330.0,1207.8" fill="#fa0808" opacity="0.16"/>
<polygon points="1345.8,1221.3 1351.7,1217.0 1343.0,1202.3 1336.4,1205.4" fill="#fa0808" opacity="0.13"/>
<polygon points="1351.1,1217.5 1357.0,1213.1 1348.9,1199.6 1342.3,1202.7" fill="#fa0808" opacity="0.13"/>
<polygon points="1356.3,1213.6 1362.2,1209.3 1354.8,1196.8 1348.2,1199.9" fill="#fa0808" opacity="0.13"/>
<polygon points="1361.6,1209.8 1367.5,1205.4 1360.7,1194.0 1354.1,1197.1" fill="#fa0808" opacity="0.12"/>
<polygon points="1366.9,1205.9 1372.8,1201.6 1366.7,1191.3 1360.0,1194.4" fill="#fa0808" opacity="0.12"/>
<polygon points="1372.1,1202.1 1378.0,1197.8 1372.6,1188.5 1365.9,1191.6" fill="#fa0808" opacity="0.11"/>
<polygon points="1377.4,1198.2 1383.9,1193.4 1379.2,1185.4 1371.9,1188.8" fill="#fa0808" opacity="0.13"/>
<polygon points="1383.5,1193.8 1390.0,1189.0 1386.0,1182.2 1378.7,1185.7" fill="#fa0808" opacity="0.18"/>
<polygon points="1389.5,1189.4 1396.1,1184.6 1392.8,1179.1 1385.5,1182.5" fill="#fa0808" opacity="0.25"/>
<polygon points="1395.6,1184.9 1402.2,1180.1 1399.7,1175.9 1392.3,1179.3" fill="#fa0808" opacity="0.36"/>
<polygon points="1401.7,1180.5 1407.3,1176.9 1404.8,1172.8 1399.1,1176.2" fill="#fa0808" opacity="0.44"/>
<polygon points="1406.8,1177.2 1412.4,1173.6 1410.0,1169.6 1404.3,1173.1" fill="#fa0808" opacity="0.47"/>
<polygon points="1411.9,1173.9 1417.6,1170.3 1415.2,1166.5 1409.5,1169.9" fill="#fa0808" opacity="0.51"/>
<polygon points="1417.0,1170.7 1422.7,1167.1 1420.4,1163.4 1414.7,1166.8" fill="#fa0808" opacity="0.54"/>
<polygon points="1422.2,1167.4 1427.8,1163.8 1425.6,1160.3 1419.9,1163.7" fill="#fa0808" opacity="0.58"/>
<polygon points="1427.3,1164.1 1432.9,1160.6 1430.7,1157.1 1425.1,1160.6" fill="#fa0808" opacity="0.59"/>
<polygon points="1432.4,1160.9 1438.1,1157.4 1435.9,1153.9 1430.2,1157.4" fill="#fa0808" opacity="0.57"/>
<polygon points="1437.6,1157.7 1443.2,1154.2 1441.0,1150.7 1435.4,1154.2" fill="#fa0808" opacity="0.55"/>
<polygon points="1442.7,1154.5 1448.4,1151.0 1446.2,1147.5 1440.5,1151.0" fill="#fa0808" opacity="0.54"/>
<polygon points="1447.9,1151.3 1453.6,1147.8 1451.3,1144.3 1445.7,1147.8" fill="#fa0808" opacity="0.52"/>
<polygon points="1453.2,1148.1 1458.8,1144.0 1456.4,1140.6 1450.7,1144.7" fill="#fa0808" opacity="0.47"/>
<polygon points="1458.3,1144.4 1464.0,1140.3 1461.5,1136.9 1455.9,1141.0" fill="#fa0808" opacity="0.41"/>
<polygon points="1463.5,1140.6 1469.1,1136.6 1466.7,1133.2 1461.0,1137.3" fill="#fa0808" opacity="0.34"/>
<polygon points="1468.6,1136.9 1474.3,1132.9 1471.8,1129.5 1466.2,1133.5" fill="#fa0808" opacity="0.27"/>
<polygon points="1473.8,1133.2 1479.4,1129.1 1477.0,1125.7 1471.3,1129.8" fill="#fa0808" opacity="0.20"/>
<polygon points="1479.0,1129.5 1485.2,1124.5 1482.8,1121.4 1476.4,1126.2" fill="#fa0808" opacity="0.15"/>
<polygon points="1484.7,1124.9 1490.9,1119.9 1488.6,1117.0 1482.3,1121.7" fill="#fa0808" opacity="0.12"/>
<polygon points="1490.5,1120.3 1496.7,1115.3 1494.5,1112.5 1488.1,1117.3" fill="#fa0808" opacity="0.08"/>
<polygon points="1496.2,1115.7 1502.4,1110.7 1500.3,1108.1 1494.0,1112.9" fill="#fa0808" opacity="0.04"/>
</g>
<path d="M1429 1156h1.25M1346 1224h1.25M1355 1218h1.25M1324 1252h1.25M1334 1248h1.25M1328 1246h1.25M1336 1203h1.25M1351 1197h1.25M1361 1192h1.25M1379 1198h1.25M1379 1181h1.25M1446 1155h1.25M1351 1196h1.25M1352 1195h1.25M1306 1211h1.25M1379 1199h1.25M1381 1201h1.25M1484 1119h1.25M1316 1199h1.25M1431 1153h1.25M1374 1202h1.25M1499 1111h1.25M1345 1225h1.25M1307 1210h1.25M1422 1160h1.25M1412 1166h1.25M1333 1203h1.25M1456 1148h1.25M1362 1219h1.25M1385 1179h1.25M1331 1204h1.25M1335 1244h1.25M1336 1245h1.25M1482 1128h1.25M1372 1204h1.25M1427 1157h1.25M1351 1224h1.25M1329 1202h1.25M1354 1220h1.25M1371 1205h1.25M1418 1162h1.25M1325 1251h1.25M1402 1172h1.25M1331 1243h1.25M1327 1247h1.25M1376 1200h1.25M1455 1150h1.25M1469 1139h1.25M1349 1230h1.25M1402 1183h1.25M1331 1204h1.25M1346 1225h1.25M1332 1198h1.25M1436 1152h1.25M1306 1209h1.25M1360 1193h1.25M1301 1213h1.25M1370 1212h1.25M1394 1176h1.25M1330 1194h1.25M1350 1223h1.25M1357 1215h1.25M1370 1211h1.25M1358 1238h1.25M1490 1121h1.25M1403 1171h1.25M1348 1225h1.25M1339 1242h1.25M1345 1239h1.25M1333 1251h1.25M1369 1205h1.25M1367 1190h1.25M1303 1209h1.25M1394 1175h1.25M1337 1200h1.25M1343 1235h1.25M1408 1179h1.25M1344 1229h1.25M1325 1201h1.25M1314 1200h1.25M1337 1236h1.25M1373 1204h1.25M1346 1197h1.25M1347 1199h1.25M1385 1180h1.25M1363 1210h1.25M1353 1193h1.25M1344 1231h1.25" stroke="#fa0808" stroke-width="1.25" fill="none" opacity="0.33"/>
<path d="M1487 1121h1.25M1481 1127h1.25M1311 1248h1.25M1489 1118h1.25M1487 1122h1.25M1342 1207h1.25M1486 1120h1.25M1351 1209h1.25M1354 1210h1.25M1354 1209h1.25M1316 1210h1.25M1338 1223h1.25M1318 1248h1.25M1372 1190h1.25M1380 1188h1.25M1433 1155h1.25M1318 1246h1.25M1363 1206h1.25M1368 1200h1.25M1321 1211h1.25M1380 1194h1.25M1491 1119h1.25M1479 1130h1.25M1333 1239h1.25M1305 1251h1.25M1436 1153h1.25M1329 1233h1.25M1335 1233h1.25M1322 1239h1.25M1335 1235h1.25M1341 1210h1.25M1466 1139h1.25M1371 1194h1.25M1337 1230h1.25M1361 1198h1.25M1347 1202h1.25M1342 1203h1.25M1366 1198h1.25M1483 1123h1.25M1363 1193h1.25M1304 1220h1.25M1310 1252h1.25M1382 1185h1.25M1312 1215h1.25M1364 1206h1.25M1423 1160h1.25M1382 1195h1.25M1324 1237h1.25M1351 1219h1.25M1388 1181h1.25M1449 1151h1.25M1361 1202h1.25M1340 1208h1.25M1363 1198h1.25M1332 1237h1.25M1484 1124h1.25M1426 1167h1.25M1367 1207h1.25M1315 1214h1.25M1353 1204h1.25M1356 1200h1.25M1345 1215h1.25M1330 1235h1.25M1479 1130h1.25M1362 1201h1.25M1490 1120h1.25M1374 1194h1.25M1492 1119h1.25M1354 1200h1.25M1402 1181h1.25M1355 1205h1.25M1361 1208h1.25M1357 1213h1.25M1337 1205h1.25M1342 1220h1.25M1341 1210h1.25M1310 1219h1.25M1315 1214h1.25M1473 1134h1.25M1310 1216h1.25M1340 1207h1.25M1343 1218h1.25M1308 1248h1.25M1316 1251h1.25M1316 1210h1.25M1308 1218h1.25M1343 1225h1.25M1331 1231h1.25M1357 1206h1.25M1338 1211h1.25M1342 1206h1.25M1309 1214h1.25M1321 1241h1.25M1357 1205h1.25M1431 1164h1.25M1305 1215h1.25M1396 1185h1.25M1438 1152h1.25M1372 1190h1.25M1364 1205h1.25M1329 1234h1.25M1371 1196h1.25M1376 1191h1.25M1457 1147h1.25M1326 1236h1.25M1397 1185h1.25M1371 1198h1.25M1392 1179h1.25M1354 1208h1.25M1332 1211h1.25M1373 1196h1.25M1338 1208h1.25M1488 1120h1.25M1307 1213h1.25M1349 1215h1.25M1364 1201h1.25M1344 1207h1.25M1314 1250h1.25M1464 1141h1.25M1380 1195h1.25M1331 1237h1.25M1343 1218h1.25M1485 1121h1.25M1328 1236h1.25M1349 1205h1.25M1303 1215h1.25M1332 1208h1.25M1308 1253h1.25M1309 1215h1.25M1302 1223h1.25M1338 1208h1.25M1338 1211h1.25M1337 1209h1.25M1398 1184h1.25M1344 1204h1.25M1305 1222h1.25M1303 1219h1.25M1342 1220h1.25M1437 1152h1.25M1346 1208h1.25M1373 1193h1.25M1364 1198h1.25M1322 1209h1.25M1348 1221h1.25M1362 1198h1.25M1314 1244h1.25M1405 1172h1.25M1361 1206h1.25M1364 1195h1.25M1350 1198h1.25M1361 1194h1.25M1327 1236h1.25M1365 1202h1.25M1311 1246h1.25M1327 1207h1.25M1336 1206h1.25M1346 1215h1.25M1350 1219h1.25M1314 1247h1.25M1345 1209h1.25M1389 1182h1.25M1332 1208h1.25M1350 1205h1.25M1322 1212h1.25M1334 1231h1.25M1327 1234h1.25M1473 1128h1.25M1344 1223h1.25M1306 1219h1.25M1338 1226h1.25M1480 1129h1.25M1334 1208h1.25M1387 1190h1.25M1352 1217h1.25M1445 1154h1.25M1325 1244h1.25M1318 1243h1.25M1483 1123h1.25M1399 1174h1.25M1343 1218h1.25M1355 1203h1.25M1335 1236h1.25M1485 1124h1.25M1454 1148h1.25M1333 1231h1.25M1421 1170h1.25M1349 1202h1.25M1332 1209h1.25M1347 1206h1.25M1306 1221h1.25M1374 1195h1.25M1311 1247h1.25M1365 1198h1.25M1346 1216h1.25M1325 1237h1.25M1375 1189h1.25M1366 1206h1.25M1341 1208h1.25M1340 1202h1.25M1313 1245h1.25M1420 1163h1.25M1306 1220h1.25M1327 1211h1.25M1388 1191h1.25M1327 1238h1.25M1378 1193h1.25M1346 1208h1.25M1374 1193h1.25M1333 1230h1.25M1393 1186h1.25M1302 1217h1.25M1330 1236h1.25M1351 1201h1.25M1353 1215h1.25M1385 1184h1.25M1390 1188h1.25M1397 1185h1.25M1395 1186h1.25M1306 1250h1.25M1347 1216h1.25M1343 1216h1.25M1369 1190h1.25M1483 1126h1.25M1377 1195h1.25M1331 1211h1.25M1346 1204h1.25M1343 1222h1.25M1332 1234h1.25M1386 1190h1.25M1373 1197h1.25M1312 1213h1.25M1469 1131h1.25M1364 1199h1.25M1397 1176h1.25M1462 1136h1.25M1336 1207h1.25M1361 1200h1.25M1329 1211h1.25M1369 1201h1.25M1336 1227h1.25M1308 1212h1.25M1301 1223h1.25M1310 1249h1.25M1309 1251h1.25M1314 1251h1.25M1304 1251h1.25M1377 1188h1.25M1370 1202h1.25M1449 1152h1.25M1363 1199h1.25M1324 1211h1.25M1339 1208h1.25M1377 1198h1.25M1332 1233h1.25M1406 1171h1.25M1341 1220h1.25M1427 1166h1.25M1485 1120h1.25M1330 1233h1.25M1352 1205h1.25M1342 1221h1.25M1331 1236h1.25M1304 1217h1.25M1332 1209h1.25M1314 1245h1.25M1333 1232h1.25M1311 1214h1.25M1371 1194h1.25M1445 1155h1.25M1372 1190h1.25M1340 1224h1.25M1339 1209h1.25M1317 1211h1.25M1344 1209h1.25M1365 1197h1.25M1315 1244h1.25M1363 1204h1.25M1343 1218h1.25M1331 1231h1.25M1485 1122h1.25M1327 1236h1.25M1345 1207h1.25M1381 1195h1.25M1326 1236h1.25M1421 1161h1.25M1356 1210h1.25M1460 1144h1.25M1380 1193h1.25M1434 1154h1.25M1377 1191h1.25M1367 1199h1.25M1344 1208h1.25M1378 1190h1.25M1306 1216h1.25M1324 1212h1.25M1375 1196h1.25M1319 1246h1.25M1362 1198h1.25M1482 1127h1.25M1377 1196h1.25M1354 1209h1.25M1368 1194h1.25M1317 1209h1.25M1301 1216h1.25M1346 1216h1.25M1348 1212h1.25M1358 1196h1.25M1456 1147h1.25M1320 1213h1.25M1362 1203h1.25M1335 1211h1.25M1332 1206h1.25M1352 1208h1.25M1482 1127h1.25M1417 1164h1.25M1307 1221h1.25M1319 1242h1.25M1318 1242h1.25M1348 1201h1.25M1309 1250h1.25M1363 1196h1.25M1340 1202h1.25M1356 1200h1.25M1349 1208h1.25M1352 1208h1.25M1315 1247h1.25M1340 1230h1.25M1335 1210h1.25M1361 1203h1.25M1387 1190h1.25M1301 1216h1.25M1366 1196h1.25M1361 1202h1.25M1487 1122h1.25M1493 1116h1.25M1302 1222h1.25M1329 1208h1.25M1367 1199h1.25M1312 1215h1.25M1480 1123h1.25M1334 1204h1.25M1357 1214h1.25M1383 1184h1.25M1397 1184h1.25M1492 1116h1.25M1358 1213h1.25M1390 1179h1.25M1337 1227h1.25M1420 1171h1.25M1361 1205h1.25M1483 1122h1.25M1306 1216h1.25M1432 1155h1.25M1339 1207h1.25M1374 1194h1.25M1352 1209h1.25M1365 1199h1.25M1463 1142h1.25M1455 1141h1.25M1329 1241h1.25M1351 1202h1.25M1323 1238h1.25M1311 1216h1.25M1379 1194h1.25M1317 1245h1.25M1348 1203h1.25M1493 1115h1.25M1335 1206h1.25M1477 1125h1.25M1339 1223h1.25M1368 1200h1.25M1348 1204h1.25M1312 1215h1.25M1321 1212h1.25M1342 1207h1.25M1367 1202h1.25M1335 1209h1.25M1392 1179h1.25M1319 1246h1.25M1328 1206h1.25M1369 1196h1.25M1359 1203h1.25M1348 1216h1.25M1408 1178h1.25M1311 1216h1.25M1425 1166h1.25M1359 1206h1.25M1339 1222h1.25M1350 1209h1.25M1342 1208h1.25M1365 1202h1.25M1339 1222h1.25M1359 1212h1.25M1374 1193h1.25M1358 1198h1.25M1323 1240h1.25M1309 1219h1.25M1432 1163h1.25M1339 1223h1.25M1342 1225h1.25M1470 1137h1.25M1340 1208h1.25M1460 1137h1.25M1301 1218h1.25M1473 1134h1.25" stroke="#fa0808" stroke-width="1.25" fill="none" opacity="0.58"/>
<path d="M1315 1222h1.25M1306 1242h1.25M1305 1241h1.25M1395 1179h1.25M1458 1144h1.25M1379 1190h1.25M1320 1231h1.25M1313 1224h1.25M1411 1170h1.25M1412 1169h1.25M1315 1237h1.25M1322 1221h1.25M1430 1162h1.25M1301 1227h1.25M1469 1136h1.25M1324 1220h1.25M1405 1175h1.25M1389 1181h1.25M1401 1176h1.25M1433 1161h1.25M1301 1240h1.25M1438 1155h1.25M1476 1128h1.25M1325 1213h1.25M1435 1156h1.25M1417 1169h1.25M1315 1232h1.25M1440 1152h1.25M1419 1166h1.25M1434 1159h1.25M1305 1237h1.25M1455 1145h1.25M1323 1236h1.25M1305 1233h1.25M1334 1224h1.25M1441 1152h1.25M1312 1222h1.25M1329 1221h1.25M1323 1231h1.25M1397 1182h1.25M1304 1234h1.25M1313 1225h1.25M1309 1241h1.25M1434 1157h1.25M1304 1237h1.25M1395 1185h1.25M1397 1183h1.25M1315 1229h1.25M1328 1220h1.25M1452 1145h1.25M1305 1227h1.25M1424 1165h1.25M1443 1151h1.25M1318 1239h1.25M1431 1159h1.25M1414 1170h1.25M1330 1228h1.25M1327 1228h1.25M1322 1219h1.25M1424 1165h1.25M1331 1213h1.25M1315 1234h1.25M1323 1220h1.25M1401 1179h1.25M1430 1162h1.25M1479 1126h1.25M1307 1246h1.25M1315 1230h1.25M1422 1163h1.25M1418 1169h1.25M1311 1239h1.25M1318 1217h1.25M1335 1225h1.25M1306 1248h1.25M1439 1152h1.25M1331 1217h1.25M1311 1219h1.25M1466 1134h1.25M1338 1211h1.25M1303 1247h1.25M1419 1168h1.25M1302 1236h1.25M1331 1224h1.25M1315 1239h1.25M1409 1173h1.25M1392 1184h1.25M1413 1174h1.25M1309 1228h1.25M1386 1185h1.25M1301 1238h1.25M1441 1156h1.25M1426 1162h1.25M1328 1225h1.25M1430 1160h1.25M1311 1238h1.25M1320 1231h1.25M1432 1160h1.25M1392 1183h1.25M1441 1151h1.25M1326 1221h1.25M1404 1173h1.25M1445 1154h1.25M1447 1151h1.25M1317 1221h1.25M1313 1219h1.25M1302 1237h1.25M1416 1168h1.25M1464 1136h1.25M1302 1242h1.25M1314 1234h1.25M1319 1218h1.25M1392 1184h1.25M1341 1216h1.25M1412 1168h1.25M1316 1239h1.25M1444 1151h1.25M1401 1177h1.25M1392 1184h1.25M1325 1228h1.25M1322 1227h1.25M1418 1167h1.25M1383 1186h1.25M1436 1157h1.25M1318 1226h1.25M1305 1249h1.25M1329 1216h1.25M1401 1178h1.25M1449 1150h1.25M1319 1228h1.25M1338 1217h1.25M1310 1235h1.25M1321 1215h1.25M1310 1224h1.25M1424 1163h1.25M1306 1248h1.25M1335 1212h1.25M1322 1231h1.25M1455 1142h1.25M1328 1228h1.25M1315 1237h1.25M1409 1173h1.25M1417 1167h1.25M1334 1212h1.25M1315 1219h1.25M1308 1238h1.25M1306 1248h1.25M1314 1223h1.25M1444 1151h1.25M1398 1179h1.25M1442 1153h1.25M1417 1168h1.25M1343 1213h1.25M1469 1136h1.25M1433 1157h1.25M1461 1140h1.25M1394 1183h1.25M1479 1127h1.25M1321 1219h1.25M1423 1163h1.25M1428 1162h1.25M1306 1224h1.25M1451 1146h1.25M1301 1227h1.25M1317 1227h1.25M1340 1216h1.25M1346 1210h1.25M1328 1212h1.25M1318 1223h1.25M1402 1179h1.25M1404 1174h1.25M1314 1221h1.25M1400 1178h1.25M1307 1241h1.25M1322 1222h1.25M1453 1146h1.25M1320 1237h1.25M1302 1245h1.25M1417 1167h1.25M1452 1145h1.25M1319 1237h1.25M1313 1226h1.25M1317 1229h1.25M1306 1240h1.25M1315 1225h1.25M1304 1247h1.25M1456 1141h1.25M1326 1232h1.25M1431 1161h1.25M1316 1231h1.25M1409 1175h1.25M1332 1222h1.25M1401 1177h1.25M1313 1225h1.25M1325 1233h1.25M1339 1219h1.25M1422 1166h1.25M1328 1221h1.25M1310 1228h1.25M1420 1168h1.25M1420 1166h1.25M1303 1246h1.25M1304 1229h1.25M1311 1227h1.25M1445 1152h1.25M1325 1224h1.25M1462 1137h1.25M1445 1150h1.25M1460 1139h1.25M1390 1186h1.25M1315 1220h1.25M1327 1218h1.25M1447 1149h1.25M1432 1156h1.25M1318 1231h1.25M1395 1178h1.25M1431 1160h1.25M1320 1236h1.25M1334 1224h1.25M1462 1138h1.25M1389 1186h1.25M1391 1182h1.25M1307 1248h1.25M1324 1232h1.25M1316 1233h1.25M1311 1222h1.25M1311 1230h1.25M1308 1234h1.25M1326 1212h1.25M1409 1175h1.25M1459 1142h1.25M1429 1160h1.25M1322 1227h1.25M1443 1152h1.25M1423 1164h1.25M1442 1153h1.25M1379 1191h1.25M1446 1150h1.25M1390 1183h1.25M1303 1240h1.25M1439 1155h1.25M1433 1160h1.25M1308 1235h1.25M1455 1143h1.25M1426 1162h1.25M1410 1174h1.25M1439 1155h1.25M1312 1231h1.25M1453 1145h1.25M1303 1237h1.25M1310 1230h1.25M1444 1150h1.25M1305 1230h1.25M1316 1240h1.25M1426 1160h1.25M1303 1243h1.25M1431 1156h1.25M1312 1236h1.25M1324 1222h1.25M1415 1170h1.25M1421 1167h1.25M1309 1233h1.25M1335 1227h1.25M1424 1166h1.25M1480 1126h1.25M1482 1125h1.25M1312 1219h1.25M1313 1241h1.25M1414 1167h1.25M1327 1227h1.25M1457 1143h1.25M1332 1225h1.25M1303 1243h1.25M1442 1154h1.25M1304 1234h1.25M1436 1159h1.25M1302 1242h1.25M1402 1176h1.25M1439 1153h1.25M1415 1170h1.25M1306 1244h1.25M1304 1249h1.25M1318 1224h1.25M1449 1148h1.25M1302 1229h1.25M1304 1242h1.25M1435 1158h1.25M1447 1146h1.25M1316 1232h1.25M1449 1148h1.25M1307 1235h1.25M1450 1147h1.25M1411 1171h1.25M1310 1239h1.25M1307 1243h1.25M1453 1143h1.25M1323 1214h1.25M1308 1238h1.25M1311 1237h1.25M1415 1171h1.25M1337 1215h1.25M1442 1154h1.25M1321 1229h1.25M1318 1232h1.25M1413 1173h1.25M1434 1155h1.25M1301 1240h1.25M1439 1155h1.25M1330 1221h1.25M1453 1147h1.25M1463 1137h1.25M1455 1146h1.25M1422 1164h1.25M1431 1159h1.25M1422 1169h1.25M1419 1168h1.25M1435 1155h1.25M1397 1183h1.25M1329 1223h1.25M1454 1146h1.25M1417 1169h1.25M1331 1226h1.25M1422 1167h1.25M1412 1169h1.25M1433 1160h1.25M1307 1239h1.25M1428 1164h1.25M1327 1227h1.25M1308 1220h1.25M1403 1175h1.25M1444 1151h1.25M1420 1168h1.25M1328 1214h1.25M1462 1141h1.25M1317 1238h1.25M1322 1228h1.25M1321 1214h1.25M1302 1240h1.25M1469 1135h1.25M1332 1211h1.25M1443 1154h1.25M1317 1228h1.25M1308 1246h1.25M1310 1222h1.25M1316 1236h1.25M1453 1143h1.25M1441 1155h1.25M1417 1169h1.25M1303 1230h1.25M1396 1180h1.25M1325 1229h1.25M1312 1224h1.25M1392 1183h1.25M1329 1220h1.25M1312 1225h1.25M1425 1163h1.25M1324 1216h1.25M1455 1145h1.25M1335 1226h1.25M1310 1227h1.25M1310 1237h1.25M1308 1237h1.25M1315 1233h1.25M1405 1175h1.25M1444 1152h1.25M1395 1184h1.25M1410 1173h1.25M1460 1138h1.25M1319 1236h1.25M1399 1181h1.25M1455 1143h1.25M1324 1229h1.25M1390 1184h1.25M1449 1150h1.25M1404 1178h1.25M1327 1228h1.25M1462 1140h1.25M1413 1169h1.25M1322 1233h1.25M1391 1184h1.25M1447 1148h1.25M1397 1179h1.25M1316 1226h1.25M1472 1131h1.25M1477 1127h1.25M1397 1177h1.25M1424 1162h1.25M1437 1157h1.25M1435 1156h1.25M1456 1143h1.25M1436 1156h1.25M1305 1234h1.25M1403 1174h1.25M1318 1221h1.25M1318 1228h1.25M1423 1163h1.25M1331 1215h1.25M1481 1127h1.25M1397 1183h1.25M1315 1218h1.25M1466 1138h1.25M1382 1190h1.25M1430 1162h1.25M1328 1218h1.25M1317 1217h1.25M1334 1211h1.25M1431 1157h1.25M1432 1158h1.25M1426 1162h1.25M1307 1224h1.25M1307 1233h1.25M1466 1136h1.25M1327 1222h1.25M1405 1174h1.25M1335 1219h1.25M1322 1233h1.25M1430 1162h1.25M1328 1227h1.25M1418 1165h1.25M1315 1227h1.25M1415 1170h1.25M1305 1225h1.25M1324 1213h1.25M1437 1158h1.25M1332 1218h1.25M1404 1176h1.25M1440 1153h1.25M1443 1153h1.25M1307 1243h1.25M1401 1177h1.25M1423 1165h1.25M1301 1239h1.25M1304 1243h1.25M1445 1152h1.25M1313 1235h1.25M1466 1137h1.25M1312 1230h1.25M1305 1238h1.25M1443 1152h1.25M1328 1220h1.25M1427 1161h1.25M1308 1246h1.25M1422 1166h1.25M1311 1226h1.25M1415 1167h1.25M1305 1232h1.25M1424 1166h1.25M1309 1241h1.25M1413 1173h1.25M1317 1222h1.25M1408 1175h1.25M1314 1232h1.25M1431 1162h1.25M1314 1229h1.25M1432 1157h1.25M1402 1178h1.25M1407 1173h1.25M1385 1184h1.25M1447 1147h1.25M1469 1134h1.25M1406 1172h1.25M1322 1236h1.25M1407 1176h1.25M1333 1215h1.25M1323 1232h1.25M1449 1151h1.25M1425 1162h1.25M1313 1239h1.25M1447 1151h1.25M1327 1213h1.25M1393 1182h1.25M1449 1147h1.25M1413 1173h1.25M1438 1156h1.25M1301 1230h1.25M1413 1169h1.25M1427 1160h1.25M1339 1222h1.25M1315 1227h1.25M1315 1223h1.25M1427 1163h1.25M1407 1173h1.25M1332 1213h1.25M1318 1227h1.25M1323 1216h1.25M1311 1224h1.25M1414 1172h1.25M1323 1217h1.25M1308 1224h1.25M1307 1226h1.25M1329 1228h1.25M1423 1164h1.25M1395 1180h1.25M1312 1219h1.25M1321 1219h1.25M1336 1214h1.25M1325 1224h1.25M1326 1217h1.25M1403 1178h1.25M1308 1225h1.25M1444 1153h1.25M1424 1164h1.25M1402 1176h1.25M1311 1233h1.25M1405 1176h1.25M1462 1141h1.25M1439 1152h1.25M1320 1228h1.25M1413 1171h1.25M1317 1236h1.25M1451 1145h1.25M1437 1155h1.25M1401 1178h1.25M1329 1224h1.25M1420 1167h1.25M1319 1226h1.25M1387 1186h1.25M1409 1172h1.25M1306 1224h1.25M1476 1128h1.25M1420 1167h1.25M1311 1239h1.25M1426 1163h1.25M1388 1183h1.25M1450 1146h1.25M1329 1228h1.25M1307 1224h1.25M1305 1227h1.25M1317 1235h1.25M1411 1172h1.25M1409 1173h1.25M1311 1241h1.25M1314 1224h1.25M1390 1188h1.25M1443 1153h1.25M1402 1181h1.25M1323 1232h1.25M1321 1217h1.25M1324 1226h1.25M1317 1230h1.25M1423 1164h1.25M1423 1166h1.25M1314 1224h1.25M1454 1147h1.25M1437 1156h1.25M1325 1224h1.25M1395 1184h1.25M1411 1170h1.25M1482 1124h1.25M1437 1157h1.25M1389 1187h1.25M1418 1165h1.25M1320 1226h1.25M1416 1168h1.25M1430 1162h1.25M1466 1134h1.25M1409 1176h1.25M1305 1243h1.25M1310 1233h1.25M1313 1224h1.25M1419 1165h1.25M1418 1168h1.25M1324 1219h1.25M1439 1155h1.25M1326 1217h1.25M1320 1228h1.25M1342 1217h1.25M1326 1216h1.25M1454 1147h1.25M1399 1181h1.25M1418 1166h1.25M1433 1158h1.25M1460 1141h1.25M1392 1186h1.25M1459 1144h1.25M1309 1232h1.25M1449 1151h1.25M1384 1185h1.25M1321 1224h1.25M1420 1167h1.25M1419 1169h1.25M1424 1164h1.25M1333 1218h1.25M1443 1152h1.25M1464 1138h1.25M1315 1230h1.25M1406 1172h1.25M1426 1163h1.25M1416 1168h1.25M1326 1228h1.25M1452 1146h1.25M1415 1168h1.25M1401 1180h1.25M1334 1221h1.25M1415 1169h1.25M1437 1155h1.25M1425 1164h1.25M1333 1216h1.25M1315 1225h1.25M1321 1226h1.25M1302 1229h1.25M1434 1154h1.25M1446 1150h1.25M1424 1163h1.25M1415 1169h1.25M1411 1174h1.25M1336 1217h1.25M1325 1221h1.25M1321 1221h1.25M1406 1176h1.25M1461 1139h1.25M1325 1230h1.25M1329 1233h1.25M1303 1239h1.25M1410 1175h1.25M1315 1230h1.25M1326 1221h1.25M1386 1187h1.25M1439 1157h1.25M1341 1213h1.25M1325 1230h1.25M1313 1232h1.25M1327 1226h1.25M1468 1133h1.25M1323 1224h1.25M1449 1145h1.25M1315 1228h1.25M1304 1237h1.25M1400 1182h1.25M1320 1230h1.25M1442 1151h1.25M1395 1183h1.25M1328 1214h1.25M1307 1235h1.25M1346 1211h1.25M1381 1191h1.25M1304 1225h1.25M1426 1164h1.25M1417 1166h1.25M1380 1189h1.25M1422 1164h1.25M1320 1232h1.25M1384 1186h1.25M1450 1148h1.25M1324 1224h1.25M1324 1217h1.25M1305 1233h1.25M1438 1156h1.25M1431 1160h1.25M1445 1153h1.25M1438 1155h1.25M1385 1189h1.25M1317 1218h1.25M1336 1215h1.25M1325 1235h1.25M1410 1172h1.25M1412 1171h1.25M1393 1184h1.25M1423 1161h1.25M1462 1141h1.25M1442 1153h1.25M1313 1229h1.25M1437 1155h1.25M1312 1241h1.25M1313 1227h1.25M1312 1232h1.25M1336 1215h1.25M1328 1216h1.25M1482 1125h1.25M1415 1169h1.25M1405 1177h1.25M1324 1222h1.25M1308 1223h1.25M1445 1152h1.25M1310 1239h1.25M1468 1136h1.25M1431 1159h1.25M1321 1214h1.25M1449 1149h1.25M1441 1155h1.25M1389 1182h1.25M1333 1212h1.25M1326 1229h1.25M1340 1220h1.25M1446 1152h1.25M1460 1140h1.25M1315 1220h1.25M1410 1172h1.25M1348 1210h1.25M1403 1177h1.25M1446 1148h1.25M1315 1219h1.25M1450 1145h1.25M1411 1172h1.25M1321 1234h1.25M1308 1233h1.25M1446 1149h1.25M1458 1143h1.25M1310 1243h1.25M1428 1161h1.25M1317 1227h1.25M1436 1158h1.25M1415 1172h1.25M1326 1224h1.25M1443 1153h1.25M1323 1222h1.25M1311 1224h1.25M1308 1222h1.25M1335 1224h1.25M1304 1239h1.25M1462 1139h1.25M1308 1240h1.25M1309 1233h1.25M1327 1226h1.25M1414 1173h1.25M1392 1184h1.25M1319 1229h1.25M1472 1134h1.25M1338 1218h1.25M1466 1135h1.25M1441 1153h1.25M1441 1153h1.25M1321 1230h1.25M1434 1157h1.25M1430 1161h1.25M1302 1224h1.25M1451 1145h1.25M1314 1217h1.25M1317 1231h1.25M1447 1147h1.25M1412 1170h1.25M1462 1138h1.25M1346 1209h1.25M1444 1150h1.25M1433 1158h1.25M1301 1232h1.25M1433 1159h1.25M1437 1157h1.25M1433 1157h1.25M1415 1170h1.25M1454 1144h1.25M1446 1148h1.25M1399 1181h1.25M1432 1161h1.25M1398 1181h1.25M1320 1224h1.25M1453 1145h1.25M1314 1230h1.25M1461 1139h1.25M1316 1216h1.25M1413 1172h1.25M1412 1169h1.25M1334 1217h1.25M1413 1174h1.25M1304 1227h1.25M1330 1228h1.25M1316 1220h1.25M1412 1172h1.25M1404 1174h1.25M1483 1123h1.25M1306 1227h1.25M1316 1236h1.25M1331 1213h1.25M1439 1152h1.25M1426 1162h1.25M1316 1238h1.25M1393 1182h1.25M1441 1150h1.25M1457 1141h1.25M1303 1234h1.25M1316 1225h1.25M1313 1234h1.25M1324 1216h1.25M1330 1213h1.25M1438 1157h1.25M1406 1178h1.25M1423 1165h1.25M1327 1216h1.25M1305 1223h1.25M1325 1220h1.25M1311 1232h1.25M1338 1220h1.25M1302 1232h1.25M1382 1188h1.25M1398 1181h1.25M1446 1149h1.25M1437 1157h1.25M1323 1226h1.25M1385 1185h1.25M1310 1225h1.25M1335 1222h1.25M1305 1234h1.25M1330 1226h1.25M1321 1231h1.25M1468 1134h1.25M1305 1245h1.25M1388 1189h1.25M1436 1159h1.25M1470 1132h1.25M1301 1239h1.25M1332 1228h1.25M1449 1147h1.25M1327 1231h1.25M1312 1235h1.25M1306 1230h1.25M1314 1236h1.25M1441 1152h1.25M1412 1168h1.25M1431 1162h1.25M1394 1184h1.25M1302 1245h1.25M1336 1223h1.25M1346 1210h1.25M1321 1221h1.25M1430 1161h1.25M1399 1178h1.25M1320 1224h1.25M1312 1230h1.25M1308 1232h1.25M1319 1223h1.25M1302 1225h1.25M1429 1161h1.25M1386 1187h1.25M1313 1219h1.25M1330 1225h1.25M1310 1231h1.25M1337 1216h1.25M1413 1172h1.25M1399 1179h1.25M1405 1178h1.25M1331 1215h1.25M1445 1148h1.25M1431 1159h1.25M1318 1233h1.25M1307 1222h1.25M1323 1237h1.25M1443 1150h1.25M1332 1214h1.25M1426 1163h1.25M1334 1213h1.25M1347 1211h1.25M1335 1226h1.25M1330 1228h1.25M1319 1226h1.25M1435 1159h1.25M1428 1164h1.25M1328 1230h1.25M1311 1229h1.25M1319 1218h1.25M1302 1225h1.25M1390 1183h1.25M1415 1173h1.25M1443 1154h1.25M1402 1176h1.25M1381 1188h1.25M1302 1238h1.25M1407 1174h1.25M1421 1166h1.25M1397 1184h1.25M1440 1151h1.25M1303 1233h1.25M1427 1161h1.25M1305 1247h1.25M1340 1219h1.25M1389 1185h1.25M1425 1166h1.25M1321 1221h1.25M1330 1231h1.25M1325 1217h1.25M1442 1152h1.25M1303 1244h1.25" stroke="#fa0808" stroke-width="1.25" fill="none" opacity="0.85"/>
<polygon points="1302.7,1235.2 1316.3,1230.1 1331.6,1220.6 1341.4,1213.8 1340.9,1212.9 1330.0,1218.0 1314.4,1226.5 1302.2,1234.3" fill="#fa0808" opacity="0.35"/>
<polygon points="1334.7,1131.2 1344.5,1133.0 1341.4,1149.7 1358.4,1152.3 1329.5,1184.0 1313.3,1143.8 1331.6,1147.7" fill="#fd2005"/>
<path d="M1287.5 1014.4H1299.0M1292.5 1056.7H1299.0M1292.5 1046.1H1299.0M1292.5 1038.5H1299.0M1292.5 1032.6H1299.0M1292.5 1027.8H1299.0M1292.5 1023.8H1299.0M1292.5 1020.3H1299.0M1292.5 1017.2H1299.0M1287.5 1074.9H1299.0M1292.5 1117.2H1299.0M1292.5 1106.6H1299.0M1292.5 1099.0H1299.0M1292.5 1093.2H1299.0M1292.5 1088.4H1299.0M1292.5 1084.3H1299.0M1292.5 1080.8H1299.0M1292.5 1077.7H1299.0M1287.5 1135.5H1299.0M1292.5 1177.8H1299.0M1292.5 1167.1H1299.0M1292.5 1159.6H1299.0M1292.5 1153.7H1299.0M1292.5 1148.9H1299.0M1292.5 1144.8H1299.0M1292.5 1141.3H1299.0M1292.5 1138.2H1299.0M1287.5 1196.0H1299.0M1292.5 1238.3H1299.0M1292.5 1227.7H1299.0M1292.5 1220.1H1299.0M1292.5 1214.2H1299.0M1292.5 1209.4H1299.0M1292.5 1205.4H1299.0M1292.5 1201.9H1299.0M1292.5 1198.8H1299.0" stroke="#2a2a2a" stroke-width="1.3" fill="none"/>
<path d="M1322.5 1256.0v5.5M1336.3 1256.0v5.5M1346.1 1256.0v5.5M1353.7 1256.0v5.5M1359.9 1256.0v5.5M1365.1 1256.0v5.5M1369.6 1256.0v5.5M1373.6 1256.0v5.5M1400.7 1256.0v5.5M1414.5 1256.0v5.5M1424.3 1256.0v5.5M1431.9 1256.0v5.5M1438.1 1256.0v5.5M1443.3 1256.0v5.5M1447.8 1256.0v5.5M1451.8 1256.0v5.5M1478.9 1256.0v5.5M1492.7 1256.0v5.5M1502.5 1256.0v5.5M1510.1 1256.0v5.5M1516.3 1256.0v5.5M1521.5 1256.0v5.5M1526.0 1256.0v5.5M1530.0 1256.0v5.5M1557.1 1256.0v5.5M1570.9 1256.0v5.5M1580.7 1256.0v5.5M1588.3 1256.0v5.5M1594.5 1256.0v5.5M1599.7 1256.0v5.5M1604.2 1256.0v5.5M1608.2 1256.0v5.5" stroke="#111" stroke-width="4.1" fill="none"/>
<path d="M1377.2 1256.0v9.5M1455.4 1256.0v9.5M1533.6 1256.0v9.5M1611.8 1256.0v9.5" stroke="#111" stroke-width="4.1" fill="none"/>
<path d="M1299.0 1014.4H1611.8V1256.0M1454.5 1014.4V1256.0" stroke="#1a1a1a" stroke-width="1.4" fill="none"/>
<path d="M1299.0 1013.8V1256.0" stroke="#111" stroke-width="1.8" fill="none"/>
<path d="M1298.1 1256.0H1612.5" stroke="#111" stroke-width="2" fill="none"/>
<text x="1285.5" y="1203.7" font-size="16.2" font-weight="bold" text-anchor="end" fill="#1a1a1a">10<tspan font-size="12.5" font-weight="normal" dy="-6.3">0</tspan></text>
<text transform="translate(1369.0 1276.2) scale(.87 1)" font-size="16.5" font-weight="bold" fill="#1a1a1a">10<tspan font-size="13" font-weight="normal" dy="-3.6">0</tspan></text>
<text x="1285.5" y="1143.2" font-size="16.2" font-weight="bold" text-anchor="end" fill="#1a1a1a">10<tspan font-size="12.5" font-weight="normal" dy="-6.3">1</tspan></text>
<text transform="translate(1447.2 1276.2) scale(.87 1)" font-size="16.5" font-weight="bold" fill="#1a1a1a">10<tspan font-size="13" font-weight="normal" dy="-3.6">1</tspan></text>
<text x="1285.5" y="1082.6" font-size="16.2" font-weight="bold" text-anchor="end" fill="#1a1a1a">10<tspan font-size="12.5" font-weight="normal" dy="-6.3">2</tspan></text>
<text transform="translate(1525.4 1276.2) scale(.87 1)" font-size="16.5" font-weight="bold" fill="#1a1a1a">10<tspan font-size="13" font-weight="normal" dy="-3.6">2</tspan></text>
<text x="1285.5" y="1022.1" font-size="16.2" font-weight="bold" text-anchor="end" fill="#1a1a1a">10<tspan font-size="12.5" font-weight="normal" dy="-6.3">3</tspan></text>
<text transform="translate(1603.6 1276.2) scale(.87 1)" font-size="16.5" font-weight="bold" fill="#1a1a1a">10<tspan font-size="13" font-weight="normal" dy="-3.6">3</tspan></text>
<text x="1457.8" y="1309.0" font-size="17.5" font-weight="bold" text-anchor="middle" fill="#1a1a1a">DCF-DA 525nm</text>
<text transform="translate(1238.0 1137.2) rotate(-90)" font-size="17" font-weight="bold" text-anchor="middle" fill="#1a1a1a">FL3 log</text>
<text x="1298.9" y="1037.4" font-size="18.5" font-weight="bold" fill="#1a1a1a">C1</text>
<text x="1304.2" y="1061.4" font-size="19.2" font-weight="bold" fill="#1a1a1a" xml:space="preserve">91.3%</text>
<text x="1454.3" y="1037.4" font-size="18.5" font-weight="bold" fill="#1a1a1a">C2</text>
<text x="1459.9" y="1061.4" font-size="19.2" font-weight="bold" fill="#1a1a1a" xml:space="preserve"> 8.1%</text>
<text x="1442.0" y="995.0" font-size="23.4" text-anchor="middle" xml:space="preserve"></text>
</g>
<text x="900.8" y="995" font-size="23" xml:space="preserve">10% FBS + H<tspan font-size="22" dy="7.5">2</tspan><tspan dy="-7.5">O</tspan><tspan font-size="22" dy="7.5">2</tspan><tspan dy="-7.5">  100 μM</tspan></text>
<text x="1251" y="995" font-size="23.4" xml:space="preserve">10% FBS + H<tspan font-size="23.4" dy="7.5">2</tspan><tspan dy="-7.5">O</tspan><tspan font-size="23" dy="7.5" dx="2">2</tspan><tspan dy="-7.5" dx="2">+TNF-α+BID-1870</tspan></text>
</g>
<g id="hist">
<rect x="1735.6" y="922.9" width="340.6" height="338.9" fill="#fff" stroke="#000" stroke-width="1.5"/>
<path d="M1728.6 1260.8H1735.6M1732.1 1250.2H1735.6M1732.1 1239.6H1735.6M1732.1 1229.0H1735.6M1732.1 1218.4H1735.6M1732.1 1207.8H1735.6M1732.1 1197.3H1735.6M1732.1 1186.7H1735.6M1732.1 1176.1H1735.6M1732.1 1165.5H1735.6M1728.6 1154.9H1735.6M1732.1 1144.3H1735.6M1732.1 1133.7H1735.6M1732.1 1123.1H1735.6M1732.1 1112.5H1735.6M1732.1 1102.0H1735.6M1732.1 1091.4H1735.6M1732.1 1080.8H1735.6M1732.1 1070.2H1735.6M1732.1 1059.6H1735.6M1728.6 1049.0H1735.6M1732.1 1038.4H1735.6M1732.1 1027.8H1735.6M1732.1 1017.2H1735.6M1732.1 1006.6H1735.6M1732.1 996.0H1735.6M1732.1 985.5H1735.6M1732.1 974.9H1735.6M1732.1 964.3H1735.6M1732.1 953.7H1735.6M1728.6 943.1H1735.6" stroke="#000" stroke-width="1.3" fill="none"/>
<text x="1719.6" y="1264.6" font-size="11.5" font-weight="bold" text-anchor="end" fill="#222">0</text>
<text x="1719.6" y="1158.7" font-size="11.5" font-weight="bold" text-anchor="end" fill="#222">100</text>
<text x="1719.6" y="1052.8" font-size="11.5" font-weight="bold" text-anchor="end" fill="#222">200</text>
<text x="1719.6" y="946.9" font-size="11.5" font-weight="bold" text-anchor="end" fill="#222">300</text>
<path d="M1736.0 1261.8v9M1752.9 1261.8v4.5M1762.8 1261.8v4.5M1769.8 1261.8v4.5M1775.2 1261.8v4.5M1779.7 1261.8v4.5M1783.5 1261.8v4.5M1786.7 1261.8v4.5M1789.6 1261.8v4.5M1792.2 1261.8v9M1809.1 1261.8v4.5M1818.9 1261.8v4.5M1826.0 1261.8v4.5M1831.4 1261.8v4.5M1835.8 1261.8v4.5M1839.6 1261.8v4.5M1842.9 1261.8v4.5M1845.7 1261.8v4.5M1848.3 1261.8v9M1865.2 1261.8v4.5M1875.1 1261.8v4.5M1882.1 1261.8v4.5M1887.5 1261.8v4.5M1892.0 1261.8v4.5M1895.8 1261.8v4.5M1899.0 1261.8v4.5M1901.9 1261.8v4.5M1904.5 1261.8v9M1921.4 1261.8v4.5M1931.2 1261.8v4.5M1938.3 1261.8v4.5M1943.7 1261.8v4.5M1948.1 1261.8v4.5M1951.9 1261.8v4.5M1955.2 1261.8v4.5M1958.0 1261.8v4.5M1960.6 1261.8v9M1977.5 1261.8v4.5M1987.4 1261.8v4.5M1994.4 1261.8v4.5M1999.8 1261.8v4.5M2004.3 1261.8v4.5M2008.1 1261.8v4.5M2011.3 1261.8v4.5M2014.2 1261.8v4.5M2016.8 1261.8v9M2033.7 1261.8v4.5M2043.5 1261.8v4.5M2050.6 1261.8v4.5M2056.0 1261.8v4.5M2060.4 1261.8v4.5M2064.2 1261.8v4.5M2067.5 1261.8v4.5M2070.3 1261.8v4.5M2072.9 1261.8v9" stroke="#000" stroke-width="1.3" fill="none"/>
<text x="1743.0" y="1292.8" font-size="12" font-weight="bold" fill="#333">10<tspan font-size="9.5" dy="-5.5">0</tspan></text>
<text x="1799.2" y="1292.8" font-size="12" font-weight="bold" fill="#333">10<tspan font-size="9.5" dy="-5.5">1</tspan></text>
<text x="1855.3" y="1292.8" font-size="12" font-weight="bold" fill="#333">10<tspan font-size="9.5" dy="-5.5">2</tspan></text>
<text x="1911.5" y="1292.8" font-size="12" font-weight="bold" fill="#333">10<tspan font-size="9.5" dy="-5.5">3</tspan></text>
<text x="1967.6" y="1292.8" font-size="12" font-weight="bold" fill="#333">10<tspan font-size="9.5" dy="-5.5">4</tspan></text>
<text x="2023.8" y="1292.8" font-size="12" font-weight="bold" fill="#333">10<tspan font-size="9.5" dy="-5.5">5</tspan></text>
<text x="2056.9" y="1292.8" font-size="12" font-weight="bold" fill="#333">10<tspan font-size="9.5" dy="-5.5">6</tspan></text>
<path d="M1840.1 1261.4 L1848.9 1255.9 L1856.4 1243.4 L1861.4 1226.3 L1865.7 1220.8 L1871.4 1223.8 L1879.0 1227.1 L1889.0 1224.6 L1894.0 1208.3 L1899.0 1185.7 L1904.0 1158.1 L1909.0 1130.6 L1914.1 1115.5 L1919.1 1095.5 L1924.1 1075.4 L1927.8 1065.4 L1932.9 1059.1 L1936.6 1057.9 L1939.1 1046.6 L1942.9 1052.9 L1946.6 1062.9 L1950.4 1075.4 L1954.2 1110.5 L1957.9 1143.1 L1962.9 1160.6 L1967.9 1188.2 L1973.0 1213.3 L1978.0 1230.8 L1984.2 1245.9 L1991.8 1255.9 L2000.5 1260.4 L2008.1 1261.4" stroke="#21c2f1" stroke-width="2.2" fill="none" stroke-linejoin="round"/>
<path d="M1832.6 1261.4 L1841.4 1255.9 L1850.1 1243.4 L1856.4 1223.3 L1861.4 1208.3 L1867.2 1204.5 L1871.4 1209.5 L1877.2 1218.3 L1884.0 1212.0 L1889.0 1195.7 L1894.0 1178.2 L1899.0 1153.1 L1904.0 1125.5 L1907.8 1118.0 L1911.5 1095.5 L1915.3 1060.4 L1917.8 1037.8 L1920.3 1035.3 L1922.3 1042.8 L1925.3 1034.1 L1927.8 1042.8 L1930.3 1041.6 L1934.1 1047.8 L1937.4 1060.4 L1940.4 1082.9 L1944.1 1098.0 L1947.9 1133.1 L1951.7 1168.2 L1955.4 1193.2 L1959.2 1213.3 L1962.9 1230.8 L1967.9 1239.6 L1973.0 1248.4 L1980.5 1257.2 L1990.5 1261.4" stroke="#0a0a0a" stroke-width="2.2" fill="none" stroke-linejoin="round"/>
<path d="M1825.1 1261.4 L1832.6 1257.2 L1840.1 1240.9 L1846.4 1208.3 L1851.4 1145.6 L1855.1 1070.4 L1858.9 995.2 L1862.7 950.6 L1864.7 970.1 L1867.2 990.2 L1870.2 1015.3 L1872.7 1070.4 L1875.2 1120.5 L1879.0 1160.6 L1884.0 1200.8 L1889.0 1223.3 L1894.0 1232.1 L1900.3 1238.9 L1905.3 1233.3 L1909.0 1232.1 L1912.8 1224.6 L1916.6 1208.3 L1920.3 1195.7 L1924.1 1188.2 L1927.8 1173.2 L1932.9 1165.7 L1936.6 1161.9 L1940.4 1164.4 L1944.1 1156.9 L1946.6 1158.1 L1949.9 1154.4 L1952.4 1161.9 L1957.4 1159.4 L1960.4 1170.7 L1965.4 1183.2 L1970.5 1203.3 L1975.5 1225.8 L1980.5 1243.4 L1986.7 1255.9 L1995.5 1261.4" stroke="#e8141a" stroke-width="2.2" fill="none" stroke-linejoin="round"/>
<path d="M1887.7 947.3H1919.5" stroke="#000" stroke-width="2.8"/>
<path d="M1887.7 969.4H1919" stroke="#21b4e8" stroke-width="2.8"/>
<path d="M1887.7 991.4H1919" stroke="#e8141a" stroke-width="2.8"/>
<text x="1929.5" y="953.8" font-size="21.2">Control</text>
<text x="1932" y="975" font-size="23">H<tspan font-size="18" dy="6">2</tspan><tspan dy="-6">O</tspan><tspan font-size="18" dy="6">2</tspan></text>
<text x="1932" y="997.7" font-size="23">H<tspan font-size="18" dy="6">2</tspan><tspan dy="-6">O</tspan><tspan font-size="18" dy="6">2</tspan><tspan dy="-6" font-size="21.5">+TNF-α</tspan></text>
<text x="1961.5" y="1022.8" font-size="20.5">+ BID-1870</text>
<text transform="translate(1673.5 1105.5) rotate(-90)" font-size="23.5" text-anchor="middle">Cell count</text>
<text x="1902.0" y="1343.0" font-size="23.3" text-anchor="middle">DCF-DA (FL-1)</text>
</g>
</svg></body></html>
